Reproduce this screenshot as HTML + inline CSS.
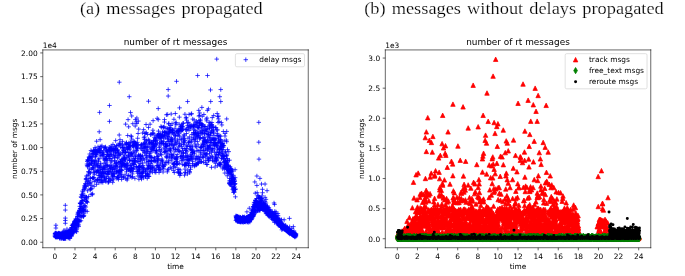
<!DOCTYPE html>
<html><head><meta charset="utf-8"><title>figure</title>
<style>html,body{margin:0;padding:0;background:#fff;}body{width:685px;height:276px;overflow:hidden;}svg{display:block}</style>
</head><body>
<svg width="685" height="276" viewBox="0 0 685 276">
<rect width="685" height="276" fill="#fff"/>
<g font-family="'Liberation Serif', serif" font-size="17" fill="#000" stroke="#fff" stroke-width="0.2" word-spacing="1.4">
<text x="79.9" y="13.6" textLength="182.8" lengthAdjust="spacingAndGlyphs">(a) messages propagated</text>
<text x="364.2" y="13.6" textLength="299.6" lengthAdjust="spacingAndGlyphs">(b) messages without delays propagated</text>
</g>
<svg x="0" y="19.1" width="342.5" height="256.9" viewBox="0 0 460.8 345.6"><defs><style type="text/css">*{stroke-linejoin: round; stroke-linecap: butt}</style></defs><g id="figure_1"><g id="patch_1"><path d="M 0 345.6  L 460.8 345.6  L 460.8 0  L 0 0  z " style="fill: #ffffff" /></g><g id="axes_1"><g id="patch_2"><path d="M 57.6 307.584  L 414.72 307.584  L 414.72 41.472  L 57.6 41.472  z " style="fill: #ffffff" /></g><g id="matplotlib.axis_1"><g id="xtick_1"><g id="line2d_1"><g><path d="M73.8 307.6v3.5" style="stroke: #000000; stroke-width: 0.8" /></g></g><g id="text_1"><text style="font-size: 10px; font-family: 'DejaVu Sans', sans-serif; text-anchor: middle" x="73.832727" y="322.182437" transform="rotate(-0 73.832727 322.182437)">0</text></g></g><g id="xtick_2"><g id="line2d_2"><g><path d="M100.9 307.6v3.5" style="stroke: #000000; stroke-width: 0.8" /></g></g><g id="text_2"><text style="font-size: 10px; font-family: 'DejaVu Sans', sans-serif; text-anchor: middle" x="100.887273" y="322.182437" transform="rotate(-0 100.887273 322.182437)">2</text></g></g><g id="xtick_3"><g id="line2d_3"><g><path d="M127.9 307.6v3.5" style="stroke: #000000; stroke-width: 0.8" /></g></g><g id="text_3"><text style="font-size: 10px; font-family: 'DejaVu Sans', sans-serif; text-anchor: middle" x="127.941818" y="322.182437" transform="rotate(-0 127.941818 322.182437)">4</text></g></g><g id="xtick_4"><g id="line2d_4"><g><path d="M155 307.6v3.5" style="stroke: #000000; stroke-width: 0.8" /></g></g><g id="text_4"><text style="font-size: 10px; font-family: 'DejaVu Sans', sans-serif; text-anchor: middle" x="154.996364" y="322.182437" transform="rotate(-0 154.996364 322.182437)">6</text></g></g><g id="xtick_5"><g id="line2d_5"><g><path d="M182.1 307.6v3.5" style="stroke: #000000; stroke-width: 0.8" /></g></g><g id="text_5"><text style="font-size: 10px; font-family: 'DejaVu Sans', sans-serif; text-anchor: middle" x="182.050909" y="322.182437" transform="rotate(-0 182.050909 322.182437)">8</text></g></g><g id="xtick_6"><g id="line2d_6"><g><path d="M209.1 307.6v3.5" style="stroke: #000000; stroke-width: 0.8" /></g></g><g id="text_6"><text style="font-size: 10px; font-family: 'DejaVu Sans', sans-serif; text-anchor: middle" x="209.105455" y="322.182437" transform="rotate(-0 209.105455 322.182437)">10</text></g></g><g id="xtick_7"><g id="line2d_7"><g><path d="M236.2 307.6v3.5" style="stroke: #000000; stroke-width: 0.8" /></g></g><g id="text_7"><text style="font-size: 10px; font-family: 'DejaVu Sans', sans-serif; text-anchor: middle" x="236.16" y="322.182437" transform="rotate(-0 236.16 322.182437)">12</text></g></g><g id="xtick_8"><g id="line2d_8"><g><path d="M263.2 307.6v3.5" style="stroke: #000000; stroke-width: 0.8" /></g></g><g id="text_8"><text style="font-size: 10px; font-family: 'DejaVu Sans', sans-serif; text-anchor: middle" x="263.214545" y="322.182437" transform="rotate(-0 263.214545 322.182437)">14</text></g></g><g id="xtick_9"><g id="line2d_9"><g><path d="M290.3 307.6v3.5" style="stroke: #000000; stroke-width: 0.8" /></g></g><g id="text_9"><text style="font-size: 10px; font-family: 'DejaVu Sans', sans-serif; text-anchor: middle" x="290.269091" y="322.182437" transform="rotate(-0 290.269091 322.182437)">16</text></g></g><g id="xtick_10"><g id="line2d_10"><g><path d="M317.3 307.6v3.5" style="stroke: #000000; stroke-width: 0.8" /></g></g><g id="text_10"><text style="font-size: 10px; font-family: 'DejaVu Sans', sans-serif; text-anchor: middle" x="317.323636" y="322.182437" transform="rotate(-0 317.323636 322.182437)">18</text></g></g><g id="xtick_11"><g id="line2d_11"><g><path d="M344.4 307.6v3.5" style="stroke: #000000; stroke-width: 0.8" /></g></g><g id="text_11"><text style="font-size: 10px; font-family: 'DejaVu Sans', sans-serif; text-anchor: middle" x="344.378182" y="322.182437" transform="rotate(-0 344.378182 322.182437)">20</text></g></g><g id="xtick_12"><g id="line2d_12"><g><path d="M371.4 307.6v3.5" style="stroke: #000000; stroke-width: 0.8" /></g></g><g id="text_12"><text style="font-size: 10px; font-family: 'DejaVu Sans', sans-serif; text-anchor: middle" x="371.432727" y="322.182437" transform="rotate(-0 371.432727 322.182437)">22</text></g></g><g id="xtick_13"><g id="line2d_13"><g><path d="M398.5 307.6v3.5" style="stroke: #000000; stroke-width: 0.8" /></g></g><g id="text_13"><text style="font-size: 10px; font-family: 'DejaVu Sans', sans-serif; text-anchor: middle" x="398.487273" y="322.182437" transform="rotate(-0 398.487273 322.182437)">24</text></g></g><g id="text_14"><text style="font-size: 10px; font-family: 'DejaVu Sans', sans-serif; text-anchor: middle" x="236.16" y="335.860562" transform="rotate(-0 236.16 335.860562)">time</text></g></g><g id="matplotlib.axis_2"><g id="ytick_1"><g id="line2d_14"><g><path d="M57.6 300.2h-3.5" style="stroke: #000000; stroke-width: 0.8" /></g></g><g id="text_15"><text style="font-size: 10px; font-family: 'DejaVu Sans', sans-serif; text-anchor: end" x="50.6" y="303.998292" transform="rotate(-0 50.6 303.998292)">0.00</text></g></g><g id="ytick_2"><g id="line2d_15"><g><path d="M57.6 268.4h-3.5" style="stroke: #000000; stroke-width: 0.8" /></g></g><g id="text_16"><text style="font-size: 10px; font-family: 'DejaVu Sans', sans-serif; text-anchor: end" x="50.6" y="272.166713" transform="rotate(-0 50.6 272.166713)">0.25</text></g></g><g id="ytick_3"><g id="line2d_16"><g><path d="M57.6 236.5h-3.5" style="stroke: #000000; stroke-width: 0.8" /></g></g><g id="text_17"><text style="font-size: 10px; font-family: 'DejaVu Sans', sans-serif; text-anchor: end" x="50.6" y="240.335135" transform="rotate(-0 50.6 240.335135)">0.50</text></g></g><g id="ytick_4"><g id="line2d_17"><g><path d="M57.6 204.7h-3.5" style="stroke: #000000; stroke-width: 0.8" /></g></g><g id="text_18"><text style="font-size: 10px; font-family: 'DejaVu Sans', sans-serif; text-anchor: end" x="50.6" y="208.503556" transform="rotate(-0 50.6 208.503556)">0.75</text></g></g><g id="ytick_5"><g id="line2d_18"><g><path d="M57.6 172.9h-3.5" style="stroke: #000000; stroke-width: 0.8" /></g></g><g id="text_19"><text style="font-size: 10px; font-family: 'DejaVu Sans', sans-serif; text-anchor: end" x="50.6" y="176.671977" transform="rotate(-0 50.6 176.671977)">1.00</text></g></g><g id="ytick_6"><g id="line2d_19"><g><path d="M57.6 141h-3.5" style="stroke: #000000; stroke-width: 0.8" /></g></g><g id="text_20"><text style="font-size: 10px; font-family: 'DejaVu Sans', sans-serif; text-anchor: end" x="50.6" y="144.840398" transform="rotate(-0 50.6 144.840398)">1.25</text></g></g><g id="ytick_7"><g id="line2d_20"><g><path d="M57.6 109.2h-3.5" style="stroke: #000000; stroke-width: 0.8" /></g></g><g id="text_21"><text style="font-size: 10px; font-family: 'DejaVu Sans', sans-serif; text-anchor: end" x="50.6" y="113.008819" transform="rotate(-0 50.6 113.008819)">1.50</text></g></g><g id="ytick_8"><g id="line2d_21"><g><path d="M57.6 77.4h-3.5" style="stroke: #000000; stroke-width: 0.8" /></g></g><g id="text_22"><text style="font-size: 10px; font-family: 'DejaVu Sans', sans-serif; text-anchor: end" x="50.6" y="81.17724" transform="rotate(-0 50.6 81.17724)">1.75</text></g></g><g id="ytick_9"><g id="line2d_22"><g><path d="M57.6 45.5h-3.5" style="stroke: #000000; stroke-width: 0.8" /></g></g><g id="text_23"><text style="font-size: 10px; font-family: 'DejaVu Sans', sans-serif; text-anchor: end" x="50.6" y="49.345661" transform="rotate(-0 50.6 49.345661)">2.00</text></g></g><g id="text_24"><text style="font-size: 10px; font-family: 'DejaVu Sans', sans-serif; text-anchor: middle" x="22.254688" y="174.528" transform="rotate(-90 22.254688 174.528)">number of msgs</text></g><g id="text_25"><text style="font-size: 10px; font-family: 'DejaVu Sans', sans-serif; text-anchor: start" x="57.6" y="38.472" transform="rotate(-0 57.6 38.472)">1e4</text></g></g><g id="line2d_23"><g clip-path="url(#p02d3b5d28d)"><path d="M70.8 291.8h6m-3 3v-6M71 288.8h6m-3 3v-6M71.1 289.3h6m-3 3v-6M71.2 292.1h6m-3 3v-6M71.3 287.9h6m-3 3v-6M71.5 288.5h6m-3 3v-6M71.6 293.2h6m-3 3v-6M71.7 288.8h6m-3 3v-6M71.8 293.1h6m-3 3v-6M72 292.8h6m-3 3v-6M72.1 288h6m-3 3v-6M72.2 290.7h6m-3 3v-6M72.3 291h6m-3 3v-6M72.5 290.5h6m-3 3v-6M72.6 290.4h6m-3 3v-6M72.7 288.8h6m-3 3v-6M72.8 290.9h6m-3 3v-6M73 292.4h6m-3 3v-6M73.1 288.2h6m-3 3v-6M73.2 292h6m-3 3v-6M73.3 293.3h6m-3 3v-6M73.5 293.3h6m-3 3v-6M73.6 292.3h6m-3 3v-6M73.7 290.1h6m-3 3v-6M73.8 292.4h6m-3 3v-6M74 290.9h6m-3 3v-6M74.1 291.6h6m-3 3v-6M74.2 289.2h6m-3 3v-6M74.3 292.3h6m-3 3v-6M74.5 289.7h6m-3 3v-6M74.6 289.8h6m-3 3v-6M74.7 289.3h6m-3 3v-6M74.8 293.4h6m-3 3v-6M75 292.1h6m-3 3v-6M75.1 288.9h6m-3 3v-6M75.2 290h6m-3 3v-6M75.3 288.2h6m-3 3v-6M75.5 288.4h6m-3 3v-6M75.6 289.1h6m-3 3v-6M75.7 292.9h6m-3 3v-6M75.8 290.2h6m-3 3v-6M76 289.8h6m-3 3v-6M76.1 287.8h6m-3 3v-6M76.2 292.8h6m-3 3v-6M76.3 289h6m-3 3v-6M76.5 289h6m-3 3v-6M76.6 289.6h6m-3 3v-6M76.7 291.5h6m-3 3v-6M76.8 288.8h6m-3 3v-6M77 294.9h6m-3 3v-6M77.1 293.6h6m-3 3v-6M77.2 289.3h6m-3 3v-6M77.3 288.2h6m-3 3v-6M77.5 289.1h6m-3 3v-6M77.6 289.5h6m-3 3v-6M77.7 292.1h6m-3 3v-6M77.8 291.5h6m-3 3v-6M78 292h6m-3 3v-6M78.1 293.4h6m-3 3v-6M78.2 291.3h6m-3 3v-6M78.3 289.1h6m-3 3v-6M78.5 292.9h6m-3 3v-6M78.6 290.2h6m-3 3v-6M78.7 294.9h6m-3 3v-6M78.8 290.1h6m-3 3v-6M79 288.8h6m-3 3v-6M79.1 290.6h6m-3 3v-6M79.2 289.1h6m-3 3v-6M79.3 290.8h6m-3 3v-6M79.5 288.4h6m-3 3v-6M79.6 295.2h6m-3 3v-6M79.7 293.8h6m-3 3v-6M79.9 289h6m-3 3v-6M80 292.4h6m-3 3v-6M80.1 291.9h6m-3 3v-6M80.2 289.9h6m-3 3v-6M80.4 289.3h6m-3 3v-6M80.5 291.5h6m-3 3v-6M80.6 294.6h6m-3 3v-6M80.7 289.6h6m-3 3v-6M80.9 288.8h6m-3 3v-6M81 291.6h6m-3 3v-6M81.1 287.8h6m-3 3v-6M81.2 292.6h6m-3 3v-6M81.4 294.6h6m-3 3v-6M81.5 289.4h6m-3 3v-6M81.6 293.7h6m-3 3v-6M81.7 289.3h6m-3 3v-6M81.9 291.3h6m-3 3v-6M82 292.8h6m-3 3v-6M82.1 288.9h6m-3 3v-6M82.2 295.4h6m-3 3v-6M82.4 294.5h6m-3 3v-6M82.5 294.6h6m-3 3v-6M82.6 291.5h6m-3 3v-6M82.7 295.2h6m-3 3v-6M82.9 289.8h6m-3 3v-6M83 285.8h6m-3 3v-6M83.1 284.1h6m-3 3v-6M83.2 290.4h6m-3 3v-6M83.4 287.6h6m-3 3v-6M83.5 294.9h6m-3 3v-6M83.6 293.3h6m-3 3v-6M83.7 295.1h6m-3 3v-6M83.9 291.7h6m-3 3v-6M84 290h6m-3 3v-6M84.1 292.8h6m-3 3v-6M84.2 295.1h6m-3 3v-6M84.4 289.4h6m-3 3v-6M84.5 289.8h6m-3 3v-6M84.6 290.7h6m-3 3v-6M84.7 287.9h6m-3 3v-6M84.9 293.1h6m-3 3v-6M85 294.9h6m-3 3v-6M85.1 286.5h6m-3 3v-6M85.2 292.3h6m-3 3v-6M85.4 292.1h6m-3 3v-6M85.5 295.3h6m-3 3v-6M85.6 290.9h6m-3 3v-6M85.7 292.6h6m-3 3v-6M85.9 287.8h6m-3 3v-6M86 286.7h6m-3 3v-6M86.1 287.1h6m-3 3v-6M86.2 287.4h6m-3 3v-6M86.4 289.7h6m-3 3v-6M86.5 290.7h6m-3 3v-6M86.6 289h6m-3 3v-6M86.7 291.1h6m-3 3v-6M86.9 287.4h6m-3 3v-6M87 290.8h6m-3 3v-6M87.1 282.5h6m-3 3v-6M87.2 286.6h6m-3 3v-6M87.4 291h6m-3 3v-6M87.5 288.5h6m-3 3v-6M87.6 289.9h6m-3 3v-6M87.7 289.9h6m-3 3v-6M87.9 286.6h6m-3 3v-6M88 286.9h6m-3 3v-6M88.1 290.1h6m-3 3v-6M88.2 291h6m-3 3v-6M88.4 292.3h6m-3 3v-6M88.5 292.9h6m-3 3v-6M88.6 288.7h6m-3 3v-6M88.7 294.6h6m-3 3v-6M88.9 289.7h6m-3 3v-6M89 286.3h6m-3 3v-6M89.1 288.7h6m-3 3v-6M89.2 286.9h6m-3 3v-6M89.4 293.7h6m-3 3v-6M89.5 292.4h6m-3 3v-6M89.6 286h6m-3 3v-6M89.7 291.2h6m-3 3v-6M89.9 284.8h6m-3 3v-6M90 285.3h6m-3 3v-6M90.1 288.7h6m-3 3v-6M90.2 292.7h6m-3 3v-6M90.4 288h6m-3 3v-6M90.5 284.8h6m-3 3v-6M90.6 290.5h6m-3 3v-6M90.7 289.8h6m-3 3v-6M90.9 294.8h6m-3 3v-6M91 295.1h6m-3 3v-6M91.1 289.3h6m-3 3v-6M91.2 288.9h6m-3 3v-6M91.4 289.7h6m-3 3v-6M91.5 291.2h6m-3 3v-6M91.6 290.7h6m-3 3v-6M91.7 289.9h6m-3 3v-6M91.9 283.2h6m-3 3v-6M92 289h6m-3 3v-6M92.1 289h6m-3 3v-6M92.3 285.2h6m-3 3v-6M92.4 290.7h6m-3 3v-6M92.5 289.6h6m-3 3v-6M92.6 285.6h6m-3 3v-6M92.8 288.6h6m-3 3v-6M92.9 282.2h6m-3 3v-6M93 288.3h6m-3 3v-6M93.1 291.5h6m-3 3v-6M93.3 280.5h6m-3 3v-6M93.4 280.9h6m-3 3v-6M93.5 291.8h6m-3 3v-6M93.6 290.3h6m-3 3v-6M93.8 280.3h6m-3 3v-6M93.9 277.7h6m-3 3v-6M94 287.6h6m-3 3v-6M94.1 284.4h6m-3 3v-6M94.3 286.7h6m-3 3v-6M94.4 284.4h6m-3 3v-6M94.5 289.1h6m-3 3v-6M94.6 288h6m-3 3v-6M94.8 280.8h6m-3 3v-6M94.9 276.9h6m-3 3v-6M95 275.8h6m-3 3v-6M95.1 277.6h6m-3 3v-6M95.3 285.3h6m-3 3v-6M95.4 286.9h6m-3 3v-6M95.5 276.8h6m-3 3v-6M95.6 286.8h6m-3 3v-6M95.8 278h6m-3 3v-6M95.9 285.7h6m-3 3v-6M96 276.8h6m-3 3v-6M96.1 283.7h6m-3 3v-6M96.3 277.4h6m-3 3v-6M96.4 276h6m-3 3v-6M96.5 286.2h6m-3 3v-6M96.6 275.9h6m-3 3v-6M96.8 274.3h6m-3 3v-6M96.9 274.7h6m-3 3v-6M97 280.3h6m-3 3v-6M97.1 272.5h6m-3 3v-6M97.3 280.2h6m-3 3v-6M97.4 273.2h6m-3 3v-6M97.5 271.9h6m-3 3v-6M97.6 277.9h6m-3 3v-6M97.8 271.9h6m-3 3v-6M97.9 282h6m-3 3v-6M98 278.4h6m-3 3v-6M98.1 275.4h6m-3 3v-6M98.3 283.2h6m-3 3v-6M98.4 274.6h6m-3 3v-6M98.5 270.9h6m-3 3v-6M98.6 273.4h6m-3 3v-6M98.8 269h6m-3 3v-6M98.9 285.3h6m-3 3v-6M99 281.4h6m-3 3v-6M99.1 271.4h6m-3 3v-6M99.3 269h6m-3 3v-6M99.4 280h6m-3 3v-6M99.5 285.1h6m-3 3v-6M99.6 271.3h6m-3 3v-6M99.8 274.3h6m-3 3v-6M99.9 272h6m-3 3v-6M100 274.9h6m-3 3v-6M100.1 286.1h6m-3 3v-6M100.3 282.7h6m-3 3v-6M100.4 270.4h6m-3 3v-6M100.5 269.5h6m-3 3v-6M100.6 275.6h6m-3 3v-6M100.8 278.5h6m-3 3v-6M100.9 271.5h6m-3 3v-6M101 275.6h6m-3 3v-6M101.1 270.9h6m-3 3v-6M101.3 265.6h6m-3 3v-6M101.4 265.1h6m-3 3v-6M101.5 262.5h6m-3 3v-6M101.6 271.1h6m-3 3v-6M101.8 265.8h6m-3 3v-6M101.9 259.8h6m-3 3v-6M102 262.1h6m-3 3v-6M102.1 271.9h6m-3 3v-6M102.3 277.6h6m-3 3v-6M102.4 269.8h6m-3 3v-6M102.5 276.2h6m-3 3v-6M102.6 260.9h6m-3 3v-6M102.8 270.7h6m-3 3v-6M102.9 279.1h6m-3 3v-6M103 271.9h6m-3 3v-6M103.1 264.1h6m-3 3v-6M103.3 260.5h6m-3 3v-6M103.4 272.3h6m-3 3v-6M103.5 258.6h6m-3 3v-6M103.6 259.6h6m-3 3v-6M103.8 262h6m-3 3v-6M103.9 257.4h6m-3 3v-6M104 257h6m-3 3v-6M104.1 270.7h6m-3 3v-6M104.3 251.9h6m-3 3v-6M104.4 271.9h6m-3 3v-6M104.5 265h6m-3 3v-6M104.7 247.5h6m-3 3v-6M104.8 254.8h6m-3 3v-6M104.9 248.2h6m-3 3v-6M105 248h6m-3 3v-6M105.2 257.8h6m-3 3v-6M105.3 254.7h6m-3 3v-6M105.4 255.3h6m-3 3v-6M105.5 264.9h6m-3 3v-6M105.7 254.6h6m-3 3v-6M105.8 247.8h6m-3 3v-6M105.9 271.3h6m-3 3v-6M106 239.1h6m-3 3v-6M106.2 252h6m-3 3v-6M106.3 266.4h6m-3 3v-6M106.4 239.9h6m-3 3v-6M106.5 248h6m-3 3v-6M106.7 259.3h6m-3 3v-6M106.8 246.3h6m-3 3v-6M106.9 235.9h6m-3 3v-6M107 264.5h6m-3 3v-6M107.2 244h6m-3 3v-6M107.3 253.8h6m-3 3v-6M107.4 237.9h6m-3 3v-6M107.5 259.8h6m-3 3v-6M107.7 244.2h6m-3 3v-6M107.8 257.7h6m-3 3v-6M107.9 255.3h6m-3 3v-6M108 231.3h6m-3 3v-6M108.2 237.1h6m-3 3v-6M108.3 244.3h6m-3 3v-6M108.4 235h6m-3 3v-6M108.5 232.5h6m-3 3v-6M108.7 264.9h6m-3 3v-6M108.8 248.6h6m-3 3v-6M108.9 252.6h6m-3 3v-6M109 265.6h6m-3 3v-6M109.2 256.6h6m-3 3v-6M109.3 256.2h6m-3 3v-6M109.4 265.5h6m-3 3v-6M109.5 258h6m-3 3v-6M109.7 229.2h6m-3 3v-6M109.8 239.6h6m-3 3v-6M109.9 261.9h6m-3 3v-6M110 264.3h6m-3 3v-6M110.2 258.3h6m-3 3v-6M110.3 255.5h6m-3 3v-6M110.4 242.9h6m-3 3v-6M110.5 228.4h6m-3 3v-6M110.7 224.4h6m-3 3v-6M110.8 226.1h6m-3 3v-6M110.9 251.4h6m-3 3v-6M111 226.4h6m-3 3v-6M111.2 228.4h6m-3 3v-6M111.3 237.6h6m-3 3v-6M111.4 224.1h6m-3 3v-6M111.5 251h6m-3 3v-6M111.7 240.1h6m-3 3v-6M111.8 221.5h6m-3 3v-6M111.9 221.9h6m-3 3v-6M112 225h6m-3 3v-6M112.2 225.2h6m-3 3v-6M112.3 258.1h6m-3 3v-6M112.4 245.1h6m-3 3v-6M112.5 252.8h6m-3 3v-6M112.7 216h6m-3 3v-6M112.8 214.3h6m-3 3v-6M112.9 215.1h6m-3 3v-6M113 241.3h6m-3 3v-6M113.2 211.1h6m-3 3v-6M113.3 239.9h6m-3 3v-6M113.4 239.4h6m-3 3v-6M113.5 243.2h6m-3 3v-6M113.7 245.7h6m-3 3v-6M113.8 245.6h6m-3 3v-6M113.9 218.8h6m-3 3v-6M114 195h6m-3 3v-6M114.2 197h6m-3 3v-6M114.3 258.7h6m-3 3v-6M114.4 191.5h6m-3 3v-6M114.5 221.8h6m-3 3v-6M114.7 246.4h6m-3 3v-6M114.8 198.5h6m-3 3v-6M114.9 230.9h6m-3 3v-6M115 189.2h6m-3 3v-6M115.2 219h6m-3 3v-6M115.3 210.5h6m-3 3v-6M115.4 189.9h6m-3 3v-6M115.5 190h6m-3 3v-6M115.7 190.5h6m-3 3v-6M115.8 223.6h6m-3 3v-6M115.9 196.7h6m-3 3v-6M116 205.1h6m-3 3v-6M116.2 217h6m-3 3v-6M116.3 238.7h6m-3 3v-6M116.4 208.6h6m-3 3v-6M116.5 206.1h6m-3 3v-6M116.7 196.1h6m-3 3v-6M116.8 185.9h6m-3 3v-6M116.9 185.4h6m-3 3v-6M117.1 187h6m-3 3v-6M117.2 201.5h6m-3 3v-6M117.3 194.8h6m-3 3v-6M117.4 195.2h6m-3 3v-6M117.6 220.6h6m-3 3v-6M117.7 181.5h6m-3 3v-6M117.8 206h6m-3 3v-6M117.9 186.9h6m-3 3v-6M118.1 214.1h6m-3 3v-6M118.2 195.3h6m-3 3v-6M118.3 229.4h6m-3 3v-6M118.4 221.7h6m-3 3v-6M118.6 214.1h6m-3 3v-6M118.7 207.3h6m-3 3v-6M118.8 228.9h6m-3 3v-6M118.9 184.6h6m-3 3v-6M119.1 227.7h6m-3 3v-6M119.2 186.8h6m-3 3v-6M119.3 219.5h6m-3 3v-6M119.4 176.8h6m-3 3v-6M119.6 191.1h6m-3 3v-6M119.7 235.6h6m-3 3v-6M119.8 202.3h6m-3 3v-6M119.9 194.7h6m-3 3v-6M120.1 184.9h6m-3 3v-6M120.2 190.3h6m-3 3v-6M120.3 194.1h6m-3 3v-6M120.4 228.3h6m-3 3v-6M120.6 224.1h6m-3 3v-6M120.7 192.5h6m-3 3v-6M120.8 178h6m-3 3v-6M120.9 189.5h6m-3 3v-6M121.1 236.2h6m-3 3v-6M121.2 214h6m-3 3v-6M121.3 199.9h6m-3 3v-6M121.4 180.8h6m-3 3v-6M121.6 235h6m-3 3v-6M121.7 185.7h6m-3 3v-6M121.8 200.6h6m-3 3v-6M121.9 213.6h6m-3 3v-6M122.1 213.6h6m-3 3v-6M122.2 191.3h6m-3 3v-6M122.3 181.4h6m-3 3v-6M122.4 196.9h6m-3 3v-6M122.6 181.5h6m-3 3v-6M122.7 206.2h6m-3 3v-6M122.8 176.4h6m-3 3v-6M122.9 213.8h6m-3 3v-6M123.1 199.2h6m-3 3v-6M123.2 201.9h6m-3 3v-6M123.3 213.3h6m-3 3v-6M123.4 178.3h6m-3 3v-6M123.6 225h6m-3 3v-6M123.7 177.4h6m-3 3v-6M123.8 176.9h6m-3 3v-6M123.9 218.4h6m-3 3v-6M124.1 192h6m-3 3v-6M124.2 193.8h6m-3 3v-6M124.3 205.7h6m-3 3v-6M124.4 208.8h6m-3 3v-6M124.6 195.8h6m-3 3v-6M124.7 178.9h6m-3 3v-6M124.8 190.1h6m-3 3v-6M124.9 172.8h6m-3 3v-6M125.1 182.3h6m-3 3v-6M125.2 178.3h6m-3 3v-6M125.3 185.5h6m-3 3v-6M125.4 175.6h6m-3 3v-6M125.6 179.3h6m-3 3v-6M125.7 184.5h6m-3 3v-6M125.8 190.8h6m-3 3v-6M125.9 198.6h6m-3 3v-6M126.1 217.4h6m-3 3v-6M126.2 204.6h6m-3 3v-6M126.3 182.6h6m-3 3v-6M126.4 178.9h6m-3 3v-6M126.6 177h6m-3 3v-6M126.7 182.5h6m-3 3v-6M126.8 205.7h6m-3 3v-6M126.9 222.2h6m-3 3v-6M127.1 193.7h6m-3 3v-6M127.2 179.9h6m-3 3v-6M127.3 177.5h6m-3 3v-6M127.4 177.3h6m-3 3v-6M127.6 205h6m-3 3v-6M127.7 215.8h6m-3 3v-6M127.8 195h6m-3 3v-6M127.9 196.8h6m-3 3v-6M128.1 179.2h6m-3 3v-6M128.2 204h6m-3 3v-6M128.3 216h6m-3 3v-6M128.4 216.8h6m-3 3v-6M128.6 204.2h6m-3 3v-6M128.7 178.9h6m-3 3v-6M128.8 197.1h6m-3 3v-6M128.9 171.9h6m-3 3v-6M129.1 198.8h6m-3 3v-6M129.2 206h6m-3 3v-6M129.3 210.3h6m-3 3v-6M129.5 189.3h6m-3 3v-6M129.6 191.3h6m-3 3v-6M129.7 176.5h6m-3 3v-6M129.8 203.4h6m-3 3v-6M130 215.5h6m-3 3v-6M130.1 220.1h6m-3 3v-6M130.2 179h6m-3 3v-6M130.3 187.4h6m-3 3v-6M130.5 175.4h6m-3 3v-6M130.6 173.8h6m-3 3v-6M130.7 179.1h6m-3 3v-6M130.8 206.9h6m-3 3v-6M131 199h6m-3 3v-6M131.1 210.8h6m-3 3v-6M131.2 174.7h6m-3 3v-6M131.3 199.5h6m-3 3v-6M131.5 213.3h6m-3 3v-6M131.6 215.9h6m-3 3v-6M131.7 179.5h6m-3 3v-6M131.8 171.7h6m-3 3v-6M132 210h6m-3 3v-6M132.1 196.3h6m-3 3v-6M132.2 202.6h6m-3 3v-6M132.3 206.8h6m-3 3v-6M132.5 194h6m-3 3v-6M132.6 177.5h6m-3 3v-6M132.7 183.1h6m-3 3v-6M132.8 184.1h6m-3 3v-6M133 219.5h6m-3 3v-6M133.1 171.8h6m-3 3v-6M133.2 176.7h6m-3 3v-6M133.3 217.6h6m-3 3v-6M133.5 212.6h6m-3 3v-6M133.6 207.7h6m-3 3v-6M133.7 211.5h6m-3 3v-6M133.8 211.1h6m-3 3v-6M134 217.9h6m-3 3v-6M134.1 198.9h6m-3 3v-6M134.2 170.5h6m-3 3v-6M134.3 201.8h6m-3 3v-6M134.5 205.9h6m-3 3v-6M134.6 210.1h6m-3 3v-6M134.7 202.2h6m-3 3v-6M134.8 183.4h6m-3 3v-6M135 180.8h6m-3 3v-6M135.1 205.3h6m-3 3v-6M135.2 179.6h6m-3 3v-6M135.3 219.7h6m-3 3v-6M135.5 217.5h6m-3 3v-6M135.6 207.2h6m-3 3v-6M135.7 212.3h6m-3 3v-6M135.8 208.1h6m-3 3v-6M136 182.3h6m-3 3v-6M136.1 187.9h6m-3 3v-6M136.2 182.1h6m-3 3v-6M136.3 198.6h6m-3 3v-6M136.5 177.6h6m-3 3v-6M136.6 201.5h6m-3 3v-6M136.7 173.1h6m-3 3v-6M136.8 207.8h6m-3 3v-6M137 194h6m-3 3v-6M137.1 201.4h6m-3 3v-6M137.2 206.1h6m-3 3v-6M137.3 212.8h6m-3 3v-6M137.5 199.4h6m-3 3v-6M137.6 213.7h6m-3 3v-6M137.7 189.5h6m-3 3v-6M137.8 215.8h6m-3 3v-6M138 173.4h6m-3 3v-6M138.1 185.7h6m-3 3v-6M138.2 172.4h6m-3 3v-6M138.3 200h6m-3 3v-6M138.5 189.4h6m-3 3v-6M138.6 208h6m-3 3v-6M138.7 217.5h6m-3 3v-6M138.8 187.7h6m-3 3v-6M139 172h6m-3 3v-6M139.1 205.5h6m-3 3v-6M139.2 218.3h6m-3 3v-6M139.3 196.4h6m-3 3v-6M139.5 193.3h6m-3 3v-6M139.6 188h6m-3 3v-6M139.7 174.7h6m-3 3v-6M139.8 214.4h6m-3 3v-6M140 176.3h6m-3 3v-6M140.1 196.8h6m-3 3v-6M140.2 188.2h6m-3 3v-6M140.3 184.9h6m-3 3v-6M140.5 190.1h6m-3 3v-6M140.6 211.9h6m-3 3v-6M140.7 202.5h6m-3 3v-6M140.8 177h6m-3 3v-6M141 207.5h6m-3 3v-6M141.1 178h6m-3 3v-6M141.2 179.9h6m-3 3v-6M141.3 182.1h6m-3 3v-6M141.5 189.6h6m-3 3v-6M141.6 198h6m-3 3v-6M141.7 205h6m-3 3v-6M141.9 196.4h6m-3 3v-6M142 178.8h6m-3 3v-6M142.1 208.5h6m-3 3v-6M142.2 183.1h6m-3 3v-6M142.4 209h6m-3 3v-6M142.5 184.2h6m-3 3v-6M142.6 220.1h6m-3 3v-6M142.7 184.5h6m-3 3v-6M142.9 214.7h6m-3 3v-6M143 218.8h6m-3 3v-6M143.1 204.8h6m-3 3v-6M143.2 207.1h6m-3 3v-6M143.4 176h6m-3 3v-6M143.5 218.2h6m-3 3v-6M143.6 175h6m-3 3v-6M143.7 198.2h6m-3 3v-6M143.9 172.4h6m-3 3v-6M144 205.8h6m-3 3v-6M144.1 181.5h6m-3 3v-6M144.2 201.1h6m-3 3v-6M144.4 176.6h6m-3 3v-6M144.5 187.9h6m-3 3v-6M144.6 184.5h6m-3 3v-6M144.7 213.8h6m-3 3v-6M144.9 216.3h6m-3 3v-6M145 174.8h6m-3 3v-6M145.1 187.6h6m-3 3v-6M145.2 197h6m-3 3v-6M145.4 204.6h6m-3 3v-6M145.5 173.5h6m-3 3v-6M145.6 182h6m-3 3v-6M145.7 201.1h6m-3 3v-6M145.9 178.2h6m-3 3v-6M146 192.2h6m-3 3v-6M146.1 217.2h6m-3 3v-6M146.2 176.4h6m-3 3v-6M146.4 199.7h6m-3 3v-6M146.5 173.5h6m-3 3v-6M146.6 170.7h6m-3 3v-6M146.7 174h6m-3 3v-6M146.9 190.5h6m-3 3v-6M147 182.5h6m-3 3v-6M147.1 208.3h6m-3 3v-6M147.2 176.3h6m-3 3v-6M147.4 199h6m-3 3v-6M147.5 196.3h6m-3 3v-6M147.6 205.6h6m-3 3v-6M147.7 175.9h6m-3 3v-6M147.9 215.2h6m-3 3v-6M148 187.3h6m-3 3v-6M148.1 208.6h6m-3 3v-6M148.2 212.1h6m-3 3v-6M148.4 202.3h6m-3 3v-6M148.5 210.5h6m-3 3v-6M148.6 219.6h6m-3 3v-6M148.7 202.8h6m-3 3v-6M148.9 175.1h6m-3 3v-6M149 168.6h6m-3 3v-6M149.1 174.5h6m-3 3v-6M149.2 183.3h6m-3 3v-6M149.4 174.8h6m-3 3v-6M149.5 211.5h6m-3 3v-6M149.6 216.2h6m-3 3v-6M149.7 179.9h6m-3 3v-6M149.9 176h6m-3 3v-6M150 198.7h6m-3 3v-6M150.1 208.6h6m-3 3v-6M150.2 207.4h6m-3 3v-6M150.4 176.1h6m-3 3v-6M150.5 199.4h6m-3 3v-6M150.6 207.4h6m-3 3v-6M150.7 202.6h6m-3 3v-6M150.9 191.9h6m-3 3v-6M151 171.3h6m-3 3v-6M151.1 185h6m-3 3v-6M151.2 211.7h6m-3 3v-6M151.4 190.1h6m-3 3v-6M151.5 186.2h6m-3 3v-6M151.6 176.4h6m-3 3v-6M151.7 176.5h6m-3 3v-6M151.9 194.7h6m-3 3v-6M152 183.3h6m-3 3v-6M152.1 175.4h6m-3 3v-6M152.2 201h6m-3 3v-6M152.4 178.9h6m-3 3v-6M152.5 174.2h6m-3 3v-6M152.6 163.5h6m-3 3v-6M152.7 174.6h6m-3 3v-6M152.9 173.6h6m-3 3v-6M153 181.3h6m-3 3v-6M153.1 197.1h6m-3 3v-6M153.2 194.4h6m-3 3v-6M153.4 198.4h6m-3 3v-6M153.5 204.5h6m-3 3v-6M153.6 192.8h6m-3 3v-6M153.7 170.4h6m-3 3v-6M153.9 205.4h6m-3 3v-6M154 206h6m-3 3v-6M154.1 196.4h6m-3 3v-6M154.3 214.5h6m-3 3v-6M154.4 179.7h6m-3 3v-6M154.5 177h6m-3 3v-6M154.6 170.2h6m-3 3v-6M154.8 212.5h6m-3 3v-6M154.9 198.8h6m-3 3v-6M155 212.8h6m-3 3v-6M155.1 176.1h6m-3 3v-6M155.3 204.7h6m-3 3v-6M155.4 187.1h6m-3 3v-6M155.5 185.7h6m-3 3v-6M155.6 176.2h6m-3 3v-6M155.8 192.5h6m-3 3v-6M155.9 205h6m-3 3v-6M156 180.1h6m-3 3v-6M156.1 212.8h6m-3 3v-6M156.3 208.3h6m-3 3v-6M156.4 215.5h6m-3 3v-6M156.5 178.5h6m-3 3v-6M156.6 169.5h6m-3 3v-6M156.8 183.5h6m-3 3v-6M156.9 204.2h6m-3 3v-6M157 212.9h6m-3 3v-6M157.1 193.4h6m-3 3v-6M157.3 210h6m-3 3v-6M157.4 155.9h6m-3 3v-6M157.5 182.4h6m-3 3v-6M157.6 166.9h6m-3 3v-6M157.8 169.1h6m-3 3v-6M157.9 200h6m-3 3v-6M158 205.3h6m-3 3v-6M158.1 204.7h6m-3 3v-6M158.3 195.2h6m-3 3v-6M158.4 162.2h6m-3 3v-6M158.5 203.4h6m-3 3v-6M158.6 181h6m-3 3v-6M158.8 205.8h6m-3 3v-6M158.9 191.9h6m-3 3v-6M159 191.5h6m-3 3v-6M159.1 192h6m-3 3v-6M159.3 172.2h6m-3 3v-6M159.4 167.6h6m-3 3v-6M159.5 182.3h6m-3 3v-6M159.6 198.6h6m-3 3v-6M159.8 209.6h6m-3 3v-6M159.9 202.9h6m-3 3v-6M160 208.4h6m-3 3v-6M160.1 189.2h6m-3 3v-6M160.3 197.8h6m-3 3v-6M160.4 202.5h6m-3 3v-6M160.5 194.7h6m-3 3v-6M160.6 215.6h6m-3 3v-6M160.8 197.3h6m-3 3v-6M160.9 189.5h6m-3 3v-6M161 211.7h6m-3 3v-6M161.1 203.7h6m-3 3v-6M161.3 173.2h6m-3 3v-6M161.4 168.5h6m-3 3v-6M161.5 193.1h6m-3 3v-6M161.6 195.4h6m-3 3v-6M161.8 178.9h6m-3 3v-6M161.9 164.5h6m-3 3v-6M162 172.7h6m-3 3v-6M162.1 190.2h6m-3 3v-6M162.3 194.5h6m-3 3v-6M162.4 187.5h6m-3 3v-6M162.5 197.4h6m-3 3v-6M162.6 170.4h6m-3 3v-6M162.8 179.7h6m-3 3v-6M162.9 195.7h6m-3 3v-6M163 213.2h6m-3 3v-6M163.1 176.1h6m-3 3v-6M163.3 185.6h6m-3 3v-6M163.4 194.4h6m-3 3v-6M163.5 177h6m-3 3v-6M163.6 176.8h6m-3 3v-6M163.8 212.3h6m-3 3v-6M163.9 173.1h6m-3 3v-6M164 191.8h6m-3 3v-6M164.1 187.9h6m-3 3v-6M164.3 188.7h6m-3 3v-6M164.4 186.5h6m-3 3v-6M164.5 196.1h6m-3 3v-6M164.6 195.8h6m-3 3v-6M164.8 183.2h6m-3 3v-6M164.9 200h6m-3 3v-6M165 179.6h6m-3 3v-6M165.1 174.5h6m-3 3v-6M165.3 209.5h6m-3 3v-6M165.4 196.6h6m-3 3v-6M165.5 188.1h6m-3 3v-6M165.6 197.4h6m-3 3v-6M165.8 189.7h6m-3 3v-6M165.9 179.4h6m-3 3v-6M166 141.3h6m-3 3v-6M166.1 179h6m-3 3v-6M166.3 178.6h6m-3 3v-6M166.4 214.9h6m-3 3v-6M166.5 168.7h6m-3 3v-6M166.7 167.5h6m-3 3v-6M166.8 166.6h6m-3 3v-6M166.9 194.5h6m-3 3v-6M167 198.1h6m-3 3v-6M167.2 205.4h6m-3 3v-6M167.3 166.3h6m-3 3v-6M167.4 185.7h6m-3 3v-6M167.5 172.6h6m-3 3v-6M167.7 202.6h6m-3 3v-6M167.8 201.5h6m-3 3v-6M167.9 197.3h6m-3 3v-6M168 216.4h6m-3 3v-6M168.2 168.8h6m-3 3v-6M168.3 174.4h6m-3 3v-6M168.4 175.4h6m-3 3v-6M168.5 214.2h6m-3 3v-6M168.7 193.7h6m-3 3v-6M168.8 156.6h6m-3 3v-6M168.9 200.2h6m-3 3v-6M169 196.2h6m-3 3v-6M169.2 186.7h6m-3 3v-6M169.3 135.2h6m-3 3v-6M169.4 210.2h6m-3 3v-6M169.5 179.5h6m-3 3v-6M169.7 183.2h6m-3 3v-6M169.8 171.7h6m-3 3v-6M169.9 202.8h6m-3 3v-6M170 172.4h6m-3 3v-6M170.2 183h6m-3 3v-6M170.3 169.3h6m-3 3v-6M170.4 210.4h6m-3 3v-6M170.5 166.5h6m-3 3v-6M170.7 175.1h6m-3 3v-6M170.8 185.1h6m-3 3v-6M170.9 167.9h6m-3 3v-6M171 172.2h6m-3 3v-6M171.2 201h6m-3 3v-6M171.3 190h6m-3 3v-6M171.4 190.1h6m-3 3v-6M171.5 171.4h6m-3 3v-6M171.7 189.5h6m-3 3v-6M171.8 203.9h6m-3 3v-6M171.9 202.3h6m-3 3v-6M172 179.1h6m-3 3v-6M172.2 174.7h6m-3 3v-6M172.3 170.4h6m-3 3v-6M172.4 196.6h6m-3 3v-6M172.5 203.9h6m-3 3v-6M172.7 165.6h6m-3 3v-6M172.8 211.7h6m-3 3v-6M172.9 204.3h6m-3 3v-6M173 197h6m-3 3v-6M173.2 181.7h6m-3 3v-6M173.3 157.1h6m-3 3v-6M173.4 184.5h6m-3 3v-6M173.5 200.6h6m-3 3v-6M173.7 180.9h6m-3 3v-6M173.8 158.2h6m-3 3v-6M173.9 181.4h6m-3 3v-6M174 199.3h6m-3 3v-6M174.2 161.4h6m-3 3v-6M174.3 201h6m-3 3v-6M174.4 204.3h6m-3 3v-6M174.5 213.2h6m-3 3v-6M174.7 166.4h6m-3 3v-6M174.8 192h6m-3 3v-6M174.9 190.1h6m-3 3v-6M175 208.3h6m-3 3v-6M175.2 170.4h6m-3 3v-6M175.3 183.1h6m-3 3v-6M175.4 212h6m-3 3v-6M175.5 170h6m-3 3v-6M175.7 202h6m-3 3v-6M175.8 205.3h6m-3 3v-6M175.9 179.9h6m-3 3v-6M176 194.3h6m-3 3v-6M176.2 165h6m-3 3v-6M176.3 201.3h6m-3 3v-6M176.4 195.7h6m-3 3v-6M176.5 187.7h6m-3 3v-6M176.7 169.8h6m-3 3v-6M176.8 172.1h6m-3 3v-6M176.9 177.4h6m-3 3v-6M177 194.6h6m-3 3v-6M177.2 200.1h6m-3 3v-6M177.3 169.6h6m-3 3v-6M177.4 195.6h6m-3 3v-6M177.5 165h6m-3 3v-6M177.7 165.1h6m-3 3v-6M177.8 168.8h6m-3 3v-6M177.9 191.6h6m-3 3v-6M178 190.1h6m-3 3v-6M178.2 190.5h6m-3 3v-6M178.3 189.8h6m-3 3v-6M178.4 180h6m-3 3v-6M178.5 214.3h6m-3 3v-6M178.7 184.9h6m-3 3v-6M178.8 167.2h6m-3 3v-6M178.9 143.9h6m-3 3v-6M179.1 171.6h6m-3 3v-6M179.2 135.2h6m-3 3v-6M179.3 186.8h6m-3 3v-6M179.4 166.3h6m-3 3v-6M179.6 193h6m-3 3v-6M179.7 167.7h6m-3 3v-6M179.8 183.1h6m-3 3v-6M179.9 169.3h6m-3 3v-6M180.1 198.2h6m-3 3v-6M180.2 177.5h6m-3 3v-6M180.3 138.3h6m-3 3v-6M180.4 169h6m-3 3v-6M180.6 169.7h6m-3 3v-6M180.7 198.7h6m-3 3v-6M180.8 175h6m-3 3v-6M180.9 168.2h6m-3 3v-6M181.1 140.5h6m-3 3v-6M181.2 176.9h6m-3 3v-6M181.3 205h6m-3 3v-6M181.4 172.3h6m-3 3v-6M181.6 202.8h6m-3 3v-6M181.7 172.3h6m-3 3v-6M181.8 165.8h6m-3 3v-6M181.9 174.2h6m-3 3v-6M182.1 187.7h6m-3 3v-6M182.2 160.3h6m-3 3v-6M182.3 207.2h6m-3 3v-6M182.4 191.4h6m-3 3v-6M182.6 204.9h6m-3 3v-6M182.7 211.2h6m-3 3v-6M182.8 153.9h6m-3 3v-6M182.9 199.9h6m-3 3v-6M183.1 169.3h6m-3 3v-6M183.2 198.3h6m-3 3v-6M183.3 182.6h6m-3 3v-6M183.4 184.9h6m-3 3v-6M183.6 148h6m-3 3v-6M183.7 191.5h6m-3 3v-6M183.8 205.4h6m-3 3v-6M183.9 215.5h6m-3 3v-6M184.1 203h6m-3 3v-6M184.2 199.9h6m-3 3v-6M184.3 183.6h6m-3 3v-6M184.4 198.9h6m-3 3v-6M184.6 203.2h6m-3 3v-6M184.7 198.2h6m-3 3v-6M184.8 199.1h6m-3 3v-6M184.9 201.5h6m-3 3v-6M185.1 208h6m-3 3v-6M185.2 209.9h6m-3 3v-6M185.3 184.8h6m-3 3v-6M185.4 194.4h6m-3 3v-6M185.6 197.7h6m-3 3v-6M185.7 188.2h6m-3 3v-6M185.8 189.6h6m-3 3v-6M185.9 184h6m-3 3v-6M186.1 184.6h6m-3 3v-6M186.2 212.1h6m-3 3v-6M186.3 182.9h6m-3 3v-6M186.4 184.9h6m-3 3v-6M186.6 169.9h6m-3 3v-6M186.7 173.4h6m-3 3v-6M186.8 207.5h6m-3 3v-6M186.9 174.4h6m-3 3v-6M187.1 169h6m-3 3v-6M187.2 213.1h6m-3 3v-6M187.3 168.6h6m-3 3v-6M187.4 215.2h6m-3 3v-6M187.6 186.9h6m-3 3v-6M187.7 211.9h6m-3 3v-6M187.8 189.7h6m-3 3v-6M187.9 198.8h6m-3 3v-6M188.1 207.5h6m-3 3v-6M188.2 206h6m-3 3v-6M188.3 202h6m-3 3v-6M188.4 206.2h6m-3 3v-6M188.6 193.5h6m-3 3v-6M188.7 210.8h6m-3 3v-6M188.8 183.8h6m-3 3v-6M188.9 153.2h6m-3 3v-6M189.1 172.2h6m-3 3v-6M189.2 199.5h6m-3 3v-6M189.3 176.5h6m-3 3v-6M189.4 196.9h6m-3 3v-6M189.6 207.1h6m-3 3v-6M189.7 177.1h6m-3 3v-6M189.8 168h6m-3 3v-6M189.9 187.3h6m-3 3v-6M190.1 204.9h6m-3 3v-6M190.2 148.7h6m-3 3v-6M190.3 213.7h6m-3 3v-6M190.4 201.5h6m-3 3v-6M190.6 200.6h6m-3 3v-6M190.7 159.6h6m-3 3v-6M190.8 171.8h6m-3 3v-6M190.9 167.3h6m-3 3v-6M191.1 179.1h6m-3 3v-6M191.2 189.5h6m-3 3v-6M191.3 173.9h6m-3 3v-6M191.5 158.5h6m-3 3v-6M191.6 161.9h6m-3 3v-6M191.7 169.1h6m-3 3v-6M191.8 166.2h6m-3 3v-6M192 180.3h6m-3 3v-6M192.1 153.9h6m-3 3v-6M192.2 153.3h6m-3 3v-6M192.3 172.8h6m-3 3v-6M192.5 204h6m-3 3v-6M192.6 171.6h6m-3 3v-6M192.7 210.7h6m-3 3v-6M192.8 205.4h6m-3 3v-6M193 210.9h6m-3 3v-6M193.1 211.7h6m-3 3v-6M193.2 163.9h6m-3 3v-6M193.3 184h6m-3 3v-6M193.5 167.9h6m-3 3v-6M193.6 178.5h6m-3 3v-6M193.7 202.2h6m-3 3v-6M193.8 193.4h6m-3 3v-6M194 182.9h6m-3 3v-6M194.1 163.9h6m-3 3v-6M194.2 152.9h6m-3 3v-6M194.3 188.2h6m-3 3v-6M194.5 207.9h6m-3 3v-6M194.6 175.2h6m-3 3v-6M194.7 172.5h6m-3 3v-6M194.8 186.1h6m-3 3v-6M195 177.1h6m-3 3v-6M195.1 214.2h6m-3 3v-6M195.2 208.1h6m-3 3v-6M195.3 155h6m-3 3v-6M195.5 209h6m-3 3v-6M195.6 171.3h6m-3 3v-6M195.7 178.7h6m-3 3v-6M195.8 201.6h6m-3 3v-6M196 197.3h6m-3 3v-6M196.1 200.6h6m-3 3v-6M196.2 191.6h6m-3 3v-6M196.3 210.9h6m-3 3v-6M196.5 161.9h6m-3 3v-6M196.6 200.6h6m-3 3v-6M196.7 196.5h6m-3 3v-6M196.8 145.8h6m-3 3v-6M197 191.6h6m-3 3v-6M197.1 168.1h6m-3 3v-6M197.2 211.7h6m-3 3v-6M197.3 198.7h6m-3 3v-6M197.5 211.5h6m-3 3v-6M197.6 163.1h6m-3 3v-6M197.7 180.9h6m-3 3v-6M197.8 197.6h6m-3 3v-6M198 184.6h6m-3 3v-6M198.1 166.6h6m-3 3v-6M198.2 183.7h6m-3 3v-6M198.3 190.3h6m-3 3v-6M198.5 165.3h6m-3 3v-6M198.6 205.1h6m-3 3v-6M198.7 172.4h6m-3 3v-6M198.8 206.8h6m-3 3v-6M199 166.6h6m-3 3v-6M199.1 178.1h6m-3 3v-6M199.2 197.2h6m-3 3v-6M199.3 200.9h6m-3 3v-6M199.5 185.1h6m-3 3v-6M199.6 155.5h6m-3 3v-6M199.7 203.1h6m-3 3v-6M199.8 190.5h6m-3 3v-6M200 173.8h6m-3 3v-6M200.1 180h6m-3 3v-6M200.2 194.4h6m-3 3v-6M200.3 200.4h6m-3 3v-6M200.5 154.8h6m-3 3v-6M200.6 168h6m-3 3v-6M200.7 186.3h6m-3 3v-6M200.8 165.9h6m-3 3v-6M201 175.6h6m-3 3v-6M201.1 191.8h6m-3 3v-6M201.2 190.7h6m-3 3v-6M201.3 165.8h6m-3 3v-6M201.5 186.1h6m-3 3v-6M201.6 199.7h6m-3 3v-6M201.7 202.1h6m-3 3v-6M201.8 173.4h6m-3 3v-6M202 170.5h6m-3 3v-6M202.1 205.9h6m-3 3v-6M202.2 166.8h6m-3 3v-6M202.3 154.1h6m-3 3v-6M202.5 175.3h6m-3 3v-6M202.6 197.9h6m-3 3v-6M202.7 149.5h6m-3 3v-6M202.8 199.3h6m-3 3v-6M203 153.3h6m-3 3v-6M203.1 176.8h6m-3 3v-6M203.2 168.8h6m-3 3v-6M203.3 171.6h6m-3 3v-6M203.5 163.1h6m-3 3v-6M203.6 167.3h6m-3 3v-6M203.7 190.3h6m-3 3v-6M203.9 171.2h6m-3 3v-6M204 173.7h6m-3 3v-6M204.1 163.8h6m-3 3v-6M204.2 154.6h6m-3 3v-6M204.4 186.5h6m-3 3v-6M204.5 172h6m-3 3v-6M204.6 170.7h6m-3 3v-6M204.7 159h6m-3 3v-6M204.9 172.4h6m-3 3v-6M205 187.1h6m-3 3v-6M205.1 191.1h6m-3 3v-6M205.2 203.7h6m-3 3v-6M205.4 201.2h6m-3 3v-6M205.5 205.8h6m-3 3v-6M205.6 163.2h6m-3 3v-6M205.7 190.4h6m-3 3v-6M205.9 164.4h6m-3 3v-6M206 160.3h6m-3 3v-6M206.1 167.7h6m-3 3v-6M206.2 164.2h6m-3 3v-6M206.4 162.5h6m-3 3v-6M206.5 177.3h6m-3 3v-6M206.6 191h6m-3 3v-6M206.7 206.2h6m-3 3v-6M206.9 202.6h6m-3 3v-6M207 179.1h6m-3 3v-6M207.1 168.5h6m-3 3v-6M207.2 159.6h6m-3 3v-6M207.4 169.6h6m-3 3v-6M207.5 177.2h6m-3 3v-6M207.6 177.1h6m-3 3v-6M207.7 176.4h6m-3 3v-6M207.9 196.8h6m-3 3v-6M208 181h6m-3 3v-6M208.1 185.3h6m-3 3v-6M208.2 162.9h6m-3 3v-6M208.4 156.4h6m-3 3v-6M208.5 133.5h6m-3 3v-6M208.6 166.4h6m-3 3v-6M208.7 156h6m-3 3v-6M208.9 191.1h6m-3 3v-6M209 184.8h6m-3 3v-6M209.1 189.8h6m-3 3v-6M209.2 197h6m-3 3v-6M209.4 197.8h6m-3 3v-6M209.5 193.3h6m-3 3v-6M209.6 189h6m-3 3v-6M209.7 157.6h6m-3 3v-6M209.9 187.5h6m-3 3v-6M210 199.3h6m-3 3v-6M210.1 202.1h6m-3 3v-6M210.2 150.7h6m-3 3v-6M210.4 155.4h6m-3 3v-6M210.5 199.4h6m-3 3v-6M210.6 157.5h6m-3 3v-6M210.7 183.1h6m-3 3v-6M210.9 159.9h6m-3 3v-6M211 206.3h6m-3 3v-6M211.1 172.8h6m-3 3v-6M211.2 154h6m-3 3v-6M211.4 197.5h6m-3 3v-6M211.5 166.9h6m-3 3v-6M211.6 201.5h6m-3 3v-6M211.7 156.4h6m-3 3v-6M211.9 175.5h6m-3 3v-6M212 171h6m-3 3v-6M212.1 159.3h6m-3 3v-6M212.2 159.1h6m-3 3v-6M212.4 204.1h6m-3 3v-6M212.5 178.4h6m-3 3v-6M212.6 160.2h6m-3 3v-6M212.7 202.4h6m-3 3v-6M212.9 181.7h6m-3 3v-6M213 157.8h6m-3 3v-6M213.1 154.5h6m-3 3v-6M213.2 195h6m-3 3v-6M213.4 167.8h6m-3 3v-6M213.5 159.3h6m-3 3v-6M213.6 144.4h6m-3 3v-6M213.7 190h6m-3 3v-6M213.9 165h6m-3 3v-6M214 157.1h6m-3 3v-6M214.1 176.2h6m-3 3v-6M214.2 163.7h6m-3 3v-6M214.4 182.6h6m-3 3v-6M214.5 157h6m-3 3v-6M214.6 157.9h6m-3 3v-6M214.7 167.5h6m-3 3v-6M214.9 165.7h6m-3 3v-6M215 157.7h6m-3 3v-6M215.1 188.4h6m-3 3v-6M215.2 190.3h6m-3 3v-6M215.4 200.2h6m-3 3v-6M215.5 191.7h6m-3 3v-6M215.6 151.9h6m-3 3v-6M215.7 193.6h6m-3 3v-6M215.9 196.7h6m-3 3v-6M216 155.4h6m-3 3v-6M216.1 157h6m-3 3v-6M216.3 145.3h6m-3 3v-6M216.4 205.7h6m-3 3v-6M216.5 167.8h6m-3 3v-6M216.6 158.1h6m-3 3v-6M216.8 198.2h6m-3 3v-6M216.9 167.4h6m-3 3v-6M217 145.5h6m-3 3v-6M217.1 198.6h6m-3 3v-6M217.3 161h6m-3 3v-6M217.4 201.5h6m-3 3v-6M217.5 164.9h6m-3 3v-6M217.6 173.3h6m-3 3v-6M217.8 151.6h6m-3 3v-6M217.9 145h6m-3 3v-6M218 179.5h6m-3 3v-6M218.1 196.2h6m-3 3v-6M218.3 138.5h6m-3 3v-6M218.4 152.7h6m-3 3v-6M218.5 156.1h6m-3 3v-6M218.6 156.7h6m-3 3v-6M218.8 178.4h6m-3 3v-6M218.9 174.6h6m-3 3v-6M219 152h6m-3 3v-6M219.1 152.6h6m-3 3v-6M219.3 196.2h6m-3 3v-6M219.4 178.1h6m-3 3v-6M219.5 170.6h6m-3 3v-6M219.6 168.8h6m-3 3v-6M219.8 167.9h6m-3 3v-6M219.9 192.9h6m-3 3v-6M220 159.6h6m-3 3v-6M220.1 170.9h6m-3 3v-6M220.3 146.6h6m-3 3v-6M220.4 153.8h6m-3 3v-6M220.5 177.5h6m-3 3v-6M220.6 185.1h6m-3 3v-6M220.8 167.7h6m-3 3v-6M220.9 128.7h6m-3 3v-6M221 171.3h6m-3 3v-6M221.1 170.7h6m-3 3v-6M221.3 186.4h6m-3 3v-6M221.4 151.4h6m-3 3v-6M221.5 192.5h6m-3 3v-6M221.6 182.8h6m-3 3v-6M221.8 155.5h6m-3 3v-6M221.9 185.5h6m-3 3v-6M222 176.4h6m-3 3v-6M222.1 205.5h6m-3 3v-6M222.3 202.9h6m-3 3v-6M222.4 160.3h6m-3 3v-6M222.5 170.1h6m-3 3v-6M222.6 147.2h6m-3 3v-6M222.8 158h6m-3 3v-6M222.9 180.4h6m-3 3v-6M223 164.6h6m-3 3v-6M223.1 153.9h6m-3 3v-6M223.3 164.2h6m-3 3v-6M223.4 154.6h6m-3 3v-6M223.5 161.4h6m-3 3v-6M223.6 190.9h6m-3 3v-6M223.8 201.9h6m-3 3v-6M223.9 141.1h6m-3 3v-6M224 193.4h6m-3 3v-6M224.1 140.3h6m-3 3v-6M224.3 152.4h6m-3 3v-6M224.4 174.4h6m-3 3v-6M224.5 157.4h6m-3 3v-6M224.6 148.1h6m-3 3v-6M224.8 152h6m-3 3v-6M224.9 169.8h6m-3 3v-6M225 184.4h6m-3 3v-6M225.1 168.1h6m-3 3v-6M225.3 145.8h6m-3 3v-6M225.4 149.6h6m-3 3v-6M225.5 148.7h6m-3 3v-6M225.6 187h6m-3 3v-6M225.8 175.8h6m-3 3v-6M225.9 151h6m-3 3v-6M226 176.5h6m-3 3v-6M226.1 199.4h6m-3 3v-6M226.3 177.7h6m-3 3v-6M226.4 174.3h6m-3 3v-6M226.5 161.9h6m-3 3v-6M226.6 147.6h6m-3 3v-6M226.8 143.1h6m-3 3v-6M226.9 164.5h6m-3 3v-6M227 152.4h6m-3 3v-6M227.1 181.8h6m-3 3v-6M227.3 167.9h6m-3 3v-6M227.4 163h6m-3 3v-6M227.5 189.9h6m-3 3v-6M227.6 159.5h6m-3 3v-6M227.8 185.7h6m-3 3v-6M227.9 162.8h6m-3 3v-6M228 182.5h6m-3 3v-6M228.1 201.3h6m-3 3v-6M228.3 168.8h6m-3 3v-6M228.4 152.2h6m-3 3v-6M228.5 140.7h6m-3 3v-6M228.7 149.7h6m-3 3v-6M228.8 148.9h6m-3 3v-6M228.9 164.9h6m-3 3v-6M229 161.9h6m-3 3v-6M229.2 149h6m-3 3v-6M229.3 183.9h6m-3 3v-6M229.4 186.5h6m-3 3v-6M229.5 152.8h6m-3 3v-6M229.7 193.8h6m-3 3v-6M229.8 170.4h6m-3 3v-6M229.9 150.2h6m-3 3v-6M230 154.6h6m-3 3v-6M230.2 172.4h6m-3 3v-6M230.3 182.6h6m-3 3v-6M230.4 174.3h6m-3 3v-6M230.5 195h6m-3 3v-6M230.7 203.9h6m-3 3v-6M230.8 196h6m-3 3v-6M230.9 198.5h6m-3 3v-6M231 134.8h6m-3 3v-6M231.2 195.1h6m-3 3v-6M231.3 154.3h6m-3 3v-6M231.4 169.6h6m-3 3v-6M231.5 206.4h6m-3 3v-6M231.7 160.8h6m-3 3v-6M231.8 194h6m-3 3v-6M231.9 194.3h6m-3 3v-6M232 187.3h6m-3 3v-6M232.2 178.6h6m-3 3v-6M232.3 152.3h6m-3 3v-6M232.4 166.7h6m-3 3v-6M232.5 146.9h6m-3 3v-6M232.7 199.7h6m-3 3v-6M232.8 157h6m-3 3v-6M232.9 157.2h6m-3 3v-6M233 139.5h6m-3 3v-6M233.2 175.3h6m-3 3v-6M233.3 163.9h6m-3 3v-6M233.4 187.4h6m-3 3v-6M233.5 142.3h6m-3 3v-6M233.7 188.8h6m-3 3v-6M233.8 166.6h6m-3 3v-6M233.9 175.7h6m-3 3v-6M234 168.6h6m-3 3v-6M234.2 191.8h6m-3 3v-6M234.3 139.4h6m-3 3v-6M234.4 185h6m-3 3v-6M234.5 191.4h6m-3 3v-6M234.7 151.3h6m-3 3v-6M234.8 195.5h6m-3 3v-6M234.9 186.3h6m-3 3v-6M235 195.6h6m-3 3v-6M235.2 151.5h6m-3 3v-6M235.3 194.9h6m-3 3v-6M235.4 156.1h6m-3 3v-6M235.5 182.3h6m-3 3v-6M235.7 193.5h6m-3 3v-6M235.8 188.1h6m-3 3v-6M235.9 162.5h6m-3 3v-6M236 175.1h6m-3 3v-6M236.2 149.4h6m-3 3v-6M236.3 202.1h6m-3 3v-6M236.4 205.4h6m-3 3v-6M236.5 165.3h6m-3 3v-6M236.7 150h6m-3 3v-6M236.8 152.9h6m-3 3v-6M236.9 156.1h6m-3 3v-6M237 206.9h6m-3 3v-6M237.2 149.6h6m-3 3v-6M237.3 171.8h6m-3 3v-6M237.4 206.4h6m-3 3v-6M237.5 177.8h6m-3 3v-6M237.7 202.2h6m-3 3v-6M237.8 153.6h6m-3 3v-6M237.9 177.1h6m-3 3v-6M238 141.4h6m-3 3v-6M238.2 149.4h6m-3 3v-6M238.3 194.1h6m-3 3v-6M238.4 167.5h6m-3 3v-6M238.5 149.4h6m-3 3v-6M238.7 157.5h6m-3 3v-6M238.8 170.3h6m-3 3v-6M238.9 210.4h6m-3 3v-6M239 178.3h6m-3 3v-6M239.2 161.4h6m-3 3v-6M239.3 207.1h6m-3 3v-6M239.4 203h6m-3 3v-6M239.5 208.3h6m-3 3v-6M239.7 184.9h6m-3 3v-6M239.8 147.1h6m-3 3v-6M239.9 145.4h6m-3 3v-6M240 207.4h6m-3 3v-6M240.2 144.9h6m-3 3v-6M240.3 149.6h6m-3 3v-6M240.4 185.5h6m-3 3v-6M240.5 151.1h6m-3 3v-6M240.7 144.2h6m-3 3v-6M240.8 168.3h6m-3 3v-6M240.9 190.5h6m-3 3v-6M241.1 171.1h6m-3 3v-6M241.2 162.4h6m-3 3v-6M241.3 147.8h6m-3 3v-6M241.4 180.1h6m-3 3v-6M241.6 142.4h6m-3 3v-6M241.7 149.7h6m-3 3v-6M241.8 183.5h6m-3 3v-6M241.9 187.3h6m-3 3v-6M242.1 144.3h6m-3 3v-6M242.2 144.3h6m-3 3v-6M242.3 195.4h6m-3 3v-6M242.4 149h6m-3 3v-6M242.6 176.5h6m-3 3v-6M242.7 145.2h6m-3 3v-6M242.8 174h6m-3 3v-6M242.9 189.5h6m-3 3v-6M243.1 184.4h6m-3 3v-6M243.2 140.1h6m-3 3v-6M243.3 158.8h6m-3 3v-6M243.4 147.9h6m-3 3v-6M243.6 185.7h6m-3 3v-6M243.7 140h6m-3 3v-6M243.8 180.5h6m-3 3v-6M243.9 179.7h6m-3 3v-6M244.1 168.9h6m-3 3v-6M244.2 165.8h6m-3 3v-6M244.3 160.7h6m-3 3v-6M244.4 155.6h6m-3 3v-6M244.6 189.4h6m-3 3v-6M244.7 164.5h6m-3 3v-6M244.8 162.4h6m-3 3v-6M244.9 166.7h6m-3 3v-6M245.1 196.8h6m-3 3v-6M245.2 195.9h6m-3 3v-6M245.3 210h6m-3 3v-6M245.4 157.1h6m-3 3v-6M245.6 174h6m-3 3v-6M245.7 163.4h6m-3 3v-6M245.8 128h6m-3 3v-6M245.9 201.8h6m-3 3v-6M246.1 206.6h6m-3 3v-6M246.2 186h6m-3 3v-6M246.3 196.2h6m-3 3v-6M246.4 206h6m-3 3v-6M246.6 176h6m-3 3v-6M246.7 194.9h6m-3 3v-6M246.8 148.8h6m-3 3v-6M246.9 180.4h6m-3 3v-6M247.1 193.1h6m-3 3v-6M247.2 132.9h6m-3 3v-6M247.3 184.2h6m-3 3v-6M247.4 197.2h6m-3 3v-6M247.6 176.8h6m-3 3v-6M247.7 132.7h6m-3 3v-6M247.8 147.9h6m-3 3v-6M247.9 153.9h6m-3 3v-6M248.1 174h6m-3 3v-6M248.2 169.8h6m-3 3v-6M248.3 194.6h6m-3 3v-6M248.4 185.5h6m-3 3v-6M248.6 178.5h6m-3 3v-6M248.7 188.8h6m-3 3v-6M248.8 148.7h6m-3 3v-6M248.9 139.6h6m-3 3v-6M249.1 171.3h6m-3 3v-6M249.2 183.9h6m-3 3v-6M249.3 208.3h6m-3 3v-6M249.4 143.2h6m-3 3v-6M249.6 203.3h6m-3 3v-6M249.7 188.5h6m-3 3v-6M249.8 190.2h6m-3 3v-6M249.9 160.3h6m-3 3v-6M250.1 193.6h6m-3 3v-6M250.2 145.5h6m-3 3v-6M250.3 138.9h6m-3 3v-6M250.4 197h6m-3 3v-6M250.6 166.3h6m-3 3v-6M250.7 189.2h6m-3 3v-6M250.8 196.9h6m-3 3v-6M250.9 166.3h6m-3 3v-6M251.1 184.7h6m-3 3v-6M251.2 145.3h6m-3 3v-6M251.3 149.7h6m-3 3v-6M251.4 128.2h6m-3 3v-6M251.6 194.5h6m-3 3v-6M251.7 190.3h6m-3 3v-6M251.8 164.4h6m-3 3v-6M251.9 171.3h6m-3 3v-6M252.1 205h6m-3 3v-6M252.2 158.6h6m-3 3v-6M252.3 206.7h6m-3 3v-6M252.4 141.3h6m-3 3v-6M252.6 187.2h6m-3 3v-6M252.7 188.7h6m-3 3v-6M252.8 175h6m-3 3v-6M252.9 144.1h6m-3 3v-6M253.1 144.9h6m-3 3v-6M253.2 184.2h6m-3 3v-6M253.3 202.1h6m-3 3v-6M253.5 199h6m-3 3v-6M253.6 170.8h6m-3 3v-6M253.7 175.2h6m-3 3v-6M253.8 147.6h6m-3 3v-6M254 181.7h6m-3 3v-6M254.1 164.2h6m-3 3v-6M254.2 127.8h6m-3 3v-6M254.3 165.7h6m-3 3v-6M254.5 184.8h6m-3 3v-6M254.6 143.6h6m-3 3v-6M254.7 187.4h6m-3 3v-6M254.8 127.2h6m-3 3v-6M255 176.9h6m-3 3v-6M255.1 155.2h6m-3 3v-6M255.2 161.5h6m-3 3v-6M255.3 175.8h6m-3 3v-6M255.5 188.2h6m-3 3v-6M255.6 170.8h6m-3 3v-6M255.7 173.4h6m-3 3v-6M255.8 180.1h6m-3 3v-6M256 179.5h6m-3 3v-6M256.1 194.5h6m-3 3v-6M256.2 179.4h6m-3 3v-6M256.3 191.3h6m-3 3v-6M256.5 197h6m-3 3v-6M256.6 144.3h6m-3 3v-6M256.7 186.5h6m-3 3v-6M256.8 183h6m-3 3v-6M257 177.8h6m-3 3v-6M257.1 143.6h6m-3 3v-6M257.2 159h6m-3 3v-6M257.3 152.7h6m-3 3v-6M257.5 143.5h6m-3 3v-6M257.6 145.5h6m-3 3v-6M257.7 153.1h6m-3 3v-6M257.8 144.6h6m-3 3v-6M258 161.8h6m-3 3v-6M258.1 135.7h6m-3 3v-6M258.2 148.9h6m-3 3v-6M258.3 141.5h6m-3 3v-6M258.5 155.8h6m-3 3v-6M258.6 178.5h6m-3 3v-6M258.7 180.5h6m-3 3v-6M258.8 197.8h6m-3 3v-6M259 154.5h6m-3 3v-6M259.1 164.1h6m-3 3v-6M259.2 196.6h6m-3 3v-6M259.3 168h6m-3 3v-6M259.5 149.7h6m-3 3v-6M259.6 195.1h6m-3 3v-6M259.7 139.6h6m-3 3v-6M259.8 161.5h6m-3 3v-6M260 153.4h6m-3 3v-6M260.1 171h6m-3 3v-6M260.2 189.1h6m-3 3v-6M260.3 160.3h6m-3 3v-6M260.5 152.5h6m-3 3v-6M260.6 187.5h6m-3 3v-6M260.7 154.6h6m-3 3v-6M260.8 142.5h6m-3 3v-6M261 196.4h6m-3 3v-6M261.1 184.7h6m-3 3v-6M261.2 142.2h6m-3 3v-6M261.3 137.5h6m-3 3v-6M261.5 157.6h6m-3 3v-6M261.6 172h6m-3 3v-6M261.7 195h6m-3 3v-6M261.8 195.5h6m-3 3v-6M262 176.6h6m-3 3v-6M262.1 187.8h6m-3 3v-6M262.2 156.9h6m-3 3v-6M262.3 151.8h6m-3 3v-6M262.5 145.5h6m-3 3v-6M262.6 164.8h6m-3 3v-6M262.7 158.5h6m-3 3v-6M262.8 139.1h6m-3 3v-6M263 193.4h6m-3 3v-6M263.1 145.5h6m-3 3v-6M263.2 154.1h6m-3 3v-6M263.3 185.4h6m-3 3v-6M263.5 194.3h6m-3 3v-6M263.6 177.4h6m-3 3v-6M263.7 169.1h6m-3 3v-6M263.8 192.6h6m-3 3v-6M264 154.4h6m-3 3v-6M264.1 156.1h6m-3 3v-6M264.2 145.3h6m-3 3v-6M264.3 146.6h6m-3 3v-6M264.5 130.4h6m-3 3v-6M264.6 157.1h6m-3 3v-6M264.7 185.7h6m-3 3v-6M264.8 136.7h6m-3 3v-6M265 140.4h6m-3 3v-6M265.1 188.1h6m-3 3v-6M265.2 189h6m-3 3v-6M265.3 143.4h6m-3 3v-6M265.5 129.6h6m-3 3v-6M265.6 139h6m-3 3v-6M265.7 161.2h6m-3 3v-6M265.9 159.4h6m-3 3v-6M266 150.6h6m-3 3v-6M266.1 176.6h6m-3 3v-6M266.2 141h6m-3 3v-6M266.4 135.7h6m-3 3v-6M266.5 192h6m-3 3v-6M266.6 160.1h6m-3 3v-6M266.7 136h6m-3 3v-6M266.9 172.7h6m-3 3v-6M267 181.5h6m-3 3v-6M267.1 152.2h6m-3 3v-6M267.2 185.5h6m-3 3v-6M267.4 179.1h6m-3 3v-6M267.5 172.8h6m-3 3v-6M267.6 153.6h6m-3 3v-6M267.7 191.8h6m-3 3v-6M267.9 172.4h6m-3 3v-6M268 192h6m-3 3v-6M268.1 171.5h6m-3 3v-6M268.2 142.4h6m-3 3v-6M268.4 143h6m-3 3v-6M268.5 145.6h6m-3 3v-6M268.6 140.4h6m-3 3v-6M268.7 147.7h6m-3 3v-6M268.9 154.5h6m-3 3v-6M269 142.1h6m-3 3v-6M269.1 130.7h6m-3 3v-6M269.2 150.4h6m-3 3v-6M269.4 142.3h6m-3 3v-6M269.5 185.7h6m-3 3v-6M269.6 166.9h6m-3 3v-6M269.7 152.4h6m-3 3v-6M269.9 168.6h6m-3 3v-6M270 176.4h6m-3 3v-6M270.1 160.3h6m-3 3v-6M270.2 159.7h6m-3 3v-6M270.4 168.3h6m-3 3v-6M270.5 182.5h6m-3 3v-6M270.6 192.6h6m-3 3v-6M270.7 186.3h6m-3 3v-6M270.9 176.8h6m-3 3v-6M271 149.3h6m-3 3v-6M271.1 170.9h6m-3 3v-6M271.2 163.3h6m-3 3v-6M271.4 169.2h6m-3 3v-6M271.5 165.3h6m-3 3v-6M271.6 171.6h6m-3 3v-6M271.7 164.5h6m-3 3v-6M271.9 144.5h6m-3 3v-6M272 153.8h6m-3 3v-6M272.1 180.3h6m-3 3v-6M272.2 164.3h6m-3 3v-6M272.4 159h6m-3 3v-6M272.5 154.4h6m-3 3v-6M272.6 144.7h6m-3 3v-6M272.7 163.8h6m-3 3v-6M272.9 149.9h6m-3 3v-6M273 144.5h6m-3 3v-6M273.1 184.7h6m-3 3v-6M273.2 193.3h6m-3 3v-6M273.4 181.2h6m-3 3v-6M273.5 175h6m-3 3v-6M273.6 162.2h6m-3 3v-6M273.7 166h6m-3 3v-6M273.9 190h6m-3 3v-6M274 151.6h6m-3 3v-6M274.1 148.8h6m-3 3v-6M274.2 182.9h6m-3 3v-6M274.4 166.5h6m-3 3v-6M274.5 134.5h6m-3 3v-6M274.6 165.5h6m-3 3v-6M274.7 181.4h6m-3 3v-6M274.9 165.1h6m-3 3v-6M275 148.7h6m-3 3v-6M275.1 195.6h6m-3 3v-6M275.2 136.9h6m-3 3v-6M275.4 181.4h6m-3 3v-6M275.5 154.1h6m-3 3v-6M275.6 174.4h6m-3 3v-6M275.7 195.6h6m-3 3v-6M275.9 176.9h6m-3 3v-6M276 170.1h6m-3 3v-6M276.1 146.9h6m-3 3v-6M276.2 163h6m-3 3v-6M276.4 171.9h6m-3 3v-6M276.5 186.8h6m-3 3v-6M276.6 157.6h6m-3 3v-6M276.7 174.9h6m-3 3v-6M276.9 155.3h6m-3 3v-6M277 165.2h6m-3 3v-6M277.1 151.5h6m-3 3v-6M277.2 187.1h6m-3 3v-6M277.4 190.9h6m-3 3v-6M277.5 155.3h6m-3 3v-6M277.6 189.4h6m-3 3v-6M277.7 173.4h6m-3 3v-6M277.9 172.6h6m-3 3v-6M278 190.2h6m-3 3v-6M278.1 161.4h6m-3 3v-6M278.3 143.9h6m-3 3v-6M278.4 142.5h6m-3 3v-6M278.5 171.2h6m-3 3v-6M278.6 139h6m-3 3v-6M278.8 159.3h6m-3 3v-6M278.9 146.8h6m-3 3v-6M279 181.2h6m-3 3v-6M279.1 146.6h6m-3 3v-6M279.3 177.8h6m-3 3v-6M279.4 187.4h6m-3 3v-6M279.5 170.3h6m-3 3v-6M279.6 169.7h6m-3 3v-6M279.8 165.8h6m-3 3v-6M279.9 139.9h6m-3 3v-6M280 156.6h6m-3 3v-6M280.1 185.9h6m-3 3v-6M280.3 154.3h6m-3 3v-6M280.4 163.3h6m-3 3v-6M280.5 143.8h6m-3 3v-6M280.6 152.8h6m-3 3v-6M280.8 166h6m-3 3v-6M280.9 174.4h6m-3 3v-6M281 152.3h6m-3 3v-6M281.1 175h6m-3 3v-6M281.3 142.7h6m-3 3v-6M281.4 166h6m-3 3v-6M281.5 199.4h6m-3 3v-6M281.6 149.4h6m-3 3v-6M281.8 179.2h6m-3 3v-6M281.9 184.4h6m-3 3v-6M282 141.8h6m-3 3v-6M282.1 139.2h6m-3 3v-6M282.3 160.3h6m-3 3v-6M282.4 161.6h6m-3 3v-6M282.5 145.6h6m-3 3v-6M282.6 132.5h6m-3 3v-6M282.8 176.3h6m-3 3v-6M282.9 189.6h6m-3 3v-6M283 185.5h6m-3 3v-6M283.1 174.1h6m-3 3v-6M283.3 150.5h6m-3 3v-6M283.4 144.1h6m-3 3v-6M283.5 161.9h6m-3 3v-6M283.6 190.6h6m-3 3v-6M283.8 169.6h6m-3 3v-6M283.9 149h6m-3 3v-6M284 145.7h6m-3 3v-6M284.1 153.3h6m-3 3v-6M284.3 161.2h6m-3 3v-6M284.4 151.9h6m-3 3v-6M284.5 129.6h6m-3 3v-6M284.6 166h6m-3 3v-6M284.8 167.8h6m-3 3v-6M284.9 162.8h6m-3 3v-6M285 156.4h6m-3 3v-6M285.1 174.5h6m-3 3v-6M285.3 169h6m-3 3v-6M285.4 191.4h6m-3 3v-6M285.5 178.6h6m-3 3v-6M285.6 170.1h6m-3 3v-6M285.8 167.8h6m-3 3v-6M285.9 166.8h6m-3 3v-6M286 161.4h6m-3 3v-6M286.1 161.8h6m-3 3v-6M286.3 199h6m-3 3v-6M286.4 163.2h6m-3 3v-6M286.5 166.1h6m-3 3v-6M286.6 186.8h6m-3 3v-6M286.8 185.5h6m-3 3v-6M286.9 146.1h6m-3 3v-6M287 187.8h6m-3 3v-6M287.1 193.9h6m-3 3v-6M287.3 160.5h6m-3 3v-6M287.4 181.9h6m-3 3v-6M287.5 169.2h6m-3 3v-6M287.6 146.1h6m-3 3v-6M287.8 167.7h6m-3 3v-6M287.9 170.6h6m-3 3v-6M288 183h6m-3 3v-6M288.1 187.7h6m-3 3v-6M288.3 190.2h6m-3 3v-6M288.4 149.1h6m-3 3v-6M288.5 189.1h6m-3 3v-6M288.6 190.9h6m-3 3v-6M288.8 179.4h6m-3 3v-6M288.9 169.9h6m-3 3v-6M289 170.9h6m-3 3v-6M289.1 156.4h6m-3 3v-6M289.3 153.7h6m-3 3v-6M289.4 175.9h6m-3 3v-6M289.5 197.2h6m-3 3v-6M289.6 131.1h6m-3 3v-6M289.8 149.1h6m-3 3v-6M289.9 173h6m-3 3v-6M290 186.2h6m-3 3v-6M290.1 166.4h6m-3 3v-6M290.3 156.5h6m-3 3v-6M290.4 139.1h6m-3 3v-6M290.5 166.2h6m-3 3v-6M290.7 134.2h6m-3 3v-6M290.8 182.4h6m-3 3v-6M290.9 165.4h6m-3 3v-6M291 160.1h6m-3 3v-6M291.2 182.2h6m-3 3v-6M291.3 130.5h6m-3 3v-6M291.4 158.1h6m-3 3v-6M291.5 162.5h6m-3 3v-6M291.7 179.7h6m-3 3v-6M291.8 179.2h6m-3 3v-6M291.9 194.9h6m-3 3v-6M292 175.5h6m-3 3v-6M292.2 194.8h6m-3 3v-6M292.3 178.7h6m-3 3v-6M292.4 165.9h6m-3 3v-6M292.5 195.2h6m-3 3v-6M292.7 157.2h6m-3 3v-6M292.8 173.9h6m-3 3v-6M292.9 175.4h6m-3 3v-6M293 173.9h6m-3 3v-6M293.2 195.5h6m-3 3v-6M293.3 193.2h6m-3 3v-6M293.4 197.6h6m-3 3v-6M293.5 162.2h6m-3 3v-6M293.7 165.3h6m-3 3v-6M293.8 171.1h6m-3 3v-6M293.9 157.5h6m-3 3v-6M294 162.4h6m-3 3v-6M294.2 195h6m-3 3v-6M294.3 170.4h6m-3 3v-6M294.4 163.9h6m-3 3v-6M294.5 183.9h6m-3 3v-6M294.7 139.2h6m-3 3v-6M294.8 180.4h6m-3 3v-6M294.9 173.3h6m-3 3v-6M295 171.3h6m-3 3v-6M295.2 187.3h6m-3 3v-6M295.3 175.4h6m-3 3v-6M295.4 187.9h6m-3 3v-6M295.5 142.4h6m-3 3v-6M295.7 167.3h6m-3 3v-6M295.8 168.6h6m-3 3v-6M295.9 168.5h6m-3 3v-6M296 177.3h6m-3 3v-6M296.2 183.7h6m-3 3v-6M296.3 180.8h6m-3 3v-6M296.4 184h6m-3 3v-6M296.5 170.1h6m-3 3v-6M296.7 201.4h6m-3 3v-6M296.8 175.4h6m-3 3v-6M296.9 167.4h6m-3 3v-6M297 169.9h6m-3 3v-6M297.2 171h6m-3 3v-6M297.3 172.5h6m-3 3v-6M297.4 199.3h6m-3 3v-6M297.5 151.2h6m-3 3v-6M297.7 185h6m-3 3v-6M297.8 184h6m-3 3v-6M297.9 187.7h6m-3 3v-6M298 184.5h6m-3 3v-6M298.2 170h6m-3 3v-6M298.3 192.2h6m-3 3v-6M298.4 188.6h6m-3 3v-6M298.5 163.9h6m-3 3v-6M298.7 198.7h6m-3 3v-6M298.8 193h6m-3 3v-6M298.9 191.9h6m-3 3v-6M299 184.2h6m-3 3v-6M299.2 196.8h6m-3 3v-6M299.3 201.6h6m-3 3v-6M299.4 196h6m-3 3v-6M299.5 207.1h6m-3 3v-6M299.7 157.3h6m-3 3v-6M299.8 153.8h6m-3 3v-6M299.9 179.2h6m-3 3v-6M300 200.1h6m-3 3v-6M300.2 190.4h6m-3 3v-6M300.3 191.7h6m-3 3v-6M300.4 191.9h6m-3 3v-6M300.5 178.4h6m-3 3v-6M300.7 199.9h6m-3 3v-6M300.8 198.6h6m-3 3v-6M300.9 194.7h6m-3 3v-6M301 194.8h6m-3 3v-6M301.2 192.7h6m-3 3v-6M301.3 187.6h6m-3 3v-6M301.4 162.7h6m-3 3v-6M301.5 183.8h6m-3 3v-6M301.7 183.9h6m-3 3v-6M301.8 196.9h6m-3 3v-6M301.9 194.6h6m-3 3v-6M302 201.9h6m-3 3v-6M302.2 195.1h6m-3 3v-6M302.3 198.6h6m-3 3v-6M302.4 182.6h6m-3 3v-6M302.5 193h6m-3 3v-6M302.7 196.1h6m-3 3v-6M302.8 210.8h6m-3 3v-6M302.9 187.9h6m-3 3v-6M303.1 175.6h6m-3 3v-6M303.2 191.1h6m-3 3v-6M303.3 197.9h6m-3 3v-6M303.4 201.6h6m-3 3v-6M303.6 205.7h6m-3 3v-6M303.7 190.3h6m-3 3v-6M303.8 204h6m-3 3v-6M303.9 201.8h6m-3 3v-6M304.1 208h6m-3 3v-6M304.2 197.6h6m-3 3v-6M304.3 203.3h6m-3 3v-6M304.4 203.8h6m-3 3v-6M304.6 198.4h6m-3 3v-6M304.7 197.2h6m-3 3v-6M304.8 178.3h6m-3 3v-6M304.9 202.6h6m-3 3v-6M305.1 206.2h6m-3 3v-6M305.2 205.2h6m-3 3v-6M305.3 204.6h6m-3 3v-6M305.4 220.5h6m-3 3v-6M305.6 221.2h6m-3 3v-6M305.7 214.4h6m-3 3v-6M305.8 189.8h6m-3 3v-6M305.9 219.2h6m-3 3v-6M306.1 217.1h6m-3 3v-6M306.2 200.5h6m-3 3v-6M306.3 222h6m-3 3v-6M306.4 208h6m-3 3v-6M306.6 198.6h6m-3 3v-6M306.7 205.5h6m-3 3v-6M306.8 223h6m-3 3v-6M306.9 202.1h6m-3 3v-6M307.1 201.7h6m-3 3v-6M307.2 205.1h6m-3 3v-6M307.3 203.2h6m-3 3v-6M307.4 219.6h6m-3 3v-6M307.6 221.3h6m-3 3v-6M307.7 222.3h6m-3 3v-6M307.8 211.1h6m-3 3v-6M307.9 209.2h6m-3 3v-6M308.1 217.6h6m-3 3v-6M308.2 215.7h6m-3 3v-6M308.3 201.5h6m-3 3v-6M308.4 203.4h6m-3 3v-6M308.6 219.1h6m-3 3v-6M308.7 224.7h6m-3 3v-6M308.8 205.8h6m-3 3v-6M308.9 208.7h6m-3 3v-6M309.1 214.8h6m-3 3v-6M309.2 214.4h6m-3 3v-6M309.3 205.2h6m-3 3v-6M309.4 212.8h6m-3 3v-6M309.6 203.1h6m-3 3v-6M309.7 219.5h6m-3 3v-6M309.8 211.3h6m-3 3v-6M309.9 217.2h6m-3 3v-6M310.1 213.8h6m-3 3v-6M310.2 229.1h6m-3 3v-6M310.3 225.5h6m-3 3v-6M310.4 218.9h6m-3 3v-6M310.6 228.5h6m-3 3v-6M310.7 213.9h6m-3 3v-6M310.8 210.1h6m-3 3v-6M310.9 220h6m-3 3v-6M311.1 215.9h6m-3 3v-6M311.2 233.3h6m-3 3v-6M311.3 227.6h6m-3 3v-6M311.4 230.8h6m-3 3v-6M311.6 223.1h6m-3 3v-6M311.7 214.6h6m-3 3v-6M311.8 231.6h6m-3 3v-6M311.9 226.9h6m-3 3v-6M312.1 218.4h6m-3 3v-6M312.2 218.4h6m-3 3v-6M312.3 216.2h6m-3 3v-6M312.4 232.8h6m-3 3v-6M312.6 225.7h6m-3 3v-6M312.7 222.2h6m-3 3v-6M312.8 229.4h6m-3 3v-6M312.9 217.7h6m-3 3v-6M313.1 221.4h6m-3 3v-6M313.2 221.5h6m-3 3v-6M313.3 202.6h6m-3 3v-6M313.4 213.3h6m-3 3v-6M313.6 229.4h6m-3 3v-6M313.7 239.1h6m-3 3v-6M313.8 228.5h6m-3 3v-6M314.3 264.8h6m-3 3v-6M314.4 271h6m-3 3v-6M314.6 266.1h6m-3 3v-6M314.7 267.3h6m-3 3v-6M314.8 269.1h6m-3 3v-6M314.9 267.7h6m-3 3v-6M315.1 266.7h6m-3 3v-6M315.2 266.6h6m-3 3v-6M315.3 265.2h6m-3 3v-6M315.5 269.3h6m-3 3v-6M315.6 265h6m-3 3v-6M315.7 266.9h6m-3 3v-6M315.8 270.5h6m-3 3v-6M316 267h6m-3 3v-6M316.1 271.3h6m-3 3v-6M316.2 271.3h6m-3 3v-6M316.3 272.5h6m-3 3v-6M316.5 269h6m-3 3v-6M316.6 265.4h6m-3 3v-6M316.7 267.8h6m-3 3v-6M316.8 265.7h6m-3 3v-6M317 267.6h6m-3 3v-6M317.1 267.7h6m-3 3v-6M317.2 272.3h6m-3 3v-6M317.3 270.7h6m-3 3v-6M317.5 268.2h6m-3 3v-6M317.6 272.2h6m-3 3v-6M317.7 266.8h6m-3 3v-6M317.8 266.3h6m-3 3v-6M318 268.8h6m-3 3v-6M318.1 270.1h6m-3 3v-6M318.2 268.9h6m-3 3v-6M318.3 272.5h6m-3 3v-6M318.5 270.9h6m-3 3v-6M318.6 266.2h6m-3 3v-6M318.7 266.4h6m-3 3v-6M318.8 268.8h6m-3 3v-6M319 268.8h6m-3 3v-6M319.1 272.5h6m-3 3v-6M319.2 270.9h6m-3 3v-6M319.3 270.2h6m-3 3v-6M319.5 272.1h6m-3 3v-6M319.6 267.6h6m-3 3v-6M319.7 268.3h6m-3 3v-6M319.8 269.7h6m-3 3v-6M320 273h6m-3 3v-6M320.1 268.2h6m-3 3v-6M320.2 266.8h6m-3 3v-6M320.3 271.4h6m-3 3v-6M320.5 266.5h6m-3 3v-6M320.6 267.5h6m-3 3v-6M320.7 272.5h6m-3 3v-6M320.8 272.4h6m-3 3v-6M321 273.1h6m-3 3v-6M321.1 268.2h6m-3 3v-6M321.2 270.6h6m-3 3v-6M321.3 271h6m-3 3v-6M321.5 272.9h6m-3 3v-6M321.6 268.5h6m-3 3v-6M321.7 270.5h6m-3 3v-6M321.8 268.1h6m-3 3v-6M322 269.8h6m-3 3v-6M322.1 270.7h6m-3 3v-6M322.2 269h6m-3 3v-6M322.3 267.6h6m-3 3v-6M322.5 268.4h6m-3 3v-6M322.6 271.7h6m-3 3v-6M322.7 271.7h6m-3 3v-6M322.8 267.9h6m-3 3v-6M323 272.4h6m-3 3v-6M323.1 267h6m-3 3v-6M323.2 272.2h6m-3 3v-6M323.3 269.5h6m-3 3v-6M323.5 266.6h6m-3 3v-6M323.6 266h6m-3 3v-6M323.7 272.2h6m-3 3v-6M323.8 272.4h6m-3 3v-6M324 270.6h6m-3 3v-6M324.1 273.7h6m-3 3v-6M324.2 271.5h6m-3 3v-6M324.3 268.2h6m-3 3v-6M324.5 266.6h6m-3 3v-6M324.6 268.4h6m-3 3v-6M324.7 270.2h6m-3 3v-6M324.8 268.8h6m-3 3v-6M325 267.2h6m-3 3v-6M325.1 272h6m-3 3v-6M325.2 269.7h6m-3 3v-6M325.3 268.3h6m-3 3v-6M325.5 266.9h6m-3 3v-6M325.6 272.5h6m-3 3v-6M325.7 269.4h6m-3 3v-6M325.8 272.7h6m-3 3v-6M326 272.1h6m-3 3v-6M326.1 266.1h6m-3 3v-6M326.2 270.3h6m-3 3v-6M326.3 269.9h6m-3 3v-6M326.5 270.3h6m-3 3v-6M326.6 272.7h6m-3 3v-6M326.7 272.9h6m-3 3v-6M326.8 267.7h6m-3 3v-6M327 271.3h6m-3 3v-6M327.1 269.7h6m-3 3v-6M327.2 270.8h6m-3 3v-6M327.3 271.8h6m-3 3v-6M327.5 268.6h6m-3 3v-6M327.6 269.4h6m-3 3v-6M327.7 267.6h6m-3 3v-6M327.9 268.3h6m-3 3v-6M328 271h6m-3 3v-6M328.1 269.2h6m-3 3v-6M328.2 273h6m-3 3v-6M328.4 269.8h6m-3 3v-6M328.5 271.3h6m-3 3v-6M328.6 266.7h6m-3 3v-6M328.7 267h6m-3 3v-6M328.9 269.5h6m-3 3v-6M329 267.5h6m-3 3v-6M329.1 271.1h6m-3 3v-6M329.2 259.3h6m-3 3v-6M329.4 270.7h6m-3 3v-6M329.5 271.3h6m-3 3v-6M329.6 266.2h6m-3 3v-6M329.7 267h6m-3 3v-6M329.9 268h6m-3 3v-6M330 272.8h6m-3 3v-6M330.1 268.8h6m-3 3v-6M330.2 268h6m-3 3v-6M330.4 272.2h6m-3 3v-6M330.5 265.8h6m-3 3v-6M330.6 266.4h6m-3 3v-6M330.7 267.5h6m-3 3v-6M330.9 273.6h6m-3 3v-6M331 267.5h6m-3 3v-6M331.1 267.2h6m-3 3v-6M331.2 267.3h6m-3 3v-6M331.4 265.6h6m-3 3v-6M331.5 269.6h6m-3 3v-6M331.6 271.3h6m-3 3v-6M331.7 269.2h6m-3 3v-6M331.9 268.5h6m-3 3v-6M332 272.4h6m-3 3v-6M332.1 268.1h6m-3 3v-6M332.2 266.9h6m-3 3v-6M332.4 254.5h6m-3 3v-6M332.5 268.7h6m-3 3v-6M332.6 265.2h6m-3 3v-6M332.7 267.6h6m-3 3v-6M332.9 264.9h6m-3 3v-6M333 268.7h6m-3 3v-6M333.1 271.8h6m-3 3v-6M333.2 273h6m-3 3v-6M333.4 269.9h6m-3 3v-6M333.5 264h6m-3 3v-6M333.6 269.4h6m-3 3v-6M333.7 265.6h6m-3 3v-6M333.9 263.2h6m-3 3v-6M334 263.6h6m-3 3v-6M334.1 264.2h6m-3 3v-6M334.2 263h6m-3 3v-6M334.4 269.8h6m-3 3v-6M334.5 269.9h6m-3 3v-6M334.6 268.5h6m-3 3v-6M334.7 265.7h6m-3 3v-6M334.9 268h6m-3 3v-6M335 267.7h6m-3 3v-6M335.1 269.8h6m-3 3v-6M335.2 266.8h6m-3 3v-6M335.4 269.3h6m-3 3v-6M335.5 259.9h6m-3 3v-6M335.6 260.5h6m-3 3v-6M335.7 263.9h6m-3 3v-6M335.9 260.7h6m-3 3v-6M336 257.9h6m-3 3v-6M336.1 261.8h6m-3 3v-6M336.2 265.4h6m-3 3v-6M336.4 256.6h6m-3 3v-6M336.5 264.1h6m-3 3v-6M336.6 265.1h6m-3 3v-6M336.7 267.5h6m-3 3v-6M336.9 255.7h6m-3 3v-6M337 265.5h6m-3 3v-6M337.1 262h6m-3 3v-6M337.2 258.2h6m-3 3v-6M337.4 252.5h6m-3 3v-6M337.5 259.1h6m-3 3v-6M337.6 252.5h6m-3 3v-6M337.7 252.6h6m-3 3v-6M337.9 265.4h6m-3 3v-6M338 259.9h6m-3 3v-6M338.1 263.3h6m-3 3v-6M338.2 262.6h6m-3 3v-6M338.4 264.4h6m-3 3v-6M338.5 256h6m-3 3v-6M338.6 249.1h6m-3 3v-6M338.7 256.5h6m-3 3v-6M338.9 246.6h6m-3 3v-6M339 259.1h6m-3 3v-6M339.1 262.3h6m-3 3v-6M339.2 257h6m-3 3v-6M339.4 250.3h6m-3 3v-6M339.5 254.1h6m-3 3v-6M339.6 251.7h6m-3 3v-6M339.7 252.7h6m-3 3v-6M339.9 250.3h6m-3 3v-6M340 252.2h6m-3 3v-6M340.1 248.6h6m-3 3v-6M340.3 257.5h6m-3 3v-6M340.4 244.4h6m-3 3v-6M340.5 246.9h6m-3 3v-6M340.6 243.7h6m-3 3v-6M340.8 260.4h6m-3 3v-6M340.9 257.3h6m-3 3v-6M341 246.3h6m-3 3v-6M341.1 243.7h6m-3 3v-6M341.3 249.3h6m-3 3v-6M341.4 248.8h6m-3 3v-6M341.5 245.8h6m-3 3v-6M341.6 253.9h6m-3 3v-6M341.8 259h6m-3 3v-6M341.9 247h6m-3 3v-6M342 249.3h6m-3 3v-6M342.1 241.4h6m-3 3v-6M342.3 247.1h6m-3 3v-6M342.4 245.5h6m-3 3v-6M342.5 244.8h6m-3 3v-6M342.6 250.5h6m-3 3v-6M342.8 246.6h6m-3 3v-6M342.9 253.1h6m-3 3v-6M343 233.5h6m-3 3v-6M343.1 256.8h6m-3 3v-6M343.3 253.4h6m-3 3v-6M343.4 257.1h6m-3 3v-6M343.5 247.3h6m-3 3v-6M343.6 257.6h6m-3 3v-6M343.8 250.7h6m-3 3v-6M343.9 255.1h6m-3 3v-6M344 238h6m-3 3v-6M344.1 250.2h6m-3 3v-6M344.3 237.5h6m-3 3v-6M344.4 247.9h6m-3 3v-6M344.5 257.4h6m-3 3v-6M344.6 250.2h6m-3 3v-6M344.8 253.7h6m-3 3v-6M344.9 247.8h6m-3 3v-6M345 251h6m-3 3v-6M345.1 240.8h6m-3 3v-6M345.3 241.3h6m-3 3v-6M345.4 245.8h6m-3 3v-6M345.5 253.5h6m-3 3v-6M345.6 251.1h6m-3 3v-6M345.8 257.3h6m-3 3v-6M345.9 256.7h6m-3 3v-6M346 239.7h6m-3 3v-6M346.1 246.7h6m-3 3v-6M346.3 239.4h6m-3 3v-6M346.4 251.7h6m-3 3v-6M346.5 256.9h6m-3 3v-6M346.6 255.5h6m-3 3v-6M346.8 257.1h6m-3 3v-6M346.9 245.6h6m-3 3v-6M347 255h6m-3 3v-6M347.1 246.9h6m-3 3v-6M347.3 249h6m-3 3v-6M347.4 245h6m-3 3v-6M347.5 254.7h6m-3 3v-6M347.6 240.9h6m-3 3v-6M347.8 252h6m-3 3v-6M347.9 243.8h6m-3 3v-6M348 254.4h6m-3 3v-6M348.1 255.2h6m-3 3v-6M348.3 241.9h6m-3 3v-6M348.4 241h6m-3 3v-6M348.5 245.7h6m-3 3v-6M348.6 248.6h6m-3 3v-6M348.8 247.8h6m-3 3v-6M348.9 254.6h6m-3 3v-6M349 248.2h6m-3 3v-6M349.1 241.7h6m-3 3v-6M349.3 241.9h6m-3 3v-6M349.4 252h6m-3 3v-6M349.5 237.8h6m-3 3v-6M349.6 253.8h6m-3 3v-6M349.8 254h6m-3 3v-6M349.9 248.9h6m-3 3v-6M350 254.7h6m-3 3v-6M350.1 229h6m-3 3v-6M350.3 256.5h6m-3 3v-6M350.4 250.5h6m-3 3v-6M350.5 255.2h6m-3 3v-6M350.6 244h6m-3 3v-6M350.8 253.1h6m-3 3v-6M350.9 254.9h6m-3 3v-6M351 247.7h6m-3 3v-6M351.1 249.8h6m-3 3v-6M351.3 248.4h6m-3 3v-6M351.4 249h6m-3 3v-6M351.5 249.7h6m-3 3v-6M351.6 251h6m-3 3v-6M351.8 256.8h6m-3 3v-6M351.9 255.3h6m-3 3v-6M352 248h6m-3 3v-6M352.1 254.1h6m-3 3v-6M352.3 253.3h6m-3 3v-6M352.4 250.5h6m-3 3v-6M352.5 248.4h6m-3 3v-6M352.7 249.8h6m-3 3v-6M352.8 254.6h6m-3 3v-6M352.9 253.8h6m-3 3v-6M353 254.2h6m-3 3v-6M353.2 252.7h6m-3 3v-6M353.3 249h6m-3 3v-6M353.4 252h6m-3 3v-6M353.5 255.7h6m-3 3v-6M353.7 245.2h6m-3 3v-6M353.8 257.8h6m-3 3v-6M353.9 255.5h6m-3 3v-6M354 259.2h6m-3 3v-6M354.2 254.5h6m-3 3v-6M354.3 258.4h6m-3 3v-6M354.4 250.3h6m-3 3v-6M354.5 253.1h6m-3 3v-6M354.7 252.8h6m-3 3v-6M354.8 247.4h6m-3 3v-6M354.9 261.8h6m-3 3v-6M355 257.6h6m-3 3v-6M355.2 260.8h6m-3 3v-6M355.3 256.8h6m-3 3v-6M355.4 253.7h6m-3 3v-6M355.5 258.1h6m-3 3v-6M355.7 260.6h6m-3 3v-6M355.8 253h6m-3 3v-6M355.9 255.9h6m-3 3v-6M356 259.2h6m-3 3v-6M356.2 255.2h6m-3 3v-6M356.3 257.7h6m-3 3v-6M356.4 261h6m-3 3v-6M356.5 254.1h6m-3 3v-6M356.7 257.7h6m-3 3v-6M356.8 251.3h6m-3 3v-6M356.9 252.5h6m-3 3v-6M357 261.7h6m-3 3v-6M357.2 253.6h6m-3 3v-6M357.3 254.3h6m-3 3v-6M357.4 263.6h6m-3 3v-6M357.5 258.2h6m-3 3v-6M357.7 256.9h6m-3 3v-6M357.8 256.1h6m-3 3v-6M357.9 256.3h6m-3 3v-6M358 256.6h6m-3 3v-6M358.2 262.3h6m-3 3v-6M358.3 264.4h6m-3 3v-6M358.4 257.2h6m-3 3v-6M358.5 264h6m-3 3v-6M358.7 262.7h6m-3 3v-6M358.8 253.9h6m-3 3v-6M358.9 261.2h6m-3 3v-6M359 265.9h6m-3 3v-6M359.2 261.6h6m-3 3v-6M359.3 259.1h6m-3 3v-6M359.4 258.8h6m-3 3v-6M359.5 260.5h6m-3 3v-6M359.7 264.9h6m-3 3v-6M359.8 262h6m-3 3v-6M359.9 259.4h6m-3 3v-6M360 258h6m-3 3v-6M360.2 256.1h6m-3 3v-6M360.3 263.3h6m-3 3v-6M360.4 263h6m-3 3v-6M360.5 264h6m-3 3v-6M360.7 264.8h6m-3 3v-6M360.8 259.3h6m-3 3v-6M360.9 258.9h6m-3 3v-6M361 262.4h6m-3 3v-6M361.2 262h6m-3 3v-6M361.3 265h6m-3 3v-6M361.4 260.8h6m-3 3v-6M361.5 259.8h6m-3 3v-6M361.7 262.7h6m-3 3v-6M361.8 261.4h6m-3 3v-6M361.9 260.9h6m-3 3v-6M362 262.1h6m-3 3v-6M362.2 266.7h6m-3 3v-6M362.3 261.3h6m-3 3v-6M362.4 260.8h6m-3 3v-6M362.5 268.7h6m-3 3v-6M362.7 262.7h6m-3 3v-6M362.8 260.5h6m-3 3v-6M362.9 266.1h6m-3 3v-6M363 264h6m-3 3v-6M363.2 265.6h6m-3 3v-6M363.3 258.8h6m-3 3v-6M363.4 264h6m-3 3v-6M363.5 262.6h6m-3 3v-6M363.7 260.8h6m-3 3v-6M363.8 269.5h6m-3 3v-6M363.9 262.8h6m-3 3v-6M364 264h6m-3 3v-6M364.2 269.3h6m-3 3v-6M364.3 261.2h6m-3 3v-6M364.4 268.2h6m-3 3v-6M364.5 266.1h6m-3 3v-6M364.7 265.1h6m-3 3v-6M364.8 263.8h6m-3 3v-6M364.9 263.9h6m-3 3v-6M365.1 264.9h6m-3 3v-6M365.2 268.1h6m-3 3v-6M365.3 268h6m-3 3v-6M365.4 269.8h6m-3 3v-6M365.6 264.2h6m-3 3v-6M365.7 267h6m-3 3v-6M365.8 269.8h6m-3 3v-6M365.9 263.9h6m-3 3v-6M366.1 266.3h6m-3 3v-6M366.2 265.6h6m-3 3v-6M366.3 273.6h6m-3 3v-6M366.4 269.5h6m-3 3v-6M366.6 261.1h6m-3 3v-6M366.7 258.7h6m-3 3v-6M366.8 263.1h6m-3 3v-6M366.9 268.6h6m-3 3v-6M367.1 269.6h6m-3 3v-6M367.2 264.3h6m-3 3v-6M367.3 264.1h6m-3 3v-6M367.4 270.3h6m-3 3v-6M367.6 266.4h6m-3 3v-6M367.7 269.5h6m-3 3v-6M367.8 261.5h6m-3 3v-6M367.9 270.6h6m-3 3v-6M368.1 271h6m-3 3v-6M368.2 271.6h6m-3 3v-6M368.3 273.1h6m-3 3v-6M368.4 259.5h6m-3 3v-6M368.6 267.2h6m-3 3v-6M368.7 272.4h6m-3 3v-6M368.8 266.2h6m-3 3v-6M368.9 271.1h6m-3 3v-6M369.1 269.2h6m-3 3v-6M369.2 269.2h6m-3 3v-6M369.3 266h6m-3 3v-6M369.4 266.7h6m-3 3v-6M369.6 271.1h6m-3 3v-6M369.7 268.8h6m-3 3v-6M369.8 271.5h6m-3 3v-6M369.9 268.5h6m-3 3v-6M370.1 267.7h6m-3 3v-6M370.2 275.4h6m-3 3v-6M370.3 273.6h6m-3 3v-6M370.4 273.9h6m-3 3v-6M370.6 268.3h6m-3 3v-6M370.7 273h6m-3 3v-6M370.8 271.1h6m-3 3v-6M370.9 261.6h6m-3 3v-6M371.1 264.2h6m-3 3v-6M371.2 277.1h6m-3 3v-6M371.3 275h6m-3 3v-6M371.4 276.2h6m-3 3v-6M371.6 270.9h6m-3 3v-6M371.7 275.3h6m-3 3v-6M371.8 273.8h6m-3 3v-6M371.9 271.9h6m-3 3v-6M372.1 275.1h6m-3 3v-6M372.2 274.7h6m-3 3v-6M372.3 271.8h6m-3 3v-6M372.4 278h6m-3 3v-6M372.6 275h6m-3 3v-6M372.7 276.7h6m-3 3v-6M372.8 277.1h6m-3 3v-6M372.9 274.2h6m-3 3v-6M373.1 271.5h6m-3 3v-6M373.2 270.2h6m-3 3v-6M373.3 268.6h6m-3 3v-6M373.4 276.4h6m-3 3v-6M373.6 271.4h6m-3 3v-6M373.7 271.8h6m-3 3v-6M373.8 272.4h6m-3 3v-6M373.9 273.2h6m-3 3v-6M374.1 277.2h6m-3 3v-6M374.2 273.4h6m-3 3v-6M374.3 278.6h6m-3 3v-6M374.4 276.3h6m-3 3v-6M374.6 279.2h6m-3 3v-6M374.7 277.1h6m-3 3v-6M374.8 276.8h6m-3 3v-6M374.9 277.2h6m-3 3v-6M375.1 278.5h6m-3 3v-6M375.2 279.3h6m-3 3v-6M375.3 280.2h6m-3 3v-6M375.4 275.1h6m-3 3v-6M375.6 278h6m-3 3v-6M375.7 278.8h6m-3 3v-6M375.8 269.9h6m-3 3v-6M375.9 280.1h6m-3 3v-6M376.1 278.5h6m-3 3v-6M376.2 283.5h6m-3 3v-6M376.3 280.5h6m-3 3v-6M376.4 275.2h6m-3 3v-6M376.6 274.3h6m-3 3v-6M376.7 276.4h6m-3 3v-6M376.8 281.9h6m-3 3v-6M376.9 281.3h6m-3 3v-6M377.1 280.8h6m-3 3v-6M377.2 278.5h6m-3 3v-6M377.3 280.6h6m-3 3v-6M377.5 281.6h6m-3 3v-6M377.6 277.7h6m-3 3v-6M377.7 279.3h6m-3 3v-6M377.8 276.4h6m-3 3v-6M378 282.6h6m-3 3v-6M378.1 280.1h6m-3 3v-6M378.2 279.2h6m-3 3v-6M378.3 278.8h6m-3 3v-6M378.5 278.1h6m-3 3v-6M378.6 280.2h6m-3 3v-6M378.7 279.2h6m-3 3v-6M378.8 281.4h6m-3 3v-6M379 279.9h6m-3 3v-6M379.1 279.3h6m-3 3v-6M379.2 277.8h6m-3 3v-6M379.3 279.9h6m-3 3v-6M379.5 281.2h6m-3 3v-6M379.6 280h6m-3 3v-6M379.7 279.7h6m-3 3v-6M379.8 282.9h6m-3 3v-6M380 281.6h6m-3 3v-6M380.1 282.8h6m-3 3v-6M380.2 279.1h6m-3 3v-6M380.3 280.4h6m-3 3v-6M380.5 282.6h6m-3 3v-6M380.6 281.1h6m-3 3v-6M380.7 280.1h6m-3 3v-6M380.8 279h6m-3 3v-6M381 281.5h6m-3 3v-6M381.1 280h6m-3 3v-6M381.2 281.4h6m-3 3v-6M381.3 277.3h6m-3 3v-6M381.5 282.7h6m-3 3v-6M381.6 279.4h6m-3 3v-6M381.7 284.3h6m-3 3v-6M381.8 283.6h6m-3 3v-6M382 283.7h6m-3 3v-6M382.1 279.6h6m-3 3v-6M382.2 283.1h6m-3 3v-6M382.3 284.8h6m-3 3v-6M382.5 282.9h6m-3 3v-6M382.6 283.4h6m-3 3v-6M382.7 282.3h6m-3 3v-6M382.8 282.8h6m-3 3v-6M383 281.3h6m-3 3v-6M383.1 282.5h6m-3 3v-6M383.2 284.6h6m-3 3v-6M383.3 285.2h6m-3 3v-6M383.5 284.5h6m-3 3v-6M383.6 280.6h6m-3 3v-6M383.7 281.2h6m-3 3v-6M383.8 280.2h6m-3 3v-6M384 284.7h6m-3 3v-6M384.1 284.2h6m-3 3v-6M384.2 286h6m-3 3v-6M384.3 285.7h6m-3 3v-6M384.5 282.3h6m-3 3v-6M384.6 286.1h6m-3 3v-6M384.7 282.3h6m-3 3v-6M384.8 282h6m-3 3v-6M385 282.7h6m-3 3v-6M385.1 286.5h6m-3 3v-6M385.2 287.7h6m-3 3v-6M385.3 282.8h6m-3 3v-6M385.5 284.9h6m-3 3v-6M385.6 284h6m-3 3v-6M385.7 284.6h6m-3 3v-6M385.8 283.5h6m-3 3v-6M386 285.1h6m-3 3v-6M386.1 286.9h6m-3 3v-6M386.2 283.7h6m-3 3v-6M386.3 287.1h6m-3 3v-6M386.5 284.3h6m-3 3v-6M386.6 284.9h6m-3 3v-6M386.7 279.5h6m-3 3v-6M386.8 289.1h6m-3 3v-6M387 287.9h6m-3 3v-6M387.1 287.6h6m-3 3v-6M387.2 285.8h6m-3 3v-6M387.3 288.1h6m-3 3v-6M387.5 285.8h6m-3 3v-6M387.6 284.9h6m-3 3v-6M387.7 286.8h6m-3 3v-6M387.8 286.4h6m-3 3v-6M388 287.4h6m-3 3v-6M388.1 285.8h6m-3 3v-6M388.2 285.5h6m-3 3v-6M388.3 284.8h6m-3 3v-6M388.5 286.9h6m-3 3v-6M388.6 288.2h6m-3 3v-6M388.7 285.8h6m-3 3v-6M388.8 285.2h6m-3 3v-6M389 287.5h6m-3 3v-6M389.1 285.4h6m-3 3v-6M389.2 288.6h6m-3 3v-6M389.3 285.3h6m-3 3v-6M389.5 286.7h6m-3 3v-6M389.6 286.4h6m-3 3v-6M389.7 281.5h6m-3 3v-6M389.9 290.2h6m-3 3v-6M390 290.2h6m-3 3v-6M390.1 289h6m-3 3v-6M390.2 286.7h6m-3 3v-6M390.4 287h6m-3 3v-6M390.5 289.9h6m-3 3v-6M390.6 290.5h6m-3 3v-6M390.7 290.2h6m-3 3v-6M390.9 289.8h6m-3 3v-6M391 290.6h6m-3 3v-6M391.1 287.1h6m-3 3v-6M391.2 289.7h6m-3 3v-6M391.4 287.9h6m-3 3v-6M391.5 288.9h6m-3 3v-6M391.6 287.3h6m-3 3v-6M391.7 287h6m-3 3v-6M391.9 291.6h6m-3 3v-6M392 288h6m-3 3v-6M392.1 287.6h6m-3 3v-6M392.2 289.2h6m-3 3v-6M392.4 291.6h6m-3 3v-6M392.5 284.9h6m-3 3v-6M392.6 291.4h6m-3 3v-6M392.7 289.4h6m-3 3v-6M392.9 288.5h6m-3 3v-6M393 291.8h6m-3 3v-6M393.1 290.7h6m-3 3v-6M393.2 291.9h6m-3 3v-6M393.4 293.1h6m-3 3v-6M393.5 288.2h6m-3 3v-6M393.6 291.2h6m-3 3v-6M393.7 289.3h6m-3 3v-6M393.9 288.2h6m-3 3v-6M394 289.3h6m-3 3v-6M394.1 290.2h6m-3 3v-6M394.2 290.8h6m-3 3v-6M394.4 288.7h6m-3 3v-6M394.5 290.1h6m-3 3v-6M394.6 290.8h6m-3 3v-6M394.7 289.6h6m-3 3v-6M394.9 293h6m-3 3v-6M395 291.5h6m-3 3v-6M395.1 290.4h6m-3 3v-6M395.2 291.7h6m-3 3v-6M395.4 289.1h6m-3 3v-6M157.5 84.9h6m-3 3v-6M170.9 104.4h6m-3 3v-6M196.8 110.5h6m-3 3v-6M223.3 94.8h6m-3 3v-6M223.3 103.5h6m-3 3v-6M234.5 83.7h6m-3 3v-6M288.6 53.8h6m-3 3v-6M262.9 75.9h6m-3 3v-6M276.2 75.9h6m-3 3v-6M280.2 95.3h6m-3 3v-6M294 94.8h6m-3 3v-6M292.7 104.4h6m-3 3v-6M249.4 110.9h6m-3 3v-6M280.5 110.9h6m-3 3v-6M294 110.9h6m-3 3v-6M131 125.5h6m-3 3v-6M144.3 116.2h6m-3 3v-6M144.3 137.6h6m-3 3v-6M130.5 151.6h6m-3 3v-6M127 164.3h6m-3 3v-6M131.7 162.2h6m-3 3v-6M209.9 120.4h6m-3 3v-6M172.6 125.6h6m-3 3v-6M174.2 130.3h6m-3 3v-6M181.1 133.1h6m-3 3v-6M183.1 137.2h6m-3 3v-6M175.7 140.7h6m-3 3v-6M170.1 144.9h6m-3 3v-6M193.5 141.8h6m-3 3v-6M198.9 141.4h6m-3 3v-6M203 136.6h6m-3 3v-6M209.9 135.2h6m-3 3v-6M214.1 145.6h6m-3 3v-6M218.3 135.2h6m-3 3v-6M345.2 138.9h6m-3 3v-6M345.2 165.6h6m-3 3v-6M302 134.3h6m-3 3v-6M302 151.1h6m-3 3v-6M302 164.9h6m-3 3v-6M289.2 127h6m-3 3v-6M238.6 119.4h6m-3 3v-6M268.6 118.8h6m-3 3v-6M277.4 120.8h6m-3 3v-6M276 122.8h6m-3 3v-6M264.4 122.8h6m-3 3v-6M265.8 126.3h6m-3 3v-6M271.3 128.3h6m-3 3v-6M232.9 127h6m-3 3v-6M227.3 127.7h6m-3 3v-6M222.6 128.3h6m-3 3v-6M238.3 131.9h6m-3 3v-6M248 135.9h6m-3 3v-6M256.3 134.5h6m-3 3v-6M275.5 133.1h6m-3 3v-6M291.9 137.9h6m-3 3v-6M84.9 250.5h6m-3 3v-6M84.9 256.9h6m-3 3v-6M84.9 267.7h6m-3 3v-6M84.9 270.9h6m-3 3v-6M84.9 274.7h6m-3 3v-6M72.2 277.3h6m-3 3v-6M72.2 281.1h6m-3 3v-6M345.4 188.4h6m-3 3v-6M342.6 211.1h6m-3 3v-6M346.7 214.3h6m-3 3v-6M339.8 219.1h6m-3 3v-6M342.6 223.8h6m-3 3v-6M348.8 221.9h6m-3 3v-6M353.6 221.9h6m-3 3v-6M356.3 230.8h6m-3 3v-6M340.4 234.2h6m-3 3v-6M350.2 233.6h6m-3 3v-6M353.6 239.8h6m-3 3v-6M354.9 242.5h6m-3 3v-6M365.7 247.4h6m-3 3v-6M366.4 249.3h6m-3 3v-6M379.3 270h6m-3 3v-6M386.4 268.1h6m-3 3v-6M391.7 279.2h6m-3 3v-6" style="fill: #0000ff; stroke: #0000ff" /></g></g><g id="patch_3"><path d="M 57.6 307.584  L 57.6 41.472  " style="fill: none; stroke: #000000; stroke-width: 0.8; stroke-linejoin: miter; stroke-linecap: square" /></g><g id="patch_4"><path d="M 414.72 307.584  L 414.72 41.472  " style="fill: none; stroke: #000000; stroke-width: 0.8; stroke-linejoin: miter; stroke-linecap: square" /></g><g id="patch_5"><path d="M 57.6 307.584  L 414.72 307.584  " style="fill: none; stroke: #000000; stroke-width: 0.8; stroke-linejoin: miter; stroke-linecap: square" /></g><g id="patch_6"><path d="M 57.6 41.472  L 414.72 41.472  " style="fill: none; stroke: #000000; stroke-width: 0.8; stroke-linejoin: miter; stroke-linecap: square" /></g><g id="text_26"><text style="font-size: 12px; font-family: 'DejaVu Sans', sans-serif; text-anchor: middle" x="236.16" y="35.472" transform="rotate(-0 236.16 35.472)">number of rt messages</text></g><g id="legend_1"><g id="patch_7"><path d="M 318.7075 64.150125  L 407.72 64.150125  Q 409.72 64.150125 409.72 62.150125  L 409.72 48.472  Q 409.72 46.472 407.72 46.472  L 318.7075 46.472  Q 316.7075 46.472 316.7075 48.472  L 316.7075 62.150125  Q 316.7075 64.150125 318.7075 64.150125  z " style="fill: #ffffff; opacity: 0.8; stroke: #cccccc; stroke-linejoin: miter" /></g><g id="line2d_24"><g><path d="M327.7 54.6h6m-3 3v-6" style="fill: #0000ff; stroke: #0000ff" /></g></g><g id="text_27"><text style="font-size: 10px; font-family: 'DejaVu Sans', sans-serif; text-anchor: start" x="348.7075" y="58.070438" transform="rotate(-0 348.7075 58.070438)">delay msgs</text></g></g></g></g><defs><clipPath id="p02d3b5d28d"><rect x="57.6" y="41.472" width="357.12" height="266.112" /></clipPath></defs></svg>
<svg x="342.5" y="19.1" width="342.5" height="256.9" viewBox="0 0 460.8 345.6"><defs><style type="text/css">*{stroke-linejoin: round; stroke-linecap: butt}</style></defs><g id="figure_1"><g id="patch_1"><path d="M 0 345.6  L 460.8 345.6  L 460.8 0  L 0 0  z " style="fill: #ffffff" /></g><g id="axes_1"><g id="patch_2"><path d="M 57.6 307.584  L 414.72 307.584  L 414.72 41.472  L 57.6 41.472  z " style="fill: #ffffff" /></g><g id="matplotlib.axis_1"><g id="xtick_1"><g id="line2d_1"><g><path d="M73.8 307.6v3.5" style="stroke: #000000; stroke-width: 0.8" /></g></g><g id="text_1"><text style="font-size: 10px; font-family: 'DejaVu Sans', sans-serif; text-anchor: middle" x="73.832727" y="322.182437" transform="rotate(-0 73.832727 322.182437)">0</text></g></g><g id="xtick_2"><g id="line2d_2"><g><path d="M100.9 307.6v3.5" style="stroke: #000000; stroke-width: 0.8" /></g></g><g id="text_2"><text style="font-size: 10px; font-family: 'DejaVu Sans', sans-serif; text-anchor: middle" x="100.887273" y="322.182437" transform="rotate(-0 100.887273 322.182437)">2</text></g></g><g id="xtick_3"><g id="line2d_3"><g><path d="M127.9 307.6v3.5" style="stroke: #000000; stroke-width: 0.8" /></g></g><g id="text_3"><text style="font-size: 10px; font-family: 'DejaVu Sans', sans-serif; text-anchor: middle" x="127.941818" y="322.182437" transform="rotate(-0 127.941818 322.182437)">4</text></g></g><g id="xtick_4"><g id="line2d_4"><g><path d="M155 307.6v3.5" style="stroke: #000000; stroke-width: 0.8" /></g></g><g id="text_4"><text style="font-size: 10px; font-family: 'DejaVu Sans', sans-serif; text-anchor: middle" x="154.996364" y="322.182437" transform="rotate(-0 154.996364 322.182437)">6</text></g></g><g id="xtick_5"><g id="line2d_5"><g><path d="M182.1 307.6v3.5" style="stroke: #000000; stroke-width: 0.8" /></g></g><g id="text_5"><text style="font-size: 10px; font-family: 'DejaVu Sans', sans-serif; text-anchor: middle" x="182.050909" y="322.182437" transform="rotate(-0 182.050909 322.182437)">8</text></g></g><g id="xtick_6"><g id="line2d_6"><g><path d="M209.1 307.6v3.5" style="stroke: #000000; stroke-width: 0.8" /></g></g><g id="text_6"><text style="font-size: 10px; font-family: 'DejaVu Sans', sans-serif; text-anchor: middle" x="209.105455" y="322.182437" transform="rotate(-0 209.105455 322.182437)">10</text></g></g><g id="xtick_7"><g id="line2d_7"><g><path d="M236.2 307.6v3.5" style="stroke: #000000; stroke-width: 0.8" /></g></g><g id="text_7"><text style="font-size: 10px; font-family: 'DejaVu Sans', sans-serif; text-anchor: middle" x="236.16" y="322.182437" transform="rotate(-0 236.16 322.182437)">12</text></g></g><g id="xtick_8"><g id="line2d_8"><g><path d="M263.2 307.6v3.5" style="stroke: #000000; stroke-width: 0.8" /></g></g><g id="text_8"><text style="font-size: 10px; font-family: 'DejaVu Sans', sans-serif; text-anchor: middle" x="263.214545" y="322.182437" transform="rotate(-0 263.214545 322.182437)">14</text></g></g><g id="xtick_9"><g id="line2d_9"><g><path d="M290.3 307.6v3.5" style="stroke: #000000; stroke-width: 0.8" /></g></g><g id="text_9"><text style="font-size: 10px; font-family: 'DejaVu Sans', sans-serif; text-anchor: middle" x="290.269091" y="322.182437" transform="rotate(-0 290.269091 322.182437)">16</text></g></g><g id="xtick_10"><g id="line2d_10"><g><path d="M317.3 307.6v3.5" style="stroke: #000000; stroke-width: 0.8" /></g></g><g id="text_10"><text style="font-size: 10px; font-family: 'DejaVu Sans', sans-serif; text-anchor: middle" x="317.323636" y="322.182437" transform="rotate(-0 317.323636 322.182437)">18</text></g></g><g id="xtick_11"><g id="line2d_11"><g><path d="M344.4 307.6v3.5" style="stroke: #000000; stroke-width: 0.8" /></g></g><g id="text_11"><text style="font-size: 10px; font-family: 'DejaVu Sans', sans-serif; text-anchor: middle" x="344.378182" y="322.182437" transform="rotate(-0 344.378182 322.182437)">20</text></g></g><g id="xtick_12"><g id="line2d_12"><g><path d="M371.4 307.6v3.5" style="stroke: #000000; stroke-width: 0.8" /></g></g><g id="text_12"><text style="font-size: 10px; font-family: 'DejaVu Sans', sans-serif; text-anchor: middle" x="371.432727" y="322.182437" transform="rotate(-0 371.432727 322.182437)">22</text></g></g><g id="xtick_13"><g id="line2d_13"><g><path d="M398.5 307.6v3.5" style="stroke: #000000; stroke-width: 0.8" /></g></g><g id="text_13"><text style="font-size: 10px; font-family: 'DejaVu Sans', sans-serif; text-anchor: middle" x="398.487273" y="322.182437" transform="rotate(-0 398.487273 322.182437)">24</text></g></g><g id="text_14"><text style="font-size: 10px; font-family: 'DejaVu Sans', sans-serif; text-anchor: middle" x="236.16" y="335.860562" transform="rotate(-0 236.16 335.860562)">time</text></g></g><g id="matplotlib.axis_2"><g id="ytick_1"><g id="line2d_14"><g><path d="M57.6 295.5h-3.5" style="stroke: #000000; stroke-width: 0.8" /></g></g><g id="text_15"><text style="font-size: 10px; font-family: 'DejaVu Sans', sans-serif; text-anchor: end" x="50.6" y="299.309319" transform="rotate(-0 50.6 299.309319)">0.0</text></g></g><g id="ytick_2"><g id="line2d_15"><g><path d="M57.6 255h-3.5" style="stroke: #000000; stroke-width: 0.8" /></g></g><g id="text_16"><text style="font-size: 10px; font-family: 'DejaVu Sans', sans-serif; text-anchor: end" x="50.6" y="258.792875" transform="rotate(-0 50.6 258.792875)">0.5</text></g></g><g id="ytick_3"><g id="line2d_16"><g><path d="M57.6 214.5h-3.5" style="stroke: #000000; stroke-width: 0.8" /></g></g><g id="text_17"><text style="font-size: 10px; font-family: 'DejaVu Sans', sans-serif; text-anchor: end" x="50.6" y="218.276432" transform="rotate(-0 50.6 218.276432)">1.0</text></g></g><g id="ytick_4"><g id="line2d_17"><g><path d="M57.6 174h-3.5" style="stroke: #000000; stroke-width: 0.8" /></g></g><g id="text_18"><text style="font-size: 10px; font-family: 'DejaVu Sans', sans-serif; text-anchor: end" x="50.6" y="177.759989" transform="rotate(-0 50.6 177.759989)">1.5</text></g></g><g id="ytick_5"><g id="line2d_18"><g><path d="M57.6 133.4h-3.5" style="stroke: #000000; stroke-width: 0.8" /></g></g><g id="text_19"><text style="font-size: 10px; font-family: 'DejaVu Sans', sans-serif; text-anchor: end" x="50.6" y="137.243545" transform="rotate(-0 50.6 137.243545)">2.0</text></g></g><g id="ytick_6"><g id="line2d_19"><g><path d="M57.6 92.9h-3.5" style="stroke: #000000; stroke-width: 0.8" /></g></g><g id="text_20"><text style="font-size: 10px; font-family: 'DejaVu Sans', sans-serif; text-anchor: end" x="50.6" y="96.727102" transform="rotate(-0 50.6 96.727102)">2.5</text></g></g><g id="ytick_7"><g id="line2d_20"><g><path d="M57.6 52.4h-3.5" style="stroke: #000000; stroke-width: 0.8" /></g></g><g id="text_21"><text style="font-size: 10px; font-family: 'DejaVu Sans', sans-serif; text-anchor: end" x="50.6" y="56.210658" transform="rotate(-0 50.6 56.210658)">3.0</text></g></g><g id="text_22"><text style="font-size: 10px; font-family: 'DejaVu Sans', sans-serif; text-anchor: middle" x="28.617188" y="174.528" transform="rotate(-90 28.617188 174.528)">number of msgs</text></g><g id="text_23"><text style="font-size: 10px; font-family: 'DejaVu Sans', sans-serif; text-anchor: start" x="57.6" y="38.472" transform="rotate(-0 57.6 38.472)">1e3</text></g></g><g id="line2d_21"><g clip-path="url(#p02d3b5d28dr)"><path d="M74.5 286.5l-3 6h6zM74.7 291.2l-3 6h6zM74.8 285.8l-3 6h6zM74.9 287.8l-3 6h6zM75.1 289.6l-3 6h6zM75.2 288.2l-3 6h6zM75.4 284.5l-3 6h6zM75.5 288.1l-3 6h6zM75.6 290.5l-3 6h6zM75.8 289.3l-3 6h6zM75.9 286.3l-3 6h6zM76.1 291l-3 6h6zM76.2 290.3l-3 6h6zM76.3 286.1l-3 6h6zM76.5 290.5l-3 6h6zM76.6 286.9l-3 6h6zM76.8 292l-3 6h6zM76.9 288.3l-3 6h6zM77 290.2l-3 6h6zM77.2 292.3l-3 6h6zM77.3 288.2l-3 6h6zM77.5 284.7l-3 6h6zM77.6 289.8l-3 6h6zM77.8 288.9l-3 6h6zM77.9 287.3l-3 6h6zM78 292.1l-3 6h6zM78.2 288.3l-3 6h6zM78.3 291.2l-3 6h6zM78.5 291.2l-3 6h6zM78.6 287.1l-3 6h6zM78.7 285.1l-3 6h6zM78.9 290.7l-3 6h6zM79 283.7l-3 6h6zM79.2 290.1l-3 6h6zM79.3 291.6l-3 6h6zM79.4 284.1l-3 6h6zM79.6 289.8l-3 6h6zM79.7 285.5l-3 6h6zM79.9 286.3l-3 6h6zM80 289.9l-3 6h6zM80.1 289l-3 6h6zM80.3 282l-3 6h6zM80.4 288l-3 6h6zM80.6 282.8l-3 6h6zM80.7 289.4l-3 6h6zM80.8 282.8l-3 6h6zM81 289.8l-3 6h6zM81.1 287.6l-3 6h6zM81.3 286.1l-3 6h6zM81.4 288.1l-3 6h6zM81.6 284.5l-3 6h6zM81.7 288.2l-3 6h6zM81.8 292.3l-3 6h6zM82 290.4l-3 6h6zM82.1 290.8l-3 6h6zM82.3 287.6l-3 6h6zM82.4 281.4l-3 6h6zM82.5 287l-3 6h6zM82.7 282.1l-3 6h6zM82.8 281l-3 6h6zM83 281.4l-3 6h6zM83.1 280.5l-3 6h6zM83.2 283.7l-3 6h6zM83.4 288.6l-3 6h6zM83.5 288.3l-3 6h6zM83.7 278.4l-3 6h6zM83.8 290.2l-3 6h6zM84 280.3l-3 6h6zM84.1 290.6l-3 6h6zM84.2 284.7l-3 6h6zM84.4 291.2l-3 6h6zM84.5 289l-3 6h6zM84.7 287.6l-3 6h6zM84.8 289.3l-3 6h6zM84.9 287.7l-3 6h6zM85.1 283.6l-3 6h6zM85.2 291.5l-3 6h6zM85.4 289.9l-3 6h6zM85.5 285.5l-3 6h6zM85.6 287.3l-3 6h6zM85.8 286.9l-3 6h6zM85.9 285.9l-3 6h6zM86.1 281.5l-3 6h6zM86.2 281.1l-3 6h6zM86.3 280.1l-3 6h6zM86.5 284.3l-3 6h6zM86.6 292.3l-3 6h6zM86.8 268.9l-3 6h6zM86.9 285l-3 6h6zM87 292.4l-3 6h6zM87.2 290.7l-3 6h6zM87.3 284.2l-3 6h6zM87.5 291.9l-3 6h6zM87.6 286.6l-3 6h6zM87.8 291.3l-3 6h6zM87.9 286.7l-3 6h6zM88 285.2l-3 6h6zM88.2 274.1l-3 6h6zM88.3 290.1l-3 6h6zM88.5 279.5l-3 6h6zM88.6 290.6l-3 6h6zM88.7 283.6l-3 6h6zM88.9 291l-3 6h6zM89 282.1l-3 6h6zM89.2 276.9l-3 6h6zM89.3 286.5l-3 6h6zM89.4 276.4l-3 6h6zM89.6 281.1l-3 6h6zM89.7 273.8l-3 6h6zM89.9 274.7l-3 6h6zM90 263.9l-3 6h6zM90.2 279.4l-3 6h6zM90.3 286.4l-3 6h6zM90.4 278.7l-3 6h6zM90.6 281.4l-3 6h6zM90.7 276.2l-3 6h6zM90.9 284.4l-3 6h6zM91 276l-3 6h6zM91.1 279.2l-3 6h6zM91.3 276.8l-3 6h6zM91.4 281.3l-3 6h6zM91.6 288.3l-3 6h6zM91.7 287.1l-3 6h6zM91.8 276.3l-3 6h6zM92 278.5l-3 6h6zM92.1 280.7l-3 6h6zM92.3 290.2l-3 6h6zM92.4 284.3l-3 6h6zM92.5 290.2l-3 6h6zM92.7 275.4l-3 6h6zM92.8 282l-3 6h6zM93 292.2l-3 6h6zM93.1 287.9l-3 6h6zM93.2 271.2l-3 6h6zM93.4 273.6l-3 6h6zM93.5 271.7l-3 6h6zM93.7 290.4l-3 6h6zM93.8 290l-3 6h6zM94 250.8l-3 6h6zM94.1 268.6l-3 6h6zM94.2 276.2l-3 6h6zM94.4 292.5l-3 6h6zM94.5 284.8l-3 6h6zM94.7 278.2l-3 6h6zM94.8 278.7l-3 6h6zM94.9 265.6l-3 6h6zM95.1 266.1l-3 6h6zM95.2 271.1l-3 6h6zM95.4 276.3l-3 6h6zM95.5 288.1l-3 6h6zM95.6 271.1l-3 6h6zM95.8 269.8l-3 6h6zM95.9 275.3l-3 6h6zM96.1 274.3l-3 6h6zM96.2 292.1l-3 6h6zM96.3 276.8l-3 6h6zM96.5 292.3l-3 6h6zM96.6 265.2l-3 6h6zM96.8 286.5l-3 6h6zM96.9 281.4l-3 6h6zM97.1 290.5l-3 6h6zM97.2 273.7l-3 6h6zM97.3 269.5l-3 6h6zM97.5 284.4l-3 6h6zM97.6 281.5l-3 6h6zM97.8 289l-3 6h6zM97.9 280.3l-3 6h6zM98 276.3l-3 6h6zM98.2 283.9l-3 6h6zM98.3 255.8l-3 6h6zM98.5 285.9l-3 6h6zM98.6 291l-3 6h6zM98.7 270.1l-3 6h6zM98.9 261.4l-3 6h6zM99 276.4l-3 6h6zM99.2 265.3l-3 6h6zM99.3 281.3l-3 6h6zM99.5 261.9l-3 6h6zM99.6 278l-3 6h6zM99.7 262.2l-3 6h6zM99.9 286.6l-3 6h6zM100 256l-3 6h6zM100.2 287.8l-3 6h6zM100.3 239.9l-3 6h6zM100.4 281.8l-3 6h6zM100.6 284.9l-3 6h6zM100.7 257.1l-3 6h6zM100.9 249.8l-3 6h6zM101 253l-3 6h6zM101.1 252.4l-3 6h6zM101.3 275.1l-3 6h6zM101.4 285.6l-3 6h6zM101.6 272l-3 6h6zM101.7 274.7l-3 6h6zM101.8 253.9l-3 6h6zM102 269.7l-3 6h6zM102.1 289.6l-3 6h6zM102.3 256.8l-3 6h6zM102.4 286.3l-3 6h6zM102.5 265.4l-3 6h6zM102.7 291.9l-3 6h6zM102.8 287l-3 6h6zM103 291.4l-3 6h6zM103.1 289.5l-3 6h6zM103.3 281.5l-3 6h6zM103.4 276.2l-3 6h6zM103.5 254.8l-3 6h6zM103.7 254.4l-3 6h6zM103.8 284.1l-3 6h6zM104 270.6l-3 6h6zM104.1 273.6l-3 6h6zM104.2 273.1l-3 6h6zM104.4 261.9l-3 6h6zM104.5 250.7l-3 6h6zM104.7 276.1l-3 6h6zM104.8 278.9l-3 6h6zM104.9 263.1l-3 6h6zM105.1 254.4l-3 6h6zM105.2 283.8l-3 6h6zM105.4 274.2l-3 6h6zM105.5 252.8l-3 6h6zM105.7 266.7l-3 6h6zM105.8 275.2l-3 6h6zM105.9 285.6l-3 6h6zM106.1 251.9l-3 6h6zM106.2 268.7l-3 6h6zM106.4 231.2l-3 6h6zM106.5 232.9l-3 6h6zM106.6 267.9l-3 6h6zM106.8 291.3l-3 6h6zM106.9 254.7l-3 6h6zM107.1 280.4l-3 6h6zM107.2 282.6l-3 6h6zM107.3 261.1l-3 6h6zM107.5 255.9l-3 6h6zM107.6 286.8l-3 6h6zM107.8 268.9l-3 6h6zM107.9 273.3l-3 6h6zM108 286.2l-3 6h6zM108.2 288.4l-3 6h6zM108.3 264.5l-3 6h6zM108.5 291.5l-3 6h6zM108.6 259l-3 6h6zM108.8 285.9l-3 6h6zM108.9 285.3l-3 6h6zM109 265.8l-3 6h6zM109.2 255.3l-3 6h6zM109.3 251.9l-3 6h6zM109.5 271.8l-3 6h6zM109.6 273.5l-3 6h6zM109.7 273l-3 6h6zM109.9 272.2l-3 6h6zM110 269.9l-3 6h6zM110.2 248.7l-3 6h6zM110.3 252.6l-3 6h6zM110.4 264.9l-3 6h6zM110.6 255.1l-3 6h6zM110.7 266.7l-3 6h6zM110.9 275.3l-3 6h6zM111 237.9l-3 6h6zM111.1 286.9l-3 6h6zM111.3 267.3l-3 6h6zM111.4 241.4l-3 6h6zM111.6 284.6l-3 6h6zM111.7 285.7l-3 6h6zM111.8 243.2l-3 6h6zM112 265.1l-3 6h6zM112.1 258.9l-3 6h6zM112.3 284.4l-3 6h6zM112.4 249.9l-3 6h6zM112.6 289.7l-3 6h6zM112.7 259.8l-3 6h6zM112.8 265l-3 6h6zM113 289.1l-3 6h6zM113.1 270.7l-3 6h6zM113.3 283.6l-3 6h6zM113.4 292.3l-3 6h6zM113.5 263l-3 6h6zM113.7 270.2l-3 6h6zM113.8 291.8l-3 6h6zM114 263l-3 6h6zM114.1 275.3l-3 6h6zM114.2 278.6l-3 6h6zM114.4 267.8l-3 6h6zM114.5 270.3l-3 6h6zM114.7 263.8l-3 6h6zM114.8 231.4l-3 6h6zM115 267.6l-3 6h6zM115.1 263.5l-3 6h6zM115.2 271.1l-3 6h6zM115.4 276l-3 6h6zM115.5 288.7l-3 6h6zM115.7 254.9l-3 6h6zM115.8 271.6l-3 6h6zM115.9 253.5l-3 6h6zM116.1 254.6l-3 6h6zM116.2 241.5l-3 6h6zM116.4 275l-3 6h6zM116.5 290.5l-3 6h6zM116.6 260.6l-3 6h6zM116.8 255.6l-3 6h6zM116.9 255.2l-3 6h6zM117.1 288.9l-3 6h6zM117.2 283l-3 6h6zM117.3 283.5l-3 6h6zM117.5 265.5l-3 6h6zM117.6 291.8l-3 6h6zM117.8 231.8l-3 6h6zM117.9 279.3l-3 6h6zM118 261.8l-3 6h6zM118.2 263.2l-3 6h6zM118.3 282.2l-3 6h6zM118.5 289.6l-3 6h6zM118.6 254.8l-3 6h6zM118.8 264.4l-3 6h6zM118.9 260.8l-3 6h6zM119 261.5l-3 6h6zM119.2 289.9l-3 6h6zM119.3 291.7l-3 6h6zM119.5 252.9l-3 6h6zM119.6 285.5l-3 6h6zM119.7 284.1l-3 6h6zM119.9 254.1l-3 6h6zM120 260.6l-3 6h6zM120.2 288.6l-3 6h6zM120.3 285.1l-3 6h6zM120.4 268.7l-3 6h6zM120.6 285.4l-3 6h6zM120.7 271.6l-3 6h6zM120.9 257.8l-3 6h6zM121 290.2l-3 6h6zM121.2 266.6l-3 6h6zM121.3 262.7l-3 6h6zM121.4 258.4l-3 6h6zM121.6 273.7l-3 6h6zM121.7 267.9l-3 6h6zM121.9 253.1l-3 6h6zM122 284l-3 6h6zM122.1 277l-3 6h6zM122.3 255.7l-3 6h6zM122.4 276.7l-3 6h6zM122.6 281.8l-3 6h6zM122.7 286.5l-3 6h6zM122.8 253.1l-3 6h6zM123 257.4l-3 6h6zM123.1 279.3l-3 6h6zM123.3 288.7l-3 6h6zM123.4 292.5l-3 6h6zM123.5 253.3l-3 6h6zM123.7 274.3l-3 6h6zM123.8 246.9l-3 6h6zM124 266.5l-3 6h6zM124.1 269.3l-3 6h6zM124.2 270.6l-3 6h6zM124.4 285.9l-3 6h6zM124.5 285.6l-3 6h6zM124.7 253.5l-3 6h6zM124.8 273.6l-3 6h6zM125 269.8l-3 6h6zM125.1 253l-3 6h6zM125.2 259.4l-3 6h6zM125.4 277.4l-3 6h6zM125.5 292.5l-3 6h6zM125.7 263.7l-3 6h6zM125.8 253.4l-3 6h6zM125.9 289.3l-3 6h6zM126.1 257.2l-3 6h6zM126.2 254.5l-3 6h6zM126.4 261.9l-3 6h6zM126.5 256.8l-3 6h6zM126.6 259.9l-3 6h6zM126.8 279.6l-3 6h6zM126.9 288.2l-3 6h6zM127.1 277.4l-3 6h6zM127.2 253.7l-3 6h6zM127.3 280.1l-3 6h6zM127.5 253.5l-3 6h6zM127.6 273.4l-3 6h6zM127.8 272.7l-3 6h6zM127.9 252.1l-3 6h6zM128.1 281.3l-3 6h6zM128.2 257.4l-3 6h6zM128.3 246.3l-3 6h6zM128.5 266.5l-3 6h6zM128.6 256.5l-3 6h6zM128.8 268.1l-3 6h6zM128.9 276.5l-3 6h6zM129 254.9l-3 6h6zM129.2 272.8l-3 6h6zM129.3 269.3l-3 6h6zM129.5 283.6l-3 6h6zM129.6 261.3l-3 6h6zM129.7 270.1l-3 6h6zM129.9 284l-3 6h6zM130 291.5l-3 6h6zM130.2 233.5l-3 6h6zM130.3 287.5l-3 6h6zM130.4 254.1l-3 6h6zM130.6 270l-3 6h6zM130.7 254.1l-3 6h6zM130.9 235l-3 6h6zM131 223.6l-3 6h6zM131.2 272l-3 6h6zM131.3 276.1l-3 6h6zM131.4 254.5l-3 6h6zM131.6 277.5l-3 6h6zM131.7 254.1l-3 6h6zM131.9 273.3l-3 6h6zM132 262.9l-3 6h6zM132.1 252.5l-3 6h6zM132.3 270l-3 6h6zM132.4 290.7l-3 6h6zM132.6 288.2l-3 6h6zM132.7 275l-3 6h6zM132.8 272.9l-3 6h6zM133 255.8l-3 6h6zM133.1 271l-3 6h6zM133.3 249.3l-3 6h6zM133.4 274.6l-3 6h6zM133.6 285.6l-3 6h6zM133.7 265l-3 6h6zM133.8 245.8l-3 6h6zM134 284.1l-3 6h6zM134.1 263l-3 6h6zM134.3 267.5l-3 6h6zM134.4 260.1l-3 6h6zM134.5 291.6l-3 6h6zM134.7 277.8l-3 6h6zM134.8 275.6l-3 6h6zM135 258.1l-3 6h6zM135.1 284.7l-3 6h6zM135.2 272.4l-3 6h6zM135.4 271.9l-3 6h6zM135.5 267.5l-3 6h6zM135.7 253.8l-3 6h6zM135.8 287.9l-3 6h6zM135.9 291.1l-3 6h6zM136.1 254.8l-3 6h6zM136.2 276.3l-3 6h6zM136.4 264.6l-3 6h6zM136.5 252.4l-3 6h6zM136.7 265.9l-3 6h6zM136.8 277.2l-3 6h6zM136.9 290l-3 6h6zM137.1 256.5l-3 6h6zM137.2 266.7l-3 6h6zM137.4 270.7l-3 6h6zM137.5 255.9l-3 6h6zM137.6 240l-3 6h6zM137.8 270.8l-3 6h6zM137.9 290.1l-3 6h6zM138.1 268.2l-3 6h6zM138.2 270.3l-3 6h6zM138.3 259l-3 6h6zM138.5 246.7l-3 6h6zM138.6 266l-3 6h6zM138.8 291.5l-3 6h6zM138.9 283.2l-3 6h6zM139 264l-3 6h6zM139.2 283.9l-3 6h6zM139.3 268l-3 6h6zM139.5 273.9l-3 6h6zM139.6 254.7l-3 6h6zM139.8 257.1l-3 6h6zM139.9 249.7l-3 6h6zM140 238.3l-3 6h6zM140.2 270.9l-3 6h6zM140.3 282.7l-3 6h6zM140.5 255.8l-3 6h6zM140.6 252.5l-3 6h6zM140.7 255.4l-3 6h6zM140.9 252.8l-3 6h6zM141 280.3l-3 6h6zM141.2 261.8l-3 6h6zM141.3 274l-3 6h6zM141.4 283l-3 6h6zM141.6 252.9l-3 6h6zM141.7 275.9l-3 6h6zM141.9 286.1l-3 6h6zM142 287.6l-3 6h6zM142.1 253.1l-3 6h6zM142.3 256.2l-3 6h6zM142.4 285.6l-3 6h6zM142.6 284.9l-3 6h6zM142.7 280.8l-3 6h6zM142.8 288.7l-3 6h6zM143 286.9l-3 6h6zM143.1 288.5l-3 6h6zM143.3 257l-3 6h6zM143.4 253.3l-3 6h6zM143.6 261l-3 6h6zM143.7 251l-3 6h6zM143.8 290.4l-3 6h6zM144 269.2l-3 6h6zM144.1 277.5l-3 6h6zM144.3 253.9l-3 6h6zM144.4 282.9l-3 6h6zM144.5 270.4l-3 6h6zM144.7 252.9l-3 6h6zM144.8 270.7l-3 6h6zM145 274.9l-3 6h6zM145.1 266.7l-3 6h6zM145.2 281.9l-3 6h6zM145.4 290.5l-3 6h6zM145.5 281l-3 6h6zM145.7 274.3l-3 6h6zM145.8 273.9l-3 6h6zM145.9 274.1l-3 6h6zM146.1 271.1l-3 6h6zM146.2 266.1l-3 6h6zM146.4 252.9l-3 6h6zM146.5 260.8l-3 6h6zM146.7 281.7l-3 6h6zM146.8 288.3l-3 6h6zM146.9 286.9l-3 6h6zM147.1 274.3l-3 6h6zM147.2 275.2l-3 6h6zM147.4 288l-3 6h6zM147.5 260.3l-3 6h6zM147.6 252.2l-3 6h6zM147.8 274.2l-3 6h6zM147.9 247.9l-3 6h6zM148.1 263.5l-3 6h6zM148.2 263.8l-3 6h6zM148.3 291.3l-3 6h6zM148.5 253.6l-3 6h6zM148.6 290.5l-3 6h6zM148.8 237.3l-3 6h6zM148.9 256.4l-3 6h6zM149.1 272.6l-3 6h6zM149.2 264.5l-3 6h6zM149.3 266l-3 6h6zM149.5 237.5l-3 6h6zM149.6 252.8l-3 6h6zM149.8 240.2l-3 6h6zM149.9 279.7l-3 6h6zM150 243.6l-3 6h6zM150.2 289.7l-3 6h6zM150.3 278l-3 6h6zM150.5 284.8l-3 6h6zM150.6 272.3l-3 6h6zM150.7 260.7l-3 6h6zM150.9 262.3l-3 6h6zM151 253.7l-3 6h6zM151.2 255.1l-3 6h6zM151.3 270.3l-3 6h6zM151.4 257.7l-3 6h6zM151.6 277l-3 6h6zM151.7 266.9l-3 6h6zM151.9 278.3l-3 6h6zM152 254.3l-3 6h6zM152.2 274.9l-3 6h6zM152.3 279.2l-3 6h6zM152.4 273.4l-3 6h6zM152.6 273.2l-3 6h6zM152.7 278.4l-3 6h6zM152.9 269.4l-3 6h6zM153 269.6l-3 6h6zM153.1 263.2l-3 6h6zM153.3 265.4l-3 6h6zM153.4 279.8l-3 6h6zM153.6 280.6l-3 6h6zM153.7 275.1l-3 6h6zM153.8 286.8l-3 6h6zM154 255.2l-3 6h6zM154.1 266.2l-3 6h6zM154.3 290l-3 6h6zM154.4 284.6l-3 6h6zM154.5 243.8l-3 6h6zM154.7 283.1l-3 6h6zM154.8 270.6l-3 6h6zM155 261.9l-3 6h6zM155.1 243.6l-3 6h6zM155.2 278.2l-3 6h6zM155.4 271l-3 6h6zM155.5 278.2l-3 6h6zM155.7 255.5l-3 6h6zM155.8 258.9l-3 6h6zM156 282.1l-3 6h6zM156.1 272.6l-3 6h6zM156.2 268.7l-3 6h6zM156.4 268.8l-3 6h6zM156.5 253.2l-3 6h6zM156.7 264.9l-3 6h6zM156.8 254.2l-3 6h6zM156.9 273.6l-3 6h6zM157.1 288.8l-3 6h6zM157.2 274.8l-3 6h6zM157.4 284l-3 6h6zM157.5 291.6l-3 6h6zM157.6 265l-3 6h6zM157.8 279.1l-3 6h6zM157.9 258.2l-3 6h6zM158.1 280.3l-3 6h6zM158.2 290.1l-3 6h6zM158.3 292.4l-3 6h6zM158.5 258.8l-3 6h6zM158.6 272.2l-3 6h6zM158.8 252.9l-3 6h6zM158.9 260.3l-3 6h6zM159.1 257.8l-3 6h6zM159.2 270.1l-3 6h6zM159.3 286.3l-3 6h6zM159.5 229.9l-3 6h6zM159.6 287.3l-3 6h6zM159.8 282l-3 6h6zM159.9 238.4l-3 6h6zM160 231.4l-3 6h6zM160.2 284.9l-3 6h6zM160.3 257.2l-3 6h6zM160.5 285.5l-3 6h6zM160.6 281.2l-3 6h6zM160.7 271.6l-3 6h6zM160.9 284.8l-3 6h6zM161 282.2l-3 6h6zM161.2 283.9l-3 6h6zM161.3 281.4l-3 6h6zM161.4 276.9l-3 6h6zM161.6 285.3l-3 6h6zM161.7 262.4l-3 6h6zM161.9 274l-3 6h6zM162 270.5l-3 6h6zM162.2 275l-3 6h6zM162.3 264.8l-3 6h6zM162.4 258.2l-3 6h6zM162.6 255.3l-3 6h6zM162.7 276.8l-3 6h6zM162.9 252.8l-3 6h6zM163 290.5l-3 6h6zM163.1 262.2l-3 6h6zM163.3 256.8l-3 6h6zM163.4 276.9l-3 6h6zM163.6 273.9l-3 6h6zM163.7 255.9l-3 6h6zM163.8 252.4l-3 6h6zM164 265.6l-3 6h6zM164.1 283.5l-3 6h6zM164.3 275.2l-3 6h6zM164.4 286.1l-3 6h6zM164.6 277.8l-3 6h6zM164.7 223.6l-3 6h6zM164.8 280.5l-3 6h6zM165 271l-3 6h6zM165.1 279.3l-3 6h6zM165.3 256.8l-3 6h6zM165.4 240.2l-3 6h6zM165.5 268.5l-3 6h6zM165.7 253.5l-3 6h6zM165.8 281.4l-3 6h6zM166 280.1l-3 6h6zM166.1 286.6l-3 6h6zM166.2 243.2l-3 6h6zM166.4 257.3l-3 6h6zM166.5 282.3l-3 6h6zM166.7 272.4l-3 6h6zM166.8 281.5l-3 6h6zM166.9 274l-3 6h6zM167.1 275.2l-3 6h6zM167.2 257.1l-3 6h6zM167.4 261.9l-3 6h6zM167.5 286.5l-3 6h6zM167.7 284.5l-3 6h6zM167.8 264.8l-3 6h6zM167.9 257.1l-3 6h6zM168.1 276.6l-3 6h6zM168.2 255.1l-3 6h6zM168.4 256.5l-3 6h6zM168.5 281.4l-3 6h6zM168.6 286.4l-3 6h6zM168.8 260.9l-3 6h6zM168.9 256.3l-3 6h6zM169.1 260l-3 6h6zM169.2 284.4l-3 6h6zM169.3 263.4l-3 6h6zM169.5 260.8l-3 6h6zM169.6 290.1l-3 6h6zM169.8 253l-3 6h6zM169.9 273.8l-3 6h6zM170 286.5l-3 6h6zM170.2 254.2l-3 6h6zM170.3 259l-3 6h6zM170.5 283.7l-3 6h6zM170.6 283.1l-3 6h6zM170.8 272.9l-3 6h6zM170.9 237.1l-3 6h6zM171 288.8l-3 6h6zM171.2 253.8l-3 6h6zM171.3 265.3l-3 6h6zM171.5 271.7l-3 6h6zM171.6 245.1l-3 6h6zM171.7 262.1l-3 6h6zM171.9 264.2l-3 6h6zM172 277.8l-3 6h6zM172.2 256l-3 6h6zM172.3 277.3l-3 6h6zM172.4 259.4l-3 6h6zM172.6 252.6l-3 6h6zM172.7 260.3l-3 6h6zM172.9 276.4l-3 6h6zM173 260.2l-3 6h6zM173.1 278.5l-3 6h6zM173.3 267l-3 6h6zM173.4 241.2l-3 6h6zM173.6 263.4l-3 6h6zM173.7 279.6l-3 6h6zM173.8 285.6l-3 6h6zM174 248.7l-3 6h6zM174.1 264.8l-3 6h6zM174.3 256.6l-3 6h6zM174.4 278.5l-3 6h6zM174.6 249.9l-3 6h6zM174.7 288l-3 6h6zM174.8 276.1l-3 6h6zM175 267.9l-3 6h6zM175.1 263l-3 6h6zM175.3 241.6l-3 6h6zM175.4 254.3l-3 6h6zM175.5 255.7l-3 6h6zM175.7 284.5l-3 6h6zM175.8 260.4l-3 6h6zM176 279.9l-3 6h6zM176.1 266.1l-3 6h6zM176.2 289.3l-3 6h6zM176.4 278.5l-3 6h6zM176.5 256.1l-3 6h6zM176.7 278l-3 6h6zM176.8 285.4l-3 6h6zM176.9 269.2l-3 6h6zM177.1 271.9l-3 6h6zM177.2 273l-3 6h6zM177.4 287.6l-3 6h6zM177.5 276.3l-3 6h6zM177.7 271.5l-3 6h6zM177.8 281.4l-3 6h6zM177.9 268.9l-3 6h6zM178.1 266.5l-3 6h6zM178.2 262.5l-3 6h6zM178.4 255l-3 6h6zM178.5 261.2l-3 6h6zM178.6 282.2l-3 6h6zM178.8 278.2l-3 6h6zM178.9 265.8l-3 6h6zM179.1 273.6l-3 6h6zM179.2 264.5l-3 6h6zM179.3 257.5l-3 6h6zM179.5 257.3l-3 6h6zM179.6 245.7l-3 6h6zM179.8 260.5l-3 6h6zM179.9 285.6l-3 6h6zM180.1 262.4l-3 6h6zM180.2 262.7l-3 6h6zM180.3 268.6l-3 6h6zM180.5 275.5l-3 6h6zM180.6 255.4l-3 6h6zM180.8 262.1l-3 6h6zM180.9 292.1l-3 6h6zM181 277.5l-3 6h6zM181.2 292.2l-3 6h6zM181.3 289.5l-3 6h6zM181.5 266.1l-3 6h6zM181.6 286.2l-3 6h6zM181.7 273.2l-3 6h6zM181.9 280.7l-3 6h6zM182 235.8l-3 6h6zM182.2 262l-3 6h6zM182.3 285l-3 6h6zM182.4 265.1l-3 6h6zM182.6 289.8l-3 6h6zM182.7 278.9l-3 6h6zM182.9 265.7l-3 6h6zM183 262.9l-3 6h6zM183.2 265.6l-3 6h6zM183.3 236.9l-3 6h6zM183.4 254.9l-3 6h6zM183.6 272.6l-3 6h6zM183.7 284.5l-3 6h6zM183.9 258.8l-3 6h6zM184 264.3l-3 6h6zM184.1 275.8l-3 6h6zM184.3 230.3l-3 6h6zM184.4 281.7l-3 6h6zM184.6 271.6l-3 6h6zM184.7 265.1l-3 6h6zM184.8 268.3l-3 6h6zM185 253.1l-3 6h6zM185.1 266.6l-3 6h6zM185.3 262.8l-3 6h6zM185.4 268.9l-3 6h6zM185.5 241.1l-3 6h6zM185.7 279.9l-3 6h6zM185.8 284.7l-3 6h6zM186 282l-3 6h6zM186.1 247.6l-3 6h6zM186.2 276.2l-3 6h6zM186.4 283.2l-3 6h6zM186.5 283.9l-3 6h6zM186.7 284.9l-3 6h6zM186.8 261.3l-3 6h6zM187 291.9l-3 6h6zM187.1 289.9l-3 6h6zM187.2 284.7l-3 6h6zM187.4 256.8l-3 6h6zM187.5 291.6l-3 6h6zM187.7 255.7l-3 6h6zM187.8 286.1l-3 6h6zM187.9 257.7l-3 6h6zM188.1 242.1l-3 6h6zM188.2 262.6l-3 6h6zM188.4 266.3l-3 6h6zM188.5 280.3l-3 6h6zM188.6 291.1l-3 6h6zM188.8 255.9l-3 6h6zM188.9 255l-3 6h6zM189.1 275.7l-3 6h6zM189.2 283.9l-3 6h6zM189.3 256.6l-3 6h6zM189.5 268.2l-3 6h6zM189.6 269.7l-3 6h6zM189.8 252.9l-3 6h6zM189.9 242.8l-3 6h6zM190.1 277.7l-3 6h6zM190.2 284.6l-3 6h6zM190.3 272l-3 6h6zM190.5 278.9l-3 6h6zM190.6 259.3l-3 6h6zM190.8 279.1l-3 6h6zM190.9 259.9l-3 6h6zM191 259.5l-3 6h6zM191.2 281.6l-3 6h6zM191.3 277.5l-3 6h6zM191.5 280.8l-3 6h6zM191.6 291.9l-3 6h6zM191.7 268.8l-3 6h6zM191.9 291.6l-3 6h6zM192 280.8l-3 6h6zM192.2 254.8l-3 6h6zM192.3 255.5l-3 6h6zM192.4 268.4l-3 6h6zM192.6 265.9l-3 6h6zM192.7 273.8l-3 6h6zM192.9 254.9l-3 6h6zM193 274.5l-3 6h6zM193.2 282.2l-3 6h6zM193.3 268.3l-3 6h6zM193.4 286.5l-3 6h6zM193.6 274.8l-3 6h6zM193.7 282.4l-3 6h6zM193.9 278.2l-3 6h6zM194 248.9l-3 6h6zM194.1 253.8l-3 6h6zM194.3 277.6l-3 6h6zM194.4 259.5l-3 6h6zM194.6 263.4l-3 6h6zM194.7 259.5l-3 6h6zM194.8 250.9l-3 6h6zM195 253.4l-3 6h6zM195.1 276.8l-3 6h6zM195.3 268.6l-3 6h6zM195.4 283.3l-3 6h6zM195.6 283.8l-3 6h6zM195.7 274.9l-3 6h6zM195.8 279.3l-3 6h6zM196 256l-3 6h6zM196.1 250.7l-3 6h6zM196.3 276l-3 6h6zM196.4 262.2l-3 6h6zM196.5 251.6l-3 6h6zM196.7 253.6l-3 6h6zM196.8 265l-3 6h6zM197 260.9l-3 6h6zM197.1 263.9l-3 6h6zM197.2 269l-3 6h6zM197.4 263.2l-3 6h6zM197.5 290.3l-3 6h6zM197.7 255.5l-3 6h6zM197.8 289.2l-3 6h6zM197.9 269.3l-3 6h6zM198.1 281.4l-3 6h6zM198.2 255.9l-3 6h6zM198.4 275.2l-3 6h6zM198.5 278.6l-3 6h6zM198.7 288.4l-3 6h6zM198.8 273l-3 6h6zM198.9 255.8l-3 6h6zM199.1 263.1l-3 6h6zM199.2 259.6l-3 6h6zM199.4 277.5l-3 6h6zM199.5 291.4l-3 6h6zM199.6 284.4l-3 6h6zM199.8 252.9l-3 6h6zM199.9 285.7l-3 6h6zM200.1 265.4l-3 6h6zM200.2 270.1l-3 6h6zM200.3 266.1l-3 6h6zM200.5 282.9l-3 6h6zM200.6 265.1l-3 6h6zM200.8 269.9l-3 6h6zM200.9 273.8l-3 6h6zM201 264.3l-3 6h6zM201.2 267.4l-3 6h6zM201.3 281.9l-3 6h6zM201.5 274.7l-3 6h6zM201.6 258.8l-3 6h6zM201.8 288.6l-3 6h6zM201.9 283.9l-3 6h6zM202 281.2l-3 6h6zM202.2 283.3l-3 6h6zM202.3 280.2l-3 6h6zM202.5 277.5l-3 6h6zM202.6 274l-3 6h6zM202.7 267.8l-3 6h6zM202.9 258.4l-3 6h6zM203 289.4l-3 6h6zM203.2 248.5l-3 6h6zM203.3 284.1l-3 6h6zM203.4 278.7l-3 6h6zM203.6 266.7l-3 6h6zM203.7 224.8l-3 6h6zM203.9 280.3l-3 6h6zM204 261.6l-3 6h6zM204.1 262.9l-3 6h6zM204.3 281.6l-3 6h6zM204.4 285.3l-3 6h6zM204.6 228.3l-3 6h6zM204.7 268.4l-3 6h6zM204.8 289.6l-3 6h6zM205 283.3l-3 6h6zM205.1 262.2l-3 6h6zM205.3 276l-3 6h6zM205.4 266.2l-3 6h6zM205.6 271.5l-3 6h6zM205.7 287.3l-3 6h6zM205.8 279.5l-3 6h6zM206 273.7l-3 6h6zM206.1 273.8l-3 6h6zM206.3 270.8l-3 6h6zM206.4 263.3l-3 6h6zM206.5 274.6l-3 6h6zM206.7 273.2l-3 6h6zM206.8 268.4l-3 6h6zM207 268l-3 6h6zM207.1 284.3l-3 6h6zM207.2 288.5l-3 6h6zM207.4 260.1l-3 6h6zM207.5 289.2l-3 6h6zM207.7 270.8l-3 6h6zM207.8 281.9l-3 6h6zM207.9 255l-3 6h6zM208.1 263.6l-3 6h6zM208.2 278.7l-3 6h6zM208.4 285.1l-3 6h6zM208.5 284.5l-3 6h6zM208.7 261.7l-3 6h6zM208.8 274l-3 6h6zM208.9 282.3l-3 6h6zM209.1 252.5l-3 6h6zM209.2 268.6l-3 6h6zM209.4 239.8l-3 6h6zM209.5 223.6l-3 6h6zM209.6 272.7l-3 6h6zM209.8 277.9l-3 6h6zM209.9 258l-3 6h6zM210.1 283.6l-3 6h6zM210.2 289.8l-3 6h6zM210.3 284.3l-3 6h6zM210.5 257l-3 6h6zM210.6 290.5l-3 6h6zM210.8 223.6l-3 6h6zM210.9 255.9l-3 6h6zM211.1 284.5l-3 6h6zM211.2 260.6l-3 6h6zM211.3 259.6l-3 6h6zM211.5 266.1l-3 6h6zM211.6 251.5l-3 6h6zM211.8 288.5l-3 6h6zM211.9 265.3l-3 6h6zM212 264.8l-3 6h6zM212.2 291.4l-3 6h6zM212.3 263l-3 6h6zM212.5 279l-3 6h6zM212.6 240.8l-3 6h6zM212.7 252.2l-3 6h6zM212.9 284.5l-3 6h6zM213 253.8l-3 6h6zM213.2 281.6l-3 6h6zM213.3 232.4l-3 6h6zM213.4 287.3l-3 6h6zM213.6 252.7l-3 6h6zM213.7 263l-3 6h6zM213.9 258.8l-3 6h6zM214 262.4l-3 6h6zM214.2 253.3l-3 6h6zM214.3 260l-3 6h6zM214.4 259.7l-3 6h6zM214.6 256.9l-3 6h6zM214.7 250.1l-3 6h6zM214.9 277l-3 6h6zM215 258.8l-3 6h6zM215.1 290.9l-3 6h6zM215.3 290.6l-3 6h6zM215.4 261.4l-3 6h6zM215.6 264.5l-3 6h6zM215.7 255.7l-3 6h6zM215.8 242.5l-3 6h6zM216 263.9l-3 6h6zM216.1 267.6l-3 6h6zM216.3 287l-3 6h6zM216.4 253.5l-3 6h6zM216.5 255.1l-3 6h6zM216.7 258.8l-3 6h6zM216.8 258.4l-3 6h6zM217 270.3l-3 6h6zM217.1 290.9l-3 6h6zM217.2 291.1l-3 6h6zM217.4 272.6l-3 6h6zM217.5 265l-3 6h6zM217.7 272.8l-3 6h6zM217.8 262.8l-3 6h6zM218 270l-3 6h6zM218.1 271.7l-3 6h6zM218.2 287.9l-3 6h6zM218.4 251.1l-3 6h6zM218.5 238.9l-3 6h6zM218.7 277.1l-3 6h6zM218.8 279.7l-3 6h6zM218.9 258.1l-3 6h6zM219.1 262.7l-3 6h6zM219.2 291l-3 6h6zM219.4 254.6l-3 6h6zM219.5 245l-3 6h6zM219.6 283.6l-3 6h6zM219.8 271.9l-3 6h6zM219.9 271.4l-3 6h6zM220.1 259.9l-3 6h6zM220.2 280.4l-3 6h6zM220.3 266.6l-3 6h6zM220.5 255.7l-3 6h6zM220.6 260.9l-3 6h6zM220.8 266.2l-3 6h6zM220.9 251.4l-3 6h6zM221.1 287.1l-3 6h6zM221.2 234.6l-3 6h6zM221.3 254.1l-3 6h6zM221.5 276.2l-3 6h6zM221.6 276.4l-3 6h6zM221.8 259.1l-3 6h6zM221.9 265.3l-3 6h6zM222 272.1l-3 6h6zM222.2 264l-3 6h6zM222.3 264.3l-3 6h6zM222.5 238.4l-3 6h6zM222.6 286.4l-3 6h6zM222.7 256.7l-3 6h6zM222.9 239.7l-3 6h6zM223 244.8l-3 6h6zM223.2 291.4l-3 6h6zM223.3 261.6l-3 6h6zM223.4 283.3l-3 6h6zM223.6 263.9l-3 6h6zM223.7 275.3l-3 6h6zM223.9 240.6l-3 6h6zM224 286.7l-3 6h6zM224.2 270l-3 6h6zM224.3 253.9l-3 6h6zM224.4 270.6l-3 6h6zM224.6 289.4l-3 6h6zM224.7 267.3l-3 6h6zM224.9 267.4l-3 6h6zM225 256l-3 6h6zM225.1 276.8l-3 6h6zM225.3 265.2l-3 6h6zM225.4 223.6l-3 6h6zM225.6 267.3l-3 6h6zM225.7 248.7l-3 6h6zM225.8 284.9l-3 6h6zM226 269.5l-3 6h6zM226.1 261l-3 6h6zM226.3 271.7l-3 6h6zM226.4 259.6l-3 6h6zM226.6 271.3l-3 6h6zM226.7 281l-3 6h6zM226.8 283.3l-3 6h6zM227 262l-3 6h6zM227.1 254.2l-3 6h6zM227.3 261.2l-3 6h6zM227.4 256.1l-3 6h6zM227.5 259l-3 6h6zM227.7 284.3l-3 6h6zM227.8 292.3l-3 6h6zM228 287.7l-3 6h6zM228.1 274l-3 6h6zM228.2 263.7l-3 6h6zM228.4 254.9l-3 6h6zM228.5 276.4l-3 6h6zM228.7 275.8l-3 6h6zM228.8 284.3l-3 6h6zM228.9 238.3l-3 6h6zM229.1 274.1l-3 6h6zM229.2 284.9l-3 6h6zM229.4 273.3l-3 6h6zM229.5 260.5l-3 6h6zM229.7 263.9l-3 6h6zM229.8 258.6l-3 6h6zM229.9 259.9l-3 6h6zM230.1 260.5l-3 6h6zM230.2 283.7l-3 6h6zM230.4 277.4l-3 6h6zM230.5 275.3l-3 6h6zM230.6 271.7l-3 6h6zM230.8 249.2l-3 6h6zM230.9 256l-3 6h6zM231.1 278.3l-3 6h6zM231.2 282.6l-3 6h6zM231.3 279.4l-3 6h6zM231.5 255.2l-3 6h6zM231.6 278.1l-3 6h6zM231.8 271l-3 6h6zM231.9 288.7l-3 6h6zM232 245.4l-3 6h6zM232.2 254.2l-3 6h6zM232.3 265.7l-3 6h6zM232.5 265.4l-3 6h6zM232.6 282.9l-3 6h6zM232.8 271.5l-3 6h6zM232.9 256.1l-3 6h6zM233 261.8l-3 6h6zM233.2 228.5l-3 6h6zM233.3 265.8l-3 6h6zM233.5 274.6l-3 6h6zM233.6 285.1l-3 6h6zM233.7 255.3l-3 6h6zM233.9 269.3l-3 6h6zM234 257.6l-3 6h6zM234.2 253.7l-3 6h6zM234.3 282.8l-3 6h6zM234.4 279.7l-3 6h6zM234.6 259.8l-3 6h6zM234.7 283.1l-3 6h6zM234.9 264.9l-3 6h6zM235 266.3l-3 6h6zM235.1 260.3l-3 6h6zM235.3 265.3l-3 6h6zM235.4 236.8l-3 6h6zM235.6 268.1l-3 6h6zM235.7 263.6l-3 6h6zM235.8 258.7l-3 6h6zM236 263.9l-3 6h6zM236.1 268.9l-3 6h6zM236.3 268.1l-3 6h6zM236.4 256l-3 6h6zM236.6 269.7l-3 6h6zM236.7 282.4l-3 6h6zM236.8 252.9l-3 6h6zM237 223.6l-3 6h6zM237.1 269.7l-3 6h6zM237.3 247.3l-3 6h6zM237.4 223.6l-3 6h6zM237.5 254.4l-3 6h6zM237.7 263.9l-3 6h6zM237.8 262.2l-3 6h6zM238 261.1l-3 6h6zM238.1 268.6l-3 6h6zM238.2 261.5l-3 6h6zM238.4 288.6l-3 6h6zM238.5 254.7l-3 6h6zM238.7 285.5l-3 6h6zM238.8 285.6l-3 6h6zM238.9 284.1l-3 6h6zM239.1 268.7l-3 6h6zM239.2 272.8l-3 6h6zM239.4 259.9l-3 6h6zM239.5 291.7l-3 6h6zM239.7 288.4l-3 6h6zM239.8 266.7l-3 6h6zM239.9 267.3l-3 6h6zM240.1 264.9l-3 6h6zM240.2 279.4l-3 6h6zM240.4 261.6l-3 6h6zM240.5 267.9l-3 6h6zM240.6 281.5l-3 6h6zM240.8 258.2l-3 6h6zM240.9 258.7l-3 6h6zM241.1 275.4l-3 6h6zM241.2 262.4l-3 6h6zM241.3 288.3l-3 6h6zM241.5 268.6l-3 6h6zM241.6 267l-3 6h6zM241.8 290.2l-3 6h6zM241.9 259.2l-3 6h6zM242.1 257.3l-3 6h6zM242.2 273.4l-3 6h6zM242.3 291.9l-3 6h6zM242.5 289.2l-3 6h6zM242.6 288.6l-3 6h6zM242.8 266.7l-3 6h6zM242.9 278.8l-3 6h6zM243 266.3l-3 6h6zM243.2 265.2l-3 6h6zM243.3 267.8l-3 6h6zM243.5 288.1l-3 6h6zM243.6 267l-3 6h6zM243.7 270l-3 6h6zM243.9 273.5l-3 6h6zM244 269.1l-3 6h6zM244.2 289.6l-3 6h6zM244.3 256.9l-3 6h6zM244.4 271.1l-3 6h6zM244.6 254l-3 6h6zM244.7 289.9l-3 6h6zM244.9 274.8l-3 6h6zM245 247.8l-3 6h6zM245.2 268.5l-3 6h6zM245.3 272.6l-3 6h6zM245.4 274.5l-3 6h6zM245.6 266.7l-3 6h6zM245.7 258.6l-3 6h6zM245.9 228.9l-3 6h6zM246 270.5l-3 6h6zM246.1 273.4l-3 6h6zM246.3 278.4l-3 6h6zM246.4 289l-3 6h6zM246.6 255.8l-3 6h6zM246.7 255.4l-3 6h6zM246.8 287l-3 6h6zM247 267.7l-3 6h6zM247.1 263.7l-3 6h6zM247.3 256l-3 6h6zM247.4 281.3l-3 6h6zM247.5 264.5l-3 6h6zM247.7 253.7l-3 6h6zM247.8 269.1l-3 6h6zM248 265.5l-3 6h6zM248.1 266.2l-3 6h6zM248.2 286.5l-3 6h6zM248.4 275.6l-3 6h6zM248.5 255.2l-3 6h6zM248.7 289.8l-3 6h6zM248.8 273l-3 6h6zM249 251.2l-3 6h6zM249.1 281.2l-3 6h6zM249.2 237.8l-3 6h6zM249.4 276.3l-3 6h6zM249.5 275.7l-3 6h6zM249.7 283.3l-3 6h6zM249.8 267.3l-3 6h6zM249.9 282.9l-3 6h6zM250.1 248.8l-3 6h6zM250.2 254.9l-3 6h6zM250.4 249.5l-3 6h6zM250.5 290.3l-3 6h6zM250.6 289.6l-3 6h6zM250.8 259.1l-3 6h6zM250.9 285.6l-3 6h6zM251.1 258.7l-3 6h6zM251.2 254.6l-3 6h6zM251.3 288.7l-3 6h6zM251.5 261.4l-3 6h6zM251.6 262.2l-3 6h6zM251.8 227.1l-3 6h6zM251.9 246.6l-3 6h6zM252.1 228.8l-3 6h6zM252.2 272.3l-3 6h6zM252.3 255.6l-3 6h6zM252.5 251.6l-3 6h6zM252.6 273.8l-3 6h6zM252.8 255.1l-3 6h6zM252.9 263.7l-3 6h6zM253 272.3l-3 6h6zM253.2 278.3l-3 6h6zM253.3 255.1l-3 6h6zM253.5 280.1l-3 6h6zM253.6 284.6l-3 6h6zM253.7 252.4l-3 6h6zM253.9 267.6l-3 6h6zM254 253.1l-3 6h6zM254.2 272l-3 6h6zM254.3 288.1l-3 6h6zM254.4 291.1l-3 6h6zM254.6 276.1l-3 6h6zM254.7 280.1l-3 6h6zM254.9 258.3l-3 6h6zM255 256.1l-3 6h6zM255.2 274.4l-3 6h6zM255.3 256.5l-3 6h6zM255.4 258.4l-3 6h6zM255.6 274.6l-3 6h6zM255.7 259.7l-3 6h6zM255.9 265.2l-3 6h6zM256 257.7l-3 6h6zM256.1 250.2l-3 6h6zM256.3 288.9l-3 6h6zM256.4 223.6l-3 6h6zM256.6 282.7l-3 6h6zM256.7 291.2l-3 6h6zM256.8 266.7l-3 6h6zM257 255l-3 6h6zM257.1 271.6l-3 6h6zM257.3 260.3l-3 6h6zM257.4 275.9l-3 6h6zM257.6 256.3l-3 6h6zM257.7 265.7l-3 6h6zM257.8 281.3l-3 6h6zM258 284.6l-3 6h6zM258.1 263.2l-3 6h6zM258.3 277.6l-3 6h6zM258.4 275.5l-3 6h6zM258.5 246.6l-3 6h6zM258.7 261.2l-3 6h6zM258.8 267.4l-3 6h6zM259 270.4l-3 6h6zM259.1 259.2l-3 6h6zM259.2 254.6l-3 6h6zM259.4 257.7l-3 6h6zM259.5 257.6l-3 6h6zM259.7 273.7l-3 6h6zM259.8 276.4l-3 6h6zM259.9 279.9l-3 6h6zM260.1 269.6l-3 6h6zM260.2 275.6l-3 6h6zM260.4 277l-3 6h6zM260.5 280.6l-3 6h6zM260.6 270.5l-3 6h6zM260.8 282l-3 6h6zM260.9 270.5l-3 6h6zM261.1 254.4l-3 6h6zM261.2 273.1l-3 6h6zM261.4 289.1l-3 6h6zM261.5 253.7l-3 6h6zM261.6 275.2l-3 6h6zM261.8 280.5l-3 6h6zM261.9 277l-3 6h6zM262.1 265.8l-3 6h6zM262.2 272.7l-3 6h6zM262.3 280.9l-3 6h6zM262.5 261.3l-3 6h6zM262.6 278.7l-3 6h6zM262.8 251.3l-3 6h6zM262.9 284l-3 6h6zM263 257.7l-3 6h6zM263.2 275.9l-3 6h6zM263.3 292.3l-3 6h6zM263.5 272.5l-3 6h6zM263.6 255l-3 6h6zM263.8 251.9l-3 6h6zM263.9 268.8l-3 6h6zM264 285.5l-3 6h6zM264.2 273l-3 6h6zM264.3 272l-3 6h6zM264.5 271.2l-3 6h6zM264.6 254.1l-3 6h6zM264.7 263.7l-3 6h6zM264.9 263.8l-3 6h6zM265 290.8l-3 6h6zM265.2 253.7l-3 6h6zM265.3 290.5l-3 6h6zM265.4 260.3l-3 6h6zM265.6 270.4l-3 6h6zM265.7 270.5l-3 6h6zM265.9 286.5l-3 6h6zM266 289.7l-3 6h6zM266.1 280.4l-3 6h6zM266.3 292.2l-3 6h6zM266.4 276.3l-3 6h6zM266.6 252.9l-3 6h6zM266.7 262.2l-3 6h6zM266.9 260.3l-3 6h6zM267 226.5l-3 6h6zM267.1 262.7l-3 6h6zM267.3 267l-3 6h6zM267.4 280.9l-3 6h6zM267.6 265l-3 6h6zM267.7 280.5l-3 6h6zM267.8 275.4l-3 6h6zM268 264.2l-3 6h6zM268.1 292.1l-3 6h6zM268.3 264.2l-3 6h6zM268.4 272.9l-3 6h6zM268.5 277.6l-3 6h6zM268.7 265.1l-3 6h6zM268.8 284.5l-3 6h6zM269 284.4l-3 6h6zM269.1 280.2l-3 6h6zM269.2 278.3l-3 6h6zM269.4 285.1l-3 6h6zM269.5 257.1l-3 6h6zM269.7 229.4l-3 6h6zM269.8 263.2l-3 6h6zM269.9 264.6l-3 6h6zM270.1 276.9l-3 6h6zM270.2 253l-3 6h6zM270.4 254.9l-3 6h6zM270.5 259.6l-3 6h6zM270.7 284.4l-3 6h6zM270.8 257.9l-3 6h6zM270.9 239.4l-3 6h6zM271.1 255.2l-3 6h6zM271.2 291.7l-3 6h6zM271.4 286.9l-3 6h6zM271.5 271l-3 6h6zM271.6 284.5l-3 6h6zM271.8 286.9l-3 6h6zM271.9 260.7l-3 6h6zM272.1 263.2l-3 6h6zM272.2 291.3l-3 6h6zM272.3 266.8l-3 6h6zM272.5 253.1l-3 6h6zM272.6 291.5l-3 6h6zM272.8 279.8l-3 6h6zM272.9 275l-3 6h6zM273.1 277.1l-3 6h6zM273.2 271l-3 6h6zM273.3 283.5l-3 6h6zM273.5 270.9l-3 6h6zM273.6 272.5l-3 6h6zM273.8 278.4l-3 6h6zM273.9 277.7l-3 6h6zM274 291.7l-3 6h6zM274.2 289.6l-3 6h6zM274.3 280.8l-3 6h6zM274.5 244.6l-3 6h6zM274.6 287.1l-3 6h6zM274.7 282.1l-3 6h6zM274.9 264.6l-3 6h6zM275 284.6l-3 6h6zM275.2 274.4l-3 6h6zM275.3 292.4l-3 6h6zM275.4 268.1l-3 6h6zM275.6 273.4l-3 6h6zM275.7 283.1l-3 6h6zM275.9 277.2l-3 6h6zM276 290.7l-3 6h6zM276.1 256.5l-3 6h6zM276.3 290.6l-3 6h6zM276.4 270.9l-3 6h6zM276.6 275.6l-3 6h6zM276.7 289.2l-3 6h6zM276.9 258.6l-3 6h6zM277 275.5l-3 6h6zM277.1 275.8l-3 6h6zM277.3 281.8l-3 6h6zM277.4 284.9l-3 6h6zM277.6 266.9l-3 6h6zM277.7 279.4l-3 6h6zM277.8 281.8l-3 6h6zM278 289.6l-3 6h6zM278.1 268.1l-3 6h6zM278.3 290.4l-3 6h6zM278.4 254.6l-3 6h6zM278.5 270l-3 6h6zM278.7 286.8l-3 6h6zM278.8 286.3l-3 6h6zM279 240.2l-3 6h6zM279.1 260.7l-3 6h6zM279.2 254.8l-3 6h6zM279.4 279.5l-3 6h6zM279.5 277.7l-3 6h6zM279.7 242.3l-3 6h6zM279.8 279.2l-3 6h6zM280 254.3l-3 6h6zM280.1 281.8l-3 6h6zM280.2 251.2l-3 6h6zM280.4 286.7l-3 6h6zM280.5 223.6l-3 6h6zM280.7 253.5l-3 6h6zM280.8 285.1l-3 6h6zM280.9 256.4l-3 6h6zM281.1 272.4l-3 6h6zM281.2 259.6l-3 6h6zM281.4 254.4l-3 6h6zM281.5 280.3l-3 6h6zM281.6 283.3l-3 6h6zM281.8 263.3l-3 6h6zM281.9 256.1l-3 6h6zM282.1 262.3l-3 6h6zM282.2 254.1l-3 6h6zM282.4 270.9l-3 6h6zM282.5 259.5l-3 6h6zM282.6 238.4l-3 6h6zM282.8 268.2l-3 6h6zM282.9 274l-3 6h6zM283.1 260.5l-3 6h6zM283.2 276.6l-3 6h6zM283.3 262.6l-3 6h6zM283.5 257.9l-3 6h6zM283.6 268.3l-3 6h6zM283.8 262l-3 6h6zM283.9 285.3l-3 6h6zM284 256.3l-3 6h6zM284.2 253l-3 6h6zM284.3 223.6l-3 6h6zM284.5 274.3l-3 6h6zM284.6 262.3l-3 6h6zM284.7 288l-3 6h6zM284.9 289.2l-3 6h6zM285 253.3l-3 6h6zM285.2 255.4l-3 6h6zM285.3 249.4l-3 6h6zM285.4 283.8l-3 6h6zM285.6 263.2l-3 6h6zM285.7 261.8l-3 6h6zM285.9 289.8l-3 6h6zM286 270.6l-3 6h6zM286.2 268.5l-3 6h6zM286.3 252l-3 6h6zM286.4 266.7l-3 6h6zM286.6 255.2l-3 6h6zM286.7 284.2l-3 6h6zM286.9 266.4l-3 6h6zM287 286.5l-3 6h6zM287.1 277.8l-3 6h6zM287.3 259.5l-3 6h6zM287.4 284.1l-3 6h6zM287.6 272.2l-3 6h6zM287.7 286.4l-3 6h6zM287.8 285.2l-3 6h6zM288 278.6l-3 6h6zM288.1 277.8l-3 6h6zM288.3 257.6l-3 6h6zM288.4 238.9l-3 6h6zM288.6 254.7l-3 6h6zM288.7 258.1l-3 6h6zM288.8 261.4l-3 6h6zM289 280.8l-3 6h6zM289.1 287.2l-3 6h6zM289.3 285.4l-3 6h6zM289.4 288.1l-3 6h6zM289.5 254.7l-3 6h6zM289.7 253.7l-3 6h6zM289.8 278.7l-3 6h6zM290 256.6l-3 6h6zM290.1 260.8l-3 6h6zM290.2 257.6l-3 6h6zM290.4 282.2l-3 6h6zM290.5 260.1l-3 6h6zM290.7 279.6l-3 6h6zM290.8 291.6l-3 6h6zM290.9 262.3l-3 6h6zM291.1 276.3l-3 6h6zM291.2 285.3l-3 6h6zM291.4 260.9l-3 6h6zM291.5 291.9l-3 6h6zM291.6 273.7l-3 6h6zM291.8 285.5l-3 6h6zM291.9 259.3l-3 6h6zM292.1 256.5l-3 6h6zM292.2 264.8l-3 6h6zM292.4 272.4l-3 6h6zM292.5 280.5l-3 6h6zM292.6 278.8l-3 6h6zM292.8 278.9l-3 6h6zM292.9 261.4l-3 6h6zM293.1 280.6l-3 6h6zM293.2 281.7l-3 6h6zM293.3 258.1l-3 6h6zM293.5 265l-3 6h6zM293.6 256.3l-3 6h6zM293.8 287.5l-3 6h6zM293.9 273.5l-3 6h6zM294 273.3l-3 6h6zM294.2 287.4l-3 6h6zM294.3 291.8l-3 6h6zM294.5 275.9l-3 6h6zM294.6 289.6l-3 6h6zM294.8 257.2l-3 6h6zM294.9 291.6l-3 6h6zM295 267l-3 6h6zM295.2 259.3l-3 6h6zM295.3 256.1l-3 6h6zM295.5 276.7l-3 6h6zM295.6 269.8l-3 6h6zM295.7 290.4l-3 6h6zM295.9 276.2l-3 6h6zM296 261.4l-3 6h6zM296.2 260.9l-3 6h6zM296.3 291.3l-3 6h6zM296.4 281.2l-3 6h6zM296.6 268l-3 6h6zM296.7 234.9l-3 6h6zM296.9 257.6l-3 6h6zM297 289.1l-3 6h6zM297.1 280.2l-3 6h6zM297.3 259.8l-3 6h6zM297.4 290.5l-3 6h6zM297.6 254.4l-3 6h6zM297.7 258.1l-3 6h6zM297.9 259.3l-3 6h6zM298 262.6l-3 6h6zM298.1 270.8l-3 6h6zM298.3 261.7l-3 6h6zM298.4 290l-3 6h6zM298.6 251.4l-3 6h6zM298.7 252.7l-3 6h6zM298.8 270l-3 6h6zM299 288.7l-3 6h6zM299.1 263.8l-3 6h6zM299.3 275.8l-3 6h6zM299.4 283.5l-3 6h6zM299.5 268.7l-3 6h6zM299.7 261.9l-3 6h6zM299.8 290.3l-3 6h6zM300 262.4l-3 6h6zM300.1 288.1l-3 6h6zM300.2 263.6l-3 6h6zM300.4 254.7l-3 6h6zM300.5 288.7l-3 6h6zM300.7 282.2l-3 6h6zM300.8 264.6l-3 6h6zM300.9 244l-3 6h6zM301.1 287.4l-3 6h6zM301.2 261.8l-3 6h6zM301.4 261.7l-3 6h6zM301.5 276.7l-3 6h6zM301.7 280.7l-3 6h6zM301.8 257.1l-3 6h6zM301.9 276.6l-3 6h6zM302.1 286.9l-3 6h6zM302.2 277.6l-3 6h6zM302.4 250.6l-3 6h6zM302.5 267.2l-3 6h6zM302.6 288l-3 6h6zM302.8 258.7l-3 6h6zM302.9 275.2l-3 6h6zM303.1 257.6l-3 6h6zM303.2 280.4l-3 6h6zM303.3 264l-3 6h6zM303.5 269.8l-3 6h6zM303.6 257.1l-3 6h6zM303.8 257.7l-3 6h6zM303.9 273.8l-3 6h6zM304.1 254.4l-3 6h6zM304.2 259.2l-3 6h6zM304.3 273l-3 6h6zM304.5 259.7l-3 6h6zM304.6 267.3l-3 6h6zM304.8 276.7l-3 6h6zM304.9 263l-3 6h6zM305 285.4l-3 6h6zM305.2 257.7l-3 6h6zM305.3 272.5l-3 6h6zM305.5 287.6l-3 6h6zM305.6 259.6l-3 6h6zM305.7 280.9l-3 6h6zM305.9 260.6l-3 6h6zM306 262.1l-3 6h6zM306.2 256l-3 6h6zM306.3 264.9l-3 6h6zM306.4 271.6l-3 6h6zM306.6 263.4l-3 6h6zM306.7 259.1l-3 6h6zM306.9 253l-3 6h6zM307 288.6l-3 6h6zM307.1 288.3l-3 6h6zM307.3 286.3l-3 6h6zM307.4 270.5l-3 6h6zM307.6 263.5l-3 6h6zM307.7 283.7l-3 6h6zM307.9 271l-3 6h6zM308 263.4l-3 6h6zM308.1 284.1l-3 6h6zM308.3 272.7l-3 6h6zM308.4 263.2l-3 6h6zM308.6 270.2l-3 6h6zM308.7 272.1l-3 6h6zM308.8 291.2l-3 6h6zM309 273.1l-3 6h6zM309.1 265.3l-3 6h6zM309.3 278.1l-3 6h6zM309.4 284.6l-3 6h6zM309.5 277.8l-3 6h6zM309.7 259.5l-3 6h6zM309.8 267.8l-3 6h6zM310 273l-3 6h6zM310.1 273.8l-3 6h6zM310.2 252.6l-3 6h6zM310.4 261.9l-3 6h6zM310.5 284.9l-3 6h6zM310.7 277.9l-3 6h6zM310.8 289.5l-3 6h6zM311 247.1l-3 6h6zM311.1 288.8l-3 6h6zM311.2 275.7l-3 6h6zM311.4 269.3l-3 6h6zM311.5 280.7l-3 6h6zM311.7 288.1l-3 6h6zM311.8 291l-3 6h6zM311.9 284.7l-3 6h6zM312.1 277.1l-3 6h6zM312.2 273.6l-3 6h6zM312.4 271.3l-3 6h6zM312.5 274.3l-3 6h6zM312.6 268.4l-3 6h6zM312.8 271.5l-3 6h6zM312.9 274.2l-3 6h6zM313.1 277.3l-3 6h6zM313.2 283l-3 6h6zM313.4 250.4l-3 6h6zM313.5 264.1l-3 6h6zM313.6 282.4l-3 6h6zM313.8 257.4l-3 6h6zM313.9 287.7l-3 6h6zM314.1 291.9l-3 6h6zM314.2 261.8l-3 6h6zM314.3 277.5l-3 6h6zM314.5 268.4l-3 6h6zM314.6 292l-3 6h6zM314.8 290.7l-3 6h6zM314.9 287.5l-3 6h6zM315 272.3l-3 6h6zM315.2 266.3l-3 6h6zM315.3 291.4l-3 6h6zM315.5 280.3l-3 6h6zM315.6 261.5l-3 6h6zM315.7 266.9l-3 6h6zM315.9 277.9l-3 6h6zM316 277.7l-3 6h6zM316.2 269.9l-3 6h6zM316.3 265.4l-3 6h6zM316.4 291.3l-3 6h6zM316.6 265.8l-3 6h6zM316.7 283.5l-3 6h6zM316.9 287.1l-3 6h6zM317 261.3l-3 6h6zM317.2 279l-3 6h6zM317.3 277.5l-3 6h6zM317.4 275.1l-3 6h6zM317.6 281.7l-3 6h6zM317.7 289.1l-3 6h6zM317.9 283.5l-3 6h6zM244.1 241.2l-3 6h6zM193.9 205.3l-3 6h6zM274.8 215l-3 6h6zM162.2 225.5l-3 6h6zM272.9 232.8l-3 6h6zM310.7 260.3l-3 6h6zM165.2 226.9l-3 6h6zM112.6 227.3l-3 6h6zM142.5 241.7l-3 6h6zM256.9 189l-3 6h6zM232.8 180.3l-3 6h6zM207.7 190.9l-3 6h6zM162.7 208l-3 6h6zM233.3 238.5l-3 6h6zM122.8 242.6l-3 6h6zM123.8 208.1l-3 6h6zM204 199l-3 6h6zM150.2 243.2l-3 6h6zM188.9 181.2l-3 6h6zM184.5 237.6l-3 6h6zM273 217.1l-3 6h6zM107.8 243.4l-3 6h6zM189.7 239l-3 6h6zM104.5 232.4l-3 6h6zM180.7 192.6l-3 6h6zM134.4 218.1l-3 6h6zM214.7 182.3l-3 6h6zM112.9 230.2l-3 6h6zM202.1 210.6l-3 6h6zM101.8 204.1l-3 6h6zM229.8 197.5l-3 6h6zM272.1 224.6l-3 6h6zM183.9 218.6l-3 6h6zM239.3 186.9l-3 6h6zM150.4 230.5l-3 6h6zM212.2 208.5l-3 6h6zM285.1 241.6l-3 6h6zM148.5 207.6l-3 6h6zM275 216.9l-3 6h6zM198.2 226.7l-3 6h6zM232.7 243.8l-3 6h6zM248.2 223.4l-3 6h6zM206.3 225.4l-3 6h6zM130.8 226.7l-3 6h6zM140.8 243.1l-3 6h6zM170.6 243.4l-3 6h6zM263.5 207.6l-3 6h6zM95.5 216.4l-3 6h6zM163.6 219.3l-3 6h6zM205.4 204.9l-3 6h6zM203.7 230.1l-3 6h6zM287.4 229.3l-3 6h6zM146.6 188.2l-3 6h6zM287 243.8l-3 6h6zM134.9 220.3l-3 6h6zM202.2 182.4l-3 6h6zM200.2 233.7l-3 6h6zM136.1 236.6l-3 6h6zM239.2 182.1l-3 6h6zM216.4 192.8l-3 6h6zM124.2 206.9l-3 6h6zM269.5 231.4l-3 6h6zM96.2 237.6l-3 6h6zM154 236.6l-3 6h6zM281.5 220l-3 6h6zM125.2 201l-3 6h6zM279.5 207.8l-3 6h6zM239.7 182.8l-3 6h6zM169.1 220.1l-3 6h6zM234.7 202.3l-3 6h6zM177.8 231.8l-3 6h6zM197.3 236.9l-3 6h6zM201.4 184.8l-3 6h6zM212.6 181.4l-3 6h6zM258 212.9l-3 6h6zM162.8 240.6l-3 6h6zM200.7 194.3l-3 6h6zM197.5 193.2l-3 6h6zM301.5 253.4l-3 6h6zM263.2 237l-3 6h6zM176.4 216.5l-3 6h6zM188.9 241.2l-3 6h6zM156.8 243.7l-3 6h6zM296.3 238.1l-3 6h6zM148.2 191.8l-3 6h6zM250.9 195.8l-3 6h6zM178.1 218.6l-3 6h6zM261.9 236.8l-3 6h6zM293.4 230.6l-3 6h6zM158.4 186.8l-3 6h6zM133 232.8l-3 6h6zM262 231l-3 6h6zM270.7 244.2l-3 6h6zM260.2 242.8l-3 6h6zM111.6 211.4l-3 6h6zM188.3 202.7l-3 6h6zM165.7 188.2l-3 6h6zM287.8 248.6l-3 6h6zM112.6 235.6l-3 6h6zM245.4 209.5l-3 6h6zM184.2 242.6l-3 6h6zM220.4 204.2l-3 6h6zM118 209.4l-3 6h6zM290.7 230.1l-3 6h6zM202.8 192l-3 6h6zM183.5 212.9l-3 6h6zM109.1 233.1l-3 6h6zM245 187l-3 6h6zM254.3 226.6l-3 6h6zM188.3 184.9l-3 6h6zM178.7 229.2l-3 6h6zM135.6 237.6l-3 6h6zM253 222.6l-3 6h6zM244.1 240.8l-3 6h6zM123.9 238.1l-3 6h6zM129.4 183.7l-3 6h6zM235.8 218.4l-3 6h6zM221.6 213l-3 6h6zM151 241.6l-3 6h6zM280 240.1l-3 6h6zM246.4 221.6l-3 6h6zM188.2 241.8l-3 6h6zM133 227.3l-3 6h6zM266.2 185l-3 6h6zM201.4 218.2l-3 6h6zM266.9 221.5l-3 6h6zM278.2 219.2l-3 6h6zM157.2 237l-3 6h6zM110.7 239.1l-3 6h6zM262.6 214.1l-3 6h6zM199.3 210.3l-3 6h6zM280.9 235.7l-3 6h6zM130.7 211.6l-3 6h6zM141 196.3l-3 6h6zM159.2 241.4l-3 6h6zM99 206.3l-3 6h6zM243.4 223.3l-3 6h6zM116.2 233.7l-3 6h6zM149.2 228.1l-3 6h6zM283.3 246.5l-3 6h6zM174.1 238.3l-3 6h6zM139.1 180.1l-3 6h6zM119.4 204.2l-3 6h6zM250.4 185.2l-3 6h6zM144.6 218.9l-3 6h6zM228.8 212.9l-3 6h6zM211 231.4l-3 6h6zM130 202.9l-3 6h6zM262.5 234.9l-3 6h6zM219.7 225.5l-3 6h6zM222.9 217.6l-3 6h6zM295.5 242l-3 6h6zM242.2 190l-3 6h6zM137.1 213.3l-3 6h6zM182.6 223.5l-3 6h6zM269.1 230.5l-3 6h6zM172.7 224.3l-3 6h6zM163.4 229.6l-3 6h6zM265 235.9l-3 6h6zM104.2 236.8l-3 6h6zM219.8 207.8l-3 6h6zM274.4 203.1l-3 6h6zM251 236.6l-3 6h6zM131.6 180.3l-3 6h6zM267.2 192.4l-3 6h6zM353.2 266.4l-3 6h6zM348.4 267.3l-3 6h6zM350.3 272.2l-3 6h6zM356.8 271.1l-3 6h6zM358.8 284.9l-3 6h6zM345.9 279.7l-3 6h6zM351.5 273l-3 6h6zM354.5 279.2l-3 6h6zM352.6 273.8l-3 6h6zM348 284.4l-3 6h6zM346.4 267.5l-3 6h6zM353 285.4l-3 6h6zM354.7 268.7l-3 6h6zM350.4 267.8l-3 6h6zM345.3 286.7l-3 6h6zM345.5 279.1l-3 6h6zM342.8 276.4l-3 6h6zM345.8 282.2l-3 6h6zM353.9 278.1l-3 6h6zM347 272.7l-3 6h6zM344.3 271.6l-3 6h6zM355 286l-3 6h6zM344.2 272.4l-3 6h6zM357.8 281l-3 6h6zM348.4 270.8l-3 6h6zM347.7 274.9l-3 6h6zM350.4 274.3l-3 6h6zM346.3 282.4l-3 6h6zM344.8 281.2l-3 6h6zM354.6 274.2l-3 6h6zM352.4 281.9l-3 6h6zM350 276.5l-3 6h6zM345.9 269.3l-3 6h6zM356.4 279.2l-3 6h6zM347 266.5l-3 6h6zM353.7 275.7l-3 6h6zM349.6 270.8l-3 6h6zM352.5 273.4l-3 6h6zM345.6 266.4l-3 6h6zM347.2 268.3l-3 6h6zM343.1 275.7l-3 6h6zM345.1 271.1l-3 6h6zM345.9 273.5l-3 6h6zM354.9 278.4l-3 6h6zM344.8 284.2l-3 6h6zM398 292.2l-3 6h6zM398.1 291.5l-3 6h6zM398.3 291.4l-3 6h6zM399.2 290.2l-3 6h6zM399 290.7l-3 6h6zM397.4 292.3l-3 6h6zM397 291.6l-3 6h6zM397.9 290.1l-3 6h6zM206.1 51l-3 6h6zM202.6 73.7l-3 6h6zM175.8 85.9l-3 6h6zM194.4 96.4l-3 6h6zM242.9 84.3l-3 6h6zM259.2 89.9l-3 6h6zM263.2 99.7l-3 6h6zM249.7 106.1l-3 6h6zM148.6 111.4l-3 6h6zM162.2 115l-3 6h6zM236.2 110.2l-3 6h6zM114.7 129.6l-3 6h6zM134.8 126.4l-3 6h6zM189.2 126.4l-3 6h6zM196 134.5l-3 6h6zM204 136.1l-3 6h6zM209.1 137.7l-3 6h6zM207.6 141.4l-3 6h6zM216.3 146.2l-3 6h6zM169.1 143.4l-3 6h6zM182.5 141.8l-3 6h6zM112.8 148.7l-3 6h6zM142 148.7l-3 6h6zM121.6 154.8l-3 6h6zM111.4 156.4l-3 6h6zM116.8 160l-3 6h6zM119.6 162.9l-3 6h6zM192.5 153.1l-3 6h6zM205.2 150.7l-3 6h6zM191.9 160l-3 6h6zM193.8 163.7l-3 6h6zM220.3 160.8l-3 6h6zM230.1 159.6l-3 6h6zM134 164.5l-3 6h6zM138.6 167.3l-3 6h6zM135.9 170.2l-3 6h6zM155.3 167.7l-3 6h6zM208.3 168.1l-3 6h6zM221.7 163.7l-3 6h6zM112.8 175l-3 6h6zM120.8 175.8l-3 6h6zM138.1 177.4l-3 6h6zM223 174.2l-3 6h6zM219 176.6l-3 6h6zM189.8 177.4l-3 6h6zM256.7 112.2l-3 6h6zM274 113l-3 6h6zM260.4 121l-3 6h6zM253.3 134.3l-3 6h6zM261.9 134.3l-3 6h6zM245.4 147.6l-3 6h6zM252 152.1l-3 6h6zM257.9 161.2l-3 6h6zM270 162.9l-3 6h6zM251.2 168.1l-3 6h6zM272.7 169.3l-3 6h6zM244.8 175.8l-3 6h6zM264.7 176.6l-3 6h6zM276.7 175.8l-3 6h6zM348.4 200.9l-3 6h6zM344 208.7l-3 6h6zM357.2 237.1l-3 6h6zM349.8 244.7l-3 6h6zM344.1 249.1l-3 6h6zM349.8 245.5l-3 6h6zM349.8 252l-3 6h6zM351.1 253.8l-3 6h6z" style="fill: #ff0000; stroke: #ff0000; stroke-linejoin: miter" /></g></g><g id="line2d_22"><g clip-path="url(#p02d3b5d28dr)"><path d="M73.8 298.4l2.5-4.2-2.5-4.2-2.5 4.2zM73.9 299.8l2.5-4.2-2.5-4.2-2.5 4.2zM74.1 296.4l2.5-4.2-2.5-4.2-2.5 4.2zM74.2 298.4l2.5-4.2-2.5-4.2-2.5 4.2zM74.3 297.4l2.5-4.2-2.5-4.2-2.5 4.2zM74.4 299.1l2.5-4.2-2.5-4.2-2.5 4.2zM74.5 299.6l2.5-4.2-2.5-4.2-2.5 4.2zM74.6 299l2.5-4.2-2.5-4.2-2.5 4.2zM74.7 298.1l2.5-4.2-2.5-4.2-2.5 4.2zM74.8 296.8l2.5-4.2-2.5-4.2-2.5 4.2zM75 297.6l2.5-4.2-2.5-4.2-2.5 4.2zM75.1 298.4l2.5-4.2-2.5-4.2-2.5 4.2zM75.2 297.3l2.5-4.2-2.5-4.2-2.5 4.2zM75.3 298.1l2.5-4.2-2.5-4.2-2.5 4.2zM75.4 299l2.5-4.2-2.5-4.2-2.5 4.2zM75.5 298.5l2.5-4.2-2.5-4.2-2.5 4.2zM75.6 299.7l2.5-4.2-2.5-4.2-2.5 4.2zM75.7 297.7l2.5-4.2-2.5-4.2-2.5 4.2zM75.9 299.7l2.5-4.2-2.5-4.2-2.5 4.2zM76 299.1l2.5-4.2-2.5-4.2-2.5 4.2zM76.1 298.8l2.5-4.2-2.5-4.2-2.5 4.2zM76.2 298.4l2.5-4.2-2.5-4.2-2.5 4.2zM76.3 298.3l2.5-4.2-2.5-4.2-2.5 4.2zM76.4 299.1l2.5-4.2-2.5-4.2-2.5 4.2zM76.5 296.4l2.5-4.2-2.5-4.2-2.5 4.2zM76.7 298.9l2.5-4.2-2.5-4.2-2.5 4.2zM76.8 298.7l2.5-4.2-2.5-4.2-2.5 4.2zM76.9 299.1l2.5-4.2-2.5-4.2-2.5 4.2zM77 298.5l2.5-4.2-2.5-4.2-2.5 4.2zM77.1 296.6l2.5-4.2-2.5-4.2-2.5 4.2zM77.2 298.9l2.5-4.2-2.5-4.2-2.5 4.2zM77.3 298.9l2.5-4.2-2.5-4.2-2.5 4.2zM77.4 299.4l2.5-4.2-2.5-4.2-2.5 4.2zM77.6 296.7l2.5-4.2-2.5-4.2-2.5 4.2zM77.7 298.7l2.5-4.2-2.5-4.2-2.5 4.2zM77.8 299.4l2.5-4.2-2.5-4.2-2.5 4.2zM77.9 299.9l2.5-4.2-2.5-4.2-2.5 4.2zM78 297.1l2.5-4.2-2.5-4.2-2.5 4.2zM78.1 298.3l2.5-4.2-2.5-4.2-2.5 4.2zM78.2 299.1l2.5-4.2-2.5-4.2-2.5 4.2zM78.3 299.7l2.5-4.2-2.5-4.2-2.5 4.2zM78.5 298.7l2.5-4.2-2.5-4.2-2.5 4.2zM78.6 298.3l2.5-4.2-2.5-4.2-2.5 4.2zM78.7 298.4l2.5-4.2-2.5-4.2-2.5 4.2zM78.8 299.7l2.5-4.2-2.5-4.2-2.5 4.2zM78.9 299.5l2.5-4.2-2.5-4.2-2.5 4.2zM79 299.5l2.5-4.2-2.5-4.2-2.5 4.2zM79.1 298.3l2.5-4.2-2.5-4.2-2.5 4.2zM79.2 298l2.5-4.2-2.5-4.2-2.5 4.2zM79.4 296.7l2.5-4.2-2.5-4.2-2.5 4.2zM79.5 298.8l2.5-4.2-2.5-4.2-2.5 4.2zM79.6 297.6l2.5-4.2-2.5-4.2-2.5 4.2zM79.7 296.4l2.5-4.2-2.5-4.2-2.5 4.2zM79.8 299l2.5-4.2-2.5-4.2-2.5 4.2zM79.9 299.8l2.5-4.2-2.5-4.2-2.5 4.2zM80 298.6l2.5-4.2-2.5-4.2-2.5 4.2zM80.1 299.4l2.5-4.2-2.5-4.2-2.5 4.2zM80.3 296.5l2.5-4.2-2.5-4.2-2.5 4.2zM80.4 299.2l2.5-4.2-2.5-4.2-2.5 4.2zM80.5 297.6l2.5-4.2-2.5-4.2-2.5 4.2zM80.6 299.4l2.5-4.2-2.5-4.2-2.5 4.2zM80.7 298.5l2.5-4.2-2.5-4.2-2.5 4.2zM80.8 298.7l2.5-4.2-2.5-4.2-2.5 4.2zM80.9 299.6l2.5-4.2-2.5-4.2-2.5 4.2zM81 297.5l2.5-4.2-2.5-4.2-2.5 4.2zM81.2 298.8l2.5-4.2-2.5-4.2-2.5 4.2zM81.3 298.2l2.5-4.2-2.5-4.2-2.5 4.2zM81.4 299.2l2.5-4.2-2.5-4.2-2.5 4.2zM81.5 299.8l2.5-4.2-2.5-4.2-2.5 4.2zM81.6 298.6l2.5-4.2-2.5-4.2-2.5 4.2zM81.7 299l2.5-4.2-2.5-4.2-2.5 4.2zM81.8 297l2.5-4.2-2.5-4.2-2.5 4.2zM81.9 299.1l2.5-4.2-2.5-4.2-2.5 4.2zM82.1 298.4l2.5-4.2-2.5-4.2-2.5 4.2zM82.2 299.8l2.5-4.2-2.5-4.2-2.5 4.2zM82.3 299.3l2.5-4.2-2.5-4.2-2.5 4.2zM82.4 297.7l2.5-4.2-2.5-4.2-2.5 4.2zM82.5 298.9l2.5-4.2-2.5-4.2-2.5 4.2zM82.6 299.7l2.5-4.2-2.5-4.2-2.5 4.2zM82.7 298.9l2.5-4.2-2.5-4.2-2.5 4.2zM82.9 297.5l2.5-4.2-2.5-4.2-2.5 4.2zM83 299.1l2.5-4.2-2.5-4.2-2.5 4.2zM83.1 299l2.5-4.2-2.5-4.2-2.5 4.2zM83.2 299.7l2.5-4.2-2.5-4.2-2.5 4.2zM83.3 296.8l2.5-4.2-2.5-4.2-2.5 4.2zM83.4 299.7l2.5-4.2-2.5-4.2-2.5 4.2zM83.5 298l2.5-4.2-2.5-4.2-2.5 4.2zM83.6 298.4l2.5-4.2-2.5-4.2-2.5 4.2zM83.8 299.6l2.5-4.2-2.5-4.2-2.5 4.2zM83.9 297.6l2.5-4.2-2.5-4.2-2.5 4.2zM84 298.3l2.5-4.2-2.5-4.2-2.5 4.2zM84.1 298.9l2.5-4.2-2.5-4.2-2.5 4.2zM84.2 299l2.5-4.2-2.5-4.2-2.5 4.2zM84.3 297.7l2.5-4.2-2.5-4.2-2.5 4.2zM84.4 298.3l2.5-4.2-2.5-4.2-2.5 4.2zM84.5 299.5l2.5-4.2-2.5-4.2-2.5 4.2zM84.7 297.9l2.5-4.2-2.5-4.2-2.5 4.2zM84.8 299.4l2.5-4.2-2.5-4.2-2.5 4.2zM84.9 299.7l2.5-4.2-2.5-4.2-2.5 4.2zM85 299.1l2.5-4.2-2.5-4.2-2.5 4.2zM85.1 297.6l2.5-4.2-2.5-4.2-2.5 4.2zM85.2 297.4l2.5-4.2-2.5-4.2-2.5 4.2zM85.3 297.3l2.5-4.2-2.5-4.2-2.5 4.2zM85.4 297.6l2.5-4.2-2.5-4.2-2.5 4.2zM85.6 299.3l2.5-4.2-2.5-4.2-2.5 4.2zM85.7 299.7l2.5-4.2-2.5-4.2-2.5 4.2zM85.8 298.4l2.5-4.2-2.5-4.2-2.5 4.2zM85.9 298.6l2.5-4.2-2.5-4.2-2.5 4.2zM86 299.3l2.5-4.2-2.5-4.2-2.5 4.2zM86.1 299.2l2.5-4.2-2.5-4.2-2.5 4.2zM86.2 296.7l2.5-4.2-2.5-4.2-2.5 4.2zM86.3 298.7l2.5-4.2-2.5-4.2-2.5 4.2zM86.5 299.1l2.5-4.2-2.5-4.2-2.5 4.2zM86.6 298.7l2.5-4.2-2.5-4.2-2.5 4.2zM86.7 297.6l2.5-4.2-2.5-4.2-2.5 4.2zM86.8 299.4l2.5-4.2-2.5-4.2-2.5 4.2zM86.9 299.2l2.5-4.2-2.5-4.2-2.5 4.2zM87 299.8l2.5-4.2-2.5-4.2-2.5 4.2zM87.1 299.1l2.5-4.2-2.5-4.2-2.5 4.2zM87.2 298.5l2.5-4.2-2.5-4.2-2.5 4.2zM87.4 298.9l2.5-4.2-2.5-4.2-2.5 4.2zM87.5 297.2l2.5-4.2-2.5-4.2-2.5 4.2zM87.6 299.5l2.5-4.2-2.5-4.2-2.5 4.2zM87.7 297.2l2.5-4.2-2.5-4.2-2.5 4.2zM87.8 298l2.5-4.2-2.5-4.2-2.5 4.2zM87.9 299.8l2.5-4.2-2.5-4.2-2.5 4.2zM88 297.2l2.5-4.2-2.5-4.2-2.5 4.2zM88.1 299.1l2.5-4.2-2.5-4.2-2.5 4.2zM88.3 296.9l2.5-4.2-2.5-4.2-2.5 4.2zM88.4 299.9l2.5-4.2-2.5-4.2-2.5 4.2zM88.5 299.8l2.5-4.2-2.5-4.2-2.5 4.2zM88.6 299.5l2.5-4.2-2.5-4.2-2.5 4.2zM88.7 299.1l2.5-4.2-2.5-4.2-2.5 4.2zM88.8 298.9l2.5-4.2-2.5-4.2-2.5 4.2zM88.9 298.2l2.5-4.2-2.5-4.2-2.5 4.2zM89.1 299.3l2.5-4.2-2.5-4.2-2.5 4.2zM89.2 296.8l2.5-4.2-2.5-4.2-2.5 4.2zM89.3 298l2.5-4.2-2.5-4.2-2.5 4.2zM89.4 296.4l2.5-4.2-2.5-4.2-2.5 4.2zM89.5 299.3l2.5-4.2-2.5-4.2-2.5 4.2zM89.6 299l2.5-4.2-2.5-4.2-2.5 4.2zM89.7 299l2.5-4.2-2.5-4.2-2.5 4.2zM89.8 298.6l2.5-4.2-2.5-4.2-2.5 4.2zM90 299.7l2.5-4.2-2.5-4.2-2.5 4.2zM90.1 299.3l2.5-4.2-2.5-4.2-2.5 4.2zM90.2 299.8l2.5-4.2-2.5-4.2-2.5 4.2zM90.3 298.8l2.5-4.2-2.5-4.2-2.5 4.2zM90.4 299.7l2.5-4.2-2.5-4.2-2.5 4.2zM90.5 297.4l2.5-4.2-2.5-4.2-2.5 4.2zM90.6 298.4l2.5-4.2-2.5-4.2-2.5 4.2zM90.7 299.1l2.5-4.2-2.5-4.2-2.5 4.2zM90.9 299.6l2.5-4.2-2.5-4.2-2.5 4.2zM91 296.9l2.5-4.2-2.5-4.2-2.5 4.2zM91.1 299l2.5-4.2-2.5-4.2-2.5 4.2zM91.2 299.8l2.5-4.2-2.5-4.2-2.5 4.2zM91.3 298.8l2.5-4.2-2.5-4.2-2.5 4.2zM91.4 297.7l2.5-4.2-2.5-4.2-2.5 4.2zM91.5 298.1l2.5-4.2-2.5-4.2-2.5 4.2zM91.6 296.9l2.5-4.2-2.5-4.2-2.5 4.2zM91.8 298l2.5-4.2-2.5-4.2-2.5 4.2zM91.9 299l2.5-4.2-2.5-4.2-2.5 4.2zM92 298.9l2.5-4.2-2.5-4.2-2.5 4.2zM92.1 299.9l2.5-4.2-2.5-4.2-2.5 4.2zM92.2 299.2l2.5-4.2-2.5-4.2-2.5 4.2zM92.3 299.6l2.5-4.2-2.5-4.2-2.5 4.2zM92.4 297.6l2.5-4.2-2.5-4.2-2.5 4.2zM92.5 299.5l2.5-4.2-2.5-4.2-2.5 4.2zM92.7 297.9l2.5-4.2-2.5-4.2-2.5 4.2zM92.8 298.9l2.5-4.2-2.5-4.2-2.5 4.2zM92.9 297.7l2.5-4.2-2.5-4.2-2.5 4.2zM93 299.1l2.5-4.2-2.5-4.2-2.5 4.2zM93.1 298.4l2.5-4.2-2.5-4.2-2.5 4.2zM93.2 297.6l2.5-4.2-2.5-4.2-2.5 4.2zM93.3 299.3l2.5-4.2-2.5-4.2-2.5 4.2zM93.4 298.2l2.5-4.2-2.5-4.2-2.5 4.2zM93.6 299.3l2.5-4.2-2.5-4.2-2.5 4.2zM93.7 299.1l2.5-4.2-2.5-4.2-2.5 4.2zM93.8 299.9l2.5-4.2-2.5-4.2-2.5 4.2zM93.9 297.5l2.5-4.2-2.5-4.2-2.5 4.2zM94 299.2l2.5-4.2-2.5-4.2-2.5 4.2zM94.1 299.5l2.5-4.2-2.5-4.2-2.5 4.2zM94.2 299.4l2.5-4.2-2.5-4.2-2.5 4.2zM94.3 297.5l2.5-4.2-2.5-4.2-2.5 4.2zM94.5 299.4l2.5-4.2-2.5-4.2-2.5 4.2zM94.6 299l2.5-4.2-2.5-4.2-2.5 4.2zM94.7 299.5l2.5-4.2-2.5-4.2-2.5 4.2zM94.8 297.3l2.5-4.2-2.5-4.2-2.5 4.2zM94.9 298.8l2.5-4.2-2.5-4.2-2.5 4.2zM95 299.9l2.5-4.2-2.5-4.2-2.5 4.2zM95.1 298.8l2.5-4.2-2.5-4.2-2.5 4.2zM95.3 297.8l2.5-4.2-2.5-4.2-2.5 4.2zM95.4 299.3l2.5-4.2-2.5-4.2-2.5 4.2zM95.5 298.7l2.5-4.2-2.5-4.2-2.5 4.2zM95.6 299.4l2.5-4.2-2.5-4.2-2.5 4.2zM95.7 299.9l2.5-4.2-2.5-4.2-2.5 4.2zM95.8 299.4l2.5-4.2-2.5-4.2-2.5 4.2zM95.9 297.7l2.5-4.2-2.5-4.2-2.5 4.2zM96 297.7l2.5-4.2-2.5-4.2-2.5 4.2zM96.2 298.6l2.5-4.2-2.5-4.2-2.5 4.2zM96.3 298.5l2.5-4.2-2.5-4.2-2.5 4.2zM96.4 296.4l2.5-4.2-2.5-4.2-2.5 4.2zM96.5 297l2.5-4.2-2.5-4.2-2.5 4.2zM96.6 299.8l2.5-4.2-2.5-4.2-2.5 4.2zM96.7 299.6l2.5-4.2-2.5-4.2-2.5 4.2zM96.8 299.3l2.5-4.2-2.5-4.2-2.5 4.2zM96.9 299.4l2.5-4.2-2.5-4.2-2.5 4.2zM97.1 299.2l2.5-4.2-2.5-4.2-2.5 4.2zM97.2 298.8l2.5-4.2-2.5-4.2-2.5 4.2zM97.3 298.3l2.5-4.2-2.5-4.2-2.5 4.2zM97.4 299.6l2.5-4.2-2.5-4.2-2.5 4.2zM97.5 298.1l2.5-4.2-2.5-4.2-2.5 4.2zM97.6 298.6l2.5-4.2-2.5-4.2-2.5 4.2zM97.7 299.8l2.5-4.2-2.5-4.2-2.5 4.2zM97.8 298.8l2.5-4.2-2.5-4.2-2.5 4.2zM98 298l2.5-4.2-2.5-4.2-2.5 4.2zM98.1 298l2.5-4.2-2.5-4.2-2.5 4.2zM98.2 297.9l2.5-4.2-2.5-4.2-2.5 4.2zM98.3 298.9l2.5-4.2-2.5-4.2-2.5 4.2zM98.4 297.8l2.5-4.2-2.5-4.2-2.5 4.2zM98.5 299.5l2.5-4.2-2.5-4.2-2.5 4.2zM98.6 298.5l2.5-4.2-2.5-4.2-2.5 4.2zM98.7 299.1l2.5-4.2-2.5-4.2-2.5 4.2zM98.9 299.8l2.5-4.2-2.5-4.2-2.5 4.2zM99 297.9l2.5-4.2-2.5-4.2-2.5 4.2zM99.1 298.1l2.5-4.2-2.5-4.2-2.5 4.2zM99.2 298.8l2.5-4.2-2.5-4.2-2.5 4.2zM99.3 298.1l2.5-4.2-2.5-4.2-2.5 4.2zM99.4 299.1l2.5-4.2-2.5-4.2-2.5 4.2zM99.5 299.2l2.5-4.2-2.5-4.2-2.5 4.2zM99.6 296.5l2.5-4.2-2.5-4.2-2.5 4.2zM99.8 298.7l2.5-4.2-2.5-4.2-2.5 4.2zM99.9 298.8l2.5-4.2-2.5-4.2-2.5 4.2zM100 299.2l2.5-4.2-2.5-4.2-2.5 4.2zM100.1 299.6l2.5-4.2-2.5-4.2-2.5 4.2zM100.2 297.8l2.5-4.2-2.5-4.2-2.5 4.2zM100.3 299.7l2.5-4.2-2.5-4.2-2.5 4.2zM100.4 299.8l2.5-4.2-2.5-4.2-2.5 4.2zM100.5 299.1l2.5-4.2-2.5-4.2-2.5 4.2zM100.7 299.5l2.5-4.2-2.5-4.2-2.5 4.2zM100.8 299.4l2.5-4.2-2.5-4.2-2.5 4.2zM100.9 299.8l2.5-4.2-2.5-4.2-2.5 4.2zM101 297.9l2.5-4.2-2.5-4.2-2.5 4.2zM101.1 298.9l2.5-4.2-2.5-4.2-2.5 4.2zM101.2 299.8l2.5-4.2-2.5-4.2-2.5 4.2zM101.3 299.4l2.5-4.2-2.5-4.2-2.5 4.2zM101.5 299.6l2.5-4.2-2.5-4.2-2.5 4.2zM101.6 297.4l2.5-4.2-2.5-4.2-2.5 4.2zM101.7 298.8l2.5-4.2-2.5-4.2-2.5 4.2zM101.8 297.4l2.5-4.2-2.5-4.2-2.5 4.2zM101.9 299.3l2.5-4.2-2.5-4.2-2.5 4.2zM102 298.9l2.5-4.2-2.5-4.2-2.5 4.2zM102.1 298.8l2.5-4.2-2.5-4.2-2.5 4.2zM102.2 299.7l2.5-4.2-2.5-4.2-2.5 4.2zM102.4 299.2l2.5-4.2-2.5-4.2-2.5 4.2zM102.5 298.6l2.5-4.2-2.5-4.2-2.5 4.2zM102.6 298.7l2.5-4.2-2.5-4.2-2.5 4.2zM102.7 299.1l2.5-4.2-2.5-4.2-2.5 4.2zM102.8 299.9l2.5-4.2-2.5-4.2-2.5 4.2zM102.9 299.5l2.5-4.2-2.5-4.2-2.5 4.2zM103 299.7l2.5-4.2-2.5-4.2-2.5 4.2zM103.1 299.5l2.5-4.2-2.5-4.2-2.5 4.2zM103.3 297.4l2.5-4.2-2.5-4.2-2.5 4.2zM103.4 297.6l2.5-4.2-2.5-4.2-2.5 4.2zM103.5 299.7l2.5-4.2-2.5-4.2-2.5 4.2zM103.6 299.8l2.5-4.2-2.5-4.2-2.5 4.2zM103.7 297.7l2.5-4.2-2.5-4.2-2.5 4.2zM103.8 297.8l2.5-4.2-2.5-4.2-2.5 4.2zM103.9 299.7l2.5-4.2-2.5-4.2-2.5 4.2zM104 297.4l2.5-4.2-2.5-4.2-2.5 4.2zM104.2 298.1l2.5-4.2-2.5-4.2-2.5 4.2zM104.3 298.9l2.5-4.2-2.5-4.2-2.5 4.2zM104.4 297.5l2.5-4.2-2.5-4.2-2.5 4.2zM104.5 299l2.5-4.2-2.5-4.2-2.5 4.2zM104.6 299.3l2.5-4.2-2.5-4.2-2.5 4.2zM104.7 299.3l2.5-4.2-2.5-4.2-2.5 4.2zM104.8 299.5l2.5-4.2-2.5-4.2-2.5 4.2zM104.9 299.5l2.5-4.2-2.5-4.2-2.5 4.2zM105.1 297l2.5-4.2-2.5-4.2-2.5 4.2zM105.2 299.5l2.5-4.2-2.5-4.2-2.5 4.2zM105.3 299.4l2.5-4.2-2.5-4.2-2.5 4.2zM105.4 299.2l2.5-4.2-2.5-4.2-2.5 4.2zM105.5 298.1l2.5-4.2-2.5-4.2-2.5 4.2zM105.6 299.6l2.5-4.2-2.5-4.2-2.5 4.2zM105.7 297.6l2.5-4.2-2.5-4.2-2.5 4.2zM105.8 299.2l2.5-4.2-2.5-4.2-2.5 4.2zM106 297.7l2.5-4.2-2.5-4.2-2.5 4.2zM106.1 298.3l2.5-4.2-2.5-4.2-2.5 4.2zM106.2 296.4l2.5-4.2-2.5-4.2-2.5 4.2zM106.3 299.5l2.5-4.2-2.5-4.2-2.5 4.2zM106.4 298.3l2.5-4.2-2.5-4.2-2.5 4.2zM106.5 299.4l2.5-4.2-2.5-4.2-2.5 4.2zM106.6 299.8l2.5-4.2-2.5-4.2-2.5 4.2zM106.7 298.6l2.5-4.2-2.5-4.2-2.5 4.2zM106.9 298.9l2.5-4.2-2.5-4.2-2.5 4.2zM107 299.1l2.5-4.2-2.5-4.2-2.5 4.2zM107.1 298.9l2.5-4.2-2.5-4.2-2.5 4.2zM107.2 299l2.5-4.2-2.5-4.2-2.5 4.2zM107.3 298.3l2.5-4.2-2.5-4.2-2.5 4.2zM107.4 298.7l2.5-4.2-2.5-4.2-2.5 4.2zM107.5 296.7l2.5-4.2-2.5-4.2-2.5 4.2zM107.7 297.5l2.5-4.2-2.5-4.2-2.5 4.2zM107.8 299.2l2.5-4.2-2.5-4.2-2.5 4.2zM107.9 297.7l2.5-4.2-2.5-4.2-2.5 4.2zM108 299.7l2.5-4.2-2.5-4.2-2.5 4.2zM108.1 297.5l2.5-4.2-2.5-4.2-2.5 4.2zM108.2 299.6l2.5-4.2-2.5-4.2-2.5 4.2zM108.3 297.4l2.5-4.2-2.5-4.2-2.5 4.2zM108.4 299.3l2.5-4.2-2.5-4.2-2.5 4.2zM108.6 296.4l2.5-4.2-2.5-4.2-2.5 4.2zM108.7 299l2.5-4.2-2.5-4.2-2.5 4.2zM108.8 299.9l2.5-4.2-2.5-4.2-2.5 4.2zM108.9 299.5l2.5-4.2-2.5-4.2-2.5 4.2zM109 297.5l2.5-4.2-2.5-4.2-2.5 4.2zM109.1 297.5l2.5-4.2-2.5-4.2-2.5 4.2zM109.2 299.8l2.5-4.2-2.5-4.2-2.5 4.2zM109.3 297.4l2.5-4.2-2.5-4.2-2.5 4.2zM109.5 299.9l2.5-4.2-2.5-4.2-2.5 4.2zM109.6 297.8l2.5-4.2-2.5-4.2-2.5 4.2zM109.7 299l2.5-4.2-2.5-4.2-2.5 4.2zM109.8 299.8l2.5-4.2-2.5-4.2-2.5 4.2zM109.9 298.2l2.5-4.2-2.5-4.2-2.5 4.2zM110 297.7l2.5-4.2-2.5-4.2-2.5 4.2zM110.1 297.5l2.5-4.2-2.5-4.2-2.5 4.2zM110.2 299.9l2.5-4.2-2.5-4.2-2.5 4.2zM110.4 299.1l2.5-4.2-2.5-4.2-2.5 4.2zM110.5 297.8l2.5-4.2-2.5-4.2-2.5 4.2zM110.6 299.4l2.5-4.2-2.5-4.2-2.5 4.2zM110.7 299.7l2.5-4.2-2.5-4.2-2.5 4.2zM110.8 299.7l2.5-4.2-2.5-4.2-2.5 4.2zM110.9 299.3l2.5-4.2-2.5-4.2-2.5 4.2zM111 298.9l2.5-4.2-2.5-4.2-2.5 4.2zM111.1 296.6l2.5-4.2-2.5-4.2-2.5 4.2zM111.3 298.6l2.5-4.2-2.5-4.2-2.5 4.2zM111.4 296.8l2.5-4.2-2.5-4.2-2.5 4.2zM111.5 297.7l2.5-4.2-2.5-4.2-2.5 4.2zM111.6 298.2l2.5-4.2-2.5-4.2-2.5 4.2zM111.7 296.6l2.5-4.2-2.5-4.2-2.5 4.2zM111.8 299.9l2.5-4.2-2.5-4.2-2.5 4.2zM111.9 299l2.5-4.2-2.5-4.2-2.5 4.2zM112 299.3l2.5-4.2-2.5-4.2-2.5 4.2zM112.2 298.2l2.5-4.2-2.5-4.2-2.5 4.2zM112.3 299.2l2.5-4.2-2.5-4.2-2.5 4.2zM112.4 299.5l2.5-4.2-2.5-4.2-2.5 4.2zM112.5 297.3l2.5-4.2-2.5-4.2-2.5 4.2zM112.6 299.7l2.5-4.2-2.5-4.2-2.5 4.2zM112.7 299.8l2.5-4.2-2.5-4.2-2.5 4.2zM112.8 296.9l2.5-4.2-2.5-4.2-2.5 4.2zM112.9 299.2l2.5-4.2-2.5-4.2-2.5 4.2zM113.1 298.4l2.5-4.2-2.5-4.2-2.5 4.2zM113.2 299.3l2.5-4.2-2.5-4.2-2.5 4.2zM113.3 299.7l2.5-4.2-2.5-4.2-2.5 4.2zM113.4 299l2.5-4.2-2.5-4.2-2.5 4.2zM113.5 297.8l2.5-4.2-2.5-4.2-2.5 4.2zM113.6 297.5l2.5-4.2-2.5-4.2-2.5 4.2zM113.7 297.2l2.5-4.2-2.5-4.2-2.5 4.2zM113.9 299.6l2.5-4.2-2.5-4.2-2.5 4.2zM114 298.8l2.5-4.2-2.5-4.2-2.5 4.2zM114.1 299.6l2.5-4.2-2.5-4.2-2.5 4.2zM114.2 299.2l2.5-4.2-2.5-4.2-2.5 4.2zM114.3 299l2.5-4.2-2.5-4.2-2.5 4.2zM114.4 299.3l2.5-4.2-2.5-4.2-2.5 4.2zM114.5 298.8l2.5-4.2-2.5-4.2-2.5 4.2zM114.6 299l2.5-4.2-2.5-4.2-2.5 4.2zM114.8 299.5l2.5-4.2-2.5-4.2-2.5 4.2zM114.9 298.9l2.5-4.2-2.5-4.2-2.5 4.2zM115 299.6l2.5-4.2-2.5-4.2-2.5 4.2zM115.1 298.2l2.5-4.2-2.5-4.2-2.5 4.2zM115.2 297.2l2.5-4.2-2.5-4.2-2.5 4.2zM115.3 298.8l2.5-4.2-2.5-4.2-2.5 4.2zM115.4 298.7l2.5-4.2-2.5-4.2-2.5 4.2zM115.5 298.6l2.5-4.2-2.5-4.2-2.5 4.2zM115.7 298.8l2.5-4.2-2.5-4.2-2.5 4.2zM115.8 299.5l2.5-4.2-2.5-4.2-2.5 4.2zM115.9 298.3l2.5-4.2-2.5-4.2-2.5 4.2zM116 299.1l2.5-4.2-2.5-4.2-2.5 4.2zM116.1 298.9l2.5-4.2-2.5-4.2-2.5 4.2zM116.2 299.2l2.5-4.2-2.5-4.2-2.5 4.2zM116.3 297.8l2.5-4.2-2.5-4.2-2.5 4.2zM116.4 298.1l2.5-4.2-2.5-4.2-2.5 4.2zM116.6 298.2l2.5-4.2-2.5-4.2-2.5 4.2zM116.7 299.7l2.5-4.2-2.5-4.2-2.5 4.2zM116.8 298l2.5-4.2-2.5-4.2-2.5 4.2zM116.9 299.1l2.5-4.2-2.5-4.2-2.5 4.2zM117 298.3l2.5-4.2-2.5-4.2-2.5 4.2zM117.1 299.8l2.5-4.2-2.5-4.2-2.5 4.2zM117.2 299.1l2.5-4.2-2.5-4.2-2.5 4.2zM117.3 299.6l2.5-4.2-2.5-4.2-2.5 4.2zM117.5 298.8l2.5-4.2-2.5-4.2-2.5 4.2zM117.6 297.1l2.5-4.2-2.5-4.2-2.5 4.2zM117.7 299.2l2.5-4.2-2.5-4.2-2.5 4.2zM117.8 299.2l2.5-4.2-2.5-4.2-2.5 4.2zM117.9 298.2l2.5-4.2-2.5-4.2-2.5 4.2zM118 298l2.5-4.2-2.5-4.2-2.5 4.2zM118.1 298.9l2.5-4.2-2.5-4.2-2.5 4.2zM118.2 299.8l2.5-4.2-2.5-4.2-2.5 4.2zM118.4 299.1l2.5-4.2-2.5-4.2-2.5 4.2zM118.5 299.4l2.5-4.2-2.5-4.2-2.5 4.2zM118.6 297.8l2.5-4.2-2.5-4.2-2.5 4.2zM118.7 298.6l2.5-4.2-2.5-4.2-2.5 4.2zM118.8 298.6l2.5-4.2-2.5-4.2-2.5 4.2zM118.9 298.3l2.5-4.2-2.5-4.2-2.5 4.2zM119 299.8l2.5-4.2-2.5-4.2-2.5 4.2zM119.1 299.8l2.5-4.2-2.5-4.2-2.5 4.2zM119.3 298l2.5-4.2-2.5-4.2-2.5 4.2zM119.4 298.5l2.5-4.2-2.5-4.2-2.5 4.2zM119.5 299.7l2.5-4.2-2.5-4.2-2.5 4.2zM119.6 299.6l2.5-4.2-2.5-4.2-2.5 4.2zM119.7 299.4l2.5-4.2-2.5-4.2-2.5 4.2zM119.8 297.6l2.5-4.2-2.5-4.2-2.5 4.2zM119.9 297.9l2.5-4.2-2.5-4.2-2.5 4.2zM120.1 299.4l2.5-4.2-2.5-4.2-2.5 4.2zM120.2 299.1l2.5-4.2-2.5-4.2-2.5 4.2zM120.3 299.1l2.5-4.2-2.5-4.2-2.5 4.2zM120.4 298.6l2.5-4.2-2.5-4.2-2.5 4.2zM120.5 296.9l2.5-4.2-2.5-4.2-2.5 4.2zM120.6 299.2l2.5-4.2-2.5-4.2-2.5 4.2zM120.7 299.7l2.5-4.2-2.5-4.2-2.5 4.2zM120.8 298.9l2.5-4.2-2.5-4.2-2.5 4.2zM121 298.4l2.5-4.2-2.5-4.2-2.5 4.2zM121.1 299.3l2.5-4.2-2.5-4.2-2.5 4.2zM121.2 298.8l2.5-4.2-2.5-4.2-2.5 4.2zM121.3 297.4l2.5-4.2-2.5-4.2-2.5 4.2zM121.4 298l2.5-4.2-2.5-4.2-2.5 4.2zM121.5 296.6l2.5-4.2-2.5-4.2-2.5 4.2zM121.6 298.3l2.5-4.2-2.5-4.2-2.5 4.2zM121.7 299.3l2.5-4.2-2.5-4.2-2.5 4.2zM121.9 299.5l2.5-4.2-2.5-4.2-2.5 4.2zM122 299.6l2.5-4.2-2.5-4.2-2.5 4.2zM122.1 299.7l2.5-4.2-2.5-4.2-2.5 4.2zM122.2 299.4l2.5-4.2-2.5-4.2-2.5 4.2zM122.3 298.8l2.5-4.2-2.5-4.2-2.5 4.2zM122.4 299.7l2.5-4.2-2.5-4.2-2.5 4.2zM122.5 298.8l2.5-4.2-2.5-4.2-2.5 4.2zM122.6 299.4l2.5-4.2-2.5-4.2-2.5 4.2zM122.8 297.6l2.5-4.2-2.5-4.2-2.5 4.2zM122.9 298l2.5-4.2-2.5-4.2-2.5 4.2zM123 299.3l2.5-4.2-2.5-4.2-2.5 4.2zM123.1 299.5l2.5-4.2-2.5-4.2-2.5 4.2zM123.2 299.3l2.5-4.2-2.5-4.2-2.5 4.2zM123.3 298.5l2.5-4.2-2.5-4.2-2.5 4.2zM123.4 299.4l2.5-4.2-2.5-4.2-2.5 4.2zM123.5 298l2.5-4.2-2.5-4.2-2.5 4.2zM123.7 299.7l2.5-4.2-2.5-4.2-2.5 4.2zM123.8 299.2l2.5-4.2-2.5-4.2-2.5 4.2zM123.9 298.6l2.5-4.2-2.5-4.2-2.5 4.2zM124 297.8l2.5-4.2-2.5-4.2-2.5 4.2zM124.1 297.5l2.5-4.2-2.5-4.2-2.5 4.2zM124.2 299.7l2.5-4.2-2.5-4.2-2.5 4.2zM124.3 297.9l2.5-4.2-2.5-4.2-2.5 4.2zM124.4 299.8l2.5-4.2-2.5-4.2-2.5 4.2zM124.6 297.6l2.5-4.2-2.5-4.2-2.5 4.2zM124.7 299.8l2.5-4.2-2.5-4.2-2.5 4.2zM124.8 296.5l2.5-4.2-2.5-4.2-2.5 4.2zM124.9 298.2l2.5-4.2-2.5-4.2-2.5 4.2zM125 298.8l2.5-4.2-2.5-4.2-2.5 4.2zM125.1 299.1l2.5-4.2-2.5-4.2-2.5 4.2zM125.2 299.5l2.5-4.2-2.5-4.2-2.5 4.2zM125.3 298l2.5-4.2-2.5-4.2-2.5 4.2zM125.5 299.6l2.5-4.2-2.5-4.2-2.5 4.2zM125.6 296.4l2.5-4.2-2.5-4.2-2.5 4.2zM125.7 299.2l2.5-4.2-2.5-4.2-2.5 4.2zM125.8 299.7l2.5-4.2-2.5-4.2-2.5 4.2zM125.9 298.8l2.5-4.2-2.5-4.2-2.5 4.2zM126 298.8l2.5-4.2-2.5-4.2-2.5 4.2zM126.1 298.6l2.5-4.2-2.5-4.2-2.5 4.2zM126.3 296.9l2.5-4.2-2.5-4.2-2.5 4.2zM126.4 299.1l2.5-4.2-2.5-4.2-2.5 4.2zM126.5 298.8l2.5-4.2-2.5-4.2-2.5 4.2zM126.6 298.4l2.5-4.2-2.5-4.2-2.5 4.2zM126.7 299.6l2.5-4.2-2.5-4.2-2.5 4.2zM126.8 297.6l2.5-4.2-2.5-4.2-2.5 4.2zM126.9 299.6l2.5-4.2-2.5-4.2-2.5 4.2zM127 297.5l2.5-4.2-2.5-4.2-2.5 4.2zM127.2 299.4l2.5-4.2-2.5-4.2-2.5 4.2zM127.3 298.8l2.5-4.2-2.5-4.2-2.5 4.2zM127.4 297.7l2.5-4.2-2.5-4.2-2.5 4.2zM127.5 299.1l2.5-4.2-2.5-4.2-2.5 4.2zM127.6 296.5l2.5-4.2-2.5-4.2-2.5 4.2zM127.7 298.2l2.5-4.2-2.5-4.2-2.5 4.2zM127.8 299.2l2.5-4.2-2.5-4.2-2.5 4.2zM127.9 298l2.5-4.2-2.5-4.2-2.5 4.2zM128.1 297.1l2.5-4.2-2.5-4.2-2.5 4.2zM128.2 299.7l2.5-4.2-2.5-4.2-2.5 4.2zM128.3 299.3l2.5-4.2-2.5-4.2-2.5 4.2zM128.4 299.7l2.5-4.2-2.5-4.2-2.5 4.2zM128.5 298.5l2.5-4.2-2.5-4.2-2.5 4.2zM128.6 298.9l2.5-4.2-2.5-4.2-2.5 4.2zM128.7 299l2.5-4.2-2.5-4.2-2.5 4.2zM128.8 298l2.5-4.2-2.5-4.2-2.5 4.2zM129 299.4l2.5-4.2-2.5-4.2-2.5 4.2zM129.1 299.4l2.5-4.2-2.5-4.2-2.5 4.2zM129.2 299.7l2.5-4.2-2.5-4.2-2.5 4.2zM129.3 299.1l2.5-4.2-2.5-4.2-2.5 4.2zM129.4 299.3l2.5-4.2-2.5-4.2-2.5 4.2zM129.5 299.2l2.5-4.2-2.5-4.2-2.5 4.2zM129.6 298.9l2.5-4.2-2.5-4.2-2.5 4.2zM129.7 297.7l2.5-4.2-2.5-4.2-2.5 4.2zM129.9 298.5l2.5-4.2-2.5-4.2-2.5 4.2zM130 298.8l2.5-4.2-2.5-4.2-2.5 4.2zM130.1 296.7l2.5-4.2-2.5-4.2-2.5 4.2zM130.2 297.4l2.5-4.2-2.5-4.2-2.5 4.2zM130.3 297.2l2.5-4.2-2.5-4.2-2.5 4.2zM130.4 298.1l2.5-4.2-2.5-4.2-2.5 4.2zM130.5 297.6l2.5-4.2-2.5-4.2-2.5 4.2zM130.6 298.9l2.5-4.2-2.5-4.2-2.5 4.2zM130.8 299.8l2.5-4.2-2.5-4.2-2.5 4.2zM130.9 298.4l2.5-4.2-2.5-4.2-2.5 4.2zM131 298.5l2.5-4.2-2.5-4.2-2.5 4.2zM131.1 297.5l2.5-4.2-2.5-4.2-2.5 4.2zM131.2 297.4l2.5-4.2-2.5-4.2-2.5 4.2zM131.3 298.3l2.5-4.2-2.5-4.2-2.5 4.2zM131.4 298.4l2.5-4.2-2.5-4.2-2.5 4.2zM131.5 299.4l2.5-4.2-2.5-4.2-2.5 4.2zM131.7 297.4l2.5-4.2-2.5-4.2-2.5 4.2zM131.8 298.6l2.5-4.2-2.5-4.2-2.5 4.2zM131.9 299.6l2.5-4.2-2.5-4.2-2.5 4.2zM132 298.6l2.5-4.2-2.5-4.2-2.5 4.2zM132.1 299l2.5-4.2-2.5-4.2-2.5 4.2zM132.2 298.4l2.5-4.2-2.5-4.2-2.5 4.2zM132.3 297.6l2.5-4.2-2.5-4.2-2.5 4.2zM132.5 298.3l2.5-4.2-2.5-4.2-2.5 4.2zM132.6 299.2l2.5-4.2-2.5-4.2-2.5 4.2zM132.7 299.1l2.5-4.2-2.5-4.2-2.5 4.2zM132.8 298.3l2.5-4.2-2.5-4.2-2.5 4.2zM132.9 298.5l2.5-4.2-2.5-4.2-2.5 4.2zM133 299.6l2.5-4.2-2.5-4.2-2.5 4.2zM133.1 299.7l2.5-4.2-2.5-4.2-2.5 4.2zM133.2 297.4l2.5-4.2-2.5-4.2-2.5 4.2zM133.4 299.6l2.5-4.2-2.5-4.2-2.5 4.2zM133.5 298.5l2.5-4.2-2.5-4.2-2.5 4.2zM133.6 299.2l2.5-4.2-2.5-4.2-2.5 4.2zM133.7 297.9l2.5-4.2-2.5-4.2-2.5 4.2zM133.8 299.7l2.5-4.2-2.5-4.2-2.5 4.2zM133.9 297.5l2.5-4.2-2.5-4.2-2.5 4.2zM134 297.6l2.5-4.2-2.5-4.2-2.5 4.2zM134.1 299.2l2.5-4.2-2.5-4.2-2.5 4.2zM134.3 299l2.5-4.2-2.5-4.2-2.5 4.2zM134.4 297.6l2.5-4.2-2.5-4.2-2.5 4.2zM134.5 299.5l2.5-4.2-2.5-4.2-2.5 4.2zM134.6 297.4l2.5-4.2-2.5-4.2-2.5 4.2zM134.7 299.4l2.5-4.2-2.5-4.2-2.5 4.2zM134.8 297l2.5-4.2-2.5-4.2-2.5 4.2zM134.9 299.7l2.5-4.2-2.5-4.2-2.5 4.2zM135 299.4l2.5-4.2-2.5-4.2-2.5 4.2zM135.2 299.2l2.5-4.2-2.5-4.2-2.5 4.2zM135.3 298.6l2.5-4.2-2.5-4.2-2.5 4.2zM135.4 298l2.5-4.2-2.5-4.2-2.5 4.2zM135.5 298.3l2.5-4.2-2.5-4.2-2.5 4.2zM135.6 297.6l2.5-4.2-2.5-4.2-2.5 4.2zM135.7 299.6l2.5-4.2-2.5-4.2-2.5 4.2zM135.8 299.8l2.5-4.2-2.5-4.2-2.5 4.2zM135.9 298.1l2.5-4.2-2.5-4.2-2.5 4.2zM136.1 299.7l2.5-4.2-2.5-4.2-2.5 4.2zM136.2 299.1l2.5-4.2-2.5-4.2-2.5 4.2zM136.3 299.3l2.5-4.2-2.5-4.2-2.5 4.2zM136.4 299.2l2.5-4.2-2.5-4.2-2.5 4.2zM136.5 299.2l2.5-4.2-2.5-4.2-2.5 4.2zM136.6 297.5l2.5-4.2-2.5-4.2-2.5 4.2zM136.7 297.7l2.5-4.2-2.5-4.2-2.5 4.2zM136.8 297.8l2.5-4.2-2.5-4.2-2.5 4.2zM137 298.8l2.5-4.2-2.5-4.2-2.5 4.2zM137.1 298.9l2.5-4.2-2.5-4.2-2.5 4.2zM137.2 299.1l2.5-4.2-2.5-4.2-2.5 4.2zM137.3 298.8l2.5-4.2-2.5-4.2-2.5 4.2zM137.4 298.5l2.5-4.2-2.5-4.2-2.5 4.2zM137.5 298.8l2.5-4.2-2.5-4.2-2.5 4.2zM137.6 299.4l2.5-4.2-2.5-4.2-2.5 4.2zM137.7 296.7l2.5-4.2-2.5-4.2-2.5 4.2zM137.9 298.8l2.5-4.2-2.5-4.2-2.5 4.2zM138 297.7l2.5-4.2-2.5-4.2-2.5 4.2zM138.1 298l2.5-4.2-2.5-4.2-2.5 4.2zM138.2 299.1l2.5-4.2-2.5-4.2-2.5 4.2zM138.3 297.5l2.5-4.2-2.5-4.2-2.5 4.2zM138.4 298.9l2.5-4.2-2.5-4.2-2.5 4.2zM138.5 298.6l2.5-4.2-2.5-4.2-2.5 4.2zM138.7 299.3l2.5-4.2-2.5-4.2-2.5 4.2zM138.8 298.6l2.5-4.2-2.5-4.2-2.5 4.2zM138.9 297.8l2.5-4.2-2.5-4.2-2.5 4.2zM139 299.8l2.5-4.2-2.5-4.2-2.5 4.2zM139.1 299l2.5-4.2-2.5-4.2-2.5 4.2zM139.2 299.5l2.5-4.2-2.5-4.2-2.5 4.2zM139.3 297.4l2.5-4.2-2.5-4.2-2.5 4.2zM139.4 299l2.5-4.2-2.5-4.2-2.5 4.2zM139.6 298.4l2.5-4.2-2.5-4.2-2.5 4.2zM139.7 299.1l2.5-4.2-2.5-4.2-2.5 4.2zM139.8 299.6l2.5-4.2-2.5-4.2-2.5 4.2zM139.9 299.2l2.5-4.2-2.5-4.2-2.5 4.2zM140 298.1l2.5-4.2-2.5-4.2-2.5 4.2zM140.1 299.6l2.5-4.2-2.5-4.2-2.5 4.2zM140.2 299l2.5-4.2-2.5-4.2-2.5 4.2zM140.3 299.1l2.5-4.2-2.5-4.2-2.5 4.2zM140.5 298.4l2.5-4.2-2.5-4.2-2.5 4.2zM140.6 297.9l2.5-4.2-2.5-4.2-2.5 4.2zM140.7 298.7l2.5-4.2-2.5-4.2-2.5 4.2zM140.8 296.7l2.5-4.2-2.5-4.2-2.5 4.2zM140.9 299.2l2.5-4.2-2.5-4.2-2.5 4.2zM141 297.6l2.5-4.2-2.5-4.2-2.5 4.2zM141.1 298.6l2.5-4.2-2.5-4.2-2.5 4.2zM141.2 298.2l2.5-4.2-2.5-4.2-2.5 4.2zM141.4 298.7l2.5-4.2-2.5-4.2-2.5 4.2zM141.5 296.8l2.5-4.2-2.5-4.2-2.5 4.2zM141.6 297.6l2.5-4.2-2.5-4.2-2.5 4.2zM141.7 298.8l2.5-4.2-2.5-4.2-2.5 4.2zM141.8 299.7l2.5-4.2-2.5-4.2-2.5 4.2zM141.9 298.8l2.5-4.2-2.5-4.2-2.5 4.2zM142 299.2l2.5-4.2-2.5-4.2-2.5 4.2zM142.1 297.3l2.5-4.2-2.5-4.2-2.5 4.2zM142.3 298.3l2.5-4.2-2.5-4.2-2.5 4.2zM142.4 299.3l2.5-4.2-2.5-4.2-2.5 4.2zM142.5 297.6l2.5-4.2-2.5-4.2-2.5 4.2zM142.6 299.3l2.5-4.2-2.5-4.2-2.5 4.2zM142.7 298.1l2.5-4.2-2.5-4.2-2.5 4.2zM142.8 299l2.5-4.2-2.5-4.2-2.5 4.2zM142.9 299.7l2.5-4.2-2.5-4.2-2.5 4.2zM143 297.1l2.5-4.2-2.5-4.2-2.5 4.2zM143.2 298.7l2.5-4.2-2.5-4.2-2.5 4.2zM143.3 297.8l2.5-4.2-2.5-4.2-2.5 4.2zM143.4 299l2.5-4.2-2.5-4.2-2.5 4.2zM143.5 296.7l2.5-4.2-2.5-4.2-2.5 4.2zM143.6 297.4l2.5-4.2-2.5-4.2-2.5 4.2zM143.7 299.1l2.5-4.2-2.5-4.2-2.5 4.2zM143.8 299.4l2.5-4.2-2.5-4.2-2.5 4.2zM143.9 298.3l2.5-4.2-2.5-4.2-2.5 4.2zM144.1 297.7l2.5-4.2-2.5-4.2-2.5 4.2zM144.2 299.9l2.5-4.2-2.5-4.2-2.5 4.2zM144.3 299.8l2.5-4.2-2.5-4.2-2.5 4.2zM144.4 298l2.5-4.2-2.5-4.2-2.5 4.2zM144.5 299.2l2.5-4.2-2.5-4.2-2.5 4.2zM144.6 299.7l2.5-4.2-2.5-4.2-2.5 4.2zM144.7 298l2.5-4.2-2.5-4.2-2.5 4.2zM144.9 298.9l2.5-4.2-2.5-4.2-2.5 4.2zM145 299.6l2.5-4.2-2.5-4.2-2.5 4.2zM145.1 299.3l2.5-4.2-2.5-4.2-2.5 4.2zM145.2 299.4l2.5-4.2-2.5-4.2-2.5 4.2zM145.3 298l2.5-4.2-2.5-4.2-2.5 4.2zM145.4 299.2l2.5-4.2-2.5-4.2-2.5 4.2zM145.5 297.5l2.5-4.2-2.5-4.2-2.5 4.2zM145.6 296.6l2.5-4.2-2.5-4.2-2.5 4.2zM145.8 297.4l2.5-4.2-2.5-4.2-2.5 4.2zM145.9 298.8l2.5-4.2-2.5-4.2-2.5 4.2zM146 299.9l2.5-4.2-2.5-4.2-2.5 4.2zM146.1 297.9l2.5-4.2-2.5-4.2-2.5 4.2zM146.2 299l2.5-4.2-2.5-4.2-2.5 4.2zM146.3 299.7l2.5-4.2-2.5-4.2-2.5 4.2zM146.4 299.8l2.5-4.2-2.5-4.2-2.5 4.2zM146.5 299.6l2.5-4.2-2.5-4.2-2.5 4.2zM146.7 298.1l2.5-4.2-2.5-4.2-2.5 4.2zM146.8 296.6l2.5-4.2-2.5-4.2-2.5 4.2zM146.9 298.1l2.5-4.2-2.5-4.2-2.5 4.2zM147 299.7l2.5-4.2-2.5-4.2-2.5 4.2zM147.1 299l2.5-4.2-2.5-4.2-2.5 4.2zM147.2 297.6l2.5-4.2-2.5-4.2-2.5 4.2zM147.3 298.1l2.5-4.2-2.5-4.2-2.5 4.2zM147.4 298.7l2.5-4.2-2.5-4.2-2.5 4.2zM147.6 298.9l2.5-4.2-2.5-4.2-2.5 4.2zM147.7 296.5l2.5-4.2-2.5-4.2-2.5 4.2zM147.8 298.9l2.5-4.2-2.5-4.2-2.5 4.2zM147.9 299.5l2.5-4.2-2.5-4.2-2.5 4.2zM148 299.1l2.5-4.2-2.5-4.2-2.5 4.2zM148.1 299.9l2.5-4.2-2.5-4.2-2.5 4.2zM148.2 297.5l2.5-4.2-2.5-4.2-2.5 4.2zM148.3 299.4l2.5-4.2-2.5-4.2-2.5 4.2zM148.5 299.2l2.5-4.2-2.5-4.2-2.5 4.2zM148.6 299.6l2.5-4.2-2.5-4.2-2.5 4.2zM148.7 298.8l2.5-4.2-2.5-4.2-2.5 4.2zM148.8 298.8l2.5-4.2-2.5-4.2-2.5 4.2zM148.9 299.6l2.5-4.2-2.5-4.2-2.5 4.2zM149 299l2.5-4.2-2.5-4.2-2.5 4.2zM149.1 299.7l2.5-4.2-2.5-4.2-2.5 4.2zM149.2 299.4l2.5-4.2-2.5-4.2-2.5 4.2zM149.4 297.3l2.5-4.2-2.5-4.2-2.5 4.2zM149.5 299.3l2.5-4.2-2.5-4.2-2.5 4.2zM149.6 298.4l2.5-4.2-2.5-4.2-2.5 4.2zM149.7 299.1l2.5-4.2-2.5-4.2-2.5 4.2zM149.8 297.8l2.5-4.2-2.5-4.2-2.5 4.2zM149.9 299l2.5-4.2-2.5-4.2-2.5 4.2zM150 297.3l2.5-4.2-2.5-4.2-2.5 4.2zM150.1 297.8l2.5-4.2-2.5-4.2-2.5 4.2zM150.3 298.8l2.5-4.2-2.5-4.2-2.5 4.2zM150.4 298.3l2.5-4.2-2.5-4.2-2.5 4.2zM150.5 297.9l2.5-4.2-2.5-4.2-2.5 4.2zM150.6 299.7l2.5-4.2-2.5-4.2-2.5 4.2zM150.7 297.2l2.5-4.2-2.5-4.2-2.5 4.2zM150.8 296.5l2.5-4.2-2.5-4.2-2.5 4.2zM150.9 297.5l2.5-4.2-2.5-4.2-2.5 4.2zM151.1 297.1l2.5-4.2-2.5-4.2-2.5 4.2zM151.2 299.7l2.5-4.2-2.5-4.2-2.5 4.2zM151.3 297.6l2.5-4.2-2.5-4.2-2.5 4.2zM151.4 297.4l2.5-4.2-2.5-4.2-2.5 4.2zM151.5 299.4l2.5-4.2-2.5-4.2-2.5 4.2zM151.6 298l2.5-4.2-2.5-4.2-2.5 4.2zM151.7 299.9l2.5-4.2-2.5-4.2-2.5 4.2zM151.8 298.2l2.5-4.2-2.5-4.2-2.5 4.2zM152 299.7l2.5-4.2-2.5-4.2-2.5 4.2zM152.1 298l2.5-4.2-2.5-4.2-2.5 4.2zM152.2 298.2l2.5-4.2-2.5-4.2-2.5 4.2zM152.3 298.8l2.5-4.2-2.5-4.2-2.5 4.2zM152.4 299.2l2.5-4.2-2.5-4.2-2.5 4.2zM152.5 298.5l2.5-4.2-2.5-4.2-2.5 4.2zM152.6 299.6l2.5-4.2-2.5-4.2-2.5 4.2zM152.7 299.8l2.5-4.2-2.5-4.2-2.5 4.2zM152.9 297.4l2.5-4.2-2.5-4.2-2.5 4.2zM153 298.8l2.5-4.2-2.5-4.2-2.5 4.2zM153.1 299.3l2.5-4.2-2.5-4.2-2.5 4.2zM153.2 297.6l2.5-4.2-2.5-4.2-2.5 4.2zM153.3 297.1l2.5-4.2-2.5-4.2-2.5 4.2zM153.4 297.7l2.5-4.2-2.5-4.2-2.5 4.2zM153.5 299.4l2.5-4.2-2.5-4.2-2.5 4.2zM153.6 298.6l2.5-4.2-2.5-4.2-2.5 4.2zM153.8 298.8l2.5-4.2-2.5-4.2-2.5 4.2zM153.9 297.8l2.5-4.2-2.5-4.2-2.5 4.2zM154 298.7l2.5-4.2-2.5-4.2-2.5 4.2zM154.1 298.3l2.5-4.2-2.5-4.2-2.5 4.2zM154.2 299.9l2.5-4.2-2.5-4.2-2.5 4.2zM154.3 299.7l2.5-4.2-2.5-4.2-2.5 4.2zM154.4 299.6l2.5-4.2-2.5-4.2-2.5 4.2zM154.5 297.9l2.5-4.2-2.5-4.2-2.5 4.2zM154.7 298.3l2.5-4.2-2.5-4.2-2.5 4.2zM154.8 299.5l2.5-4.2-2.5-4.2-2.5 4.2zM154.9 298.3l2.5-4.2-2.5-4.2-2.5 4.2zM155 299.7l2.5-4.2-2.5-4.2-2.5 4.2zM155.1 299l2.5-4.2-2.5-4.2-2.5 4.2zM155.2 299.6l2.5-4.2-2.5-4.2-2.5 4.2zM155.3 298.5l2.5-4.2-2.5-4.2-2.5 4.2zM155.4 299l2.5-4.2-2.5-4.2-2.5 4.2zM155.6 296.5l2.5-4.2-2.5-4.2-2.5 4.2zM155.7 298.9l2.5-4.2-2.5-4.2-2.5 4.2zM155.8 297.9l2.5-4.2-2.5-4.2-2.5 4.2zM155.9 298.2l2.5-4.2-2.5-4.2-2.5 4.2zM156 299.9l2.5-4.2-2.5-4.2-2.5 4.2zM156.1 299l2.5-4.2-2.5-4.2-2.5 4.2zM156.2 299l2.5-4.2-2.5-4.2-2.5 4.2zM156.3 298.9l2.5-4.2-2.5-4.2-2.5 4.2zM156.5 296.6l2.5-4.2-2.5-4.2-2.5 4.2zM156.6 299.9l2.5-4.2-2.5-4.2-2.5 4.2zM156.7 299.2l2.5-4.2-2.5-4.2-2.5 4.2zM156.8 298.9l2.5-4.2-2.5-4.2-2.5 4.2zM156.9 299.7l2.5-4.2-2.5-4.2-2.5 4.2zM157 299.1l2.5-4.2-2.5-4.2-2.5 4.2zM157.1 298.9l2.5-4.2-2.5-4.2-2.5 4.2zM157.3 299l2.5-4.2-2.5-4.2-2.5 4.2zM157.4 297.4l2.5-4.2-2.5-4.2-2.5 4.2zM157.5 298.9l2.5-4.2-2.5-4.2-2.5 4.2zM157.6 299.5l2.5-4.2-2.5-4.2-2.5 4.2zM157.7 299.1l2.5-4.2-2.5-4.2-2.5 4.2zM157.8 296.5l2.5-4.2-2.5-4.2-2.5 4.2zM157.9 297.9l2.5-4.2-2.5-4.2-2.5 4.2zM158 298.4l2.5-4.2-2.5-4.2-2.5 4.2zM158.2 299.6l2.5-4.2-2.5-4.2-2.5 4.2zM158.3 299.3l2.5-4.2-2.5-4.2-2.5 4.2zM158.4 298l2.5-4.2-2.5-4.2-2.5 4.2zM158.5 299.2l2.5-4.2-2.5-4.2-2.5 4.2zM158.6 298.9l2.5-4.2-2.5-4.2-2.5 4.2zM158.7 298.5l2.5-4.2-2.5-4.2-2.5 4.2zM158.8 299.3l2.5-4.2-2.5-4.2-2.5 4.2zM158.9 299.1l2.5-4.2-2.5-4.2-2.5 4.2zM159.1 297.7l2.5-4.2-2.5-4.2-2.5 4.2zM159.2 299.1l2.5-4.2-2.5-4.2-2.5 4.2zM159.3 299.6l2.5-4.2-2.5-4.2-2.5 4.2zM159.4 299.9l2.5-4.2-2.5-4.2-2.5 4.2zM159.5 297.6l2.5-4.2-2.5-4.2-2.5 4.2zM159.6 299.5l2.5-4.2-2.5-4.2-2.5 4.2zM159.7 299l2.5-4.2-2.5-4.2-2.5 4.2zM159.8 298.1l2.5-4.2-2.5-4.2-2.5 4.2zM160 297.6l2.5-4.2-2.5-4.2-2.5 4.2zM160.1 297l2.5-4.2-2.5-4.2-2.5 4.2zM160.2 296.6l2.5-4.2-2.5-4.2-2.5 4.2zM160.3 299.5l2.5-4.2-2.5-4.2-2.5 4.2zM160.4 298.9l2.5-4.2-2.5-4.2-2.5 4.2zM160.5 299.4l2.5-4.2-2.5-4.2-2.5 4.2zM160.6 298.9l2.5-4.2-2.5-4.2-2.5 4.2zM160.7 299.9l2.5-4.2-2.5-4.2-2.5 4.2zM160.9 299.4l2.5-4.2-2.5-4.2-2.5 4.2zM161 298.2l2.5-4.2-2.5-4.2-2.5 4.2zM161.1 298.9l2.5-4.2-2.5-4.2-2.5 4.2zM161.2 299.6l2.5-4.2-2.5-4.2-2.5 4.2zM161.3 296.6l2.5-4.2-2.5-4.2-2.5 4.2zM161.4 299.1l2.5-4.2-2.5-4.2-2.5 4.2zM161.5 299.3l2.5-4.2-2.5-4.2-2.5 4.2zM161.6 297.4l2.5-4.2-2.5-4.2-2.5 4.2zM161.8 299.3l2.5-4.2-2.5-4.2-2.5 4.2zM161.9 297.5l2.5-4.2-2.5-4.2-2.5 4.2zM162 297.8l2.5-4.2-2.5-4.2-2.5 4.2zM162.1 299.7l2.5-4.2-2.5-4.2-2.5 4.2zM162.2 299.7l2.5-4.2-2.5-4.2-2.5 4.2zM162.3 298.8l2.5-4.2-2.5-4.2-2.5 4.2zM162.4 298.5l2.5-4.2-2.5-4.2-2.5 4.2zM162.5 298l2.5-4.2-2.5-4.2-2.5 4.2zM162.7 298l2.5-4.2-2.5-4.2-2.5 4.2zM162.8 296.6l2.5-4.2-2.5-4.2-2.5 4.2zM162.9 297.6l2.5-4.2-2.5-4.2-2.5 4.2zM163 297.6l2.5-4.2-2.5-4.2-2.5 4.2zM163.1 299.5l2.5-4.2-2.5-4.2-2.5 4.2zM163.2 298.5l2.5-4.2-2.5-4.2-2.5 4.2zM163.3 297.9l2.5-4.2-2.5-4.2-2.5 4.2zM163.5 298.9l2.5-4.2-2.5-4.2-2.5 4.2zM163.6 297.7l2.5-4.2-2.5-4.2-2.5 4.2zM163.7 298.5l2.5-4.2-2.5-4.2-2.5 4.2zM163.8 296.9l2.5-4.2-2.5-4.2-2.5 4.2zM163.9 299.7l2.5-4.2-2.5-4.2-2.5 4.2zM164 298.9l2.5-4.2-2.5-4.2-2.5 4.2zM164.1 298.3l2.5-4.2-2.5-4.2-2.5 4.2zM164.2 299.9l2.5-4.2-2.5-4.2-2.5 4.2zM164.4 299.2l2.5-4.2-2.5-4.2-2.5 4.2zM164.5 298.9l2.5-4.2-2.5-4.2-2.5 4.2zM164.6 297.7l2.5-4.2-2.5-4.2-2.5 4.2zM164.7 296.7l2.5-4.2-2.5-4.2-2.5 4.2zM164.8 299.4l2.5-4.2-2.5-4.2-2.5 4.2zM164.9 299.1l2.5-4.2-2.5-4.2-2.5 4.2zM165 299l2.5-4.2-2.5-4.2-2.5 4.2zM165.1 298.5l2.5-4.2-2.5-4.2-2.5 4.2zM165.3 297.7l2.5-4.2-2.5-4.2-2.5 4.2zM165.4 297.5l2.5-4.2-2.5-4.2-2.5 4.2zM165.5 299.3l2.5-4.2-2.5-4.2-2.5 4.2zM165.6 299.2l2.5-4.2-2.5-4.2-2.5 4.2zM165.7 299.2l2.5-4.2-2.5-4.2-2.5 4.2zM165.8 299l2.5-4.2-2.5-4.2-2.5 4.2zM165.9 299.6l2.5-4.2-2.5-4.2-2.5 4.2zM166 299l2.5-4.2-2.5-4.2-2.5 4.2zM166.2 296.9l2.5-4.2-2.5-4.2-2.5 4.2zM166.3 299.7l2.5-4.2-2.5-4.2-2.5 4.2zM166.4 297.6l2.5-4.2-2.5-4.2-2.5 4.2zM166.5 298.2l2.5-4.2-2.5-4.2-2.5 4.2zM166.6 299.3l2.5-4.2-2.5-4.2-2.5 4.2zM166.7 299.3l2.5-4.2-2.5-4.2-2.5 4.2zM166.8 297.3l2.5-4.2-2.5-4.2-2.5 4.2zM166.9 297.3l2.5-4.2-2.5-4.2-2.5 4.2zM167.1 299.6l2.5-4.2-2.5-4.2-2.5 4.2zM167.2 299.1l2.5-4.2-2.5-4.2-2.5 4.2zM167.3 297.6l2.5-4.2-2.5-4.2-2.5 4.2zM167.4 298.3l2.5-4.2-2.5-4.2-2.5 4.2zM167.5 299.5l2.5-4.2-2.5-4.2-2.5 4.2zM167.6 298.3l2.5-4.2-2.5-4.2-2.5 4.2zM167.7 298.7l2.5-4.2-2.5-4.2-2.5 4.2zM167.8 298.4l2.5-4.2-2.5-4.2-2.5 4.2zM168 296.8l2.5-4.2-2.5-4.2-2.5 4.2zM168.1 299l2.5-4.2-2.5-4.2-2.5 4.2zM168.2 299l2.5-4.2-2.5-4.2-2.5 4.2zM168.3 299.6l2.5-4.2-2.5-4.2-2.5 4.2zM168.4 299.6l2.5-4.2-2.5-4.2-2.5 4.2zM168.5 299.5l2.5-4.2-2.5-4.2-2.5 4.2zM168.6 298l2.5-4.2-2.5-4.2-2.5 4.2zM168.7 299.1l2.5-4.2-2.5-4.2-2.5 4.2zM168.9 299.6l2.5-4.2-2.5-4.2-2.5 4.2zM169 298.7l2.5-4.2-2.5-4.2-2.5 4.2zM169.1 297.3l2.5-4.2-2.5-4.2-2.5 4.2zM169.2 299.2l2.5-4.2-2.5-4.2-2.5 4.2zM169.3 299l2.5-4.2-2.5-4.2-2.5 4.2zM169.4 299l2.5-4.2-2.5-4.2-2.5 4.2zM169.5 298.4l2.5-4.2-2.5-4.2-2.5 4.2zM169.7 298.9l2.5-4.2-2.5-4.2-2.5 4.2zM169.8 298.4l2.5-4.2-2.5-4.2-2.5 4.2zM169.9 299.7l2.5-4.2-2.5-4.2-2.5 4.2zM170 299.7l2.5-4.2-2.5-4.2-2.5 4.2zM170.1 299.6l2.5-4.2-2.5-4.2-2.5 4.2zM170.2 299.8l2.5-4.2-2.5-4.2-2.5 4.2zM170.3 298.4l2.5-4.2-2.5-4.2-2.5 4.2zM170.4 298.9l2.5-4.2-2.5-4.2-2.5 4.2zM170.6 298.5l2.5-4.2-2.5-4.2-2.5 4.2zM170.7 299.5l2.5-4.2-2.5-4.2-2.5 4.2zM170.8 299.9l2.5-4.2-2.5-4.2-2.5 4.2zM170.9 299l2.5-4.2-2.5-4.2-2.5 4.2zM171 299.5l2.5-4.2-2.5-4.2-2.5 4.2zM171.1 298.7l2.5-4.2-2.5-4.2-2.5 4.2zM171.2 298.9l2.5-4.2-2.5-4.2-2.5 4.2zM171.3 297.4l2.5-4.2-2.5-4.2-2.5 4.2zM171.5 299.2l2.5-4.2-2.5-4.2-2.5 4.2zM171.6 297.4l2.5-4.2-2.5-4.2-2.5 4.2zM171.7 299.6l2.5-4.2-2.5-4.2-2.5 4.2zM171.8 298.5l2.5-4.2-2.5-4.2-2.5 4.2zM171.9 297.8l2.5-4.2-2.5-4.2-2.5 4.2zM172 298.7l2.5-4.2-2.5-4.2-2.5 4.2zM172.1 299.2l2.5-4.2-2.5-4.2-2.5 4.2zM172.2 297.1l2.5-4.2-2.5-4.2-2.5 4.2zM172.4 298.5l2.5-4.2-2.5-4.2-2.5 4.2zM172.5 299.9l2.5-4.2-2.5-4.2-2.5 4.2zM172.6 298.8l2.5-4.2-2.5-4.2-2.5 4.2zM172.7 299.6l2.5-4.2-2.5-4.2-2.5 4.2zM172.8 297.7l2.5-4.2-2.5-4.2-2.5 4.2zM172.9 299.6l2.5-4.2-2.5-4.2-2.5 4.2zM173 298.7l2.5-4.2-2.5-4.2-2.5 4.2zM173.1 298.6l2.5-4.2-2.5-4.2-2.5 4.2zM173.3 298.8l2.5-4.2-2.5-4.2-2.5 4.2zM173.4 299.3l2.5-4.2-2.5-4.2-2.5 4.2zM173.5 299.2l2.5-4.2-2.5-4.2-2.5 4.2zM173.6 297.3l2.5-4.2-2.5-4.2-2.5 4.2zM173.7 299.5l2.5-4.2-2.5-4.2-2.5 4.2zM173.8 299.6l2.5-4.2-2.5-4.2-2.5 4.2zM173.9 298.6l2.5-4.2-2.5-4.2-2.5 4.2zM174 299.8l2.5-4.2-2.5-4.2-2.5 4.2zM174.2 296.7l2.5-4.2-2.5-4.2-2.5 4.2zM174.3 299.9l2.5-4.2-2.5-4.2-2.5 4.2zM174.4 296.7l2.5-4.2-2.5-4.2-2.5 4.2zM174.5 298.1l2.5-4.2-2.5-4.2-2.5 4.2zM174.6 297.6l2.5-4.2-2.5-4.2-2.5 4.2zM174.7 299.2l2.5-4.2-2.5-4.2-2.5 4.2zM174.8 297.4l2.5-4.2-2.5-4.2-2.5 4.2zM174.9 297.2l2.5-4.2-2.5-4.2-2.5 4.2zM175.1 298.9l2.5-4.2-2.5-4.2-2.5 4.2zM175.2 299.5l2.5-4.2-2.5-4.2-2.5 4.2zM175.3 299.2l2.5-4.2-2.5-4.2-2.5 4.2zM175.4 299.9l2.5-4.2-2.5-4.2-2.5 4.2zM175.5 297.4l2.5-4.2-2.5-4.2-2.5 4.2zM175.6 299.7l2.5-4.2-2.5-4.2-2.5 4.2zM175.7 298.8l2.5-4.2-2.5-4.2-2.5 4.2zM175.9 298.2l2.5-4.2-2.5-4.2-2.5 4.2zM176 298.6l2.5-4.2-2.5-4.2-2.5 4.2zM176.1 299.7l2.5-4.2-2.5-4.2-2.5 4.2zM176.2 298.8l2.5-4.2-2.5-4.2-2.5 4.2zM176.3 299.6l2.5-4.2-2.5-4.2-2.5 4.2zM176.4 299.1l2.5-4.2-2.5-4.2-2.5 4.2zM176.5 296.6l2.5-4.2-2.5-4.2-2.5 4.2zM176.6 298.5l2.5-4.2-2.5-4.2-2.5 4.2zM176.8 297.7l2.5-4.2-2.5-4.2-2.5 4.2zM176.9 298.1l2.5-4.2-2.5-4.2-2.5 4.2zM177 297.8l2.5-4.2-2.5-4.2-2.5 4.2zM177.1 297.8l2.5-4.2-2.5-4.2-2.5 4.2zM177.2 296.9l2.5-4.2-2.5-4.2-2.5 4.2zM177.3 299.6l2.5-4.2-2.5-4.2-2.5 4.2zM177.4 299.1l2.5-4.2-2.5-4.2-2.5 4.2zM177.5 299.9l2.5-4.2-2.5-4.2-2.5 4.2zM177.7 298.1l2.5-4.2-2.5-4.2-2.5 4.2zM177.8 298.9l2.5-4.2-2.5-4.2-2.5 4.2zM177.9 297.5l2.5-4.2-2.5-4.2-2.5 4.2zM178 297.7l2.5-4.2-2.5-4.2-2.5 4.2zM178.1 299.1l2.5-4.2-2.5-4.2-2.5 4.2zM178.2 299.4l2.5-4.2-2.5-4.2-2.5 4.2zM178.3 296.6l2.5-4.2-2.5-4.2-2.5 4.2zM178.4 296.6l2.5-4.2-2.5-4.2-2.5 4.2zM178.6 299l2.5-4.2-2.5-4.2-2.5 4.2zM178.7 299.3l2.5-4.2-2.5-4.2-2.5 4.2zM178.8 297.8l2.5-4.2-2.5-4.2-2.5 4.2zM178.9 297.3l2.5-4.2-2.5-4.2-2.5 4.2zM179 298.9l2.5-4.2-2.5-4.2-2.5 4.2zM179.1 299.7l2.5-4.2-2.5-4.2-2.5 4.2zM179.2 299l2.5-4.2-2.5-4.2-2.5 4.2zM179.3 297.9l2.5-4.2-2.5-4.2-2.5 4.2zM179.5 298.9l2.5-4.2-2.5-4.2-2.5 4.2zM179.6 298.4l2.5-4.2-2.5-4.2-2.5 4.2zM179.7 299.2l2.5-4.2-2.5-4.2-2.5 4.2zM179.8 296.6l2.5-4.2-2.5-4.2-2.5 4.2zM179.9 298.8l2.5-4.2-2.5-4.2-2.5 4.2zM180 299.8l2.5-4.2-2.5-4.2-2.5 4.2zM180.1 296.7l2.5-4.2-2.5-4.2-2.5 4.2zM180.2 299.8l2.5-4.2-2.5-4.2-2.5 4.2zM180.4 299.1l2.5-4.2-2.5-4.2-2.5 4.2zM180.5 299.9l2.5-4.2-2.5-4.2-2.5 4.2zM180.6 297.6l2.5-4.2-2.5-4.2-2.5 4.2zM180.7 297.7l2.5-4.2-2.5-4.2-2.5 4.2zM180.8 299.5l2.5-4.2-2.5-4.2-2.5 4.2zM180.9 299.8l2.5-4.2-2.5-4.2-2.5 4.2zM181 299.2l2.5-4.2-2.5-4.2-2.5 4.2zM181.1 297.7l2.5-4.2-2.5-4.2-2.5 4.2zM181.3 298.1l2.5-4.2-2.5-4.2-2.5 4.2zM181.4 299.3l2.5-4.2-2.5-4.2-2.5 4.2zM181.5 298.6l2.5-4.2-2.5-4.2-2.5 4.2zM181.6 299.7l2.5-4.2-2.5-4.2-2.5 4.2zM181.7 299.6l2.5-4.2-2.5-4.2-2.5 4.2zM181.8 297.7l2.5-4.2-2.5-4.2-2.5 4.2zM181.9 297.4l2.5-4.2-2.5-4.2-2.5 4.2zM182.1 299.2l2.5-4.2-2.5-4.2-2.5 4.2zM182.2 297.8l2.5-4.2-2.5-4.2-2.5 4.2zM182.3 299.8l2.5-4.2-2.5-4.2-2.5 4.2zM182.4 299l2.5-4.2-2.5-4.2-2.5 4.2zM182.5 297.6l2.5-4.2-2.5-4.2-2.5 4.2zM182.6 299.1l2.5-4.2-2.5-4.2-2.5 4.2zM182.7 298.5l2.5-4.2-2.5-4.2-2.5 4.2zM182.8 297.8l2.5-4.2-2.5-4.2-2.5 4.2zM183 299.7l2.5-4.2-2.5-4.2-2.5 4.2zM183.1 298.2l2.5-4.2-2.5-4.2-2.5 4.2zM183.2 298.4l2.5-4.2-2.5-4.2-2.5 4.2zM183.3 299.6l2.5-4.2-2.5-4.2-2.5 4.2zM183.4 297.4l2.5-4.2-2.5-4.2-2.5 4.2zM183.5 299l2.5-4.2-2.5-4.2-2.5 4.2zM183.6 299.9l2.5-4.2-2.5-4.2-2.5 4.2zM183.7 296.7l2.5-4.2-2.5-4.2-2.5 4.2zM183.9 298.9l2.5-4.2-2.5-4.2-2.5 4.2zM184 299.6l2.5-4.2-2.5-4.2-2.5 4.2zM184.1 299.9l2.5-4.2-2.5-4.2-2.5 4.2zM184.2 297.7l2.5-4.2-2.5-4.2-2.5 4.2zM184.3 299.2l2.5-4.2-2.5-4.2-2.5 4.2zM184.4 296.8l2.5-4.2-2.5-4.2-2.5 4.2zM184.5 298.9l2.5-4.2-2.5-4.2-2.5 4.2zM184.6 297.8l2.5-4.2-2.5-4.2-2.5 4.2zM184.8 298.5l2.5-4.2-2.5-4.2-2.5 4.2zM184.9 297.3l2.5-4.2-2.5-4.2-2.5 4.2zM185 298.8l2.5-4.2-2.5-4.2-2.5 4.2zM185.1 298.6l2.5-4.2-2.5-4.2-2.5 4.2zM185.2 297.6l2.5-4.2-2.5-4.2-2.5 4.2zM185.3 298.5l2.5-4.2-2.5-4.2-2.5 4.2zM185.4 299.4l2.5-4.2-2.5-4.2-2.5 4.2zM185.5 299.8l2.5-4.2-2.5-4.2-2.5 4.2zM185.7 296.8l2.5-4.2-2.5-4.2-2.5 4.2zM185.8 299.1l2.5-4.2-2.5-4.2-2.5 4.2zM185.9 299.2l2.5-4.2-2.5-4.2-2.5 4.2zM186 299.3l2.5-4.2-2.5-4.2-2.5 4.2zM186.1 298l2.5-4.2-2.5-4.2-2.5 4.2zM186.2 298.1l2.5-4.2-2.5-4.2-2.5 4.2zM186.3 298.2l2.5-4.2-2.5-4.2-2.5 4.2zM186.4 297.3l2.5-4.2-2.5-4.2-2.5 4.2zM186.6 299.3l2.5-4.2-2.5-4.2-2.5 4.2zM186.7 299.2l2.5-4.2-2.5-4.2-2.5 4.2zM186.8 298.2l2.5-4.2-2.5-4.2-2.5 4.2zM186.9 296.9l2.5-4.2-2.5-4.2-2.5 4.2zM187 298.7l2.5-4.2-2.5-4.2-2.5 4.2zM187.1 298.5l2.5-4.2-2.5-4.2-2.5 4.2zM187.2 299.3l2.5-4.2-2.5-4.2-2.5 4.2zM187.3 299l2.5-4.2-2.5-4.2-2.5 4.2zM187.5 299.4l2.5-4.2-2.5-4.2-2.5 4.2zM187.6 299.6l2.5-4.2-2.5-4.2-2.5 4.2zM187.7 297.3l2.5-4.2-2.5-4.2-2.5 4.2zM187.8 296.9l2.5-4.2-2.5-4.2-2.5 4.2zM187.9 299.7l2.5-4.2-2.5-4.2-2.5 4.2zM188 298.8l2.5-4.2-2.5-4.2-2.5 4.2zM188.1 298.2l2.5-4.2-2.5-4.2-2.5 4.2zM188.3 298.4l2.5-4.2-2.5-4.2-2.5 4.2zM188.4 299.5l2.5-4.2-2.5-4.2-2.5 4.2zM188.5 298.8l2.5-4.2-2.5-4.2-2.5 4.2zM188.6 299.9l2.5-4.2-2.5-4.2-2.5 4.2zM188.7 298.4l2.5-4.2-2.5-4.2-2.5 4.2zM188.8 299.9l2.5-4.2-2.5-4.2-2.5 4.2zM188.9 296.7l2.5-4.2-2.5-4.2-2.5 4.2zM189 299.8l2.5-4.2-2.5-4.2-2.5 4.2zM189.2 298.3l2.5-4.2-2.5-4.2-2.5 4.2zM189.3 299.4l2.5-4.2-2.5-4.2-2.5 4.2zM189.4 299.3l2.5-4.2-2.5-4.2-2.5 4.2zM189.5 297l2.5-4.2-2.5-4.2-2.5 4.2zM189.6 299.2l2.5-4.2-2.5-4.2-2.5 4.2zM189.7 297.5l2.5-4.2-2.5-4.2-2.5 4.2zM189.8 298.2l2.5-4.2-2.5-4.2-2.5 4.2zM189.9 299.6l2.5-4.2-2.5-4.2-2.5 4.2zM190.1 297.4l2.5-4.2-2.5-4.2-2.5 4.2zM190.2 298.9l2.5-4.2-2.5-4.2-2.5 4.2zM190.3 298.9l2.5-4.2-2.5-4.2-2.5 4.2zM190.4 299.4l2.5-4.2-2.5-4.2-2.5 4.2zM190.5 298.1l2.5-4.2-2.5-4.2-2.5 4.2zM190.6 299.5l2.5-4.2-2.5-4.2-2.5 4.2zM190.7 299.1l2.5-4.2-2.5-4.2-2.5 4.2zM190.8 299.8l2.5-4.2-2.5-4.2-2.5 4.2zM191 299.6l2.5-4.2-2.5-4.2-2.5 4.2zM191.1 299.6l2.5-4.2-2.5-4.2-2.5 4.2zM191.2 297.6l2.5-4.2-2.5-4.2-2.5 4.2zM191.3 298.4l2.5-4.2-2.5-4.2-2.5 4.2zM191.4 297.2l2.5-4.2-2.5-4.2-2.5 4.2zM191.5 299.3l2.5-4.2-2.5-4.2-2.5 4.2zM191.6 299.4l2.5-4.2-2.5-4.2-2.5 4.2zM191.7 297.5l2.5-4.2-2.5-4.2-2.5 4.2zM191.9 299.7l2.5-4.2-2.5-4.2-2.5 4.2zM192 299.7l2.5-4.2-2.5-4.2-2.5 4.2zM192.1 298.6l2.5-4.2-2.5-4.2-2.5 4.2zM192.2 299.7l2.5-4.2-2.5-4.2-2.5 4.2zM192.3 299.7l2.5-4.2-2.5-4.2-2.5 4.2zM192.4 297.4l2.5-4.2-2.5-4.2-2.5 4.2zM192.5 299.7l2.5-4.2-2.5-4.2-2.5 4.2zM192.6 296.9l2.5-4.2-2.5-4.2-2.5 4.2zM192.8 299l2.5-4.2-2.5-4.2-2.5 4.2zM192.9 298.3l2.5-4.2-2.5-4.2-2.5 4.2zM193 299.2l2.5-4.2-2.5-4.2-2.5 4.2zM193.1 299.8l2.5-4.2-2.5-4.2-2.5 4.2zM193.2 298.5l2.5-4.2-2.5-4.2-2.5 4.2zM193.3 297l2.5-4.2-2.5-4.2-2.5 4.2zM193.4 296.5l2.5-4.2-2.5-4.2-2.5 4.2zM193.5 299.4l2.5-4.2-2.5-4.2-2.5 4.2zM193.7 297.3l2.5-4.2-2.5-4.2-2.5 4.2zM193.8 299.9l2.5-4.2-2.5-4.2-2.5 4.2zM193.9 299.1l2.5-4.2-2.5-4.2-2.5 4.2zM194 297.6l2.5-4.2-2.5-4.2-2.5 4.2zM194.1 297.9l2.5-4.2-2.5-4.2-2.5 4.2zM194.2 298.9l2.5-4.2-2.5-4.2-2.5 4.2zM194.3 296.7l2.5-4.2-2.5-4.2-2.5 4.2zM194.5 297.5l2.5-4.2-2.5-4.2-2.5 4.2zM194.6 297.5l2.5-4.2-2.5-4.2-2.5 4.2zM194.7 298.9l2.5-4.2-2.5-4.2-2.5 4.2zM194.8 298.9l2.5-4.2-2.5-4.2-2.5 4.2zM194.9 298.8l2.5-4.2-2.5-4.2-2.5 4.2zM195 298.7l2.5-4.2-2.5-4.2-2.5 4.2zM195.1 298.8l2.5-4.2-2.5-4.2-2.5 4.2zM195.2 298.1l2.5-4.2-2.5-4.2-2.5 4.2zM195.4 298.8l2.5-4.2-2.5-4.2-2.5 4.2zM195.5 297.7l2.5-4.2-2.5-4.2-2.5 4.2zM195.6 299.6l2.5-4.2-2.5-4.2-2.5 4.2zM195.7 299.6l2.5-4.2-2.5-4.2-2.5 4.2zM195.8 297.7l2.5-4.2-2.5-4.2-2.5 4.2zM195.9 298.3l2.5-4.2-2.5-4.2-2.5 4.2zM196 298.5l2.5-4.2-2.5-4.2-2.5 4.2zM196.1 299.1l2.5-4.2-2.5-4.2-2.5 4.2zM196.3 298l2.5-4.2-2.5-4.2-2.5 4.2zM196.4 299.7l2.5-4.2-2.5-4.2-2.5 4.2zM196.5 297.8l2.5-4.2-2.5-4.2-2.5 4.2zM196.6 298.2l2.5-4.2-2.5-4.2-2.5 4.2zM196.7 299.6l2.5-4.2-2.5-4.2-2.5 4.2zM196.8 298.3l2.5-4.2-2.5-4.2-2.5 4.2zM196.9 299.5l2.5-4.2-2.5-4.2-2.5 4.2zM197 297.8l2.5-4.2-2.5-4.2-2.5 4.2zM197.2 299.3l2.5-4.2-2.5-4.2-2.5 4.2zM197.3 299.4l2.5-4.2-2.5-4.2-2.5 4.2zM197.4 296.6l2.5-4.2-2.5-4.2-2.5 4.2zM197.5 299.1l2.5-4.2-2.5-4.2-2.5 4.2zM197.6 298.8l2.5-4.2-2.5-4.2-2.5 4.2zM197.7 296.8l2.5-4.2-2.5-4.2-2.5 4.2zM197.8 298.9l2.5-4.2-2.5-4.2-2.5 4.2zM197.9 298l2.5-4.2-2.5-4.2-2.5 4.2zM198.1 299.2l2.5-4.2-2.5-4.2-2.5 4.2zM198.2 299.5l2.5-4.2-2.5-4.2-2.5 4.2zM198.3 299.3l2.5-4.2-2.5-4.2-2.5 4.2zM198.4 299.9l2.5-4.2-2.5-4.2-2.5 4.2zM198.5 298.3l2.5-4.2-2.5-4.2-2.5 4.2zM198.6 298.2l2.5-4.2-2.5-4.2-2.5 4.2zM198.7 299.4l2.5-4.2-2.5-4.2-2.5 4.2zM198.8 298.1l2.5-4.2-2.5-4.2-2.5 4.2zM199 299.4l2.5-4.2-2.5-4.2-2.5 4.2zM199.1 298.7l2.5-4.2-2.5-4.2-2.5 4.2zM199.2 298.8l2.5-4.2-2.5-4.2-2.5 4.2zM199.3 298.9l2.5-4.2-2.5-4.2-2.5 4.2zM199.4 297.5l2.5-4.2-2.5-4.2-2.5 4.2zM199.5 298.3l2.5-4.2-2.5-4.2-2.5 4.2zM199.6 299.3l2.5-4.2-2.5-4.2-2.5 4.2zM199.7 299.9l2.5-4.2-2.5-4.2-2.5 4.2zM199.9 298.9l2.5-4.2-2.5-4.2-2.5 4.2zM200 298.9l2.5-4.2-2.5-4.2-2.5 4.2zM200.1 298.7l2.5-4.2-2.5-4.2-2.5 4.2zM200.2 299.3l2.5-4.2-2.5-4.2-2.5 4.2zM200.3 297.8l2.5-4.2-2.5-4.2-2.5 4.2zM200.4 299.2l2.5-4.2-2.5-4.2-2.5 4.2zM200.5 297.3l2.5-4.2-2.5-4.2-2.5 4.2zM200.7 298.3l2.5-4.2-2.5-4.2-2.5 4.2zM200.8 297.5l2.5-4.2-2.5-4.2-2.5 4.2zM200.9 299.4l2.5-4.2-2.5-4.2-2.5 4.2zM201 298.4l2.5-4.2-2.5-4.2-2.5 4.2zM201.1 298.3l2.5-4.2-2.5-4.2-2.5 4.2zM201.2 299.6l2.5-4.2-2.5-4.2-2.5 4.2zM201.3 299.8l2.5-4.2-2.5-4.2-2.5 4.2zM201.4 299.6l2.5-4.2-2.5-4.2-2.5 4.2zM201.6 299.3l2.5-4.2-2.5-4.2-2.5 4.2zM201.7 298.5l2.5-4.2-2.5-4.2-2.5 4.2zM201.8 297.6l2.5-4.2-2.5-4.2-2.5 4.2zM201.9 299l2.5-4.2-2.5-4.2-2.5 4.2zM202 298.9l2.5-4.2-2.5-4.2-2.5 4.2zM202.1 297.6l2.5-4.2-2.5-4.2-2.5 4.2zM202.2 299.5l2.5-4.2-2.5-4.2-2.5 4.2zM202.3 298.2l2.5-4.2-2.5-4.2-2.5 4.2zM202.5 296.6l2.5-4.2-2.5-4.2-2.5 4.2zM202.6 297.9l2.5-4.2-2.5-4.2-2.5 4.2zM202.7 297.4l2.5-4.2-2.5-4.2-2.5 4.2zM202.8 299.1l2.5-4.2-2.5-4.2-2.5 4.2zM202.9 298.8l2.5-4.2-2.5-4.2-2.5 4.2zM203 299.8l2.5-4.2-2.5-4.2-2.5 4.2zM203.1 299l2.5-4.2-2.5-4.2-2.5 4.2zM203.2 299.9l2.5-4.2-2.5-4.2-2.5 4.2zM203.4 299.2l2.5-4.2-2.5-4.2-2.5 4.2zM203.5 299l2.5-4.2-2.5-4.2-2.5 4.2zM203.6 298.5l2.5-4.2-2.5-4.2-2.5 4.2zM203.7 299l2.5-4.2-2.5-4.2-2.5 4.2zM203.8 298.5l2.5-4.2-2.5-4.2-2.5 4.2zM203.9 299.7l2.5-4.2-2.5-4.2-2.5 4.2zM204 298.9l2.5-4.2-2.5-4.2-2.5 4.2zM204.1 298.4l2.5-4.2-2.5-4.2-2.5 4.2zM204.3 296.9l2.5-4.2-2.5-4.2-2.5 4.2zM204.4 298.8l2.5-4.2-2.5-4.2-2.5 4.2zM204.5 299l2.5-4.2-2.5-4.2-2.5 4.2zM204.6 299.3l2.5-4.2-2.5-4.2-2.5 4.2zM204.7 299.2l2.5-4.2-2.5-4.2-2.5 4.2zM204.8 299.6l2.5-4.2-2.5-4.2-2.5 4.2zM204.9 299.9l2.5-4.2-2.5-4.2-2.5 4.2zM205 298.9l2.5-4.2-2.5-4.2-2.5 4.2zM205.2 296.9l2.5-4.2-2.5-4.2-2.5 4.2zM205.3 298.9l2.5-4.2-2.5-4.2-2.5 4.2zM205.4 298l2.5-4.2-2.5-4.2-2.5 4.2zM205.5 299.6l2.5-4.2-2.5-4.2-2.5 4.2zM205.6 297.1l2.5-4.2-2.5-4.2-2.5 4.2zM205.7 299.9l2.5-4.2-2.5-4.2-2.5 4.2zM205.8 299.2l2.5-4.2-2.5-4.2-2.5 4.2zM205.9 299.6l2.5-4.2-2.5-4.2-2.5 4.2zM206.1 297.9l2.5-4.2-2.5-4.2-2.5 4.2zM206.2 299.3l2.5-4.2-2.5-4.2-2.5 4.2zM206.3 297.5l2.5-4.2-2.5-4.2-2.5 4.2zM206.4 298.5l2.5-4.2-2.5-4.2-2.5 4.2zM206.5 299.8l2.5-4.2-2.5-4.2-2.5 4.2zM206.6 297.4l2.5-4.2-2.5-4.2-2.5 4.2zM206.7 299.3l2.5-4.2-2.5-4.2-2.5 4.2zM206.9 299.3l2.5-4.2-2.5-4.2-2.5 4.2zM207 299.9l2.5-4.2-2.5-4.2-2.5 4.2zM207.1 299.5l2.5-4.2-2.5-4.2-2.5 4.2zM207.2 299.3l2.5-4.2-2.5-4.2-2.5 4.2zM207.3 298.4l2.5-4.2-2.5-4.2-2.5 4.2zM207.4 297.8l2.5-4.2-2.5-4.2-2.5 4.2zM207.5 299.5l2.5-4.2-2.5-4.2-2.5 4.2zM207.6 298.7l2.5-4.2-2.5-4.2-2.5 4.2zM207.8 298.9l2.5-4.2-2.5-4.2-2.5 4.2zM207.9 299.6l2.5-4.2-2.5-4.2-2.5 4.2zM208 299.6l2.5-4.2-2.5-4.2-2.5 4.2zM208.1 299.4l2.5-4.2-2.5-4.2-2.5 4.2zM208.2 299.2l2.5-4.2-2.5-4.2-2.5 4.2zM208.3 298.9l2.5-4.2-2.5-4.2-2.5 4.2zM208.4 298l2.5-4.2-2.5-4.2-2.5 4.2zM208.5 297.4l2.5-4.2-2.5-4.2-2.5 4.2zM208.7 299l2.5-4.2-2.5-4.2-2.5 4.2zM208.8 298.6l2.5-4.2-2.5-4.2-2.5 4.2zM208.9 298.4l2.5-4.2-2.5-4.2-2.5 4.2zM209 298.9l2.5-4.2-2.5-4.2-2.5 4.2zM209.1 299.3l2.5-4.2-2.5-4.2-2.5 4.2zM209.2 299.4l2.5-4.2-2.5-4.2-2.5 4.2zM209.3 297.4l2.5-4.2-2.5-4.2-2.5 4.2zM209.4 299.7l2.5-4.2-2.5-4.2-2.5 4.2zM209.6 298.1l2.5-4.2-2.5-4.2-2.5 4.2zM209.7 299.9l2.5-4.2-2.5-4.2-2.5 4.2zM209.8 299.4l2.5-4.2-2.5-4.2-2.5 4.2zM209.9 298.7l2.5-4.2-2.5-4.2-2.5 4.2zM210 298.8l2.5-4.2-2.5-4.2-2.5 4.2zM210.1 298l2.5-4.2-2.5-4.2-2.5 4.2zM210.2 297.4l2.5-4.2-2.5-4.2-2.5 4.2zM210.3 299.1l2.5-4.2-2.5-4.2-2.5 4.2zM210.5 297.7l2.5-4.2-2.5-4.2-2.5 4.2zM210.6 299.3l2.5-4.2-2.5-4.2-2.5 4.2zM210.7 299.4l2.5-4.2-2.5-4.2-2.5 4.2zM210.8 299.7l2.5-4.2-2.5-4.2-2.5 4.2zM210.9 299.1l2.5-4.2-2.5-4.2-2.5 4.2zM211 299l2.5-4.2-2.5-4.2-2.5 4.2zM211.1 298.3l2.5-4.2-2.5-4.2-2.5 4.2zM211.2 297.5l2.5-4.2-2.5-4.2-2.5 4.2zM211.4 299.7l2.5-4.2-2.5-4.2-2.5 4.2zM211.5 299.5l2.5-4.2-2.5-4.2-2.5 4.2zM211.6 298.9l2.5-4.2-2.5-4.2-2.5 4.2zM211.7 299.4l2.5-4.2-2.5-4.2-2.5 4.2zM211.8 299.4l2.5-4.2-2.5-4.2-2.5 4.2zM211.9 298.6l2.5-4.2-2.5-4.2-2.5 4.2zM212 298.9l2.5-4.2-2.5-4.2-2.5 4.2zM212.1 298.9l2.5-4.2-2.5-4.2-2.5 4.2zM212.3 297l2.5-4.2-2.5-4.2-2.5 4.2zM212.4 297.4l2.5-4.2-2.5-4.2-2.5 4.2zM212.5 299l2.5-4.2-2.5-4.2-2.5 4.2zM212.6 297.3l2.5-4.2-2.5-4.2-2.5 4.2zM212.7 298.1l2.5-4.2-2.5-4.2-2.5 4.2zM212.8 299.1l2.5-4.2-2.5-4.2-2.5 4.2zM212.9 299.3l2.5-4.2-2.5-4.2-2.5 4.2zM213.1 299.9l2.5-4.2-2.5-4.2-2.5 4.2zM213.2 297.9l2.5-4.2-2.5-4.2-2.5 4.2zM213.3 297.8l2.5-4.2-2.5-4.2-2.5 4.2zM213.4 299.6l2.5-4.2-2.5-4.2-2.5 4.2zM213.5 299.9l2.5-4.2-2.5-4.2-2.5 4.2zM213.6 299.7l2.5-4.2-2.5-4.2-2.5 4.2zM213.7 299.1l2.5-4.2-2.5-4.2-2.5 4.2zM213.8 299.7l2.5-4.2-2.5-4.2-2.5 4.2zM214 299.8l2.5-4.2-2.5-4.2-2.5 4.2zM214.1 298.8l2.5-4.2-2.5-4.2-2.5 4.2zM214.2 298.5l2.5-4.2-2.5-4.2-2.5 4.2zM214.3 299.2l2.5-4.2-2.5-4.2-2.5 4.2zM214.4 298.7l2.5-4.2-2.5-4.2-2.5 4.2zM214.5 297.3l2.5-4.2-2.5-4.2-2.5 4.2zM214.6 298.7l2.5-4.2-2.5-4.2-2.5 4.2zM214.7 299.4l2.5-4.2-2.5-4.2-2.5 4.2zM214.9 298.4l2.5-4.2-2.5-4.2-2.5 4.2zM215 299.5l2.5-4.2-2.5-4.2-2.5 4.2zM215.1 297.4l2.5-4.2-2.5-4.2-2.5 4.2zM215.2 299.6l2.5-4.2-2.5-4.2-2.5 4.2zM215.3 297.6l2.5-4.2-2.5-4.2-2.5 4.2zM215.4 298.6l2.5-4.2-2.5-4.2-2.5 4.2zM215.5 298.1l2.5-4.2-2.5-4.2-2.5 4.2zM215.6 297.5l2.5-4.2-2.5-4.2-2.5 4.2zM215.8 299.6l2.5-4.2-2.5-4.2-2.5 4.2zM215.9 299l2.5-4.2-2.5-4.2-2.5 4.2zM216 298.9l2.5-4.2-2.5-4.2-2.5 4.2zM216.1 299.2l2.5-4.2-2.5-4.2-2.5 4.2zM216.2 298.9l2.5-4.2-2.5-4.2-2.5 4.2zM216.3 299.6l2.5-4.2-2.5-4.2-2.5 4.2zM216.4 298.5l2.5-4.2-2.5-4.2-2.5 4.2zM216.5 298.9l2.5-4.2-2.5-4.2-2.5 4.2zM216.7 299.3l2.5-4.2-2.5-4.2-2.5 4.2zM216.8 296.7l2.5-4.2-2.5-4.2-2.5 4.2zM216.9 299.5l2.5-4.2-2.5-4.2-2.5 4.2zM217 299.5l2.5-4.2-2.5-4.2-2.5 4.2zM217.1 299.1l2.5-4.2-2.5-4.2-2.5 4.2zM217.2 299.2l2.5-4.2-2.5-4.2-2.5 4.2zM217.3 299.4l2.5-4.2-2.5-4.2-2.5 4.2zM217.4 298.1l2.5-4.2-2.5-4.2-2.5 4.2zM217.6 298.2l2.5-4.2-2.5-4.2-2.5 4.2zM217.7 299.6l2.5-4.2-2.5-4.2-2.5 4.2zM217.8 298.7l2.5-4.2-2.5-4.2-2.5 4.2zM217.9 299.5l2.5-4.2-2.5-4.2-2.5 4.2zM218 299.5l2.5-4.2-2.5-4.2-2.5 4.2zM218.1 297.8l2.5-4.2-2.5-4.2-2.5 4.2zM218.2 299.1l2.5-4.2-2.5-4.2-2.5 4.2zM218.3 299.9l2.5-4.2-2.5-4.2-2.5 4.2zM218.5 299.8l2.5-4.2-2.5-4.2-2.5 4.2zM218.6 299.4l2.5-4.2-2.5-4.2-2.5 4.2zM218.7 297.4l2.5-4.2-2.5-4.2-2.5 4.2zM218.8 297.7l2.5-4.2-2.5-4.2-2.5 4.2zM218.9 299.5l2.5-4.2-2.5-4.2-2.5 4.2zM219 297.6l2.5-4.2-2.5-4.2-2.5 4.2zM219.1 298.2l2.5-4.2-2.5-4.2-2.5 4.2zM219.3 297.8l2.5-4.2-2.5-4.2-2.5 4.2zM219.4 297.7l2.5-4.2-2.5-4.2-2.5 4.2zM219.5 296.6l2.5-4.2-2.5-4.2-2.5 4.2zM219.6 299.4l2.5-4.2-2.5-4.2-2.5 4.2zM219.7 298.2l2.5-4.2-2.5-4.2-2.5 4.2zM219.8 297.4l2.5-4.2-2.5-4.2-2.5 4.2zM219.9 297.9l2.5-4.2-2.5-4.2-2.5 4.2zM220 298.4l2.5-4.2-2.5-4.2-2.5 4.2zM220.2 299.6l2.5-4.2-2.5-4.2-2.5 4.2zM220.3 298.5l2.5-4.2-2.5-4.2-2.5 4.2zM220.4 299.7l2.5-4.2-2.5-4.2-2.5 4.2zM220.5 299.1l2.5-4.2-2.5-4.2-2.5 4.2zM220.6 297.9l2.5-4.2-2.5-4.2-2.5 4.2zM220.7 297.7l2.5-4.2-2.5-4.2-2.5 4.2zM220.8 297.4l2.5-4.2-2.5-4.2-2.5 4.2zM220.9 299.5l2.5-4.2-2.5-4.2-2.5 4.2zM221.1 297.4l2.5-4.2-2.5-4.2-2.5 4.2zM221.2 299.5l2.5-4.2-2.5-4.2-2.5 4.2zM221.3 299.8l2.5-4.2-2.5-4.2-2.5 4.2zM221.4 299.8l2.5-4.2-2.5-4.2-2.5 4.2zM221.5 297.9l2.5-4.2-2.5-4.2-2.5 4.2zM221.6 297.3l2.5-4.2-2.5-4.2-2.5 4.2zM221.7 297.6l2.5-4.2-2.5-4.2-2.5 4.2zM221.8 299.2l2.5-4.2-2.5-4.2-2.5 4.2zM222 298l2.5-4.2-2.5-4.2-2.5 4.2zM222.1 299.1l2.5-4.2-2.5-4.2-2.5 4.2zM222.2 299.4l2.5-4.2-2.5-4.2-2.5 4.2zM222.3 299.8l2.5-4.2-2.5-4.2-2.5 4.2zM222.4 299.7l2.5-4.2-2.5-4.2-2.5 4.2zM222.5 297.9l2.5-4.2-2.5-4.2-2.5 4.2zM222.6 299.9l2.5-4.2-2.5-4.2-2.5 4.2zM222.7 297.1l2.5-4.2-2.5-4.2-2.5 4.2zM222.9 299.3l2.5-4.2-2.5-4.2-2.5 4.2zM223 299.9l2.5-4.2-2.5-4.2-2.5 4.2zM223.1 299.6l2.5-4.2-2.5-4.2-2.5 4.2zM223.2 298.1l2.5-4.2-2.5-4.2-2.5 4.2zM223.3 298l2.5-4.2-2.5-4.2-2.5 4.2zM223.4 299.2l2.5-4.2-2.5-4.2-2.5 4.2zM223.5 299.3l2.5-4.2-2.5-4.2-2.5 4.2zM223.6 298l2.5-4.2-2.5-4.2-2.5 4.2zM223.8 298.6l2.5-4.2-2.5-4.2-2.5 4.2zM223.9 298.3l2.5-4.2-2.5-4.2-2.5 4.2zM224 296.4l2.5-4.2-2.5-4.2-2.5 4.2zM224.1 299.4l2.5-4.2-2.5-4.2-2.5 4.2zM224.2 298.9l2.5-4.2-2.5-4.2-2.5 4.2zM224.3 297.4l2.5-4.2-2.5-4.2-2.5 4.2zM224.4 299l2.5-4.2-2.5-4.2-2.5 4.2zM224.5 296.4l2.5-4.2-2.5-4.2-2.5 4.2zM224.7 299.8l2.5-4.2-2.5-4.2-2.5 4.2zM224.8 298.2l2.5-4.2-2.5-4.2-2.5 4.2zM224.9 299.1l2.5-4.2-2.5-4.2-2.5 4.2zM225 297.7l2.5-4.2-2.5-4.2-2.5 4.2zM225.1 298.5l2.5-4.2-2.5-4.2-2.5 4.2zM225.2 298l2.5-4.2-2.5-4.2-2.5 4.2zM225.3 298.9l2.5-4.2-2.5-4.2-2.5 4.2zM225.5 299.7l2.5-4.2-2.5-4.2-2.5 4.2zM225.6 297.7l2.5-4.2-2.5-4.2-2.5 4.2zM225.7 299.8l2.5-4.2-2.5-4.2-2.5 4.2zM225.8 298.8l2.5-4.2-2.5-4.2-2.5 4.2zM225.9 299.6l2.5-4.2-2.5-4.2-2.5 4.2zM226 298.1l2.5-4.2-2.5-4.2-2.5 4.2zM226.1 299.6l2.5-4.2-2.5-4.2-2.5 4.2zM226.2 298.2l2.5-4.2-2.5-4.2-2.5 4.2zM226.4 298.7l2.5-4.2-2.5-4.2-2.5 4.2zM226.5 299.7l2.5-4.2-2.5-4.2-2.5 4.2zM226.6 299.8l2.5-4.2-2.5-4.2-2.5 4.2zM226.7 299.8l2.5-4.2-2.5-4.2-2.5 4.2zM226.8 297.4l2.5-4.2-2.5-4.2-2.5 4.2zM226.9 297.5l2.5-4.2-2.5-4.2-2.5 4.2zM227 299.5l2.5-4.2-2.5-4.2-2.5 4.2zM227.1 299.7l2.5-4.2-2.5-4.2-2.5 4.2zM227.3 298.4l2.5-4.2-2.5-4.2-2.5 4.2zM227.4 299.1l2.5-4.2-2.5-4.2-2.5 4.2zM227.5 297.8l2.5-4.2-2.5-4.2-2.5 4.2zM227.6 298.2l2.5-4.2-2.5-4.2-2.5 4.2zM227.7 297.8l2.5-4.2-2.5-4.2-2.5 4.2zM227.8 299.6l2.5-4.2-2.5-4.2-2.5 4.2zM227.9 297.2l2.5-4.2-2.5-4.2-2.5 4.2zM228 298.1l2.5-4.2-2.5-4.2-2.5 4.2zM228.2 298.1l2.5-4.2-2.5-4.2-2.5 4.2zM228.3 299.4l2.5-4.2-2.5-4.2-2.5 4.2zM228.4 297.1l2.5-4.2-2.5-4.2-2.5 4.2zM228.5 298.4l2.5-4.2-2.5-4.2-2.5 4.2zM228.6 299.5l2.5-4.2-2.5-4.2-2.5 4.2zM228.7 297.7l2.5-4.2-2.5-4.2-2.5 4.2zM228.8 299.2l2.5-4.2-2.5-4.2-2.5 4.2zM228.9 299.4l2.5-4.2-2.5-4.2-2.5 4.2zM229.1 298.6l2.5-4.2-2.5-4.2-2.5 4.2zM229.2 298.1l2.5-4.2-2.5-4.2-2.5 4.2zM229.3 298.2l2.5-4.2-2.5-4.2-2.5 4.2zM229.4 298.8l2.5-4.2-2.5-4.2-2.5 4.2zM229.5 297.6l2.5-4.2-2.5-4.2-2.5 4.2zM229.6 299.7l2.5-4.2-2.5-4.2-2.5 4.2zM229.7 296.4l2.5-4.2-2.5-4.2-2.5 4.2zM229.8 298.1l2.5-4.2-2.5-4.2-2.5 4.2zM230 299.4l2.5-4.2-2.5-4.2-2.5 4.2zM230.1 299.1l2.5-4.2-2.5-4.2-2.5 4.2zM230.2 298.7l2.5-4.2-2.5-4.2-2.5 4.2zM230.3 299.3l2.5-4.2-2.5-4.2-2.5 4.2zM230.4 299l2.5-4.2-2.5-4.2-2.5 4.2zM230.5 299.2l2.5-4.2-2.5-4.2-2.5 4.2zM230.6 299.7l2.5-4.2-2.5-4.2-2.5 4.2zM230.7 299.3l2.5-4.2-2.5-4.2-2.5 4.2zM230.9 299.6l2.5-4.2-2.5-4.2-2.5 4.2zM231 298.9l2.5-4.2-2.5-4.2-2.5 4.2zM231.1 298.8l2.5-4.2-2.5-4.2-2.5 4.2zM231.2 298.8l2.5-4.2-2.5-4.2-2.5 4.2zM231.3 298.6l2.5-4.2-2.5-4.2-2.5 4.2zM231.4 297l2.5-4.2-2.5-4.2-2.5 4.2zM231.5 299.4l2.5-4.2-2.5-4.2-2.5 4.2zM231.7 298.4l2.5-4.2-2.5-4.2-2.5 4.2zM231.8 298.1l2.5-4.2-2.5-4.2-2.5 4.2zM231.9 299l2.5-4.2-2.5-4.2-2.5 4.2zM232 299.6l2.5-4.2-2.5-4.2-2.5 4.2zM232.1 298.8l2.5-4.2-2.5-4.2-2.5 4.2zM232.2 299.6l2.5-4.2-2.5-4.2-2.5 4.2zM232.3 299.8l2.5-4.2-2.5-4.2-2.5 4.2zM232.4 299.1l2.5-4.2-2.5-4.2-2.5 4.2zM232.6 299.3l2.5-4.2-2.5-4.2-2.5 4.2zM232.7 298.1l2.5-4.2-2.5-4.2-2.5 4.2zM232.8 299.3l2.5-4.2-2.5-4.2-2.5 4.2zM232.9 299l2.5-4.2-2.5-4.2-2.5 4.2zM233 299.8l2.5-4.2-2.5-4.2-2.5 4.2zM233.1 298.2l2.5-4.2-2.5-4.2-2.5 4.2zM233.2 298l2.5-4.2-2.5-4.2-2.5 4.2zM233.3 296.9l2.5-4.2-2.5-4.2-2.5 4.2zM233.5 299.4l2.5-4.2-2.5-4.2-2.5 4.2zM233.6 298.5l2.5-4.2-2.5-4.2-2.5 4.2zM233.7 298.2l2.5-4.2-2.5-4.2-2.5 4.2zM233.8 299l2.5-4.2-2.5-4.2-2.5 4.2zM233.9 299.9l2.5-4.2-2.5-4.2-2.5 4.2zM234 299l2.5-4.2-2.5-4.2-2.5 4.2zM234.1 299.1l2.5-4.2-2.5-4.2-2.5 4.2zM234.2 299l2.5-4.2-2.5-4.2-2.5 4.2zM234.4 298l2.5-4.2-2.5-4.2-2.5 4.2zM234.5 299.6l2.5-4.2-2.5-4.2-2.5 4.2zM234.6 299.2l2.5-4.2-2.5-4.2-2.5 4.2zM234.7 299.5l2.5-4.2-2.5-4.2-2.5 4.2zM234.8 299.3l2.5-4.2-2.5-4.2-2.5 4.2zM234.9 297.3l2.5-4.2-2.5-4.2-2.5 4.2zM235 299.1l2.5-4.2-2.5-4.2-2.5 4.2zM235.1 298l2.5-4.2-2.5-4.2-2.5 4.2zM235.3 299.2l2.5-4.2-2.5-4.2-2.5 4.2zM235.4 297.9l2.5-4.2-2.5-4.2-2.5 4.2zM235.5 297.6l2.5-4.2-2.5-4.2-2.5 4.2zM235.6 297.4l2.5-4.2-2.5-4.2-2.5 4.2zM235.7 299.8l2.5-4.2-2.5-4.2-2.5 4.2zM235.8 298.8l2.5-4.2-2.5-4.2-2.5 4.2zM235.9 299.4l2.5-4.2-2.5-4.2-2.5 4.2zM236 299.6l2.5-4.2-2.5-4.2-2.5 4.2zM236.2 298.2l2.5-4.2-2.5-4.2-2.5 4.2zM236.3 299.6l2.5-4.2-2.5-4.2-2.5 4.2zM236.4 298.3l2.5-4.2-2.5-4.2-2.5 4.2zM236.5 298.8l2.5-4.2-2.5-4.2-2.5 4.2zM236.6 299.4l2.5-4.2-2.5-4.2-2.5 4.2zM236.7 298.3l2.5-4.2-2.5-4.2-2.5 4.2zM236.8 296.6l2.5-4.2-2.5-4.2-2.5 4.2zM236.9 298.9l2.5-4.2-2.5-4.2-2.5 4.2zM237.1 297.4l2.5-4.2-2.5-4.2-2.5 4.2zM237.2 297.9l2.5-4.2-2.5-4.2-2.5 4.2zM237.3 299.5l2.5-4.2-2.5-4.2-2.5 4.2zM237.4 299.8l2.5-4.2-2.5-4.2-2.5 4.2zM237.5 296.5l2.5-4.2-2.5-4.2-2.5 4.2zM237.6 297.5l2.5-4.2-2.5-4.2-2.5 4.2zM237.7 297.6l2.5-4.2-2.5-4.2-2.5 4.2zM237.9 298.3l2.5-4.2-2.5-4.2-2.5 4.2zM238 298.8l2.5-4.2-2.5-4.2-2.5 4.2zM238.1 299.4l2.5-4.2-2.5-4.2-2.5 4.2zM238.2 297.9l2.5-4.2-2.5-4.2-2.5 4.2zM238.3 299.7l2.5-4.2-2.5-4.2-2.5 4.2zM238.4 298.8l2.5-4.2-2.5-4.2-2.5 4.2zM238.5 299.8l2.5-4.2-2.5-4.2-2.5 4.2zM238.6 299.3l2.5-4.2-2.5-4.2-2.5 4.2zM238.8 298.4l2.5-4.2-2.5-4.2-2.5 4.2zM238.9 299.1l2.5-4.2-2.5-4.2-2.5 4.2zM239 299.7l2.5-4.2-2.5-4.2-2.5 4.2zM239.1 299.7l2.5-4.2-2.5-4.2-2.5 4.2zM239.2 299.9l2.5-4.2-2.5-4.2-2.5 4.2zM239.3 299.7l2.5-4.2-2.5-4.2-2.5 4.2zM239.4 298.4l2.5-4.2-2.5-4.2-2.5 4.2zM239.5 298.6l2.5-4.2-2.5-4.2-2.5 4.2zM239.7 299.3l2.5-4.2-2.5-4.2-2.5 4.2zM239.8 297.1l2.5-4.2-2.5-4.2-2.5 4.2zM239.9 298l2.5-4.2-2.5-4.2-2.5 4.2zM240 299.8l2.5-4.2-2.5-4.2-2.5 4.2zM240.1 296.7l2.5-4.2-2.5-4.2-2.5 4.2zM240.2 299.4l2.5-4.2-2.5-4.2-2.5 4.2zM240.3 299.7l2.5-4.2-2.5-4.2-2.5 4.2zM240.4 296.8l2.5-4.2-2.5-4.2-2.5 4.2zM240.6 298.2l2.5-4.2-2.5-4.2-2.5 4.2zM240.7 299.4l2.5-4.2-2.5-4.2-2.5 4.2zM240.8 299.3l2.5-4.2-2.5-4.2-2.5 4.2zM240.9 299.9l2.5-4.2-2.5-4.2-2.5 4.2zM241 299.5l2.5-4.2-2.5-4.2-2.5 4.2zM241.1 299.6l2.5-4.2-2.5-4.2-2.5 4.2zM241.2 299.3l2.5-4.2-2.5-4.2-2.5 4.2zM241.3 297.8l2.5-4.2-2.5-4.2-2.5 4.2zM241.5 299l2.5-4.2-2.5-4.2-2.5 4.2zM241.6 299.3l2.5-4.2-2.5-4.2-2.5 4.2zM241.7 298.2l2.5-4.2-2.5-4.2-2.5 4.2zM241.8 299.8l2.5-4.2-2.5-4.2-2.5 4.2zM241.9 299.1l2.5-4.2-2.5-4.2-2.5 4.2zM242 296.9l2.5-4.2-2.5-4.2-2.5 4.2zM242.1 299.5l2.5-4.2-2.5-4.2-2.5 4.2zM242.2 299.5l2.5-4.2-2.5-4.2-2.5 4.2zM242.4 297.6l2.5-4.2-2.5-4.2-2.5 4.2zM242.5 298.5l2.5-4.2-2.5-4.2-2.5 4.2zM242.6 298.6l2.5-4.2-2.5-4.2-2.5 4.2zM242.7 297.4l2.5-4.2-2.5-4.2-2.5 4.2zM242.8 298.8l2.5-4.2-2.5-4.2-2.5 4.2zM242.9 299l2.5-4.2-2.5-4.2-2.5 4.2zM243 298.2l2.5-4.2-2.5-4.2-2.5 4.2zM243.1 298.8l2.5-4.2-2.5-4.2-2.5 4.2zM243.3 297.9l2.5-4.2-2.5-4.2-2.5 4.2zM243.4 297.7l2.5-4.2-2.5-4.2-2.5 4.2zM243.5 299.5l2.5-4.2-2.5-4.2-2.5 4.2zM243.6 298.3l2.5-4.2-2.5-4.2-2.5 4.2zM243.7 297.4l2.5-4.2-2.5-4.2-2.5 4.2zM243.8 299.9l2.5-4.2-2.5-4.2-2.5 4.2zM243.9 297l2.5-4.2-2.5-4.2-2.5 4.2zM244.1 299.7l2.5-4.2-2.5-4.2-2.5 4.2zM244.2 299.6l2.5-4.2-2.5-4.2-2.5 4.2zM244.3 299.2l2.5-4.2-2.5-4.2-2.5 4.2zM244.4 297.9l2.5-4.2-2.5-4.2-2.5 4.2zM244.5 297.3l2.5-4.2-2.5-4.2-2.5 4.2zM244.6 297.4l2.5-4.2-2.5-4.2-2.5 4.2zM244.7 297.5l2.5-4.2-2.5-4.2-2.5 4.2zM244.8 298.9l2.5-4.2-2.5-4.2-2.5 4.2zM245 297l2.5-4.2-2.5-4.2-2.5 4.2zM245.1 299.2l2.5-4.2-2.5-4.2-2.5 4.2zM245.2 298.8l2.5-4.2-2.5-4.2-2.5 4.2zM245.3 298.4l2.5-4.2-2.5-4.2-2.5 4.2zM245.4 299.3l2.5-4.2-2.5-4.2-2.5 4.2zM245.5 299.4l2.5-4.2-2.5-4.2-2.5 4.2zM245.6 297.9l2.5-4.2-2.5-4.2-2.5 4.2zM245.7 297.2l2.5-4.2-2.5-4.2-2.5 4.2zM245.9 299.7l2.5-4.2-2.5-4.2-2.5 4.2zM246 299.6l2.5-4.2-2.5-4.2-2.5 4.2zM246.1 299.6l2.5-4.2-2.5-4.2-2.5 4.2zM246.2 299.1l2.5-4.2-2.5-4.2-2.5 4.2zM246.3 299.9l2.5-4.2-2.5-4.2-2.5 4.2zM246.4 299.3l2.5-4.2-2.5-4.2-2.5 4.2zM246.5 297.9l2.5-4.2-2.5-4.2-2.5 4.2zM246.6 299.4l2.5-4.2-2.5-4.2-2.5 4.2zM246.8 299.3l2.5-4.2-2.5-4.2-2.5 4.2zM246.9 297.1l2.5-4.2-2.5-4.2-2.5 4.2zM247 299.9l2.5-4.2-2.5-4.2-2.5 4.2zM247.1 297.5l2.5-4.2-2.5-4.2-2.5 4.2zM247.2 298.7l2.5-4.2-2.5-4.2-2.5 4.2zM247.3 299.4l2.5-4.2-2.5-4.2-2.5 4.2zM247.4 298.7l2.5-4.2-2.5-4.2-2.5 4.2zM247.5 299.6l2.5-4.2-2.5-4.2-2.5 4.2zM247.7 299l2.5-4.2-2.5-4.2-2.5 4.2zM247.8 298.4l2.5-4.2-2.5-4.2-2.5 4.2zM247.9 298l2.5-4.2-2.5-4.2-2.5 4.2zM248 299.6l2.5-4.2-2.5-4.2-2.5 4.2zM248.1 299.3l2.5-4.2-2.5-4.2-2.5 4.2zM248.2 298.3l2.5-4.2-2.5-4.2-2.5 4.2zM248.3 297.4l2.5-4.2-2.5-4.2-2.5 4.2zM248.4 298.8l2.5-4.2-2.5-4.2-2.5 4.2zM248.6 298.8l2.5-4.2-2.5-4.2-2.5 4.2zM248.7 297.4l2.5-4.2-2.5-4.2-2.5 4.2zM248.8 299.3l2.5-4.2-2.5-4.2-2.5 4.2zM248.9 297.7l2.5-4.2-2.5-4.2-2.5 4.2zM249 299.5l2.5-4.2-2.5-4.2-2.5 4.2zM249.1 297.4l2.5-4.2-2.5-4.2-2.5 4.2zM249.2 298.2l2.5-4.2-2.5-4.2-2.5 4.2zM249.3 297.6l2.5-4.2-2.5-4.2-2.5 4.2zM249.5 299.2l2.5-4.2-2.5-4.2-2.5 4.2zM249.6 299.2l2.5-4.2-2.5-4.2-2.5 4.2zM249.7 298.6l2.5-4.2-2.5-4.2-2.5 4.2zM249.8 297.1l2.5-4.2-2.5-4.2-2.5 4.2zM249.9 299.8l2.5-4.2-2.5-4.2-2.5 4.2zM250 296.7l2.5-4.2-2.5-4.2-2.5 4.2zM250.1 298.7l2.5-4.2-2.5-4.2-2.5 4.2zM250.3 299l2.5-4.2-2.5-4.2-2.5 4.2zM250.4 298.7l2.5-4.2-2.5-4.2-2.5 4.2zM250.5 298.6l2.5-4.2-2.5-4.2-2.5 4.2zM250.6 299.5l2.5-4.2-2.5-4.2-2.5 4.2zM250.7 299.8l2.5-4.2-2.5-4.2-2.5 4.2zM250.8 298.5l2.5-4.2-2.5-4.2-2.5 4.2zM250.9 299.8l2.5-4.2-2.5-4.2-2.5 4.2zM251 299.6l2.5-4.2-2.5-4.2-2.5 4.2zM251.2 298.4l2.5-4.2-2.5-4.2-2.5 4.2zM251.3 297.7l2.5-4.2-2.5-4.2-2.5 4.2zM251.4 297.4l2.5-4.2-2.5-4.2-2.5 4.2zM251.5 297.7l2.5-4.2-2.5-4.2-2.5 4.2zM251.6 298.6l2.5-4.2-2.5-4.2-2.5 4.2zM251.7 299.1l2.5-4.2-2.5-4.2-2.5 4.2zM251.8 299.2l2.5-4.2-2.5-4.2-2.5 4.2zM251.9 296.4l2.5-4.2-2.5-4.2-2.5 4.2zM252.1 297.8l2.5-4.2-2.5-4.2-2.5 4.2zM252.2 299.3l2.5-4.2-2.5-4.2-2.5 4.2zM252.3 297l2.5-4.2-2.5-4.2-2.5 4.2zM252.4 299.1l2.5-4.2-2.5-4.2-2.5 4.2zM252.5 299.4l2.5-4.2-2.5-4.2-2.5 4.2zM252.6 299.9l2.5-4.2-2.5-4.2-2.5 4.2zM252.7 299.7l2.5-4.2-2.5-4.2-2.5 4.2zM252.8 298l2.5-4.2-2.5-4.2-2.5 4.2zM253 299.4l2.5-4.2-2.5-4.2-2.5 4.2zM253.1 298.9l2.5-4.2-2.5-4.2-2.5 4.2zM253.2 299.2l2.5-4.2-2.5-4.2-2.5 4.2zM253.3 299.8l2.5-4.2-2.5-4.2-2.5 4.2zM253.4 297.4l2.5-4.2-2.5-4.2-2.5 4.2zM253.5 296.7l2.5-4.2-2.5-4.2-2.5 4.2zM253.6 296.9l2.5-4.2-2.5-4.2-2.5 4.2zM253.7 298.9l2.5-4.2-2.5-4.2-2.5 4.2zM253.9 299.8l2.5-4.2-2.5-4.2-2.5 4.2zM254 299l2.5-4.2-2.5-4.2-2.5 4.2zM254.1 299.8l2.5-4.2-2.5-4.2-2.5 4.2zM254.2 298.2l2.5-4.2-2.5-4.2-2.5 4.2zM254.3 299.7l2.5-4.2-2.5-4.2-2.5 4.2zM254.4 297.4l2.5-4.2-2.5-4.2-2.5 4.2zM254.5 298.9l2.5-4.2-2.5-4.2-2.5 4.2zM254.6 298.3l2.5-4.2-2.5-4.2-2.5 4.2zM254.8 296.6l2.5-4.2-2.5-4.2-2.5 4.2zM254.9 298l2.5-4.2-2.5-4.2-2.5 4.2zM255 299.1l2.5-4.2-2.5-4.2-2.5 4.2zM255.1 297.4l2.5-4.2-2.5-4.2-2.5 4.2zM255.2 298.3l2.5-4.2-2.5-4.2-2.5 4.2zM255.3 299.2l2.5-4.2-2.5-4.2-2.5 4.2zM255.4 298.5l2.5-4.2-2.5-4.2-2.5 4.2zM255.5 299.2l2.5-4.2-2.5-4.2-2.5 4.2zM255.7 299.6l2.5-4.2-2.5-4.2-2.5 4.2zM255.8 299.3l2.5-4.2-2.5-4.2-2.5 4.2zM255.9 299.2l2.5-4.2-2.5-4.2-2.5 4.2zM256 299l2.5-4.2-2.5-4.2-2.5 4.2zM256.1 297.2l2.5-4.2-2.5-4.2-2.5 4.2zM256.2 299.1l2.5-4.2-2.5-4.2-2.5 4.2zM256.3 298.2l2.5-4.2-2.5-4.2-2.5 4.2zM256.5 299.2l2.5-4.2-2.5-4.2-2.5 4.2zM256.6 299.8l2.5-4.2-2.5-4.2-2.5 4.2zM256.7 299.9l2.5-4.2-2.5-4.2-2.5 4.2zM256.8 299.1l2.5-4.2-2.5-4.2-2.5 4.2zM256.9 299.2l2.5-4.2-2.5-4.2-2.5 4.2zM257 298.3l2.5-4.2-2.5-4.2-2.5 4.2zM257.1 298.5l2.5-4.2-2.5-4.2-2.5 4.2zM257.2 296.4l2.5-4.2-2.5-4.2-2.5 4.2zM257.4 298.6l2.5-4.2-2.5-4.2-2.5 4.2zM257.5 297.4l2.5-4.2-2.5-4.2-2.5 4.2zM257.6 299.8l2.5-4.2-2.5-4.2-2.5 4.2zM257.7 299.4l2.5-4.2-2.5-4.2-2.5 4.2zM257.8 299.6l2.5-4.2-2.5-4.2-2.5 4.2zM257.9 296.5l2.5-4.2-2.5-4.2-2.5 4.2zM258 297.8l2.5-4.2-2.5-4.2-2.5 4.2zM258.1 299l2.5-4.2-2.5-4.2-2.5 4.2zM258.3 299.2l2.5-4.2-2.5-4.2-2.5 4.2zM258.4 298l2.5-4.2-2.5-4.2-2.5 4.2zM258.5 297.5l2.5-4.2-2.5-4.2-2.5 4.2zM258.6 299.8l2.5-4.2-2.5-4.2-2.5 4.2zM258.7 299.8l2.5-4.2-2.5-4.2-2.5 4.2zM258.8 297.6l2.5-4.2-2.5-4.2-2.5 4.2zM258.9 297.8l2.5-4.2-2.5-4.2-2.5 4.2zM259 299.8l2.5-4.2-2.5-4.2-2.5 4.2zM259.2 299.3l2.5-4.2-2.5-4.2-2.5 4.2zM259.3 298.8l2.5-4.2-2.5-4.2-2.5 4.2zM259.4 299.8l2.5-4.2-2.5-4.2-2.5 4.2zM259.5 297.9l2.5-4.2-2.5-4.2-2.5 4.2zM259.6 297.4l2.5-4.2-2.5-4.2-2.5 4.2zM259.7 298l2.5-4.2-2.5-4.2-2.5 4.2zM259.8 298.6l2.5-4.2-2.5-4.2-2.5 4.2zM259.9 297.7l2.5-4.2-2.5-4.2-2.5 4.2zM260.1 299.8l2.5-4.2-2.5-4.2-2.5 4.2zM260.2 299.9l2.5-4.2-2.5-4.2-2.5 4.2zM260.3 297.4l2.5-4.2-2.5-4.2-2.5 4.2zM260.4 296.5l2.5-4.2-2.5-4.2-2.5 4.2zM260.5 299.5l2.5-4.2-2.5-4.2-2.5 4.2zM260.6 299.6l2.5-4.2-2.5-4.2-2.5 4.2zM260.7 298.6l2.5-4.2-2.5-4.2-2.5 4.2zM260.8 299l2.5-4.2-2.5-4.2-2.5 4.2zM261 298.8l2.5-4.2-2.5-4.2-2.5 4.2zM261.1 298.5l2.5-4.2-2.5-4.2-2.5 4.2zM261.2 298.7l2.5-4.2-2.5-4.2-2.5 4.2zM261.3 297.4l2.5-4.2-2.5-4.2-2.5 4.2zM261.4 298.3l2.5-4.2-2.5-4.2-2.5 4.2zM261.5 297.3l2.5-4.2-2.5-4.2-2.5 4.2zM261.6 298.8l2.5-4.2-2.5-4.2-2.5 4.2zM261.7 299.6l2.5-4.2-2.5-4.2-2.5 4.2zM261.9 297.9l2.5-4.2-2.5-4.2-2.5 4.2zM262 299.7l2.5-4.2-2.5-4.2-2.5 4.2zM262.1 298.5l2.5-4.2-2.5-4.2-2.5 4.2zM262.2 299.7l2.5-4.2-2.5-4.2-2.5 4.2zM262.3 299.2l2.5-4.2-2.5-4.2-2.5 4.2zM262.4 296.8l2.5-4.2-2.5-4.2-2.5 4.2zM262.5 296.6l2.5-4.2-2.5-4.2-2.5 4.2zM262.7 299l2.5-4.2-2.5-4.2-2.5 4.2zM262.8 298.2l2.5-4.2-2.5-4.2-2.5 4.2zM262.9 299.9l2.5-4.2-2.5-4.2-2.5 4.2zM263 297.3l2.5-4.2-2.5-4.2-2.5 4.2zM263.1 299.8l2.5-4.2-2.5-4.2-2.5 4.2zM263.2 299.5l2.5-4.2-2.5-4.2-2.5 4.2zM263.3 299.1l2.5-4.2-2.5-4.2-2.5 4.2zM263.4 296.6l2.5-4.2-2.5-4.2-2.5 4.2zM263.6 297.6l2.5-4.2-2.5-4.2-2.5 4.2zM263.7 298.4l2.5-4.2-2.5-4.2-2.5 4.2zM263.8 298.3l2.5-4.2-2.5-4.2-2.5 4.2zM263.9 299.4l2.5-4.2-2.5-4.2-2.5 4.2zM264 298.8l2.5-4.2-2.5-4.2-2.5 4.2zM264.1 298.7l2.5-4.2-2.5-4.2-2.5 4.2zM264.2 297.4l2.5-4.2-2.5-4.2-2.5 4.2zM264.3 298.8l2.5-4.2-2.5-4.2-2.5 4.2zM264.5 299.9l2.5-4.2-2.5-4.2-2.5 4.2zM264.6 299.2l2.5-4.2-2.5-4.2-2.5 4.2zM264.7 299.1l2.5-4.2-2.5-4.2-2.5 4.2zM264.8 297.6l2.5-4.2-2.5-4.2-2.5 4.2zM264.9 299.4l2.5-4.2-2.5-4.2-2.5 4.2zM265 297.8l2.5-4.2-2.5-4.2-2.5 4.2zM265.1 299.6l2.5-4.2-2.5-4.2-2.5 4.2zM265.2 297.8l2.5-4.2-2.5-4.2-2.5 4.2zM265.4 297.6l2.5-4.2-2.5-4.2-2.5 4.2zM265.5 297.4l2.5-4.2-2.5-4.2-2.5 4.2zM265.6 299.5l2.5-4.2-2.5-4.2-2.5 4.2zM265.7 299.6l2.5-4.2-2.5-4.2-2.5 4.2zM265.8 298.4l2.5-4.2-2.5-4.2-2.5 4.2zM265.9 298.8l2.5-4.2-2.5-4.2-2.5 4.2zM266 298.6l2.5-4.2-2.5-4.2-2.5 4.2zM266.1 299.6l2.5-4.2-2.5-4.2-2.5 4.2zM266.3 297.8l2.5-4.2-2.5-4.2-2.5 4.2zM266.4 297.7l2.5-4.2-2.5-4.2-2.5 4.2zM266.5 299l2.5-4.2-2.5-4.2-2.5 4.2zM266.6 297.8l2.5-4.2-2.5-4.2-2.5 4.2zM266.7 297.9l2.5-4.2-2.5-4.2-2.5 4.2zM266.8 297.6l2.5-4.2-2.5-4.2-2.5 4.2zM266.9 297.9l2.5-4.2-2.5-4.2-2.5 4.2zM267 298.4l2.5-4.2-2.5-4.2-2.5 4.2zM267.2 299.6l2.5-4.2-2.5-4.2-2.5 4.2zM267.3 297.4l2.5-4.2-2.5-4.2-2.5 4.2zM267.4 298l2.5-4.2-2.5-4.2-2.5 4.2zM267.5 297.8l2.5-4.2-2.5-4.2-2.5 4.2zM267.6 299.9l2.5-4.2-2.5-4.2-2.5 4.2zM267.7 298l2.5-4.2-2.5-4.2-2.5 4.2zM267.8 297.7l2.5-4.2-2.5-4.2-2.5 4.2zM267.9 297.4l2.5-4.2-2.5-4.2-2.5 4.2zM268.1 299.5l2.5-4.2-2.5-4.2-2.5 4.2zM268.2 296.8l2.5-4.2-2.5-4.2-2.5 4.2zM268.3 298.6l2.5-4.2-2.5-4.2-2.5 4.2zM268.4 299.1l2.5-4.2-2.5-4.2-2.5 4.2zM268.5 298.9l2.5-4.2-2.5-4.2-2.5 4.2zM268.6 298.1l2.5-4.2-2.5-4.2-2.5 4.2zM268.7 299.5l2.5-4.2-2.5-4.2-2.5 4.2zM268.9 299.8l2.5-4.2-2.5-4.2-2.5 4.2zM269 296.9l2.5-4.2-2.5-4.2-2.5 4.2zM269.1 297.3l2.5-4.2-2.5-4.2-2.5 4.2zM269.2 299.1l2.5-4.2-2.5-4.2-2.5 4.2zM269.3 299.9l2.5-4.2-2.5-4.2-2.5 4.2zM269.4 296.4l2.5-4.2-2.5-4.2-2.5 4.2zM269.5 298.6l2.5-4.2-2.5-4.2-2.5 4.2zM269.6 298.6l2.5-4.2-2.5-4.2-2.5 4.2zM269.8 299.5l2.5-4.2-2.5-4.2-2.5 4.2zM269.9 297.8l2.5-4.2-2.5-4.2-2.5 4.2zM270 299l2.5-4.2-2.5-4.2-2.5 4.2zM270.1 297l2.5-4.2-2.5-4.2-2.5 4.2zM270.2 298.2l2.5-4.2-2.5-4.2-2.5 4.2zM270.3 299.2l2.5-4.2-2.5-4.2-2.5 4.2zM270.4 299.2l2.5-4.2-2.5-4.2-2.5 4.2zM270.5 296.5l2.5-4.2-2.5-4.2-2.5 4.2zM270.7 298.9l2.5-4.2-2.5-4.2-2.5 4.2zM270.8 299.7l2.5-4.2-2.5-4.2-2.5 4.2zM270.9 297.5l2.5-4.2-2.5-4.2-2.5 4.2zM271 297.5l2.5-4.2-2.5-4.2-2.5 4.2zM271.1 298.8l2.5-4.2-2.5-4.2-2.5 4.2zM271.2 298.2l2.5-4.2-2.5-4.2-2.5 4.2zM271.3 298.9l2.5-4.2-2.5-4.2-2.5 4.2zM271.4 298.2l2.5-4.2-2.5-4.2-2.5 4.2zM271.6 297.8l2.5-4.2-2.5-4.2-2.5 4.2zM271.7 299.9l2.5-4.2-2.5-4.2-2.5 4.2zM271.8 299.4l2.5-4.2-2.5-4.2-2.5 4.2zM271.9 299.5l2.5-4.2-2.5-4.2-2.5 4.2zM272 299.7l2.5-4.2-2.5-4.2-2.5 4.2zM272.1 298.6l2.5-4.2-2.5-4.2-2.5 4.2zM272.2 298.9l2.5-4.2-2.5-4.2-2.5 4.2zM272.3 299.2l2.5-4.2-2.5-4.2-2.5 4.2zM272.5 298.9l2.5-4.2-2.5-4.2-2.5 4.2zM272.6 299.8l2.5-4.2-2.5-4.2-2.5 4.2zM272.7 299.3l2.5-4.2-2.5-4.2-2.5 4.2zM272.8 299.5l2.5-4.2-2.5-4.2-2.5 4.2zM272.9 299l2.5-4.2-2.5-4.2-2.5 4.2zM273 299.7l2.5-4.2-2.5-4.2-2.5 4.2zM273.1 298.9l2.5-4.2-2.5-4.2-2.5 4.2zM273.2 298l2.5-4.2-2.5-4.2-2.5 4.2zM273.4 297.9l2.5-4.2-2.5-4.2-2.5 4.2zM273.5 299.5l2.5-4.2-2.5-4.2-2.5 4.2zM273.6 298.5l2.5-4.2-2.5-4.2-2.5 4.2zM273.7 298.5l2.5-4.2-2.5-4.2-2.5 4.2zM273.8 299.8l2.5-4.2-2.5-4.2-2.5 4.2zM273.9 299.6l2.5-4.2-2.5-4.2-2.5 4.2zM274 299.7l2.5-4.2-2.5-4.2-2.5 4.2zM274.1 299.7l2.5-4.2-2.5-4.2-2.5 4.2zM274.3 299.5l2.5-4.2-2.5-4.2-2.5 4.2zM274.4 298.1l2.5-4.2-2.5-4.2-2.5 4.2zM274.5 299.1l2.5-4.2-2.5-4.2-2.5 4.2zM274.6 299.1l2.5-4.2-2.5-4.2-2.5 4.2zM274.7 299.6l2.5-4.2-2.5-4.2-2.5 4.2zM274.8 298.2l2.5-4.2-2.5-4.2-2.5 4.2zM274.9 299.6l2.5-4.2-2.5-4.2-2.5 4.2zM275.1 298.6l2.5-4.2-2.5-4.2-2.5 4.2zM275.2 297.9l2.5-4.2-2.5-4.2-2.5 4.2zM275.3 298.2l2.5-4.2-2.5-4.2-2.5 4.2zM275.4 299.6l2.5-4.2-2.5-4.2-2.5 4.2zM275.5 299.7l2.5-4.2-2.5-4.2-2.5 4.2zM275.6 299.8l2.5-4.2-2.5-4.2-2.5 4.2zM275.7 298l2.5-4.2-2.5-4.2-2.5 4.2zM275.8 299.9l2.5-4.2-2.5-4.2-2.5 4.2zM276 296.5l2.5-4.2-2.5-4.2-2.5 4.2zM276.1 299.2l2.5-4.2-2.5-4.2-2.5 4.2zM276.2 298.9l2.5-4.2-2.5-4.2-2.5 4.2zM276.3 299.4l2.5-4.2-2.5-4.2-2.5 4.2zM276.4 297.7l2.5-4.2-2.5-4.2-2.5 4.2zM276.5 297.5l2.5-4.2-2.5-4.2-2.5 4.2zM276.6 298.1l2.5-4.2-2.5-4.2-2.5 4.2zM276.7 297.4l2.5-4.2-2.5-4.2-2.5 4.2zM276.9 298.9l2.5-4.2-2.5-4.2-2.5 4.2zM277 298.4l2.5-4.2-2.5-4.2-2.5 4.2zM277.1 297.5l2.5-4.2-2.5-4.2-2.5 4.2zM277.2 299.8l2.5-4.2-2.5-4.2-2.5 4.2zM277.3 299.4l2.5-4.2-2.5-4.2-2.5 4.2zM277.4 296.5l2.5-4.2-2.5-4.2-2.5 4.2zM277.5 299.9l2.5-4.2-2.5-4.2-2.5 4.2zM277.6 297.8l2.5-4.2-2.5-4.2-2.5 4.2zM277.8 297.7l2.5-4.2-2.5-4.2-2.5 4.2zM277.9 298.3l2.5-4.2-2.5-4.2-2.5 4.2zM278 297.6l2.5-4.2-2.5-4.2-2.5 4.2zM278.1 297.8l2.5-4.2-2.5-4.2-2.5 4.2zM278.2 299.5l2.5-4.2-2.5-4.2-2.5 4.2zM278.3 297.8l2.5-4.2-2.5-4.2-2.5 4.2zM278.4 299.2l2.5-4.2-2.5-4.2-2.5 4.2zM278.5 298.2l2.5-4.2-2.5-4.2-2.5 4.2zM278.7 297.6l2.5-4.2-2.5-4.2-2.5 4.2zM278.8 299.4l2.5-4.2-2.5-4.2-2.5 4.2zM278.9 298l2.5-4.2-2.5-4.2-2.5 4.2zM279 298.4l2.5-4.2-2.5-4.2-2.5 4.2zM279.1 296.5l2.5-4.2-2.5-4.2-2.5 4.2zM279.2 299.1l2.5-4.2-2.5-4.2-2.5 4.2zM279.3 299.5l2.5-4.2-2.5-4.2-2.5 4.2zM279.4 299.1l2.5-4.2-2.5-4.2-2.5 4.2zM279.6 299.3l2.5-4.2-2.5-4.2-2.5 4.2zM279.7 299.3l2.5-4.2-2.5-4.2-2.5 4.2zM279.8 297.5l2.5-4.2-2.5-4.2-2.5 4.2zM279.9 297.6l2.5-4.2-2.5-4.2-2.5 4.2zM280 299.4l2.5-4.2-2.5-4.2-2.5 4.2zM280.1 299l2.5-4.2-2.5-4.2-2.5 4.2zM280.2 299l2.5-4.2-2.5-4.2-2.5 4.2zM280.3 299.9l2.5-4.2-2.5-4.2-2.5 4.2zM280.5 297.9l2.5-4.2-2.5-4.2-2.5 4.2zM280.6 299.5l2.5-4.2-2.5-4.2-2.5 4.2zM280.7 298.4l2.5-4.2-2.5-4.2-2.5 4.2zM280.8 298.5l2.5-4.2-2.5-4.2-2.5 4.2zM280.9 299.2l2.5-4.2-2.5-4.2-2.5 4.2zM281 299.7l2.5-4.2-2.5-4.2-2.5 4.2zM281.1 298.2l2.5-4.2-2.5-4.2-2.5 4.2zM281.3 297.4l2.5-4.2-2.5-4.2-2.5 4.2zM281.4 299l2.5-4.2-2.5-4.2-2.5 4.2zM281.5 297.3l2.5-4.2-2.5-4.2-2.5 4.2zM281.6 298.7l2.5-4.2-2.5-4.2-2.5 4.2zM281.7 299.1l2.5-4.2-2.5-4.2-2.5 4.2zM281.8 297l2.5-4.2-2.5-4.2-2.5 4.2zM281.9 299.8l2.5-4.2-2.5-4.2-2.5 4.2zM282 298.3l2.5-4.2-2.5-4.2-2.5 4.2zM282.2 299.4l2.5-4.2-2.5-4.2-2.5 4.2zM282.3 299.6l2.5-4.2-2.5-4.2-2.5 4.2zM282.4 297.7l2.5-4.2-2.5-4.2-2.5 4.2zM282.5 299.9l2.5-4.2-2.5-4.2-2.5 4.2zM282.6 299.1l2.5-4.2-2.5-4.2-2.5 4.2zM282.7 299.8l2.5-4.2-2.5-4.2-2.5 4.2zM282.8 299.9l2.5-4.2-2.5-4.2-2.5 4.2zM282.9 299.6l2.5-4.2-2.5-4.2-2.5 4.2zM283.1 299.6l2.5-4.2-2.5-4.2-2.5 4.2zM283.2 299l2.5-4.2-2.5-4.2-2.5 4.2zM283.3 299.2l2.5-4.2-2.5-4.2-2.5 4.2zM283.4 299.1l2.5-4.2-2.5-4.2-2.5 4.2zM283.5 298.4l2.5-4.2-2.5-4.2-2.5 4.2zM283.6 299.4l2.5-4.2-2.5-4.2-2.5 4.2zM283.7 299.3l2.5-4.2-2.5-4.2-2.5 4.2zM283.8 299.6l2.5-4.2-2.5-4.2-2.5 4.2zM284 299.8l2.5-4.2-2.5-4.2-2.5 4.2zM284.1 298.9l2.5-4.2-2.5-4.2-2.5 4.2zM284.2 299.4l2.5-4.2-2.5-4.2-2.5 4.2zM284.3 299.3l2.5-4.2-2.5-4.2-2.5 4.2zM284.4 298.9l2.5-4.2-2.5-4.2-2.5 4.2zM284.5 298.3l2.5-4.2-2.5-4.2-2.5 4.2zM284.6 299l2.5-4.2-2.5-4.2-2.5 4.2zM284.7 297.6l2.5-4.2-2.5-4.2-2.5 4.2zM284.9 297.9l2.5-4.2-2.5-4.2-2.5 4.2zM285 298.2l2.5-4.2-2.5-4.2-2.5 4.2zM285.1 297.9l2.5-4.2-2.5-4.2-2.5 4.2zM285.2 299.7l2.5-4.2-2.5-4.2-2.5 4.2zM285.3 298.3l2.5-4.2-2.5-4.2-2.5 4.2zM285.4 297.6l2.5-4.2-2.5-4.2-2.5 4.2zM285.5 299l2.5-4.2-2.5-4.2-2.5 4.2zM285.6 299.9l2.5-4.2-2.5-4.2-2.5 4.2zM285.8 297.9l2.5-4.2-2.5-4.2-2.5 4.2zM285.9 297.8l2.5-4.2-2.5-4.2-2.5 4.2zM286 298.1l2.5-4.2-2.5-4.2-2.5 4.2zM286.1 298.1l2.5-4.2-2.5-4.2-2.5 4.2zM286.2 299l2.5-4.2-2.5-4.2-2.5 4.2zM286.3 299.6l2.5-4.2-2.5-4.2-2.5 4.2zM286.4 298.7l2.5-4.2-2.5-4.2-2.5 4.2zM286.5 299.7l2.5-4.2-2.5-4.2-2.5 4.2zM286.7 298.2l2.5-4.2-2.5-4.2-2.5 4.2zM286.8 299.1l2.5-4.2-2.5-4.2-2.5 4.2zM286.9 298.8l2.5-4.2-2.5-4.2-2.5 4.2zM287 299.3l2.5-4.2-2.5-4.2-2.5 4.2zM287.1 299.7l2.5-4.2-2.5-4.2-2.5 4.2zM287.2 299.5l2.5-4.2-2.5-4.2-2.5 4.2zM287.3 299.1l2.5-4.2-2.5-4.2-2.5 4.2zM287.5 298.4l2.5-4.2-2.5-4.2-2.5 4.2zM287.6 299.3l2.5-4.2-2.5-4.2-2.5 4.2zM287.7 298.5l2.5-4.2-2.5-4.2-2.5 4.2zM287.8 297.7l2.5-4.2-2.5-4.2-2.5 4.2zM287.9 298l2.5-4.2-2.5-4.2-2.5 4.2zM288 299l2.5-4.2-2.5-4.2-2.5 4.2zM288.1 298.1l2.5-4.2-2.5-4.2-2.5 4.2zM288.2 299.6l2.5-4.2-2.5-4.2-2.5 4.2zM288.4 298.4l2.5-4.2-2.5-4.2-2.5 4.2zM288.5 298l2.5-4.2-2.5-4.2-2.5 4.2zM288.6 297.6l2.5-4.2-2.5-4.2-2.5 4.2zM288.7 299.3l2.5-4.2-2.5-4.2-2.5 4.2zM288.8 299.1l2.5-4.2-2.5-4.2-2.5 4.2zM288.9 299.3l2.5-4.2-2.5-4.2-2.5 4.2zM289 299.6l2.5-4.2-2.5-4.2-2.5 4.2zM289.1 299.6l2.5-4.2-2.5-4.2-2.5 4.2zM289.3 297.9l2.5-4.2-2.5-4.2-2.5 4.2zM289.4 298l2.5-4.2-2.5-4.2-2.5 4.2zM289.5 298.7l2.5-4.2-2.5-4.2-2.5 4.2zM289.6 298.4l2.5-4.2-2.5-4.2-2.5 4.2zM289.7 298.1l2.5-4.2-2.5-4.2-2.5 4.2zM289.8 297.4l2.5-4.2-2.5-4.2-2.5 4.2zM289.9 299.8l2.5-4.2-2.5-4.2-2.5 4.2zM290 297.6l2.5-4.2-2.5-4.2-2.5 4.2zM290.2 297.8l2.5-4.2-2.5-4.2-2.5 4.2zM290.3 298.7l2.5-4.2-2.5-4.2-2.5 4.2zM290.4 299.6l2.5-4.2-2.5-4.2-2.5 4.2zM290.5 299.1l2.5-4.2-2.5-4.2-2.5 4.2zM290.6 297.4l2.5-4.2-2.5-4.2-2.5 4.2zM290.7 297.6l2.5-4.2-2.5-4.2-2.5 4.2zM290.8 299l2.5-4.2-2.5-4.2-2.5 4.2zM290.9 299.8l2.5-4.2-2.5-4.2-2.5 4.2zM291.1 299.5l2.5-4.2-2.5-4.2-2.5 4.2zM291.2 296.8l2.5-4.2-2.5-4.2-2.5 4.2zM291.3 299.1l2.5-4.2-2.5-4.2-2.5 4.2zM291.4 299.2l2.5-4.2-2.5-4.2-2.5 4.2zM291.5 299.2l2.5-4.2-2.5-4.2-2.5 4.2zM291.6 299.7l2.5-4.2-2.5-4.2-2.5 4.2zM291.7 297.6l2.5-4.2-2.5-4.2-2.5 4.2zM291.8 297l2.5-4.2-2.5-4.2-2.5 4.2zM292 298.9l2.5-4.2-2.5-4.2-2.5 4.2zM292.1 298.3l2.5-4.2-2.5-4.2-2.5 4.2zM292.2 297.8l2.5-4.2-2.5-4.2-2.5 4.2zM292.3 299.8l2.5-4.2-2.5-4.2-2.5 4.2zM292.4 296.6l2.5-4.2-2.5-4.2-2.5 4.2zM292.5 299.5l2.5-4.2-2.5-4.2-2.5 4.2zM292.6 297.6l2.5-4.2-2.5-4.2-2.5 4.2zM292.7 299.4l2.5-4.2-2.5-4.2-2.5 4.2zM292.9 299.4l2.5-4.2-2.5-4.2-2.5 4.2zM293 299.3l2.5-4.2-2.5-4.2-2.5 4.2zM293.1 299.8l2.5-4.2-2.5-4.2-2.5 4.2zM293.2 299.3l2.5-4.2-2.5-4.2-2.5 4.2zM293.3 298.8l2.5-4.2-2.5-4.2-2.5 4.2zM293.4 299.4l2.5-4.2-2.5-4.2-2.5 4.2zM293.5 297.5l2.5-4.2-2.5-4.2-2.5 4.2zM293.7 297.3l2.5-4.2-2.5-4.2-2.5 4.2zM293.8 299.1l2.5-4.2-2.5-4.2-2.5 4.2zM293.9 299.8l2.5-4.2-2.5-4.2-2.5 4.2zM294 297.5l2.5-4.2-2.5-4.2-2.5 4.2zM294.1 299l2.5-4.2-2.5-4.2-2.5 4.2zM294.2 299.2l2.5-4.2-2.5-4.2-2.5 4.2zM294.3 297.5l2.5-4.2-2.5-4.2-2.5 4.2zM294.4 297.4l2.5-4.2-2.5-4.2-2.5 4.2zM294.6 299.5l2.5-4.2-2.5-4.2-2.5 4.2zM294.7 296.7l2.5-4.2-2.5-4.2-2.5 4.2zM294.8 299.6l2.5-4.2-2.5-4.2-2.5 4.2zM294.9 296.6l2.5-4.2-2.5-4.2-2.5 4.2zM295 299.6l2.5-4.2-2.5-4.2-2.5 4.2zM295.1 299.7l2.5-4.2-2.5-4.2-2.5 4.2zM295.2 299.5l2.5-4.2-2.5-4.2-2.5 4.2zM295.3 298.8l2.5-4.2-2.5-4.2-2.5 4.2zM295.5 299l2.5-4.2-2.5-4.2-2.5 4.2zM295.6 298.9l2.5-4.2-2.5-4.2-2.5 4.2zM295.7 298.9l2.5-4.2-2.5-4.2-2.5 4.2zM295.8 299.1l2.5-4.2-2.5-4.2-2.5 4.2zM295.9 299.1l2.5-4.2-2.5-4.2-2.5 4.2zM296 299.9l2.5-4.2-2.5-4.2-2.5 4.2zM296.1 299.2l2.5-4.2-2.5-4.2-2.5 4.2zM296.2 299l2.5-4.2-2.5-4.2-2.5 4.2zM296.4 299.8l2.5-4.2-2.5-4.2-2.5 4.2zM296.5 299.1l2.5-4.2-2.5-4.2-2.5 4.2zM296.6 296.6l2.5-4.2-2.5-4.2-2.5 4.2zM296.7 298.7l2.5-4.2-2.5-4.2-2.5 4.2zM296.8 299.9l2.5-4.2-2.5-4.2-2.5 4.2zM296.9 298.1l2.5-4.2-2.5-4.2-2.5 4.2zM297 298.6l2.5-4.2-2.5-4.2-2.5 4.2zM297.1 299.1l2.5-4.2-2.5-4.2-2.5 4.2zM297.3 298.4l2.5-4.2-2.5-4.2-2.5 4.2zM297.4 299.7l2.5-4.2-2.5-4.2-2.5 4.2zM297.5 299.9l2.5-4.2-2.5-4.2-2.5 4.2zM297.6 299.2l2.5-4.2-2.5-4.2-2.5 4.2zM297.7 298.1l2.5-4.2-2.5-4.2-2.5 4.2zM297.8 299.5l2.5-4.2-2.5-4.2-2.5 4.2zM297.9 297.9l2.5-4.2-2.5-4.2-2.5 4.2zM298 297.3l2.5-4.2-2.5-4.2-2.5 4.2zM298.2 299.3l2.5-4.2-2.5-4.2-2.5 4.2zM298.3 298l2.5-4.2-2.5-4.2-2.5 4.2zM298.4 298.3l2.5-4.2-2.5-4.2-2.5 4.2zM298.5 298.3l2.5-4.2-2.5-4.2-2.5 4.2zM298.6 299.6l2.5-4.2-2.5-4.2-2.5 4.2zM298.7 299.8l2.5-4.2-2.5-4.2-2.5 4.2zM298.8 298.8l2.5-4.2-2.5-4.2-2.5 4.2zM298.9 298.1l2.5-4.2-2.5-4.2-2.5 4.2zM299.1 297.5l2.5-4.2-2.5-4.2-2.5 4.2zM299.2 299.3l2.5-4.2-2.5-4.2-2.5 4.2zM299.3 299.6l2.5-4.2-2.5-4.2-2.5 4.2zM299.4 299.6l2.5-4.2-2.5-4.2-2.5 4.2zM299.5 299.1l2.5-4.2-2.5-4.2-2.5 4.2zM299.6 299.8l2.5-4.2-2.5-4.2-2.5 4.2zM299.7 299.1l2.5-4.2-2.5-4.2-2.5 4.2zM299.9 299.8l2.5-4.2-2.5-4.2-2.5 4.2zM300 297.8l2.5-4.2-2.5-4.2-2.5 4.2zM300.1 297.3l2.5-4.2-2.5-4.2-2.5 4.2zM300.2 299l2.5-4.2-2.5-4.2-2.5 4.2zM300.3 299.4l2.5-4.2-2.5-4.2-2.5 4.2zM300.4 298.7l2.5-4.2-2.5-4.2-2.5 4.2zM300.5 299l2.5-4.2-2.5-4.2-2.5 4.2zM300.6 296.6l2.5-4.2-2.5-4.2-2.5 4.2zM300.8 297.3l2.5-4.2-2.5-4.2-2.5 4.2zM300.9 296.9l2.5-4.2-2.5-4.2-2.5 4.2zM301 298.9l2.5-4.2-2.5-4.2-2.5 4.2zM301.1 299.1l2.5-4.2-2.5-4.2-2.5 4.2zM301.2 297.8l2.5-4.2-2.5-4.2-2.5 4.2zM301.3 298.3l2.5-4.2-2.5-4.2-2.5 4.2zM301.4 299l2.5-4.2-2.5-4.2-2.5 4.2zM301.5 298.8l2.5-4.2-2.5-4.2-2.5 4.2zM301.7 299.9l2.5-4.2-2.5-4.2-2.5 4.2zM301.8 299.1l2.5-4.2-2.5-4.2-2.5 4.2zM301.9 298.4l2.5-4.2-2.5-4.2-2.5 4.2zM302 299.1l2.5-4.2-2.5-4.2-2.5 4.2zM302.1 299l2.5-4.2-2.5-4.2-2.5 4.2zM302.2 299.4l2.5-4.2-2.5-4.2-2.5 4.2zM302.3 296.8l2.5-4.2-2.5-4.2-2.5 4.2zM302.4 299.2l2.5-4.2-2.5-4.2-2.5 4.2zM302.6 299.4l2.5-4.2-2.5-4.2-2.5 4.2zM302.7 299.1l2.5-4.2-2.5-4.2-2.5 4.2zM302.8 297.5l2.5-4.2-2.5-4.2-2.5 4.2zM302.9 297.3l2.5-4.2-2.5-4.2-2.5 4.2zM303 298l2.5-4.2-2.5-4.2-2.5 4.2zM303.1 299.7l2.5-4.2-2.5-4.2-2.5 4.2zM303.2 297.5l2.5-4.2-2.5-4.2-2.5 4.2zM303.3 298.6l2.5-4.2-2.5-4.2-2.5 4.2zM303.5 298.1l2.5-4.2-2.5-4.2-2.5 4.2zM303.6 296.6l2.5-4.2-2.5-4.2-2.5 4.2zM303.7 299.7l2.5-4.2-2.5-4.2-2.5 4.2zM303.8 299.6l2.5-4.2-2.5-4.2-2.5 4.2zM303.9 299.1l2.5-4.2-2.5-4.2-2.5 4.2zM304 299.6l2.5-4.2-2.5-4.2-2.5 4.2zM304.1 299.2l2.5-4.2-2.5-4.2-2.5 4.2zM304.2 299.6l2.5-4.2-2.5-4.2-2.5 4.2zM304.4 298.7l2.5-4.2-2.5-4.2-2.5 4.2zM304.5 299.6l2.5-4.2-2.5-4.2-2.5 4.2zM304.6 298.5l2.5-4.2-2.5-4.2-2.5 4.2zM304.7 296.5l2.5-4.2-2.5-4.2-2.5 4.2zM304.8 296.5l2.5-4.2-2.5-4.2-2.5 4.2zM304.9 297.1l2.5-4.2-2.5-4.2-2.5 4.2zM305 296.9l2.5-4.2-2.5-4.2-2.5 4.2zM305.1 298.1l2.5-4.2-2.5-4.2-2.5 4.2zM305.3 298l2.5-4.2-2.5-4.2-2.5 4.2zM305.4 298.8l2.5-4.2-2.5-4.2-2.5 4.2zM305.5 299.1l2.5-4.2-2.5-4.2-2.5 4.2zM305.6 299.6l2.5-4.2-2.5-4.2-2.5 4.2zM305.7 297.7l2.5-4.2-2.5-4.2-2.5 4.2zM305.8 298.2l2.5-4.2-2.5-4.2-2.5 4.2zM305.9 299l2.5-4.2-2.5-4.2-2.5 4.2zM306.1 299.2l2.5-4.2-2.5-4.2-2.5 4.2zM306.2 299.2l2.5-4.2-2.5-4.2-2.5 4.2zM306.3 298.4l2.5-4.2-2.5-4.2-2.5 4.2zM306.4 298.2l2.5-4.2-2.5-4.2-2.5 4.2zM306.5 298.8l2.5-4.2-2.5-4.2-2.5 4.2zM306.6 298.8l2.5-4.2-2.5-4.2-2.5 4.2zM306.7 298.2l2.5-4.2-2.5-4.2-2.5 4.2zM306.8 296.4l2.5-4.2-2.5-4.2-2.5 4.2zM307 297.7l2.5-4.2-2.5-4.2-2.5 4.2zM307.1 299.5l2.5-4.2-2.5-4.2-2.5 4.2zM307.2 297.3l2.5-4.2-2.5-4.2-2.5 4.2zM307.3 299.6l2.5-4.2-2.5-4.2-2.5 4.2zM307.4 298.7l2.5-4.2-2.5-4.2-2.5 4.2zM307.5 298l2.5-4.2-2.5-4.2-2.5 4.2zM307.6 298.6l2.5-4.2-2.5-4.2-2.5 4.2zM307.7 298.7l2.5-4.2-2.5-4.2-2.5 4.2zM307.9 299.9l2.5-4.2-2.5-4.2-2.5 4.2zM308 297.7l2.5-4.2-2.5-4.2-2.5 4.2zM308.1 298.9l2.5-4.2-2.5-4.2-2.5 4.2zM308.2 297.5l2.5-4.2-2.5-4.2-2.5 4.2zM308.3 298l2.5-4.2-2.5-4.2-2.5 4.2zM308.4 299.2l2.5-4.2-2.5-4.2-2.5 4.2zM308.5 298.9l2.5-4.2-2.5-4.2-2.5 4.2zM308.6 299.6l2.5-4.2-2.5-4.2-2.5 4.2zM308.8 299l2.5-4.2-2.5-4.2-2.5 4.2zM308.9 297.9l2.5-4.2-2.5-4.2-2.5 4.2zM309 299.1l2.5-4.2-2.5-4.2-2.5 4.2zM309.1 298.6l2.5-4.2-2.5-4.2-2.5 4.2zM309.2 298.3l2.5-4.2-2.5-4.2-2.5 4.2zM309.3 297.5l2.5-4.2-2.5-4.2-2.5 4.2zM309.4 299.4l2.5-4.2-2.5-4.2-2.5 4.2zM309.5 299.8l2.5-4.2-2.5-4.2-2.5 4.2zM309.7 297.5l2.5-4.2-2.5-4.2-2.5 4.2zM309.8 298.8l2.5-4.2-2.5-4.2-2.5 4.2zM309.9 299.6l2.5-4.2-2.5-4.2-2.5 4.2zM310 298.9l2.5-4.2-2.5-4.2-2.5 4.2zM310.1 299l2.5-4.2-2.5-4.2-2.5 4.2zM310.2 298.7l2.5-4.2-2.5-4.2-2.5 4.2zM310.3 298.8l2.5-4.2-2.5-4.2-2.5 4.2zM310.4 299l2.5-4.2-2.5-4.2-2.5 4.2zM310.6 299.8l2.5-4.2-2.5-4.2-2.5 4.2zM310.7 299.4l2.5-4.2-2.5-4.2-2.5 4.2zM310.8 299.9l2.5-4.2-2.5-4.2-2.5 4.2zM310.9 299.3l2.5-4.2-2.5-4.2-2.5 4.2zM311 299.9l2.5-4.2-2.5-4.2-2.5 4.2zM311.1 299l2.5-4.2-2.5-4.2-2.5 4.2zM311.2 299.3l2.5-4.2-2.5-4.2-2.5 4.2zM311.3 299.4l2.5-4.2-2.5-4.2-2.5 4.2zM311.5 299.8l2.5-4.2-2.5-4.2-2.5 4.2zM311.6 298l2.5-4.2-2.5-4.2-2.5 4.2zM311.7 297.7l2.5-4.2-2.5-4.2-2.5 4.2zM311.8 299.8l2.5-4.2-2.5-4.2-2.5 4.2zM311.9 298.8l2.5-4.2-2.5-4.2-2.5 4.2zM312 298.8l2.5-4.2-2.5-4.2-2.5 4.2zM312.1 298.8l2.5-4.2-2.5-4.2-2.5 4.2zM312.3 299.4l2.5-4.2-2.5-4.2-2.5 4.2zM312.4 299.6l2.5-4.2-2.5-4.2-2.5 4.2zM312.5 296.5l2.5-4.2-2.5-4.2-2.5 4.2zM312.6 298.3l2.5-4.2-2.5-4.2-2.5 4.2zM312.7 296.7l2.5-4.2-2.5-4.2-2.5 4.2zM312.8 298.7l2.5-4.2-2.5-4.2-2.5 4.2zM312.9 298.3l2.5-4.2-2.5-4.2-2.5 4.2zM313 299.2l2.5-4.2-2.5-4.2-2.5 4.2zM313.2 298.7l2.5-4.2-2.5-4.2-2.5 4.2zM313.3 299.6l2.5-4.2-2.5-4.2-2.5 4.2zM313.4 299l2.5-4.2-2.5-4.2-2.5 4.2zM313.5 299.1l2.5-4.2-2.5-4.2-2.5 4.2zM313.6 296.5l2.5-4.2-2.5-4.2-2.5 4.2zM313.7 298l2.5-4.2-2.5-4.2-2.5 4.2zM313.8 299.2l2.5-4.2-2.5-4.2-2.5 4.2zM313.9 299.5l2.5-4.2-2.5-4.2-2.5 4.2zM314.1 299.7l2.5-4.2-2.5-4.2-2.5 4.2zM314.2 299.6l2.5-4.2-2.5-4.2-2.5 4.2zM314.3 297.3l2.5-4.2-2.5-4.2-2.5 4.2zM314.4 299.7l2.5-4.2-2.5-4.2-2.5 4.2zM314.5 299.4l2.5-4.2-2.5-4.2-2.5 4.2zM314.6 298.6l2.5-4.2-2.5-4.2-2.5 4.2zM314.7 299.4l2.5-4.2-2.5-4.2-2.5 4.2zM314.8 299l2.5-4.2-2.5-4.2-2.5 4.2zM315 298.6l2.5-4.2-2.5-4.2-2.5 4.2zM315.1 296.7l2.5-4.2-2.5-4.2-2.5 4.2zM315.2 298.9l2.5-4.2-2.5-4.2-2.5 4.2zM315.3 299.4l2.5-4.2-2.5-4.2-2.5 4.2zM315.4 299.6l2.5-4.2-2.5-4.2-2.5 4.2zM315.5 297.7l2.5-4.2-2.5-4.2-2.5 4.2zM315.6 299.9l2.5-4.2-2.5-4.2-2.5 4.2zM315.7 299.3l2.5-4.2-2.5-4.2-2.5 4.2zM315.9 299.1l2.5-4.2-2.5-4.2-2.5 4.2zM316 299.3l2.5-4.2-2.5-4.2-2.5 4.2zM316.1 297.2l2.5-4.2-2.5-4.2-2.5 4.2zM316.2 299l2.5-4.2-2.5-4.2-2.5 4.2zM316.3 299l2.5-4.2-2.5-4.2-2.5 4.2zM316.4 296.9l2.5-4.2-2.5-4.2-2.5 4.2zM316.5 299.7l2.5-4.2-2.5-4.2-2.5 4.2zM316.6 299.2l2.5-4.2-2.5-4.2-2.5 4.2zM316.8 299.1l2.5-4.2-2.5-4.2-2.5 4.2zM316.9 299.8l2.5-4.2-2.5-4.2-2.5 4.2zM317 298l2.5-4.2-2.5-4.2-2.5 4.2zM317.1 299.8l2.5-4.2-2.5-4.2-2.5 4.2zM317.2 299.6l2.5-4.2-2.5-4.2-2.5 4.2zM317.3 298.8l2.5-4.2-2.5-4.2-2.5 4.2zM317.4 299l2.5-4.2-2.5-4.2-2.5 4.2zM317.5 299.3l2.5-4.2-2.5-4.2-2.5 4.2zM317.7 297.9l2.5-4.2-2.5-4.2-2.5 4.2zM317.8 298.9l2.5-4.2-2.5-4.2-2.5 4.2zM317.9 298.3l2.5-4.2-2.5-4.2-2.5 4.2zM318 298.4l2.5-4.2-2.5-4.2-2.5 4.2zM318.1 299.4l2.5-4.2-2.5-4.2-2.5 4.2zM318.2 298.7l2.5-4.2-2.5-4.2-2.5 4.2zM318.3 299.6l2.5-4.2-2.5-4.2-2.5 4.2zM318.5 299.3l2.5-4.2-2.5-4.2-2.5 4.2zM318.6 297.2l2.5-4.2-2.5-4.2-2.5 4.2zM318.7 296.5l2.5-4.2-2.5-4.2-2.5 4.2zM318.8 299.9l2.5-4.2-2.5-4.2-2.5 4.2zM318.9 299.7l2.5-4.2-2.5-4.2-2.5 4.2zM319 299.2l2.5-4.2-2.5-4.2-2.5 4.2zM319.1 299.3l2.5-4.2-2.5-4.2-2.5 4.2zM319.2 299.3l2.5-4.2-2.5-4.2-2.5 4.2zM319.4 298.3l2.5-4.2-2.5-4.2-2.5 4.2zM319.5 299.5l2.5-4.2-2.5-4.2-2.5 4.2zM319.6 299.1l2.5-4.2-2.5-4.2-2.5 4.2zM319.7 299.1l2.5-4.2-2.5-4.2-2.5 4.2zM319.8 298.5l2.5-4.2-2.5-4.2-2.5 4.2zM319.9 297.3l2.5-4.2-2.5-4.2-2.5 4.2zM320 297.8l2.5-4.2-2.5-4.2-2.5 4.2zM320.1 299.5l2.5-4.2-2.5-4.2-2.5 4.2zM320.3 298l2.5-4.2-2.5-4.2-2.5 4.2zM320.4 297.3l2.5-4.2-2.5-4.2-2.5 4.2zM320.5 299.9l2.5-4.2-2.5-4.2-2.5 4.2zM320.6 297.5l2.5-4.2-2.5-4.2-2.5 4.2zM320.7 298.8l2.5-4.2-2.5-4.2-2.5 4.2zM320.8 299.1l2.5-4.2-2.5-4.2-2.5 4.2zM320.9 298.7l2.5-4.2-2.5-4.2-2.5 4.2zM321 296.7l2.5-4.2-2.5-4.2-2.5 4.2zM321.2 299.9l2.5-4.2-2.5-4.2-2.5 4.2zM321.3 297.9l2.5-4.2-2.5-4.2-2.5 4.2zM321.4 299l2.5-4.2-2.5-4.2-2.5 4.2zM321.5 298.2l2.5-4.2-2.5-4.2-2.5 4.2zM321.6 297.5l2.5-4.2-2.5-4.2-2.5 4.2zM321.7 297.7l2.5-4.2-2.5-4.2-2.5 4.2zM321.8 299.7l2.5-4.2-2.5-4.2-2.5 4.2zM321.9 298.8l2.5-4.2-2.5-4.2-2.5 4.2zM322.1 298l2.5-4.2-2.5-4.2-2.5 4.2zM322.2 299.2l2.5-4.2-2.5-4.2-2.5 4.2zM322.3 298.4l2.5-4.2-2.5-4.2-2.5 4.2zM322.4 298.7l2.5-4.2-2.5-4.2-2.5 4.2zM322.5 297.7l2.5-4.2-2.5-4.2-2.5 4.2zM322.6 299l2.5-4.2-2.5-4.2-2.5 4.2zM322.7 298.3l2.5-4.2-2.5-4.2-2.5 4.2zM322.8 297.8l2.5-4.2-2.5-4.2-2.5 4.2zM323 299.1l2.5-4.2-2.5-4.2-2.5 4.2zM323.1 298.8l2.5-4.2-2.5-4.2-2.5 4.2zM323.2 299.7l2.5-4.2-2.5-4.2-2.5 4.2zM323.3 299.9l2.5-4.2-2.5-4.2-2.5 4.2zM323.4 299.3l2.5-4.2-2.5-4.2-2.5 4.2zM323.5 299.8l2.5-4.2-2.5-4.2-2.5 4.2zM323.6 298.1l2.5-4.2-2.5-4.2-2.5 4.2zM323.7 296.6l2.5-4.2-2.5-4.2-2.5 4.2zM323.9 299l2.5-4.2-2.5-4.2-2.5 4.2zM324 297.9l2.5-4.2-2.5-4.2-2.5 4.2zM324.1 299.1l2.5-4.2-2.5-4.2-2.5 4.2zM324.2 296.8l2.5-4.2-2.5-4.2-2.5 4.2zM324.3 299.1l2.5-4.2-2.5-4.2-2.5 4.2zM324.4 298.2l2.5-4.2-2.5-4.2-2.5 4.2zM324.5 299.5l2.5-4.2-2.5-4.2-2.5 4.2zM324.7 297.6l2.5-4.2-2.5-4.2-2.5 4.2zM324.8 299.2l2.5-4.2-2.5-4.2-2.5 4.2zM324.9 298.5l2.5-4.2-2.5-4.2-2.5 4.2zM325 299.6l2.5-4.2-2.5-4.2-2.5 4.2zM325.1 299l2.5-4.2-2.5-4.2-2.5 4.2zM325.2 299.1l2.5-4.2-2.5-4.2-2.5 4.2zM325.3 299.8l2.5-4.2-2.5-4.2-2.5 4.2zM325.4 299.1l2.5-4.2-2.5-4.2-2.5 4.2zM325.6 299.7l2.5-4.2-2.5-4.2-2.5 4.2zM325.7 298.6l2.5-4.2-2.5-4.2-2.5 4.2zM325.8 299.3l2.5-4.2-2.5-4.2-2.5 4.2zM325.9 297.4l2.5-4.2-2.5-4.2-2.5 4.2zM326 299.7l2.5-4.2-2.5-4.2-2.5 4.2zM326.1 299.1l2.5-4.2-2.5-4.2-2.5 4.2zM326.2 297.8l2.5-4.2-2.5-4.2-2.5 4.2zM326.3 299.1l2.5-4.2-2.5-4.2-2.5 4.2zM326.5 299.1l2.5-4.2-2.5-4.2-2.5 4.2zM326.6 298.3l2.5-4.2-2.5-4.2-2.5 4.2zM326.7 298.9l2.5-4.2-2.5-4.2-2.5 4.2zM326.8 298.5l2.5-4.2-2.5-4.2-2.5 4.2zM326.9 299.4l2.5-4.2-2.5-4.2-2.5 4.2zM327 297.8l2.5-4.2-2.5-4.2-2.5 4.2zM327.1 298.4l2.5-4.2-2.5-4.2-2.5 4.2zM327.2 299.2l2.5-4.2-2.5-4.2-2.5 4.2zM327.4 299.4l2.5-4.2-2.5-4.2-2.5 4.2zM327.5 299.9l2.5-4.2-2.5-4.2-2.5 4.2zM327.6 297.3l2.5-4.2-2.5-4.2-2.5 4.2zM327.7 299.5l2.5-4.2-2.5-4.2-2.5 4.2zM327.8 298.5l2.5-4.2-2.5-4.2-2.5 4.2zM327.9 299.5l2.5-4.2-2.5-4.2-2.5 4.2zM328 298.8l2.5-4.2-2.5-4.2-2.5 4.2zM328.1 298.3l2.5-4.2-2.5-4.2-2.5 4.2zM328.3 299l2.5-4.2-2.5-4.2-2.5 4.2zM328.4 298.8l2.5-4.2-2.5-4.2-2.5 4.2zM328.5 299.3l2.5-4.2-2.5-4.2-2.5 4.2zM328.6 299.7l2.5-4.2-2.5-4.2-2.5 4.2zM328.7 299.4l2.5-4.2-2.5-4.2-2.5 4.2zM328.8 298.8l2.5-4.2-2.5-4.2-2.5 4.2zM328.9 299.7l2.5-4.2-2.5-4.2-2.5 4.2zM329 298.9l2.5-4.2-2.5-4.2-2.5 4.2zM329.2 298.3l2.5-4.2-2.5-4.2-2.5 4.2zM329.3 297.9l2.5-4.2-2.5-4.2-2.5 4.2zM329.4 298l2.5-4.2-2.5-4.2-2.5 4.2zM329.5 297.6l2.5-4.2-2.5-4.2-2.5 4.2zM329.6 298.8l2.5-4.2-2.5-4.2-2.5 4.2zM329.7 298.8l2.5-4.2-2.5-4.2-2.5 4.2zM329.8 298.5l2.5-4.2-2.5-4.2-2.5 4.2zM329.9 299.5l2.5-4.2-2.5-4.2-2.5 4.2zM330.1 297.3l2.5-4.2-2.5-4.2-2.5 4.2zM330.2 299.6l2.5-4.2-2.5-4.2-2.5 4.2zM330.3 298.3l2.5-4.2-2.5-4.2-2.5 4.2zM330.4 298.6l2.5-4.2-2.5-4.2-2.5 4.2zM330.5 299.1l2.5-4.2-2.5-4.2-2.5 4.2zM330.6 298.9l2.5-4.2-2.5-4.2-2.5 4.2zM330.7 297.2l2.5-4.2-2.5-4.2-2.5 4.2zM330.9 297.4l2.5-4.2-2.5-4.2-2.5 4.2zM331 299.3l2.5-4.2-2.5-4.2-2.5 4.2zM331.1 299.7l2.5-4.2-2.5-4.2-2.5 4.2zM331.2 298.2l2.5-4.2-2.5-4.2-2.5 4.2zM331.3 299.1l2.5-4.2-2.5-4.2-2.5 4.2zM331.4 298.6l2.5-4.2-2.5-4.2-2.5 4.2zM331.5 296.5l2.5-4.2-2.5-4.2-2.5 4.2zM331.6 296.5l2.5-4.2-2.5-4.2-2.5 4.2zM331.8 299.7l2.5-4.2-2.5-4.2-2.5 4.2zM331.9 297.7l2.5-4.2-2.5-4.2-2.5 4.2zM332 297.7l2.5-4.2-2.5-4.2-2.5 4.2zM332.1 299l2.5-4.2-2.5-4.2-2.5 4.2zM332.2 298.4l2.5-4.2-2.5-4.2-2.5 4.2zM332.3 299.9l2.5-4.2-2.5-4.2-2.5 4.2zM332.4 298.1l2.5-4.2-2.5-4.2-2.5 4.2zM332.5 298.2l2.5-4.2-2.5-4.2-2.5 4.2zM332.7 299.1l2.5-4.2-2.5-4.2-2.5 4.2zM332.8 299.5l2.5-4.2-2.5-4.2-2.5 4.2zM332.9 299.2l2.5-4.2-2.5-4.2-2.5 4.2zM333 299.8l2.5-4.2-2.5-4.2-2.5 4.2zM333.1 299.3l2.5-4.2-2.5-4.2-2.5 4.2zM333.2 299l2.5-4.2-2.5-4.2-2.5 4.2zM333.3 299.7l2.5-4.2-2.5-4.2-2.5 4.2zM333.4 299.1l2.5-4.2-2.5-4.2-2.5 4.2zM333.6 299.8l2.5-4.2-2.5-4.2-2.5 4.2zM333.7 298.5l2.5-4.2-2.5-4.2-2.5 4.2zM333.8 298.9l2.5-4.2-2.5-4.2-2.5 4.2zM333.9 298.1l2.5-4.2-2.5-4.2-2.5 4.2zM334 299.6l2.5-4.2-2.5-4.2-2.5 4.2zM334.1 298.7l2.5-4.2-2.5-4.2-2.5 4.2zM334.2 298.3l2.5-4.2-2.5-4.2-2.5 4.2zM334.3 299.6l2.5-4.2-2.5-4.2-2.5 4.2zM334.5 299.3l2.5-4.2-2.5-4.2-2.5 4.2zM334.6 298.2l2.5-4.2-2.5-4.2-2.5 4.2zM334.7 298.2l2.5-4.2-2.5-4.2-2.5 4.2zM334.8 299.5l2.5-4.2-2.5-4.2-2.5 4.2zM334.9 298.9l2.5-4.2-2.5-4.2-2.5 4.2zM335 299.2l2.5-4.2-2.5-4.2-2.5 4.2zM335.1 298.9l2.5-4.2-2.5-4.2-2.5 4.2zM335.2 296.5l2.5-4.2-2.5-4.2-2.5 4.2zM335.4 298.4l2.5-4.2-2.5-4.2-2.5 4.2zM335.5 298.8l2.5-4.2-2.5-4.2-2.5 4.2zM335.6 298.9l2.5-4.2-2.5-4.2-2.5 4.2zM335.7 299l2.5-4.2-2.5-4.2-2.5 4.2zM335.8 296.9l2.5-4.2-2.5-4.2-2.5 4.2zM335.9 298.1l2.5-4.2-2.5-4.2-2.5 4.2zM336 296.4l2.5-4.2-2.5-4.2-2.5 4.2zM336.1 298.4l2.5-4.2-2.5-4.2-2.5 4.2zM336.3 298l2.5-4.2-2.5-4.2-2.5 4.2zM336.4 299.1l2.5-4.2-2.5-4.2-2.5 4.2zM336.5 298.5l2.5-4.2-2.5-4.2-2.5 4.2zM336.6 297.7l2.5-4.2-2.5-4.2-2.5 4.2zM336.7 297.5l2.5-4.2-2.5-4.2-2.5 4.2zM336.8 298.3l2.5-4.2-2.5-4.2-2.5 4.2zM336.9 297.9l2.5-4.2-2.5-4.2-2.5 4.2zM337.1 299.3l2.5-4.2-2.5-4.2-2.5 4.2zM337.2 297.7l2.5-4.2-2.5-4.2-2.5 4.2zM337.3 299.6l2.5-4.2-2.5-4.2-2.5 4.2zM337.4 297.2l2.5-4.2-2.5-4.2-2.5 4.2zM337.5 299.1l2.5-4.2-2.5-4.2-2.5 4.2zM337.6 297.4l2.5-4.2-2.5-4.2-2.5 4.2zM337.7 299.2l2.5-4.2-2.5-4.2-2.5 4.2zM337.8 299.5l2.5-4.2-2.5-4.2-2.5 4.2zM338 299.5l2.5-4.2-2.5-4.2-2.5 4.2zM338.1 299.5l2.5-4.2-2.5-4.2-2.5 4.2zM338.2 299.5l2.5-4.2-2.5-4.2-2.5 4.2zM338.3 297.9l2.5-4.2-2.5-4.2-2.5 4.2zM338.4 297.5l2.5-4.2-2.5-4.2-2.5 4.2zM338.5 297.8l2.5-4.2-2.5-4.2-2.5 4.2zM338.6 298.5l2.5-4.2-2.5-4.2-2.5 4.2zM338.7 299l2.5-4.2-2.5-4.2-2.5 4.2zM338.9 299.3l2.5-4.2-2.5-4.2-2.5 4.2zM339 299.3l2.5-4.2-2.5-4.2-2.5 4.2zM339.1 299.5l2.5-4.2-2.5-4.2-2.5 4.2zM339.2 297.6l2.5-4.2-2.5-4.2-2.5 4.2zM339.3 298.9l2.5-4.2-2.5-4.2-2.5 4.2zM339.4 298.2l2.5-4.2-2.5-4.2-2.5 4.2zM339.5 299.5l2.5-4.2-2.5-4.2-2.5 4.2zM339.6 297.9l2.5-4.2-2.5-4.2-2.5 4.2zM339.8 299.4l2.5-4.2-2.5-4.2-2.5 4.2zM339.9 297.7l2.5-4.2-2.5-4.2-2.5 4.2zM340 298.7l2.5-4.2-2.5-4.2-2.5 4.2zM340.1 299.3l2.5-4.2-2.5-4.2-2.5 4.2zM340.2 299.5l2.5-4.2-2.5-4.2-2.5 4.2zM340.3 299.1l2.5-4.2-2.5-4.2-2.5 4.2zM340.4 299.1l2.5-4.2-2.5-4.2-2.5 4.2zM340.5 299.8l2.5-4.2-2.5-4.2-2.5 4.2zM340.7 297.2l2.5-4.2-2.5-4.2-2.5 4.2zM340.8 299l2.5-4.2-2.5-4.2-2.5 4.2zM340.9 299.1l2.5-4.2-2.5-4.2-2.5 4.2zM341 299.2l2.5-4.2-2.5-4.2-2.5 4.2zM341.1 298.9l2.5-4.2-2.5-4.2-2.5 4.2zM341.2 299.4l2.5-4.2-2.5-4.2-2.5 4.2zM341.3 298.6l2.5-4.2-2.5-4.2-2.5 4.2zM341.4 299.8l2.5-4.2-2.5-4.2-2.5 4.2zM341.6 297.7l2.5-4.2-2.5-4.2-2.5 4.2zM341.7 296.7l2.5-4.2-2.5-4.2-2.5 4.2zM341.8 299.2l2.5-4.2-2.5-4.2-2.5 4.2zM341.9 299.2l2.5-4.2-2.5-4.2-2.5 4.2zM342 297.7l2.5-4.2-2.5-4.2-2.5 4.2zM342.1 298.5l2.5-4.2-2.5-4.2-2.5 4.2zM342.2 299.9l2.5-4.2-2.5-4.2-2.5 4.2zM342.3 299.1l2.5-4.2-2.5-4.2-2.5 4.2zM342.5 297.6l2.5-4.2-2.5-4.2-2.5 4.2zM342.6 299.5l2.5-4.2-2.5-4.2-2.5 4.2zM342.7 299.2l2.5-4.2-2.5-4.2-2.5 4.2zM342.8 299.2l2.5-4.2-2.5-4.2-2.5 4.2zM342.9 297.5l2.5-4.2-2.5-4.2-2.5 4.2zM343 297.5l2.5-4.2-2.5-4.2-2.5 4.2zM343.1 298.4l2.5-4.2-2.5-4.2-2.5 4.2zM343.3 299.1l2.5-4.2-2.5-4.2-2.5 4.2zM343.4 299.8l2.5-4.2-2.5-4.2-2.5 4.2zM343.5 297.6l2.5-4.2-2.5-4.2-2.5 4.2zM343.6 299.5l2.5-4.2-2.5-4.2-2.5 4.2zM343.7 299.1l2.5-4.2-2.5-4.2-2.5 4.2zM343.8 297.7l2.5-4.2-2.5-4.2-2.5 4.2zM343.9 298.9l2.5-4.2-2.5-4.2-2.5 4.2zM344 299l2.5-4.2-2.5-4.2-2.5 4.2zM344.2 296.8l2.5-4.2-2.5-4.2-2.5 4.2zM344.3 299.2l2.5-4.2-2.5-4.2-2.5 4.2zM344.4 299.2l2.5-4.2-2.5-4.2-2.5 4.2zM344.5 298.6l2.5-4.2-2.5-4.2-2.5 4.2zM344.6 298.6l2.5-4.2-2.5-4.2-2.5 4.2zM344.7 299.5l2.5-4.2-2.5-4.2-2.5 4.2zM344.8 297.8l2.5-4.2-2.5-4.2-2.5 4.2zM344.9 296.8l2.5-4.2-2.5-4.2-2.5 4.2zM345.1 299l2.5-4.2-2.5-4.2-2.5 4.2zM345.2 297.5l2.5-4.2-2.5-4.2-2.5 4.2zM345.3 297.9l2.5-4.2-2.5-4.2-2.5 4.2zM345.4 297.3l2.5-4.2-2.5-4.2-2.5 4.2zM345.5 299.5l2.5-4.2-2.5-4.2-2.5 4.2zM345.6 299.9l2.5-4.2-2.5-4.2-2.5 4.2zM345.7 298.8l2.5-4.2-2.5-4.2-2.5 4.2zM345.8 298.4l2.5-4.2-2.5-4.2-2.5 4.2zM346 299.7l2.5-4.2-2.5-4.2-2.5 4.2zM346.1 299.4l2.5-4.2-2.5-4.2-2.5 4.2zM346.2 298.6l2.5-4.2-2.5-4.2-2.5 4.2zM346.3 299.2l2.5-4.2-2.5-4.2-2.5 4.2zM346.4 297.7l2.5-4.2-2.5-4.2-2.5 4.2zM346.5 299.2l2.5-4.2-2.5-4.2-2.5 4.2zM346.6 299.9l2.5-4.2-2.5-4.2-2.5 4.2zM346.7 298.7l2.5-4.2-2.5-4.2-2.5 4.2zM346.9 299.7l2.5-4.2-2.5-4.2-2.5 4.2zM347 299.2l2.5-4.2-2.5-4.2-2.5 4.2zM347.1 299.2l2.5-4.2-2.5-4.2-2.5 4.2zM347.2 297.6l2.5-4.2-2.5-4.2-2.5 4.2zM347.3 297.6l2.5-4.2-2.5-4.2-2.5 4.2zM347.4 298.8l2.5-4.2-2.5-4.2-2.5 4.2zM347.5 299.5l2.5-4.2-2.5-4.2-2.5 4.2zM347.6 297.7l2.5-4.2-2.5-4.2-2.5 4.2zM347.8 297.7l2.5-4.2-2.5-4.2-2.5 4.2zM347.9 298.2l2.5-4.2-2.5-4.2-2.5 4.2zM348 299.7l2.5-4.2-2.5-4.2-2.5 4.2zM348.1 298.4l2.5-4.2-2.5-4.2-2.5 4.2zM348.2 298.8l2.5-4.2-2.5-4.2-2.5 4.2zM348.3 299.4l2.5-4.2-2.5-4.2-2.5 4.2zM348.4 298.8l2.5-4.2-2.5-4.2-2.5 4.2zM348.5 298l2.5-4.2-2.5-4.2-2.5 4.2zM348.7 299.3l2.5-4.2-2.5-4.2-2.5 4.2zM348.8 297.7l2.5-4.2-2.5-4.2-2.5 4.2zM348.9 299.2l2.5-4.2-2.5-4.2-2.5 4.2zM349 299.3l2.5-4.2-2.5-4.2-2.5 4.2zM349.1 299.8l2.5-4.2-2.5-4.2-2.5 4.2zM349.2 299.9l2.5-4.2-2.5-4.2-2.5 4.2zM349.3 299.7l2.5-4.2-2.5-4.2-2.5 4.2zM349.5 297.3l2.5-4.2-2.5-4.2-2.5 4.2zM349.6 297.5l2.5-4.2-2.5-4.2-2.5 4.2zM349.7 299.8l2.5-4.2-2.5-4.2-2.5 4.2zM349.8 299.3l2.5-4.2-2.5-4.2-2.5 4.2zM349.9 296.6l2.5-4.2-2.5-4.2-2.5 4.2zM350 298.5l2.5-4.2-2.5-4.2-2.5 4.2zM350.1 297.1l2.5-4.2-2.5-4.2-2.5 4.2zM350.2 297.6l2.5-4.2-2.5-4.2-2.5 4.2zM350.4 299.1l2.5-4.2-2.5-4.2-2.5 4.2zM350.5 296.7l2.5-4.2-2.5-4.2-2.5 4.2zM350.6 299.5l2.5-4.2-2.5-4.2-2.5 4.2zM350.7 299.4l2.5-4.2-2.5-4.2-2.5 4.2zM350.8 298.4l2.5-4.2-2.5-4.2-2.5 4.2zM350.9 299.6l2.5-4.2-2.5-4.2-2.5 4.2zM351 299.8l2.5-4.2-2.5-4.2-2.5 4.2zM351.1 299.2l2.5-4.2-2.5-4.2-2.5 4.2zM351.3 299.8l2.5-4.2-2.5-4.2-2.5 4.2zM351.4 298.8l2.5-4.2-2.5-4.2-2.5 4.2zM351.5 299.7l2.5-4.2-2.5-4.2-2.5 4.2zM351.6 298.9l2.5-4.2-2.5-4.2-2.5 4.2zM351.7 299.7l2.5-4.2-2.5-4.2-2.5 4.2zM351.8 298.8l2.5-4.2-2.5-4.2-2.5 4.2zM351.9 296.9l2.5-4.2-2.5-4.2-2.5 4.2zM352 296.8l2.5-4.2-2.5-4.2-2.5 4.2zM352.2 299.1l2.5-4.2-2.5-4.2-2.5 4.2zM352.3 299.8l2.5-4.2-2.5-4.2-2.5 4.2zM352.4 299.2l2.5-4.2-2.5-4.2-2.5 4.2zM352.5 299.2l2.5-4.2-2.5-4.2-2.5 4.2zM352.6 298.8l2.5-4.2-2.5-4.2-2.5 4.2zM352.7 299.7l2.5-4.2-2.5-4.2-2.5 4.2zM352.8 296.7l2.5-4.2-2.5-4.2-2.5 4.2zM352.9 297.4l2.5-4.2-2.5-4.2-2.5 4.2zM353.1 298.9l2.5-4.2-2.5-4.2-2.5 4.2zM353.2 299.2l2.5-4.2-2.5-4.2-2.5 4.2zM353.3 297.6l2.5-4.2-2.5-4.2-2.5 4.2zM353.4 299.7l2.5-4.2-2.5-4.2-2.5 4.2zM353.5 298.3l2.5-4.2-2.5-4.2-2.5 4.2zM353.6 299.2l2.5-4.2-2.5-4.2-2.5 4.2zM353.7 296.7l2.5-4.2-2.5-4.2-2.5 4.2zM353.8 298.2l2.5-4.2-2.5-4.2-2.5 4.2zM354 298.7l2.5-4.2-2.5-4.2-2.5 4.2zM354.1 298.9l2.5-4.2-2.5-4.2-2.5 4.2zM354.2 297.6l2.5-4.2-2.5-4.2-2.5 4.2zM354.3 298.8l2.5-4.2-2.5-4.2-2.5 4.2zM354.4 296.6l2.5-4.2-2.5-4.2-2.5 4.2zM354.5 299.2l2.5-4.2-2.5-4.2-2.5 4.2zM354.6 298.9l2.5-4.2-2.5-4.2-2.5 4.2zM354.7 299.7l2.5-4.2-2.5-4.2-2.5 4.2zM354.9 299.9l2.5-4.2-2.5-4.2-2.5 4.2zM355 298.9l2.5-4.2-2.5-4.2-2.5 4.2zM355.1 299.9l2.5-4.2-2.5-4.2-2.5 4.2zM355.2 298l2.5-4.2-2.5-4.2-2.5 4.2zM355.3 299.8l2.5-4.2-2.5-4.2-2.5 4.2zM355.4 298.8l2.5-4.2-2.5-4.2-2.5 4.2zM355.5 298.5l2.5-4.2-2.5-4.2-2.5 4.2zM355.7 297.7l2.5-4.2-2.5-4.2-2.5 4.2zM355.8 299.3l2.5-4.2-2.5-4.2-2.5 4.2zM355.9 297.7l2.5-4.2-2.5-4.2-2.5 4.2zM356 298.9l2.5-4.2-2.5-4.2-2.5 4.2zM356.1 297.7l2.5-4.2-2.5-4.2-2.5 4.2zM356.2 299.1l2.5-4.2-2.5-4.2-2.5 4.2zM356.3 297.8l2.5-4.2-2.5-4.2-2.5 4.2zM356.4 299.8l2.5-4.2-2.5-4.2-2.5 4.2zM356.6 298.1l2.5-4.2-2.5-4.2-2.5 4.2zM356.7 298.5l2.5-4.2-2.5-4.2-2.5 4.2zM356.8 298.9l2.5-4.2-2.5-4.2-2.5 4.2zM356.9 296.6l2.5-4.2-2.5-4.2-2.5 4.2zM357 297.4l2.5-4.2-2.5-4.2-2.5 4.2zM357.1 299.5l2.5-4.2-2.5-4.2-2.5 4.2zM357.2 298.2l2.5-4.2-2.5-4.2-2.5 4.2zM357.3 299.4l2.5-4.2-2.5-4.2-2.5 4.2zM357.5 298.3l2.5-4.2-2.5-4.2-2.5 4.2zM357.6 299.6l2.5-4.2-2.5-4.2-2.5 4.2zM357.7 297.8l2.5-4.2-2.5-4.2-2.5 4.2zM357.8 297l2.5-4.2-2.5-4.2-2.5 4.2zM357.9 299.6l2.5-4.2-2.5-4.2-2.5 4.2zM358 299l2.5-4.2-2.5-4.2-2.5 4.2zM358.1 298.2l2.5-4.2-2.5-4.2-2.5 4.2zM358.2 298.1l2.5-4.2-2.5-4.2-2.5 4.2zM358.4 296.9l2.5-4.2-2.5-4.2-2.5 4.2zM358.5 298.7l2.5-4.2-2.5-4.2-2.5 4.2zM358.6 298l2.5-4.2-2.5-4.2-2.5 4.2zM358.7 297.4l2.5-4.2-2.5-4.2-2.5 4.2zM358.8 296.7l2.5-4.2-2.5-4.2-2.5 4.2zM358.9 299.6l2.5-4.2-2.5-4.2-2.5 4.2zM359 298.1l2.5-4.2-2.5-4.2-2.5 4.2zM359.1 299.1l2.5-4.2-2.5-4.2-2.5 4.2zM359.3 299.8l2.5-4.2-2.5-4.2-2.5 4.2zM359.4 297.4l2.5-4.2-2.5-4.2-2.5 4.2zM359.5 298.1l2.5-4.2-2.5-4.2-2.5 4.2zM359.6 299.1l2.5-4.2-2.5-4.2-2.5 4.2zM359.7 298.9l2.5-4.2-2.5-4.2-2.5 4.2zM359.8 299.6l2.5-4.2-2.5-4.2-2.5 4.2zM359.9 299.5l2.5-4.2-2.5-4.2-2.5 4.2zM360 299.7l2.5-4.2-2.5-4.2-2.5 4.2zM360.2 299.1l2.5-4.2-2.5-4.2-2.5 4.2zM360.3 299.4l2.5-4.2-2.5-4.2-2.5 4.2zM360.4 298.1l2.5-4.2-2.5-4.2-2.5 4.2zM360.5 297.9l2.5-4.2-2.5-4.2-2.5 4.2zM360.6 298.1l2.5-4.2-2.5-4.2-2.5 4.2zM360.7 299l2.5-4.2-2.5-4.2-2.5 4.2zM360.8 299.5l2.5-4.2-2.5-4.2-2.5 4.2zM360.9 299.8l2.5-4.2-2.5-4.2-2.5 4.2zM361.1 298.8l2.5-4.2-2.5-4.2-2.5 4.2zM361.2 299.2l2.5-4.2-2.5-4.2-2.5 4.2zM361.3 298.4l2.5-4.2-2.5-4.2-2.5 4.2zM361.4 299l2.5-4.2-2.5-4.2-2.5 4.2zM361.5 297.4l2.5-4.2-2.5-4.2-2.5 4.2zM361.6 297.9l2.5-4.2-2.5-4.2-2.5 4.2zM361.7 297.8l2.5-4.2-2.5-4.2-2.5 4.2zM361.9 299.7l2.5-4.2-2.5-4.2-2.5 4.2zM362 298.4l2.5-4.2-2.5-4.2-2.5 4.2zM362.1 298.5l2.5-4.2-2.5-4.2-2.5 4.2zM362.2 299.5l2.5-4.2-2.5-4.2-2.5 4.2zM362.3 299.9l2.5-4.2-2.5-4.2-2.5 4.2zM362.4 299.8l2.5-4.2-2.5-4.2-2.5 4.2zM362.5 298.9l2.5-4.2-2.5-4.2-2.5 4.2zM362.6 299.2l2.5-4.2-2.5-4.2-2.5 4.2zM362.8 299.7l2.5-4.2-2.5-4.2-2.5 4.2zM362.9 296.6l2.5-4.2-2.5-4.2-2.5 4.2zM363 299l2.5-4.2-2.5-4.2-2.5 4.2zM363.1 297.9l2.5-4.2-2.5-4.2-2.5 4.2zM363.2 299.4l2.5-4.2-2.5-4.2-2.5 4.2zM363.3 299.6l2.5-4.2-2.5-4.2-2.5 4.2zM363.4 299.8l2.5-4.2-2.5-4.2-2.5 4.2zM363.5 298.9l2.5-4.2-2.5-4.2-2.5 4.2zM363.7 299.1l2.5-4.2-2.5-4.2-2.5 4.2zM363.8 299.3l2.5-4.2-2.5-4.2-2.5 4.2zM363.9 299.1l2.5-4.2-2.5-4.2-2.5 4.2zM364 297.8l2.5-4.2-2.5-4.2-2.5 4.2zM364.1 298.8l2.5-4.2-2.5-4.2-2.5 4.2zM364.2 299.8l2.5-4.2-2.5-4.2-2.5 4.2zM364.3 299.5l2.5-4.2-2.5-4.2-2.5 4.2zM364.4 297.7l2.5-4.2-2.5-4.2-2.5 4.2zM364.6 299.8l2.5-4.2-2.5-4.2-2.5 4.2zM364.7 297.9l2.5-4.2-2.5-4.2-2.5 4.2zM364.8 297.5l2.5-4.2-2.5-4.2-2.5 4.2zM364.9 298.6l2.5-4.2-2.5-4.2-2.5 4.2zM365 299.7l2.5-4.2-2.5-4.2-2.5 4.2zM365.1 298.6l2.5-4.2-2.5-4.2-2.5 4.2zM365.2 297.5l2.5-4.2-2.5-4.2-2.5 4.2zM365.3 299.6l2.5-4.2-2.5-4.2-2.5 4.2zM365.5 299.9l2.5-4.2-2.5-4.2-2.5 4.2zM365.6 299.1l2.5-4.2-2.5-4.2-2.5 4.2zM365.7 299l2.5-4.2-2.5-4.2-2.5 4.2zM365.8 299.3l2.5-4.2-2.5-4.2-2.5 4.2zM365.9 299.2l2.5-4.2-2.5-4.2-2.5 4.2zM366 299l2.5-4.2-2.5-4.2-2.5 4.2zM366.1 299.2l2.5-4.2-2.5-4.2-2.5 4.2zM366.2 299l2.5-4.2-2.5-4.2-2.5 4.2zM366.4 298.7l2.5-4.2-2.5-4.2-2.5 4.2zM366.5 297.8l2.5-4.2-2.5-4.2-2.5 4.2zM366.6 299.1l2.5-4.2-2.5-4.2-2.5 4.2zM366.7 298.5l2.5-4.2-2.5-4.2-2.5 4.2zM366.8 299.2l2.5-4.2-2.5-4.2-2.5 4.2zM366.9 298.1l2.5-4.2-2.5-4.2-2.5 4.2zM367 299.2l2.5-4.2-2.5-4.2-2.5 4.2zM367.1 298.9l2.5-4.2-2.5-4.2-2.5 4.2zM367.3 297.9l2.5-4.2-2.5-4.2-2.5 4.2zM367.4 297.7l2.5-4.2-2.5-4.2-2.5 4.2zM367.5 299.4l2.5-4.2-2.5-4.2-2.5 4.2zM367.6 298.4l2.5-4.2-2.5-4.2-2.5 4.2zM367.7 299.1l2.5-4.2-2.5-4.2-2.5 4.2zM367.8 299.6l2.5-4.2-2.5-4.2-2.5 4.2zM367.9 298.6l2.5-4.2-2.5-4.2-2.5 4.2zM368.1 297.1l2.5-4.2-2.5-4.2-2.5 4.2zM368.2 299.9l2.5-4.2-2.5-4.2-2.5 4.2zM368.3 298.4l2.5-4.2-2.5-4.2-2.5 4.2zM368.4 299l2.5-4.2-2.5-4.2-2.5 4.2zM368.5 298.5l2.5-4.2-2.5-4.2-2.5 4.2zM368.6 299.4l2.5-4.2-2.5-4.2-2.5 4.2zM368.7 298.7l2.5-4.2-2.5-4.2-2.5 4.2zM368.8 298.7l2.5-4.2-2.5-4.2-2.5 4.2zM369 299.7l2.5-4.2-2.5-4.2-2.5 4.2zM369.1 298.5l2.5-4.2-2.5-4.2-2.5 4.2zM369.2 297.7l2.5-4.2-2.5-4.2-2.5 4.2zM369.3 298.7l2.5-4.2-2.5-4.2-2.5 4.2zM369.4 298.2l2.5-4.2-2.5-4.2-2.5 4.2zM369.5 299.1l2.5-4.2-2.5-4.2-2.5 4.2zM369.6 298.5l2.5-4.2-2.5-4.2-2.5 4.2zM369.7 298.7l2.5-4.2-2.5-4.2-2.5 4.2zM369.9 299.1l2.5-4.2-2.5-4.2-2.5 4.2zM370 299.1l2.5-4.2-2.5-4.2-2.5 4.2zM370.1 298.3l2.5-4.2-2.5-4.2-2.5 4.2zM370.2 297.4l2.5-4.2-2.5-4.2-2.5 4.2zM370.3 297.9l2.5-4.2-2.5-4.2-2.5 4.2zM370.4 298.6l2.5-4.2-2.5-4.2-2.5 4.2zM370.5 299.4l2.5-4.2-2.5-4.2-2.5 4.2zM370.6 297.7l2.5-4.2-2.5-4.2-2.5 4.2zM370.8 299.8l2.5-4.2-2.5-4.2-2.5 4.2zM370.9 297.4l2.5-4.2-2.5-4.2-2.5 4.2zM371 299.9l2.5-4.2-2.5-4.2-2.5 4.2zM371.1 296.7l2.5-4.2-2.5-4.2-2.5 4.2zM371.2 297.7l2.5-4.2-2.5-4.2-2.5 4.2zM371.3 298l2.5-4.2-2.5-4.2-2.5 4.2zM371.4 297.9l2.5-4.2-2.5-4.2-2.5 4.2zM371.5 297.9l2.5-4.2-2.5-4.2-2.5 4.2zM371.7 299.4l2.5-4.2-2.5-4.2-2.5 4.2zM371.8 299.1l2.5-4.2-2.5-4.2-2.5 4.2zM371.9 299.3l2.5-4.2-2.5-4.2-2.5 4.2zM372 297.9l2.5-4.2-2.5-4.2-2.5 4.2zM372.1 299l2.5-4.2-2.5-4.2-2.5 4.2zM372.2 298.9l2.5-4.2-2.5-4.2-2.5 4.2zM372.3 299l2.5-4.2-2.5-4.2-2.5 4.2zM372.4 298l2.5-4.2-2.5-4.2-2.5 4.2zM372.6 299.3l2.5-4.2-2.5-4.2-2.5 4.2zM372.7 298.6l2.5-4.2-2.5-4.2-2.5 4.2zM372.8 298.6l2.5-4.2-2.5-4.2-2.5 4.2zM372.9 296.6l2.5-4.2-2.5-4.2-2.5 4.2zM373 298l2.5-4.2-2.5-4.2-2.5 4.2zM373.1 299.5l2.5-4.2-2.5-4.2-2.5 4.2zM373.2 298.2l2.5-4.2-2.5-4.2-2.5 4.2zM373.3 296.8l2.5-4.2-2.5-4.2-2.5 4.2zM373.5 299.4l2.5-4.2-2.5-4.2-2.5 4.2zM373.6 298.9l2.5-4.2-2.5-4.2-2.5 4.2zM373.7 299.4l2.5-4.2-2.5-4.2-2.5 4.2zM373.8 299.8l2.5-4.2-2.5-4.2-2.5 4.2zM373.9 298.5l2.5-4.2-2.5-4.2-2.5 4.2zM374 296.6l2.5-4.2-2.5-4.2-2.5 4.2zM374.1 298.9l2.5-4.2-2.5-4.2-2.5 4.2zM374.3 299.9l2.5-4.2-2.5-4.2-2.5 4.2zM374.4 299.9l2.5-4.2-2.5-4.2-2.5 4.2zM374.5 299.8l2.5-4.2-2.5-4.2-2.5 4.2zM374.6 299.5l2.5-4.2-2.5-4.2-2.5 4.2zM374.7 299.6l2.5-4.2-2.5-4.2-2.5 4.2zM374.8 299.5l2.5-4.2-2.5-4.2-2.5 4.2zM374.9 297.7l2.5-4.2-2.5-4.2-2.5 4.2zM375 299.7l2.5-4.2-2.5-4.2-2.5 4.2zM375.2 297.5l2.5-4.2-2.5-4.2-2.5 4.2zM375.3 299.2l2.5-4.2-2.5-4.2-2.5 4.2zM375.4 299.7l2.5-4.2-2.5-4.2-2.5 4.2zM375.5 298.8l2.5-4.2-2.5-4.2-2.5 4.2zM375.6 299.2l2.5-4.2-2.5-4.2-2.5 4.2zM375.7 298.6l2.5-4.2-2.5-4.2-2.5 4.2zM375.8 296.8l2.5-4.2-2.5-4.2-2.5 4.2zM375.9 297.8l2.5-4.2-2.5-4.2-2.5 4.2zM376.1 299.5l2.5-4.2-2.5-4.2-2.5 4.2zM376.2 298.6l2.5-4.2-2.5-4.2-2.5 4.2zM376.3 299.5l2.5-4.2-2.5-4.2-2.5 4.2zM376.4 298.3l2.5-4.2-2.5-4.2-2.5 4.2zM376.5 297.1l2.5-4.2-2.5-4.2-2.5 4.2zM376.6 298.8l2.5-4.2-2.5-4.2-2.5 4.2zM376.7 298.8l2.5-4.2-2.5-4.2-2.5 4.2zM376.8 298.1l2.5-4.2-2.5-4.2-2.5 4.2zM377 299.1l2.5-4.2-2.5-4.2-2.5 4.2zM377.1 298.1l2.5-4.2-2.5-4.2-2.5 4.2zM377.2 299.6l2.5-4.2-2.5-4.2-2.5 4.2zM377.3 297.3l2.5-4.2-2.5-4.2-2.5 4.2zM377.4 297.5l2.5-4.2-2.5-4.2-2.5 4.2zM377.5 296.6l2.5-4.2-2.5-4.2-2.5 4.2zM377.6 298l2.5-4.2-2.5-4.2-2.5 4.2zM377.7 299l2.5-4.2-2.5-4.2-2.5 4.2zM377.9 297.4l2.5-4.2-2.5-4.2-2.5 4.2zM378 299.5l2.5-4.2-2.5-4.2-2.5 4.2zM378.1 297.2l2.5-4.2-2.5-4.2-2.5 4.2zM378.2 299.2l2.5-4.2-2.5-4.2-2.5 4.2zM378.3 299.1l2.5-4.2-2.5-4.2-2.5 4.2zM378.4 299.6l2.5-4.2-2.5-4.2-2.5 4.2zM378.5 299l2.5-4.2-2.5-4.2-2.5 4.2zM378.6 299.9l2.5-4.2-2.5-4.2-2.5 4.2zM378.8 297.4l2.5-4.2-2.5-4.2-2.5 4.2zM378.9 299.4l2.5-4.2-2.5-4.2-2.5 4.2zM379 299.9l2.5-4.2-2.5-4.2-2.5 4.2zM379.1 298.3l2.5-4.2-2.5-4.2-2.5 4.2zM379.2 298l2.5-4.2-2.5-4.2-2.5 4.2zM379.3 299l2.5-4.2-2.5-4.2-2.5 4.2zM379.4 299.8l2.5-4.2-2.5-4.2-2.5 4.2zM379.5 299.4l2.5-4.2-2.5-4.2-2.5 4.2zM379.7 299.8l2.5-4.2-2.5-4.2-2.5 4.2zM379.8 298.4l2.5-4.2-2.5-4.2-2.5 4.2zM379.9 297.5l2.5-4.2-2.5-4.2-2.5 4.2zM380 298.9l2.5-4.2-2.5-4.2-2.5 4.2zM380.1 299.4l2.5-4.2-2.5-4.2-2.5 4.2zM380.2 299.1l2.5-4.2-2.5-4.2-2.5 4.2zM380.3 299.4l2.5-4.2-2.5-4.2-2.5 4.2zM380.5 296.7l2.5-4.2-2.5-4.2-2.5 4.2zM380.6 298.2l2.5-4.2-2.5-4.2-2.5 4.2zM380.7 297.5l2.5-4.2-2.5-4.2-2.5 4.2zM380.8 297.2l2.5-4.2-2.5-4.2-2.5 4.2zM380.9 298.5l2.5-4.2-2.5-4.2-2.5 4.2zM381 299l2.5-4.2-2.5-4.2-2.5 4.2zM381.1 296.9l2.5-4.2-2.5-4.2-2.5 4.2zM381.2 297.1l2.5-4.2-2.5-4.2-2.5 4.2zM381.4 298.9l2.5-4.2-2.5-4.2-2.5 4.2zM381.5 299.3l2.5-4.2-2.5-4.2-2.5 4.2zM381.6 297.4l2.5-4.2-2.5-4.2-2.5 4.2zM381.7 299.6l2.5-4.2-2.5-4.2-2.5 4.2zM381.8 299.4l2.5-4.2-2.5-4.2-2.5 4.2zM381.9 299.5l2.5-4.2-2.5-4.2-2.5 4.2zM382 299.1l2.5-4.2-2.5-4.2-2.5 4.2zM382.1 299.2l2.5-4.2-2.5-4.2-2.5 4.2zM382.3 299.2l2.5-4.2-2.5-4.2-2.5 4.2zM382.4 299.4l2.5-4.2-2.5-4.2-2.5 4.2zM382.5 296.8l2.5-4.2-2.5-4.2-2.5 4.2zM382.6 297.8l2.5-4.2-2.5-4.2-2.5 4.2zM382.7 297.4l2.5-4.2-2.5-4.2-2.5 4.2zM382.8 296.7l2.5-4.2-2.5-4.2-2.5 4.2zM382.9 298.8l2.5-4.2-2.5-4.2-2.5 4.2zM383 299.3l2.5-4.2-2.5-4.2-2.5 4.2zM383.2 296.7l2.5-4.2-2.5-4.2-2.5 4.2zM383.3 299.9l2.5-4.2-2.5-4.2-2.5 4.2zM383.4 297.8l2.5-4.2-2.5-4.2-2.5 4.2zM383.5 298.1l2.5-4.2-2.5-4.2-2.5 4.2zM383.6 299.8l2.5-4.2-2.5-4.2-2.5 4.2zM383.7 299.6l2.5-4.2-2.5-4.2-2.5 4.2zM383.8 298.1l2.5-4.2-2.5-4.2-2.5 4.2zM383.9 298.8l2.5-4.2-2.5-4.2-2.5 4.2zM384.1 298.5l2.5-4.2-2.5-4.2-2.5 4.2zM384.2 299.4l2.5-4.2-2.5-4.2-2.5 4.2zM384.3 298.3l2.5-4.2-2.5-4.2-2.5 4.2zM384.4 299.3l2.5-4.2-2.5-4.2-2.5 4.2zM384.5 299.1l2.5-4.2-2.5-4.2-2.5 4.2zM384.6 299.8l2.5-4.2-2.5-4.2-2.5 4.2zM384.7 299.7l2.5-4.2-2.5-4.2-2.5 4.2zM384.8 297.8l2.5-4.2-2.5-4.2-2.5 4.2zM385 299l2.5-4.2-2.5-4.2-2.5 4.2zM385.1 297l2.5-4.2-2.5-4.2-2.5 4.2zM385.2 299.2l2.5-4.2-2.5-4.2-2.5 4.2zM385.3 299.3l2.5-4.2-2.5-4.2-2.5 4.2zM385.4 299l2.5-4.2-2.5-4.2-2.5 4.2zM385.5 298.9l2.5-4.2-2.5-4.2-2.5 4.2zM385.6 298l2.5-4.2-2.5-4.2-2.5 4.2zM385.7 298.1l2.5-4.2-2.5-4.2-2.5 4.2zM385.9 297.8l2.5-4.2-2.5-4.2-2.5 4.2zM386 296.6l2.5-4.2-2.5-4.2-2.5 4.2zM386.1 298.5l2.5-4.2-2.5-4.2-2.5 4.2zM386.2 299.5l2.5-4.2-2.5-4.2-2.5 4.2zM386.3 299.1l2.5-4.2-2.5-4.2-2.5 4.2zM386.4 299.1l2.5-4.2-2.5-4.2-2.5 4.2zM386.5 297.4l2.5-4.2-2.5-4.2-2.5 4.2zM386.7 298l2.5-4.2-2.5-4.2-2.5 4.2zM386.8 299.2l2.5-4.2-2.5-4.2-2.5 4.2zM386.9 299.2l2.5-4.2-2.5-4.2-2.5 4.2zM387 297.3l2.5-4.2-2.5-4.2-2.5 4.2zM387.1 298.7l2.5-4.2-2.5-4.2-2.5 4.2zM387.2 298.4l2.5-4.2-2.5-4.2-2.5 4.2zM387.3 296.5l2.5-4.2-2.5-4.2-2.5 4.2zM387.4 299.1l2.5-4.2-2.5-4.2-2.5 4.2zM387.6 299.6l2.5-4.2-2.5-4.2-2.5 4.2zM387.7 297.8l2.5-4.2-2.5-4.2-2.5 4.2zM387.8 299.5l2.5-4.2-2.5-4.2-2.5 4.2zM387.9 297.6l2.5-4.2-2.5-4.2-2.5 4.2zM388 299.5l2.5-4.2-2.5-4.2-2.5 4.2zM388.1 297.8l2.5-4.2-2.5-4.2-2.5 4.2zM388.2 297.4l2.5-4.2-2.5-4.2-2.5 4.2zM388.3 299l2.5-4.2-2.5-4.2-2.5 4.2zM388.5 298.2l2.5-4.2-2.5-4.2-2.5 4.2zM388.6 297.9l2.5-4.2-2.5-4.2-2.5 4.2zM388.7 299.4l2.5-4.2-2.5-4.2-2.5 4.2zM388.8 298.4l2.5-4.2-2.5-4.2-2.5 4.2zM388.9 296.5l2.5-4.2-2.5-4.2-2.5 4.2zM389 299.1l2.5-4.2-2.5-4.2-2.5 4.2zM389.1 299.5l2.5-4.2-2.5-4.2-2.5 4.2zM389.2 298.8l2.5-4.2-2.5-4.2-2.5 4.2zM389.4 299.6l2.5-4.2-2.5-4.2-2.5 4.2zM389.5 296.9l2.5-4.2-2.5-4.2-2.5 4.2zM389.6 296.8l2.5-4.2-2.5-4.2-2.5 4.2zM389.7 299.8l2.5-4.2-2.5-4.2-2.5 4.2zM389.8 299l2.5-4.2-2.5-4.2-2.5 4.2zM389.9 298.3l2.5-4.2-2.5-4.2-2.5 4.2zM390 299.8l2.5-4.2-2.5-4.2-2.5 4.2zM390.1 298.8l2.5-4.2-2.5-4.2-2.5 4.2zM390.3 297.5l2.5-4.2-2.5-4.2-2.5 4.2zM390.4 298.3l2.5-4.2-2.5-4.2-2.5 4.2zM390.5 296.5l2.5-4.2-2.5-4.2-2.5 4.2zM390.6 299.1l2.5-4.2-2.5-4.2-2.5 4.2zM390.7 299.2l2.5-4.2-2.5-4.2-2.5 4.2zM390.8 297.9l2.5-4.2-2.5-4.2-2.5 4.2zM390.9 298.4l2.5-4.2-2.5-4.2-2.5 4.2zM391 299.5l2.5-4.2-2.5-4.2-2.5 4.2zM391.2 297.9l2.5-4.2-2.5-4.2-2.5 4.2zM391.3 298.5l2.5-4.2-2.5-4.2-2.5 4.2zM391.4 299.1l2.5-4.2-2.5-4.2-2.5 4.2zM391.5 298.6l2.5-4.2-2.5-4.2-2.5 4.2zM391.6 297.7l2.5-4.2-2.5-4.2-2.5 4.2zM391.7 298.3l2.5-4.2-2.5-4.2-2.5 4.2zM391.8 299.6l2.5-4.2-2.5-4.2-2.5 4.2zM391.9 297.2l2.5-4.2-2.5-4.2-2.5 4.2zM392.1 299.8l2.5-4.2-2.5-4.2-2.5 4.2zM392.2 297.6l2.5-4.2-2.5-4.2-2.5 4.2zM392.3 298.1l2.5-4.2-2.5-4.2-2.5 4.2zM392.4 297.8l2.5-4.2-2.5-4.2-2.5 4.2zM392.5 298.9l2.5-4.2-2.5-4.2-2.5 4.2zM392.6 298.5l2.5-4.2-2.5-4.2-2.5 4.2zM392.7 298.2l2.5-4.2-2.5-4.2-2.5 4.2zM392.9 299.8l2.5-4.2-2.5-4.2-2.5 4.2zM393 299.9l2.5-4.2-2.5-4.2-2.5 4.2zM393.1 297.9l2.5-4.2-2.5-4.2-2.5 4.2zM393.2 299.6l2.5-4.2-2.5-4.2-2.5 4.2zM393.3 298.9l2.5-4.2-2.5-4.2-2.5 4.2zM393.4 299.5l2.5-4.2-2.5-4.2-2.5 4.2zM393.5 299.5l2.5-4.2-2.5-4.2-2.5 4.2zM393.6 298.6l2.5-4.2-2.5-4.2-2.5 4.2zM393.8 299.6l2.5-4.2-2.5-4.2-2.5 4.2zM393.9 298.2l2.5-4.2-2.5-4.2-2.5 4.2zM394 299.1l2.5-4.2-2.5-4.2-2.5 4.2zM394.1 297.3l2.5-4.2-2.5-4.2-2.5 4.2zM394.2 298.2l2.5-4.2-2.5-4.2-2.5 4.2zM394.3 298l2.5-4.2-2.5-4.2-2.5 4.2zM394.4 297.6l2.5-4.2-2.5-4.2-2.5 4.2zM394.5 297.5l2.5-4.2-2.5-4.2-2.5 4.2zM394.7 298.8l2.5-4.2-2.5-4.2-2.5 4.2zM394.8 298.9l2.5-4.2-2.5-4.2-2.5 4.2zM394.9 299.8l2.5-4.2-2.5-4.2-2.5 4.2zM395 296.9l2.5-4.2-2.5-4.2-2.5 4.2zM395.1 299.3l2.5-4.2-2.5-4.2-2.5 4.2zM395.2 299.3l2.5-4.2-2.5-4.2-2.5 4.2zM395.3 298.2l2.5-4.2-2.5-4.2-2.5 4.2zM395.4 298.3l2.5-4.2-2.5-4.2-2.5 4.2zM395.6 299.9l2.5-4.2-2.5-4.2-2.5 4.2zM395.7 297.8l2.5-4.2-2.5-4.2-2.5 4.2zM395.8 298.2l2.5-4.2-2.5-4.2-2.5 4.2zM395.9 298.9l2.5-4.2-2.5-4.2-2.5 4.2zM396 299.3l2.5-4.2-2.5-4.2-2.5 4.2zM396.1 298.8l2.5-4.2-2.5-4.2-2.5 4.2zM396.2 296.9l2.5-4.2-2.5-4.2-2.5 4.2zM396.3 298.4l2.5-4.2-2.5-4.2-2.5 4.2zM396.5 298.3l2.5-4.2-2.5-4.2-2.5 4.2zM396.6 299l2.5-4.2-2.5-4.2-2.5 4.2zM396.7 299l2.5-4.2-2.5-4.2-2.5 4.2zM396.8 297.7l2.5-4.2-2.5-4.2-2.5 4.2zM396.9 299.6l2.5-4.2-2.5-4.2-2.5 4.2zM397 297.9l2.5-4.2-2.5-4.2-2.5 4.2zM397.1 298.5l2.5-4.2-2.5-4.2-2.5 4.2zM397.2 296.5l2.5-4.2-2.5-4.2-2.5 4.2zM397.4 298.9l2.5-4.2-2.5-4.2-2.5 4.2zM397.5 299.9l2.5-4.2-2.5-4.2-2.5 4.2zM397.6 298.5l2.5-4.2-2.5-4.2-2.5 4.2zM397.7 299.1l2.5-4.2-2.5-4.2-2.5 4.2zM397.8 299.7l2.5-4.2-2.5-4.2-2.5 4.2zM397.9 298.1l2.5-4.2-2.5-4.2-2.5 4.2zM398 299.1l2.5-4.2-2.5-4.2-2.5 4.2zM398.1 297.5l2.5-4.2-2.5-4.2-2.5 4.2zM398.3 298.4l2.5-4.2-2.5-4.2-2.5 4.2zM398.4 299.6l2.5-4.2-2.5-4.2-2.5 4.2zM398.5 297.9l2.5-4.2-2.5-4.2-2.5 4.2zM398.6 298l2.5-4.2-2.5-4.2-2.5 4.2zM398.7 297.2l2.5-4.2-2.5-4.2-2.5 4.2zM398.8 298.9l2.5-4.2-2.5-4.2-2.5 4.2zM398.9 298.8l2.5-4.2-2.5-4.2-2.5 4.2zM399.1 299.6l2.5-4.2-2.5-4.2-2.5 4.2z" style="fill: #008000; stroke: #008000; stroke-linejoin: miter" /></g></g><g id="line2d_23"><g clip-path="url(#p02d3b5d28dr)"><path d="M73.8 293.4h0M74 294.2h0M74.1 294.2h0M74.3 294.8h0M74.4 294.6h0M74.6 294.9h0M74.7 295.1h0M74.9 294.5h0M75 293.6h0M75.2 293.9h0M75.3 293.5h0M75.5 293.6h0M75.6 294.5h0M75.8 293.5h0M75.9 295.2h0M76.1 294.7h0M76.2 294.5h0M76.4 295.2h0M76.5 293.7h0M76.7 293.3h0M76.8 295h0M77 293.5h0M77.1 294.2h0M77.3 294.2h0M77.4 293.9h0M77.6 294.5h0M77.7 295.3h0M77.9 295.2h0M78 293.6h0M78.2 292.3h0M78.3 293.5h0M78.5 294.1h0M78.6 289.6h0M78.8 294h0M78.9 294.4h0M79.1 294.6h0M79.2 294.4h0M79.4 293.7h0M79.5 293.6h0M79.7 294.5h0M79.8 294.8h0M80 294.2h0M80.1 295h0M80.3 294.4h0M80.4 293.8h0M80.6 294.1h0M80.7 294.9h0M80.9 293.8h0M81 293.6h0M81.2 293.8h0M81.3 294.4h0M81.5 294.1h0M81.6 295h0M81.8 293.3h0M81.9 294.2h0M82.1 294.1h0M82.2 295h0M82.4 294.6h0M82.6 294.2h0M82.7 293.7h0M82.9 294h0M83 294.2h0M83.2 293.4h0M83.3 295.1h0M83.5 293.4h0M83.6 294.1h0M83.8 294.5h0M83.9 293.8h0M84.1 294.3h0M84.2 294.7h0M84.4 293.5h0M84.5 295.2h0M84.7 294.5h0M84.8 294.1h0M85 294.1h0M85.1 293.5h0M85.3 293.7h0M85.4 294.8h0M85.6 293.4h0M85.7 293.6h0M85.9 293.4h0M86 293.6h0M86.2 295h0M86.3 295.1h0M86.5 294.6h0M86.6 293.7h0M86.8 295.2h0M86.9 294h0M87.1 294.7h0M87.2 293.6h0M87.4 295.3h0M87.5 294.7h0M87.7 293.4h0M87.8 293.8h0M88 294.6h0M88.1 294h0M88.3 294.8h0M88.4 293.4h0M88.6 294.6h0M88.7 294.5h0M88.9 294.9h0M89 293.8h0M89.2 294.3h0M89.3 294.1h0M89.5 294.6h0M89.6 294.1h0M89.8 294.4h0M89.9 293.3h0M90.1 294.5h0M90.2 294.8h0M90.4 293.8h0M90.5 294.8h0M90.7 294.6h0M90.8 293.8h0M91 294.5h0M91.1 294.4h0M91.3 293.7h0M91.4 293.6h0M91.6 293.5h0M91.7 295.1h0M91.9 293.9h0M92 293.6h0M92.2 294.1h0M92.3 294.5h0M92.5 295.2h0M92.6 294.4h0M92.8 293.8h0M92.9 293.1h0M93.1 294.3h0M93.2 294.1h0M93.4 293.8h0M93.5 294.1h0M93.7 295.3h0M93.8 293.9h0M94 294.5h0M94.1 294.8h0M94.3 294h0M94.4 294.9h0M94.6 294h0M94.7 293.4h0M94.9 293.6h0M95 294.1h0M95.2 294.2h0M95.3 293.6h0M95.5 294.4h0M95.6 295.3h0M95.8 294.8h0M95.9 294.8h0M96.1 294h0M96.2 294.9h0M96.4 295.3h0M96.5 294.3h0M96.7 294.9h0M96.8 294.1h0M97 295.2h0M97.1 294.7h0M97.3 294.8h0M97.4 294.9h0M97.6 294.9h0M97.7 295.2h0M97.9 293.9h0M98 293.5h0M98.2 293.7h0M98.3 293.9h0M98.5 295h0M98.6 293.8h0M98.8 294.2h0M98.9 295.3h0M99.1 293.6h0M99.2 293.9h0M99.4 295.2h0M99.5 294h0M99.7 294.9h0M99.8 294.2h0M100 294.7h0M100.1 293.9h0M100.3 294.3h0M100.4 294.9h0M100.6 294.2h0M100.7 295.3h0M100.9 294.9h0M101 293.9h0M101.2 295.3h0M101.3 291.1h0M101.5 293.7h0M101.6 294.8h0M101.8 294.4h0M101.9 294.3h0M102.1 293.9h0M102.2 294.7h0M102.4 294h0M102.5 293.7h0M102.7 294.1h0M102.8 294.7h0M103 294.3h0M103.1 294.2h0M103.3 295.1h0M103.4 294.1h0M103.6 293.8h0M103.7 295.1h0M103.9 294.2h0M104 290.3h0M104.2 294.2h0M104.3 294h0M104.5 294.5h0M104.6 294.7h0M104.8 293.5h0M104.9 293.7h0M105.1 295h0M105.2 294.7h0M105.4 294.7h0M105.5 293.6h0M105.7 295.3h0M105.8 294.7h0M106 293.6h0M106.1 295h0M106.3 295.2h0M106.4 294.3h0M106.6 293.6h0M106.7 293.3h0M106.9 293.3h0M107 294.4h0M107.2 293.4h0M107.4 293.7h0M107.5 295.1h0M107.7 293.5h0M107.8 293.4h0M108 293.4h0M108.1 294.8h0M108.3 295.1h0M108.4 293.4h0M108.6 294.6h0M108.7 293.9h0M108.9 293.4h0M109 294.7h0M109.2 293.5h0M109.3 294.7h0M109.5 294.3h0M109.6 295h0M109.8 294.4h0M109.9 293.6h0M110.1 294.5h0M110.2 294.6h0M110.4 293.6h0M110.5 293.8h0M110.7 294.2h0M110.8 294.7h0M111 294.7h0M111.1 293.5h0M111.3 294.3h0M111.4 293.4h0M111.6 294.1h0M111.7 294.6h0M111.9 294h0M112 293.4h0M112.2 294h0M112.3 294.9h0M112.5 293.8h0M112.6 295h0M112.8 294h0M112.9 294.3h0M113.1 294.8h0M113.2 293.4h0M113.4 293.3h0M113.5 294.4h0M113.7 293.9h0M113.8 295.1h0M114 293.9h0M114.1 293.9h0M114.3 294h0M114.4 293.9h0M114.6 294.6h0M114.7 294.1h0M114.9 293.7h0M115 295.2h0M115.2 294.3h0M115.3 295h0M115.5 294.6h0M115.6 293.7h0M115.8 294.8h0M115.9 293.9h0M116.1 294.3h0M116.2 293.6h0M116.4 294h0M116.5 294.5h0M116.7 295.2h0M116.8 294.5h0M117 293.8h0M117.1 295.3h0M117.3 294.4h0M117.4 294.2h0M117.6 295h0M117.7 293.7h0M117.9 293.8h0M118 295.3h0M118.2 295.2h0M118.3 294.3h0M118.5 293.9h0M118.6 294h0M118.8 294.1h0M118.9 293.7h0M119.1 294.8h0M119.2 294.5h0M119.4 294.1h0M119.5 294.2h0M119.7 293.5h0M119.8 293.7h0M120 293.8h0M120.1 293.6h0M120.3 294.3h0M120.4 294.7h0M120.6 294.6h0M120.7 294.7h0M120.9 293.9h0M121 293.4h0M121.2 295.2h0M121.3 294.9h0M121.5 294.1h0M121.6 294.1h0M121.8 294.2h0M121.9 293.9h0M122.1 289.9h0M122.2 295h0M122.4 294.8h0M122.5 295.3h0M122.7 294.9h0M122.8 294.9h0M123 294.1h0M123.1 292.1h0M123.3 293.4h0M123.4 293.4h0M123.6 293.8h0M123.7 294.8h0M123.9 294.3h0M124 293.7h0M124.2 294.2h0M124.3 294.2h0M124.5 294.7h0M124.6 294.9h0M124.8 293.7h0M124.9 295.3h0M125.1 295h0M125.2 294.3h0M125.4 295.3h0M125.5 293.4h0M125.7 295.1h0M125.8 294.4h0M126 295h0M126.1 294.9h0M126.3 295.3h0M126.4 293.5h0M126.6 295h0M126.7 294.1h0M126.9 293.9h0M127 295.3h0M127.2 294.2h0M127.3 294.6h0M127.5 294.8h0M127.6 295.1h0M127.8 295.2h0M127.9 294.5h0M128.1 293.4h0M128.2 293.9h0M128.4 293.6h0M128.5 293.4h0M128.7 294.8h0M128.8 294.4h0M129 293.4h0M129.1 293.6h0M129.3 294.8h0M129.4 293.4h0M129.6 293.4h0M129.7 293.5h0M129.9 294h0M130 294.7h0M130.2 293.8h0M130.3 294h0M130.5 293.9h0M130.6 295.3h0M130.8 294.4h0M130.9 294.8h0M131.1 293.5h0M131.2 295.2h0M131.4 294.5h0M131.5 294h0M131.7 293.9h0M131.8 294.8h0M132 295.1h0M132.2 293.7h0M132.3 294.6h0M132.5 294.7h0M132.6 293.7h0M132.8 294.9h0M132.9 295.3h0M133.1 293.4h0M133.2 294.1h0M133.4 294.3h0M133.5 295h0M133.7 295.2h0M133.8 293.6h0M134 294h0M134.1 294.5h0M134.3 295.2h0M134.4 294.5h0M134.6 295.3h0M134.7 293.4h0M134.9 294.3h0M135 293.7h0M135.2 294.3h0M135.3 293.6h0M135.5 294.2h0M135.6 295.2h0M135.8 295.2h0M135.9 294.5h0M136.1 294.2h0M136.2 293.8h0M136.4 293.6h0M136.5 294h0M136.7 294.5h0M136.8 295.3h0M137 294h0M137.1 295.3h0M137.3 294.7h0M137.4 294.1h0M137.6 293.6h0M137.7 293.7h0M137.9 295h0M138 294.1h0M138.2 293.4h0M138.3 293.7h0M138.5 294.8h0M138.6 294.5h0M138.8 295.1h0M138.9 294.5h0M139.1 292.3h0M139.2 294.1h0M139.4 295.1h0M139.5 294.2h0M139.7 293.8h0M139.8 293.4h0M140 295.1h0M140.1 293.5h0M140.3 293.4h0M140.4 294.2h0M140.6 294.6h0M140.7 293.7h0M140.9 293.5h0M141 295.2h0M141.2 294.4h0M141.3 294.6h0M141.5 294.9h0M141.6 295.2h0M141.8 294.1h0M141.9 295.1h0M142.1 293.4h0M142.2 295h0M142.4 294.5h0M142.5 294.1h0M142.7 293.5h0M142.8 294h0M143 295.2h0M143.1 295.1h0M143.3 293.5h0M143.4 293.7h0M143.6 294.1h0M143.7 294.1h0M143.9 294.8h0M144 294.1h0M144.2 294.2h0M144.3 293.5h0M144.5 294.5h0M144.6 295.1h0M144.8 294.2h0M144.9 291.1h0M145.1 294.3h0M145.2 294.7h0M145.4 295.2h0M145.5 293.8h0M145.7 294.4h0M145.8 294.2h0M146 293.7h0M146.1 293.8h0M146.3 294.1h0M146.4 294.8h0M146.6 293.6h0M146.7 295.1h0M146.9 294.2h0M147 294.1h0M147.2 293.5h0M147.3 293.5h0M147.5 293.5h0M147.6 293.5h0M147.8 294.1h0M147.9 293.6h0M148.1 294.4h0M148.2 294h0M148.4 295h0M148.5 294.6h0M148.7 293.6h0M148.8 293.7h0M149 294.9h0M149.1 294.3h0M149.3 294.5h0M149.4 293.8h0M149.6 294.3h0M149.7 293.6h0M149.9 295h0M150 293.7h0M150.2 293.9h0M150.3 294.5h0M150.5 294.6h0M150.6 294.2h0M150.8 293.6h0M150.9 294.1h0M151.1 294.6h0M151.2 293.7h0M151.4 293.6h0M151.5 293.5h0M151.7 294.6h0M151.8 295.2h0M152 293.7h0M152.1 293.7h0M152.3 293.9h0M152.4 293.5h0M152.6 294.3h0M152.7 293.4h0M152.9 294.9h0M153 294.2h0M153.2 294.5h0M153.3 294.6h0M153.5 294h0M153.6 294.8h0M153.8 294.1h0M153.9 294.9h0M154.1 294.6h0M154.2 295.2h0M154.4 294.9h0M154.5 293.4h0M154.7 295h0M154.8 294.8h0M155 295.2h0M155.1 294.1h0M155.3 294h0M155.4 294.7h0M155.6 293.7h0M155.7 295.2h0M155.9 294.3h0M156 293.9h0M156.2 294.3h0M156.3 294h0M156.5 295.2h0M156.6 295.1h0M156.8 294.1h0M157 295.2h0M157.1 293.8h0M157.3 294.9h0M157.4 295.2h0M157.6 293.6h0M157.7 293.4h0M157.9 293.9h0M158 294h0M158.2 294.1h0M158.3 294h0M158.5 294.6h0M158.6 289.7h0M158.8 293.7h0M158.9 294.5h0M159.1 295.2h0M159.2 293.5h0M159.4 294.3h0M159.5 294.8h0M159.7 295h0M159.8 295.1h0M160 293.5h0M160.1 294.5h0M160.3 295h0M160.4 295.2h0M160.6 295.2h0M160.7 294.4h0M160.9 291.8h0M161 293.6h0M161.2 294h0M161.3 293.5h0M161.5 295.1h0M161.6 294.3h0M161.8 294.3h0M161.9 293.9h0M162.1 294.1h0M162.2 293.9h0M162.4 293.8h0M162.5 294h0M162.7 293.7h0M162.8 293.9h0M163 295.2h0M163.1 293.8h0M163.3 294.7h0M163.4 295.3h0M163.6 293.4h0M163.7 294.5h0M163.9 293.5h0M164 295h0M164.2 294.8h0M164.3 295.2h0M164.5 295.1h0M164.6 294.2h0M164.8 294.7h0M164.9 294.7h0M165.1 294h0M165.2 294.1h0M165.4 294.5h0M165.5 293.6h0M165.7 294.3h0M165.8 294h0M166 295.2h0M166.1 294.2h0M166.3 293.8h0M166.4 294.1h0M166.6 294.6h0M166.7 294.3h0M166.9 293.4h0M167 294.8h0M167.2 293.4h0M167.3 294.2h0M167.5 294.7h0M167.6 295.3h0M167.8 295.3h0M167.9 294.5h0M168.1 294h0M168.2 294h0M168.4 293.5h0M168.5 293.6h0M168.7 293.6h0M168.8 294.3h0M169 295.2h0M169.1 294.4h0M169.3 295.2h0M169.4 294.2h0M169.6 295.1h0M169.7 294.1h0M169.9 293.4h0M170 293.7h0M170.2 292.3h0M170.3 294h0M170.5 294.3h0M170.6 293.7h0M170.8 294.7h0M170.9 294h0M171.1 294.8h0M171.2 295h0M171.4 293.9h0M171.5 295.3h0M171.7 294h0M171.8 294.9h0M172 293.3h0M172.1 295.2h0M172.3 294.3h0M172.4 293.5h0M172.6 294.1h0M172.7 293.5h0M172.9 293.8h0M173 293.6h0M173.2 294.2h0M173.3 293.4h0M173.5 294h0M173.6 294.3h0M173.8 294.1h0M173.9 290h0M174.1 294.9h0M174.2 293.6h0M174.4 293.5h0M174.5 294.9h0M174.7 294.4h0M174.8 294.2h0M175 294.9h0M175.1 294.3h0M175.3 294.4h0M175.4 295.3h0M175.6 294.3h0M175.7 294.3h0M175.9 295.2h0M176 293.8h0M176.2 294.3h0M176.3 294.9h0M176.5 293.4h0M176.6 293.4h0M176.8 294.6h0M176.9 289.5h0M177.1 294.1h0M177.2 294.1h0M177.4 293.4h0M177.5 293.4h0M177.7 294.4h0M177.8 293.5h0M178 290.6h0M178.1 295h0M178.3 294.9h0M178.4 294.6h0M178.6 295.3h0M178.7 295.2h0M178.9 294.6h0M179 294.3h0M179.2 294h0M179.3 294.4h0M179.5 295h0M179.6 294.7h0M179.8 293.7h0M179.9 294.5h0M180.1 295.3h0M180.2 295h0M180.4 293.6h0M180.5 294.9h0M180.7 294.4h0M180.8 295h0M181 294.6h0M181.1 294h0M181.3 295.1h0M181.4 294.5h0M181.6 293.5h0M181.8 294.4h0M181.9 294h0M182.1 293.6h0M182.2 293.4h0M182.4 293.9h0M182.5 293.4h0M182.7 294.9h0M182.8 293.9h0M183 293.5h0M183.1 294.1h0M183.3 293.9h0M183.4 294.1h0M183.6 293.4h0M183.7 294.2h0M183.9 294.5h0M184 294.1h0M184.2 295.1h0M184.3 294.3h0M184.5 294.6h0M184.6 295.1h0M184.8 290.8h0M184.9 294.6h0M185.1 294.8h0M185.2 294h0M185.4 293.4h0M185.5 295h0M185.7 295h0M185.8 294.7h0M186 294h0M186.1 295.3h0M186.3 294.4h0M186.4 294.7h0M186.6 295.2h0M186.7 295.1h0M186.9 294.3h0M187 294.4h0M187.2 294.1h0M187.3 293.6h0M187.5 294.6h0M187.6 294.6h0M187.8 294.9h0M187.9 294.4h0M188.1 293.6h0M188.2 294.6h0M188.4 294.9h0M188.5 293.9h0M188.7 293.3h0M188.8 294h0M189 293.8h0M189.1 293.4h0M189.3 294.9h0M189.4 294.2h0M189.6 293.7h0M189.7 293.7h0M189.9 294.7h0M190 294.5h0M190.2 295.2h0M190.3 293.8h0M190.5 294.2h0M190.6 294.9h0M190.8 294.6h0M190.9 295.1h0M191.1 293.5h0M191.2 293.8h0M191.4 294.3h0M191.5 294.9h0M191.7 293.9h0M191.8 294.5h0M192 294.5h0M192.1 294.9h0M192.3 294.1h0M192.4 294.4h0M192.6 293.7h0M192.7 293.9h0M192.9 294h0M193 295.1h0M193.2 294.2h0M193.3 293.4h0M193.5 294.5h0M193.6 291.4h0M193.8 293.8h0M193.9 295.1h0M194.1 293.8h0M194.2 293.4h0M194.4 293.6h0M194.5 294.2h0M194.7 294.8h0M194.8 293.6h0M195 294.9h0M195.1 293.5h0M195.3 293.6h0M195.4 294.9h0M195.6 294.3h0M195.7 293.7h0M195.9 293.4h0M196 293.8h0M196.2 294h0M196.3 295h0M196.5 294.9h0M196.6 295.2h0M196.8 293.5h0M196.9 294.8h0M197.1 294.6h0M197.2 293.7h0M197.4 289.6h0M197.5 293.9h0M197.7 294.1h0M197.8 294.7h0M198 294.9h0M198.1 294.5h0M198.3 295.3h0M198.4 295.1h0M198.6 294.3h0M198.7 294.4h0M198.9 294.1h0M199 294.7h0M199.2 294.4h0M199.3 294h0M199.5 293.5h0M199.6 294.7h0M199.8 293.6h0M199.9 295.1h0M200.1 294.7h0M200.2 295.1h0M200.4 294.6h0M200.5 294.7h0M200.7 294.5h0M200.8 294.3h0M201 295.1h0M201.1 293.3h0M201.3 294.4h0M201.4 295.2h0M201.6 294.4h0M201.7 294.9h0M201.9 294.4h0M202 294.8h0M202.2 294.6h0M202.3 294.2h0M202.5 293.4h0M202.6 295.1h0M202.8 294.2h0M202.9 293.5h0M203.1 294.4h0M203.2 293.8h0M203.4 294.8h0M203.5 294h0M203.7 293.6h0M203.8 293.8h0M204 294.6h0M204.1 293.6h0M204.3 293.5h0M204.4 294h0M204.6 295.3h0M204.7 294.1h0M204.9 294.6h0M205 295.3h0M205.2 294.8h0M205.3 294.3h0M205.5 293.4h0M205.6 294.7h0M205.8 293.8h0M205.9 294.3h0M206.1 294.7h0M206.2 293.8h0M206.4 295.2h0M206.6 293.9h0M206.7 294.3h0M206.9 295h0M207 293.8h0M207.2 295.2h0M207.3 294.2h0M207.5 295.1h0M207.6 295.3h0M207.8 294.2h0M207.9 293.5h0M208.1 294h0M208.2 295h0M208.4 293.4h0M208.5 293.9h0M208.7 293.4h0M208.8 293.9h0M209 293.4h0M209.1 293.9h0M209.3 294.9h0M209.4 293.9h0M209.6 295.2h0M209.7 294h0M209.9 294.9h0M210 293.7h0M210.2 293.4h0M210.3 295.3h0M210.5 295.1h0M210.6 294.3h0M210.8 294.9h0M210.9 294.5h0M211.1 295.1h0M211.2 294.5h0M211.4 295h0M211.5 294h0M211.7 293.7h0M211.8 295h0M212 294.8h0M212.1 294.7h0M212.3 294.5h0M212.4 294.3h0M212.6 290.1h0M212.7 293.8h0M212.9 294h0M213 293.6h0M213.2 295.2h0M213.3 294.7h0M213.5 293.6h0M213.6 295h0M213.8 293.5h0M213.9 293.7h0M214.1 293.5h0M214.2 294.2h0M214.4 295.2h0M214.5 295.1h0M214.7 295.2h0M214.8 294.9h0M215 295.1h0M215.1 293.7h0M215.3 294h0M215.4 294.4h0M215.6 294.7h0M215.7 293.5h0M215.9 295.3h0M216 294.9h0M216.2 293.8h0M216.3 294.3h0M216.5 295.2h0M216.6 293.8h0M216.8 295.1h0M216.9 294.4h0M217.1 293.5h0M217.2 293.3h0M217.4 293.5h0M217.5 294.2h0M217.7 294.6h0M217.8 294.2h0M218 294.8h0M218.1 294.6h0M218.3 293.9h0M218.4 293.4h0M218.6 293.5h0M218.7 293.4h0M218.9 295.3h0M219 294.8h0M219.2 293.7h0M219.3 293.4h0M219.5 293.7h0M219.6 293.3h0M219.8 294.3h0M219.9 293.5h0M220.1 295.1h0M220.2 293.8h0M220.4 295.2h0M220.5 295h0M220.7 294.5h0M220.8 294.2h0M221 294h0M221.1 294.3h0M221.3 293.8h0M221.4 294.2h0M221.6 293.5h0M221.7 293.9h0M221.9 293.7h0M222 293.9h0M222.2 295h0M222.3 294.4h0M222.5 293.6h0M222.6 294.5h0M222.8 295.3h0M222.9 294.9h0M223.1 294.5h0M223.2 294h0M223.4 294.1h0M223.5 294.5h0M223.7 294.1h0M223.8 294.7h0M224 294.2h0M224.1 295h0M224.3 294.7h0M224.4 295.3h0M224.6 295.3h0M224.7 295.3h0M224.9 293.6h0M225 293.6h0M225.2 295.3h0M225.3 294.6h0M225.5 294.2h0M225.6 294.2h0M225.8 294.7h0M225.9 294.1h0M226.1 294.8h0M226.2 294.9h0M226.4 295h0M226.5 293.7h0M226.7 293.5h0M226.8 295.2h0M227 294.4h0M227.1 293.9h0M227.3 295.2h0M227.4 293.7h0M227.6 295.1h0M227.7 293.9h0M227.9 293.7h0M228 291.8h0M228.2 293.4h0M228.3 293.5h0M228.5 293.8h0M228.6 293.7h0M228.8 294h0M228.9 294.8h0M229.1 295.3h0M229.2 293.9h0M229.4 294.4h0M229.5 294.2h0M229.7 295.2h0M229.8 293.9h0M230 294.6h0M230.1 293.5h0M230.3 293.4h0M230.4 295h0M230.6 294.5h0M230.7 294.8h0M230.9 294.5h0M231 293.9h0M231.2 295.3h0M231.4 294.8h0M231.5 295h0M231.7 294.5h0M231.8 293.4h0M232 294.8h0M232.1 293.8h0M232.3 294.3h0M232.4 294.5h0M232.6 294.9h0M232.7 294.4h0M232.9 294.9h0M233 295.2h0M233.2 294.3h0M233.3 293.5h0M233.5 295.2h0M233.6 293.9h0M233.8 294.3h0M233.9 295.3h0M234.1 294.7h0M234.2 294.1h0M234.4 294.5h0M234.5 294.1h0M234.7 293.4h0M234.8 294h0M235 294h0M235.1 293.8h0M235.3 295.3h0M235.4 293.4h0M235.6 293.9h0M235.7 294.1h0M235.9 294.9h0M236 293.8h0M236.2 294.2h0M236.3 295.2h0M236.5 294.2h0M236.6 294h0M236.8 293.5h0M236.9 294.5h0M237.1 294.5h0M237.2 294.2h0M237.4 293.4h0M237.5 294.2h0M237.7 294.3h0M237.8 294.4h0M238 294.9h0M238.1 294.2h0M238.3 294.3h0M238.4 293.4h0M238.6 294.1h0M238.7 293.4h0M238.9 290.3h0M239 293.4h0M239.2 294.8h0M239.3 294.5h0M239.5 293.8h0M239.6 293.4h0M239.8 294.9h0M239.9 293.6h0M240.1 293.5h0M240.2 294.7h0M240.4 293.4h0M240.5 294.8h0M240.7 293.9h0M240.8 294.2h0M241 294.6h0M241.1 294.4h0M241.3 294.3h0M241.4 295.3h0M241.6 294.6h0M241.7 294.8h0M241.9 293.8h0M242 295.2h0M242.2 293.9h0M242.3 293.9h0M242.5 293.5h0M242.6 294.5h0M242.8 294.2h0M242.9 293.9h0M243.1 294.1h0M243.2 294.7h0M243.4 293.8h0M243.5 293.8h0M243.7 294.1h0M243.8 293.5h0M244 294.3h0M244.1 294.3h0M244.3 295h0M244.4 294.1h0M244.6 295.3h0M244.7 294.1h0M244.9 293.8h0M245 294h0M245.2 293.5h0M245.3 294.9h0M245.5 293.6h0M245.6 293.7h0M245.8 294h0M245.9 293.3h0M246.1 293.9h0M246.2 294.8h0M246.4 293.8h0M246.5 295.1h0M246.7 295.3h0M246.8 295.1h0M247 294.1h0M247.1 294.9h0M247.3 295.1h0M247.4 294h0M247.6 294.1h0M247.7 294.2h0M247.9 294h0M248 294.7h0M248.2 293.4h0M248.3 294.3h0M248.5 295.2h0M248.6 294.7h0M248.8 295.3h0M248.9 293.7h0M249.1 295.3h0M249.2 295.1h0M249.4 294.3h0M249.5 294.7h0M249.7 293.6h0M249.8 293.9h0M250 293.9h0M250.1 293.5h0M250.3 294.1h0M250.4 293.5h0M250.6 293.9h0M250.7 294.7h0M250.9 293.5h0M251 295h0M251.2 293.8h0M251.3 294.4h0M251.5 294.2h0M251.6 295.2h0M251.8 293.7h0M251.9 294.9h0M252.1 295.2h0M252.2 294h0M252.4 293.7h0M252.5 293.7h0M252.7 293.8h0M252.8 293.8h0M253 293.8h0M253.1 295h0M253.3 294.4h0M253.4 293.6h0M253.6 295.3h0M253.7 294.3h0M253.9 294.9h0M254 294.1h0M254.2 294.7h0M254.3 293.4h0M254.5 295h0M254.6 294.6h0M254.8 295.1h0M254.9 293.9h0M255.1 293.6h0M255.2 294.3h0M255.4 294.3h0M255.5 295.1h0M255.7 294.3h0M255.8 294.6h0M256 293.9h0M256.2 294.3h0M256.3 294.3h0M256.5 293.6h0M256.6 293.5h0M256.8 294.7h0M256.9 293.6h0M257.1 294.2h0M257.2 293.6h0M257.4 294.5h0M257.5 294.5h0M257.7 294.3h0M257.8 295.3h0M258 293.5h0M258.1 293.3h0M258.3 295.1h0M258.4 294h0M258.6 294.1h0M258.7 294.8h0M258.9 295.3h0M259 295h0M259.2 294.7h0M259.3 294h0M259.5 295h0M259.6 295.3h0M259.8 295.1h0M259.9 294h0M260.1 294.3h0M260.2 294.4h0M260.4 293.4h0M260.5 295h0M260.7 293.9h0M260.8 294.6h0M261 293.6h0M261.1 293.6h0M261.3 294.4h0M261.4 295.2h0M261.6 294h0M261.7 293.8h0M261.9 294.4h0M262 293.5h0M262.2 293.9h0M262.3 294.2h0M262.5 294.3h0M262.6 294.9h0M262.8 293.8h0M262.9 295.1h0M263.1 294.9h0M263.2 293.7h0M263.4 293.4h0M263.5 294h0M263.7 294.2h0M263.8 294.5h0M264 293.8h0M264.1 294.2h0M264.3 294.9h0M264.4 294.7h0M264.6 293.6h0M264.7 293.8h0M264.9 295h0M265 294.5h0M265.2 294h0M265.3 294.6h0M265.5 294.2h0M265.6 295.2h0M265.8 293.8h0M265.9 294h0M266.1 294.8h0M266.2 293.3h0M266.4 295.2h0M266.5 294.6h0M266.7 294h0M266.8 294.1h0M267 294.9h0M267.1 293.6h0M267.3 294.5h0M267.4 294.2h0M267.6 293.9h0M267.7 294.7h0M267.9 294.4h0M268 295h0M268.2 294.3h0M268.3 294.1h0M268.5 293.8h0M268.6 295h0M268.8 293.4h0M268.9 294.6h0M269.1 294.9h0M269.2 294.1h0M269.4 295.1h0M269.5 294.6h0M269.7 295.2h0M269.8 294.4h0M270 295h0M270.1 293.5h0M270.3 294.5h0M270.4 295.2h0M270.6 294.2h0M270.7 293.3h0M270.9 295.3h0M271 295h0M271.2 293.7h0M271.3 294.2h0M271.5 293.9h0M271.6 290.7h0M271.8 293.9h0M271.9 294.2h0M272.1 294.1h0M272.2 293.5h0M272.4 294.6h0M272.5 294.9h0M272.7 294.9h0M272.8 293.8h0M273 293.9h0M273.1 293.4h0M273.3 293.4h0M273.4 293.7h0M273.6 293.7h0M273.7 293.6h0M273.9 294.9h0M274 295.3h0M274.2 293.4h0M274.3 293.6h0M274.5 295.2h0M274.6 295h0M274.8 294.2h0M274.9 295.1h0M275.1 294.2h0M275.2 293.6h0M275.4 293.5h0M275.5 295h0M275.7 293.5h0M275.8 293.8h0M276 294.7h0M276.1 295.1h0M276.3 294h0M276.4 293.3h0M276.6 295h0M276.7 293.7h0M276.9 294.3h0M277 294.8h0M277.2 294.6h0M277.3 295.1h0M277.5 294.3h0M277.6 293.9h0M277.8 294.9h0M277.9 295.1h0M278.1 294.1h0M278.2 295h0M278.4 294.4h0M278.5 294.8h0M278.7 293.4h0M278.8 294.6h0M279 294h0M279.1 294h0M279.3 293.4h0M279.4 294.4h0M279.6 293.4h0M279.7 294h0M279.9 295.2h0M280 294.6h0M280.2 293.5h0M280.3 294.8h0M280.5 295h0M280.6 294.6h0M280.8 294.7h0M281 294h0M281.1 293.6h0M281.3 294.6h0M281.4 295.2h0M281.6 294.9h0M281.7 293.4h0M281.9 295h0M282 294.6h0M282.2 295.1h0M282.3 294.6h0M282.5 294.3h0M282.6 293.4h0M282.8 294.5h0M282.9 294.2h0M283.1 293.6h0M283.2 293.6h0M283.4 295.3h0M283.5 293.6h0M283.7 293.6h0M283.8 293.5h0M284 293.8h0M284.1 294.7h0M284.3 291h0M284.4 294.2h0M284.6 294.9h0M284.7 293.7h0M284.9 295.2h0M285 293.9h0M285.2 295.1h0M285.3 294.6h0M285.5 293.3h0M285.6 295.1h0M285.8 295.1h0M285.9 295.1h0M286.1 294.8h0M286.2 294.3h0M286.4 294.6h0M286.5 293.9h0M286.7 293.7h0M286.8 295h0M287 294.8h0M287.1 295.3h0M287.3 294.6h0M287.4 295.3h0M287.6 294.8h0M287.7 294.1h0M287.9 293.8h0M288 294.9h0M288.2 295.2h0M288.3 294.3h0M288.5 294.9h0M288.6 294.9h0M288.8 294.9h0M288.9 293.4h0M289.1 293.4h0M289.2 294.7h0M289.4 295.1h0M289.5 294.9h0M289.7 294.3h0M289.8 295h0M290 293.8h0M290.1 294.1h0M290.3 293.8h0M290.4 294.7h0M290.6 294.1h0M290.7 294.6h0M290.9 293.5h0M291 293.6h0M291.2 294.6h0M291.3 294.4h0M291.5 294h0M291.6 294.2h0M291.8 294.1h0M291.9 294.7h0M292.1 294.7h0M292.2 293.4h0M292.4 294.4h0M292.5 295.2h0M292.7 295.2h0M292.8 295h0M293 295.1h0M293.1 294.1h0M293.3 293.4h0M293.4 294.1h0M293.6 293.3h0M293.7 294.7h0M293.9 293.5h0M294 294.6h0M294.2 293.9h0M294.3 294.8h0M294.5 294.8h0M294.6 294.7h0M294.8 295.1h0M294.9 293.8h0M295.1 295.3h0M295.2 293.6h0M295.4 295.2h0M295.5 294.7h0M295.7 293.7h0M295.8 294.1h0M296 294.2h0M296.1 294.5h0M296.3 294.3h0M296.4 294.4h0M296.6 294.2h0M296.7 294.6h0M296.9 294.2h0M297 294.5h0M297.2 293.8h0M297.3 293.6h0M297.5 293.6h0M297.6 294.2h0M297.8 295.1h0M297.9 294.6h0M298.1 294.2h0M298.2 294.6h0M298.4 295.1h0M298.5 293.6h0M298.7 293.7h0M298.8 293.8h0M299 294.3h0M299.1 294h0M299.3 294.4h0M299.4 295.3h0M299.6 293.6h0M299.7 294.3h0M299.9 295.3h0M300 294.3h0M300.2 294.1h0M300.3 294.6h0M300.5 294.8h0M300.6 294.7h0M300.8 293.7h0M300.9 295h0M301.1 293.9h0M301.2 295.1h0M301.4 294.5h0M301.5 294.6h0M301.7 294.9h0M301.8 294.8h0M302 294.5h0M302.1 294.8h0M302.3 293.9h0M302.4 294.8h0M302.6 290.6h0M302.7 294h0M302.9 293.6h0M303 294.9h0M303.2 294h0M303.3 294.5h0M303.5 295.3h0M303.6 293.5h0M303.8 293.8h0M303.9 294.9h0M304.1 294.5h0M304.2 294.8h0M304.4 294h0M304.5 294.9h0M304.7 295.3h0M304.8 295.2h0M305 291.8h0M305.1 293.6h0M305.3 294.8h0M305.4 293.7h0M305.6 294h0M305.8 294.9h0M305.9 294h0M306.1 294.5h0M306.2 295.3h0M306.4 294.2h0M306.5 293.4h0M306.7 294.1h0M306.8 294.3h0M307 293.5h0M307.1 294.7h0M307.3 294.9h0M307.4 294.6h0M307.6 295h0M307.7 294.1h0M307.9 294.1h0M308 293.5h0M308.2 295h0M308.3 295.2h0M308.5 293.9h0M308.6 294.8h0M308.8 294h0M308.9 294.1h0M309.1 293.5h0M309.2 294.7h0M309.4 294.3h0M309.5 292.2h0M309.7 293.9h0M309.8 294.1h0M310 294.5h0M310.1 294.8h0M310.3 295.1h0M310.4 293.9h0M310.6 294.1h0M310.7 295.2h0M310.9 294.3h0M311 295h0M311.2 293.7h0M311.3 294.4h0M311.5 293.4h0M311.6 293.9h0M311.8 295.2h0M311.9 295h0M312.1 293.5h0M312.2 294.6h0M312.4 294.6h0M312.5 293.5h0M312.7 295.2h0M312.8 295.3h0M313 293.6h0M313.1 293.5h0M313.3 294.4h0M313.4 293.8h0M313.6 294.7h0M313.7 295h0M313.9 294.6h0M314 293.4h0M314.2 295.3h0M314.3 293.8h0M314.5 294.5h0M314.6 295h0M314.8 293.7h0M314.9 294.2h0M315.1 294.1h0M315.2 294.9h0M315.4 295.3h0M315.5 295.1h0M315.7 294.8h0M315.8 293.6h0M316 295.2h0M316.1 294.4h0M316.3 294.7h0M316.4 290.8h0M316.6 293.6h0M316.7 293.8h0M316.9 293.8h0M317 293.9h0M317.2 294.5h0M317.3 294.7h0M317.5 293.5h0M317.6 293.6h0M317.8 294.3h0M317.9 294.2h0M318.1 294.1h0M318.2 294.2h0M318.4 294.2h0M318.5 294.3h0M318.7 293.9h0M318.8 293.5h0M319 294.4h0M319.1 293.6h0M319.3 295h0M319.4 294.1h0M319.6 295.1h0M319.7 294.9h0M319.9 295.3h0M320 293.5h0M320.2 295.1h0M320.3 294.8h0M320.5 294h0M320.6 294.8h0M320.8 294.8h0M320.9 294.5h0M321.1 294.2h0M321.2 294.9h0M321.4 294.9h0M321.5 293.9h0M321.7 292.1h0M321.8 294.3h0M322 294.9h0M322.1 293.4h0M322.3 294.2h0M322.4 293.7h0M322.6 295.1h0M322.7 294.1h0M322.9 295.3h0M323 294.1h0M323.2 294.7h0M323.3 293.6h0M323.5 293.8h0M323.6 294.2h0M323.8 293.5h0M323.9 294.3h0M324.1 295h0M324.2 294.9h0M324.4 294h0M324.5 293.8h0M324.7 294.3h0M324.8 294.1h0M325 294.1h0M325.1 294.6h0M325.3 294.6h0M325.4 294.8h0M325.6 294.6h0M325.7 293.5h0M325.9 295.1h0M326 293.6h0M326.2 294.4h0M326.3 295h0M326.5 295h0M326.6 293.9h0M326.8 294.1h0M326.9 294.7h0M327.1 293.8h0M327.2 294.4h0M327.4 293.4h0M327.5 295h0M327.7 293.6h0M327.8 294.3h0M328 293.4h0M328.1 295h0M328.3 293.6h0M328.4 293.6h0M328.6 295h0M328.7 293.9h0M328.9 293.8h0M329 295.1h0M329.2 293.3h0M329.3 293.7h0M329.5 293.9h0M329.6 293.5h0M329.8 294.9h0M329.9 294.9h0M330.1 294.6h0M330.2 293.8h0M330.4 294.8h0M330.6 294.7h0M330.7 295h0M330.9 295h0M331 293.8h0M331.2 295h0M331.3 294.3h0M331.5 295.1h0M331.6 294.7h0M331.8 293.5h0M331.9 295.2h0M332.1 294.3h0M332.2 294.9h0M332.4 295.2h0M332.5 294.4h0M332.7 295.1h0M332.8 293.5h0M333 294.7h0M333.1 293.4h0M333.3 295.2h0M333.4 294.4h0M333.6 294.8h0M333.7 294.1h0M333.9 294.4h0M334 294.1h0M334.2 293.8h0M334.3 293.6h0M334.5 294h0M334.6 294.2h0M334.8 295.3h0M334.9 293.8h0M335.1 294h0M335.2 293.9h0M335.4 294.3h0M335.5 294.1h0M335.7 294.1h0M335.8 293.7h0M336 294.6h0M336.1 294.8h0M336.3 292.3h0M336.4 295.3h0M336.6 295.1h0M336.7 295.2h0M336.9 294.9h0M337 294.8h0M337.2 294.1h0M337.3 293.9h0M337.5 295.1h0M337.6 293.7h0M337.8 293.9h0M337.9 294.2h0M338.1 295.2h0M338.2 293.7h0M338.4 294.8h0M338.5 293.7h0M338.7 293.7h0M338.8 294.7h0M339 293.5h0M339.1 295.1h0M339.3 294.8h0M339.4 294.8h0M339.6 295.1h0M339.7 294.9h0M339.9 294.2h0M340 294.6h0M340.2 293.5h0M340.3 294.3h0M340.5 293.6h0M340.6 294.6h0M340.8 292.9h0M340.9 293.7h0M341.1 295.3h0M341.2 293.7h0M341.4 294.5h0M341.5 293.6h0M341.7 294h0M341.8 294.3h0M342 295.3h0M342.1 292.3h0M342.3 293.8h0M342.4 293.7h0M342.6 294.8h0M342.7 295.2h0M342.9 295.3h0M343 294.8h0M343.2 293.7h0M343.3 293.5h0M343.5 294.5h0M343.6 295.1h0M343.8 293.6h0M343.9 293.6h0M344.1 295.2h0M344.2 294.9h0M344.4 295.2h0M344.5 293.5h0M344.7 295.2h0M344.8 293.5h0M345 294.3h0M345.1 294.5h0M345.3 293.7h0M345.4 295.3h0M345.6 294.4h0M345.7 294.2h0M345.9 294.9h0M346 294.5h0M346.2 295.3h0M346.3 295.2h0M346.5 294.1h0M346.6 294.1h0M346.8 294.5h0M346.9 294.4h0M347.1 293.8h0M347.2 294.2h0M347.4 294.6h0M347.5 293.9h0M347.7 293.6h0M347.8 293.6h0M348 294.8h0M348.1 295.3h0M348.3 294.1h0M348.4 294.6h0M348.6 293.6h0M348.7 293.9h0M348.9 294.5h0M349 294.5h0M349.2 295.3h0M349.3 295.2h0M349.5 293.4h0M349.6 294.2h0M349.8 293.4h0M349.9 294h0M350.1 294.5h0M350.2 293.4h0M350.4 293.7h0M350.5 293.4h0M350.7 294h0M350.8 294.7h0M351 294.4h0M351.1 294.7h0M351.3 294h0M351.4 294.5h0M351.6 294.3h0M351.7 295.1h0M351.9 294.7h0M352 294.4h0M352.2 293.7h0M352.3 294.7h0M352.5 295.2h0M352.6 293.9h0M352.8 294.9h0M352.9 294.3h0M353.1 295.3h0M353.2 295.3h0M353.4 294.3h0M353.5 293.5h0M353.7 293.9h0M353.8 293.4h0M354 293.7h0M354.1 295.3h0M354.3 294.6h0M354.4 294.4h0M354.6 294.6h0M354.7 295.2h0M354.9 294h0M355 293.6h0M355.2 294.6h0M355.4 294.7h0M355.5 294.7h0M355.7 294.8h0M355.8 293.5h0M356 294.3h0M356.1 295h0M356.3 293.8h0M356.4 294.4h0M356.6 295.1h0M356.7 294.8h0M356.9 294.9h0M357 293.9h0M357.2 294.9h0M357.3 295.1h0M357.5 293.4h0M357.6 295.3h0M357.8 294h0M357.9 293.8h0M358.1 295.2h0M358.2 293.7h0M358.4 294.1h0M358.5 294.4h0M358.7 293.5h0M358.8 294.5h0M359 293.8h0M359.1 293.4h0M359.3 295.3h0M359.4 292.1h0M359.6 293.5h0M359.7 293.7h0M359.9 294.5h0M360 293.6h0M360.2 293.8h0M360.3 294.8h0M360.5 293.5h0M360.6 294h0M360.8 294.2h0M360.9 295.3h0M361.1 294h0M361.2 294.6h0M361.4 295.3h0M361.5 293.3h0M361.7 295h0M361.8 293.8h0M362 294.4h0M362.1 294.4h0M362.3 295h0M362.4 294.2h0M362.6 295.2h0M362.7 294.6h0M362.9 294.9h0M363 294h0M363.2 294.8h0M363.3 295h0M363.5 295.2h0M363.6 293.4h0M363.8 294.5h0M363.9 295h0M364.1 293.7h0M364.2 293.4h0M364.4 294.1h0M364.5 295.3h0M364.7 293.4h0M364.8 294.2h0M365 295.1h0M365.1 295.2h0M365.3 295.3h0M365.4 295.2h0M365.6 293.7h0M365.7 293.7h0M365.9 294.3h0M366 294.4h0M366.2 294.4h0M366.3 294.7h0M366.5 294h0M366.6 294.4h0M366.8 294.3h0M366.9 294.5h0M367.1 294.9h0M367.2 293.4h0M367.4 294.7h0M367.5 290.6h0M367.7 294.1h0M367.8 294.1h0M368 294.4h0M368.1 293.5h0M368.3 295.3h0M368.4 293.9h0M368.6 293.4h0M368.7 294.1h0M368.9 293.6h0M369 293.5h0M369.2 294.1h0M369.3 295.3h0M369.5 294.7h0M369.6 294.5h0M369.8 294.1h0M369.9 293.7h0M370.1 294.2h0M370.2 293.8h0M370.4 295.3h0M370.5 295.2h0M370.7 294.9h0M370.8 295.1h0M371 294.8h0M371.1 294.7h0M371.3 294.8h0M371.4 295.1h0M371.6 295.2h0M371.7 295h0M371.9 294.8h0M372 293.5h0M372.2 295.2h0M372.3 293.5h0M372.5 293.6h0M372.6 294.7h0M372.8 295.3h0M372.9 293.4h0M373.1 293.9h0M373.2 294h0M373.4 295.3h0M373.5 293.4h0M373.7 294.5h0M373.8 293.3h0M374 294.9h0M374.1 294.3h0M374.3 294.3h0M374.4 295.3h0M374.6 290.9h0M374.7 293.7h0M374.9 294.5h0M375 293.6h0M375.2 295.1h0M375.3 293.8h0M375.5 294.8h0M375.6 294.9h0M375.8 295h0M375.9 293.4h0M376.1 294.1h0M376.2 294.5h0M376.4 294.4h0M376.5 293.7h0M376.7 294.6h0M376.8 295.2h0M377 293.5h0M377.1 294.4h0M377.3 294.5h0M377.4 294.7h0M377.6 293.4h0M377.7 293.9h0M377.9 293.5h0M378 294.3h0M378.2 293.7h0M378.3 293.4h0M378.5 295.2h0M378.6 293.5h0M378.8 293.4h0M378.9 294.8h0M379.1 294.4h0M379.2 294.5h0M379.4 293.3h0M379.5 293.8h0M379.7 295.1h0M379.8 295h0M380 295.3h0M380.2 294.2h0M380.3 294.3h0M380.5 293.4h0M380.6 295.3h0M380.8 294.9h0M380.9 294.1h0M381.1 293.4h0M381.2 294.2h0M381.4 294.9h0M381.5 295h0M381.7 295.2h0M381.8 293.4h0M382 294h0M382.1 294.8h0M382.3 294.1h0M382.4 294.5h0M382.6 295.1h0M382.7 293.9h0M382.9 294h0M383 291.1h0M383.2 293.7h0M383.3 293.7h0M383.5 294h0M383.6 295.1h0M383.8 295.2h0M383.9 294.5h0M384.1 294.7h0M384.2 293.9h0M384.4 294.4h0M384.5 295.3h0M384.7 293.3h0M384.8 294.6h0M385 294h0M385.1 294.6h0M385.3 293.9h0M385.4 294.5h0M385.6 294.4h0M385.7 294.8h0M385.9 295.2h0M386 293.7h0M386.2 294.2h0M386.3 294.1h0M386.5 293.3h0M386.6 295h0M386.8 293.3h0M386.9 293.7h0M387.1 290.1h0M387.2 293.9h0M387.4 294.5h0M387.5 294.2h0M387.7 294.5h0M387.8 294.6h0M388 293.3h0M388.1 295.3h0M388.3 294.7h0M388.4 294.6h0M388.6 293.4h0M388.7 294.8h0M388.9 294.7h0M389 295.3h0M389.2 294.9h0M389.3 294.9h0M389.5 294.5h0M389.6 293.8h0M389.8 293.7h0M389.9 294.4h0M390.1 293.6h0M390.2 294h0M390.4 294.5h0M390.5 294.3h0M390.7 293.8h0M390.8 295.2h0M391 295.3h0M391.1 293.6h0M391.3 293.8h0M391.4 294.2h0M391.6 295.1h0M391.7 294.5h0M391.9 293.5h0M392 293.7h0M392.2 293.9h0M392.3 294.4h0M392.5 295.1h0M392.6 293.7h0M392.8 294.6h0M392.9 294.4h0M393.1 293.5h0M393.2 293.8h0M393.4 294.3h0M393.5 293.8h0M393.7 295h0M393.8 294.3h0M394 290.9h0M394.1 295.2h0M394.3 295.2h0M394.4 293.9h0M394.6 293.6h0M394.7 293.8h0M394.9 294.1h0M395 294.8h0M395.2 293.6h0M395.3 293.8h0M395.5 293.6h0M395.6 295.3h0M395.8 294.4h0M395.9 295h0M396.1 293.5h0M396.2 293.5h0M396.4 292.9h0M396.5 295h0M396.7 293.8h0M396.8 293.9h0M397 294.8h0M397.1 294.3h0M397.3 293.4h0M397.4 294.9h0M397.6 294.7h0M397.7 293.8h0M397.9 293.5h0M398 294.5h0M398.2 295.1h0M398.3 294h0M398.5 294.3h0M398.6 294.5h0M398.8 294.2h0M398.9 294.4h0M399.1 294.8h0M399.2 295.1h0M399.4 293.5h0M399.5 293.8h0M399.7 294.4h0M75.3 290.9h0M73.9 286.8h0M78.9 294.8h0M80.1 286.8h0M79.5 292.9h0M79.6 291.9h0M78.2 288h0M76.7 284.3h0M78.8 292.8h0M76.4 293.7h0M77.1 286.3h0M76.9 289h0M79.9 285.8h0M79.9 294.3h0M76.2 293.8h0M77.9 288.4h0M79.6 287.6h0M77.9 290.5h0M76.3 289.6h0M78.7 289.4h0M79.8 295.5h0M78.9 292.2h0M76.9 285.5h0M80.4 284.9h0M78.4 292.3h0M75.1 284.4h0M79.5 291.2h0M77.4 294.7h0M80 286h0M78.3 289.2h0M359.3 284.5h0M359.3 279.8h0M359.4 278h0M359.5 285.7h0M359.6 293.8h0M359.6 289.6h0M359.7 291.3h0M359.8 286.9h0M359.9 289h0M359.9 283.7h0M360 289.2h0M360.1 284.2h0M360.2 292h0M360.2 288h0M360.3 279.5h0M360.4 280.6h0M360.5 290.5h0M360.5 289.8h0M360.6 284.1h0M360.7 282.8h0M360.8 282.4h0M360.8 279.7h0M360.9 287.2h0M361 281.7h0M361.1 291.7h0M361.1 286.1h0M361.2 288.5h0M361.3 285.6h0M361.4 275.7h0M361.4 280.9h0M361.5 294.2h0M361.6 281.3h0M361.7 289.8h0M361.7 283.8h0M361.8 289.7h0M361.9 283.1h0M362 291.1h0M362 282.8h0M362.1 286.2h0M362.2 285.1h0M362.3 288.7h0M362.3 282.2h0M362.4 289.2h0M362.5 287.3h0M362.6 294.3h0M362.6 291.9h0M362.7 286.4h0M362.8 284.5h0M362.9 286.6h0M362.9 286.3h0M363 287h0M363.1 294.2h0M363.2 284.3h0M363.2 282.9h0M363.3 286.5h0M363.4 284.3h0M363.5 289.9h0M363.5 283.5h0M363.6 294.1h0M363.7 287.7h0M363.8 282.9h0M363.8 287.2h0M363.9 276.8h0M364 293.8h0M364.1 286.5h0M364.1 282.5h0M364.2 282.1h0M364.3 292.6h0M364.4 285h0M364.4 288.7h0M364.5 283.3h0M364.6 284.2h0M364.7 288.9h0M364.7 290.7h0M364.8 285.5h0M364.9 291.2h0M365 283.1h0M365 287.9h0M365.1 292.4h0M365.2 289.9h0M365.3 283.9h0M365.3 286.6h0M365.4 286.5h0M365.5 291.5h0M365.6 285.3h0M365.6 291.5h0M365.7 289.1h0M365.8 288.1h0M365.9 293.8h0M365.9 284.2h0M366 282.4h0M366.1 284.5h0M366.2 291.1h0M366.2 292.5h0M366.3 287.1h0M366.4 290.5h0M366.5 284.4h0M366.5 291h0M366.6 284.3h0M366.7 293.9h0M366.8 287.9h0M366.8 290.4h0M366.9 287.3h0M367 288.4h0M367.1 285.3h0M367.1 291.9h0M367.2 285.5h0M367.3 286.4h0M367.4 284.5h0M367.4 287.5h0M367.5 293.8h0M367.6 291.3h0M367.7 291.1h0M367.8 284.8h0M367.8 293.5h0M367.9 285.8h0M368 290.8h0M368.1 290.8h0M368.1 286.9h0M368.2 287.5h0M368.3 287.9h0M368.4 288.9h0M368.4 287.1h0M368.5 284.5h0M368.6 288h0M368.7 284.7h0M368.7 292.7h0M368.8 292h0M368.9 288.9h0M369 286.7h0M369 291h0M369.1 285.3h0M369.2 287.8h0M369.3 289h0M369.3 286.7h0M369.4 287.9h0M369.5 289.2h0M369.6 286.3h0M369.6 285h0M369.7 288.8h0M369.8 287.9h0M369.9 284.7h0M369.9 291.3h0M370 291.4h0M370.1 287.2h0M370.2 286.5h0M370.2 286.2h0M370.3 284.5h0M370.4 290.8h0M370.5 293h0M370.5 290.4h0M370.6 281.7h0M370.7 292h0M370.8 290.7h0M370.8 289.5h0M370.9 281.4h0M371 286.7h0M371.1 287h0M371.1 287.4h0M371.2 287.8h0M371.3 287h0M371.4 294.5h0M371.4 292.3h0M371.5 290.8h0M371.6 288.1h0M371.7 287.2h0M371.7 288.2h0M371.8 288.2h0M371.9 284.8h0M372 291.1h0M372 289h0M372.1 292.3h0M372.2 290.9h0M372.3 280.9h0M372.3 284.9h0M372.4 285.3h0M372.5 285.5h0M372.6 292.7h0M372.6 287.9h0M372.7 284.4h0M372.8 282h0M372.9 289.8h0M372.9 292.6h0M373 289.9h0M373.1 289.4h0M373.2 289.8h0M373.2 287.6h0M373.3 288.1h0M373.4 292.3h0M373.5 289h0M373.5 287.3h0M373.6 290.6h0M373.7 286.1h0M373.8 281.9h0M373.8 291.3h0M373.9 285.6h0M374 287.6h0M374.1 294.6h0M374.1 283.9h0M374.2 289h0M374.3 286.8h0M374.4 286.9h0M374.4 287.7h0M374.5 291.6h0M374.6 285.5h0M374.7 292.2h0M374.7 285.4h0M374.8 282.7h0M374.9 291h0M375 288.9h0M375 291.6h0M375.1 287.9h0M375.2 285.7h0M375.3 282.4h0M375.3 285.6h0M375.4 287.2h0M375.5 286.1h0M375.6 286h0M375.6 289h0M375.7 291.2h0M375.8 288h0M375.9 282h0M375.9 293.2h0M376 288.1h0M376.1 284.2h0M376.2 287.4h0M376.2 287.8h0M376.3 292.2h0M376.4 291.5h0M376.5 288.1h0M376.5 287.7h0M376.6 285.8h0M376.7 290.5h0M376.8 288.7h0M376.8 287h0M376.9 288.6h0M377 293.9h0M377.1 286.3h0M377.1 285.9h0M377.2 293.7h0M377.3 288.4h0M377.4 292.4h0M377.4 288h0M377.5 293.4h0M377.6 289.5h0M377.7 286.2h0M377.7 288.3h0M377.8 290.1h0M377.9 287.6h0M378 282.5h0M378 289.3h0M378.1 286.5h0M378.2 286.2h0M378.3 286.5h0M378.3 290.7h0M378.4 285.3h0M378.5 285.2h0M378.6 285.1h0M378.6 285.5h0M378.7 287.7h0M378.8 284.5h0M378.9 287.4h0M378.9 286h0M379 285.7h0M379.1 288.3h0M379.2 284.5h0M379.2 293h0M379.3 286h0M379.4 291.5h0M379.5 290.7h0M379.5 289.8h0M379.6 288.2h0M379.7 286.6h0M379.8 284h0M379.8 285.2h0M379.9 290.8h0M380 279.7h0M380.1 285.9h0M380.2 284.3h0M380.2 287.5h0M380.3 290h0M380.4 290.7h0M380.5 286.3h0M380.5 286.8h0M380.6 289.1h0M380.7 288.1h0M380.8 287.6h0M380.8 289.7h0M380.9 288.5h0M381 290.8h0M381.1 286.3h0M381.1 292.3h0M381.2 287.7h0M381.3 288h0M381.4 286.4h0M381.4 284.9h0M381.5 284.6h0M381.6 291.2h0M381.7 283.9h0M381.7 290.2h0M381.8 291.5h0M381.9 291.6h0M382 286.9h0M382 293.1h0M382.1 289.2h0M382.2 291h0M382.3 293h0M382.3 284.6h0M382.4 292.2h0M382.5 286.6h0M382.6 294.3h0M382.6 287.1h0M382.7 286.5h0M382.8 290.8h0M382.9 288.8h0M382.9 285.9h0M383 286.9h0M383.1 293.6h0M383.2 287.7h0M383.2 284.2h0M383.3 281.5h0M383.4 285.3h0M383.5 289.4h0M383.5 290.9h0M383.6 285.4h0M383.7 288.3h0M383.8 287.6h0M383.8 285.6h0M383.9 286.3h0M384 284.6h0M384.1 283.9h0M384.1 292.1h0M384.2 281.7h0M384.3 284.7h0M384.4 286.8h0M384.4 286.9h0M384.5 285.3h0M384.6 290.8h0M384.7 286.7h0M384.7 288.9h0M384.8 288.3h0M384.9 294h0M385 288.6h0M385 293.6h0M385.1 284.8h0M385.2 287.2h0M385.3 284.1h0M385.3 286.4h0M385.4 284h0M385.5 284h0M385.6 284.3h0M385.6 291.1h0M385.7 284.4h0M385.8 285.8h0M385.9 286.8h0M385.9 283h0M386 289.6h0M386.1 284h0M386.2 284.1h0M386.2 285.3h0M386.3 288.8h0M386.4 284.7h0M386.5 281.2h0M386.5 285.7h0M386.6 286.5h0M386.7 292.3h0M386.8 294.6h0M386.8 286h0M386.9 289.6h0M387 287.9h0M387.1 287.9h0M387.1 285.7h0M387.2 286.1h0M387.3 292.8h0M387.4 293.5h0M387.4 286.3h0M387.5 288.1h0M387.6 285.5h0M387.7 279.8h0M387.7 289.8h0M387.8 286.7h0M387.9 288.5h0M388 285.5h0M388 286.6h0M388.1 286.2h0M388.2 284.8h0M388.3 293.1h0M388.3 289.3h0M388.4 293.1h0M388.5 286.7h0M388.6 284.6h0M388.6 288.5h0M388.7 286h0M388.8 291.8h0M388.9 288.9h0M388.9 287.5h0M389 291h0M389.1 287.5h0M389.2 286.5h0M389.2 283.9h0M389.3 284.2h0M389.4 290.9h0M389.5 289.4h0M389.5 291.8h0M389.6 286.6h0M389.7 279.7h0M389.8 284.7h0M389.8 293.7h0M389.9 287.1h0M390 289.4h0M390.1 284h0M390.1 287.3h0M390.2 284.6h0M390.3 286.2h0M390.4 287.4h0M390.4 284.2h0M390.5 294.7h0M390.6 285.5h0M390.7 288.5h0M390.7 285.8h0M390.8 289.1h0M390.9 291.2h0M391 292.2h0M391 291.6h0M391.1 289.4h0M391.2 285.2h0M391.3 284h0M391.3 286.4h0M391.4 292.1h0M391.5 285.7h0M391.6 291.9h0M391.6 284.9h0M391.7 284.5h0M391.8 286.1h0M391.9 284.5h0M391.9 291.9h0M392 285.4h0M392.1 285.3h0M392.2 283.8h0M392.2 290.1h0M392.3 284.9h0M392.4 286.9h0M392.5 289.3h0M392.6 290.1h0M392.6 289.6h0M392.7 289h0M392.8 286.8h0M392.9 283.8h0M392.9 288.7h0M393 291.2h0M393.1 286h0M393.2 292.5h0M393.2 291.7h0M393.3 287.8h0M393.4 290.1h0M393.5 285.3h0M393.5 280.2h0M393.6 286.9h0M393.7 284.8h0M393.8 291.3h0M393.8 293h0M393.9 293.6h0M394 284.7h0M394.1 284.8h0M394.1 291.3h0M394.2 287.4h0M394.3 290.6h0M394.4 290.4h0M394.4 279.9h0M394.5 290.4h0M394.6 284.1h0M394.7 288.7h0M394.7 285.8h0M394.8 289.3h0M394.9 286.6h0M395 287.1h0M395 291.1h0M395.1 289h0M395.2 292.4h0M395.3 289h0M395.3 283.8h0M395.4 288.9h0M395.5 282.9h0M395.6 280.5h0M395.6 287.2h0M395.7 284.6h0M395.8 284h0M395.9 286.1h0M395.9 287.6h0M396 286.8h0M396.1 287.1h0M396.2 287.4h0M396.2 285.1h0M396.3 286.7h0M396.4 290.6h0M396.5 289.5h0M396.5 284.9h0M396.6 285.7h0M396.7 284.8h0M396.8 281.5h0M396.8 292h0M396.9 294.6h0M397 286.7h0M397.1 286.5h0M397.1 281.9h0M397.2 287.2h0M397.3 288.3h0M397.4 291.5h0M397.4 291.6h0M397.5 285.4h0M397.6 290.3h0M397.7 287h0M397.7 284.1h0M397.8 293.2h0M397.9 285.2h0M398 286.1h0M398 288.1h0M398.1 284.6h0M398.2 289.8h0M398.3 288.7h0M398.3 288.9h0M398.4 287.9h0M398.5 284.3h0M398.6 287.3h0M398.6 284.4h0M398.7 285.9h0M398.8 289.2h0M398.9 290.7h0M398.9 288.9h0M399 286h0M399.1 285.2h0M399.2 285.7h0M399.2 283h0M399.3 287.6h0M399.4 292.7h0M399.5 281.1h0M399.5 284.5h0M399.6 293.3h0M399.7 284.6h0M399.8 293.5h0M87.6 280.1h0M123.5 286.9h0M230.7 284.2h0M358.6 259.6h0M383.2 268.4h0M391.2 276.3h0M330.2 290.2h0" style="fill:none;stroke:#000000;stroke-width:4.00;stroke-linecap:round" /></g></g><g id="patch_3"><path d="M 57.6 307.584  L 57.6 41.472  " style="fill: none; stroke: #000000; stroke-width: 0.8; stroke-linejoin: miter; stroke-linecap: square" /></g><g id="patch_4"><path d="M 414.72 307.584  L 414.72 41.472  " style="fill: none; stroke: #000000; stroke-width: 0.8; stroke-linejoin: miter; stroke-linecap: square" /></g><g id="patch_5"><path d="M 57.6 307.584  L 414.72 307.584  " style="fill: none; stroke: #000000; stroke-width: 0.8; stroke-linejoin: miter; stroke-linecap: square" /></g><g id="patch_6"><path d="M 57.6 41.472  L 414.72 41.472  " style="fill: none; stroke: #000000; stroke-width: 0.8; stroke-linejoin: miter; stroke-linecap: square" /></g><g id="text_24"><text style="font-size: 12px; font-family: 'DejaVu Sans', sans-serif; text-anchor: middle" x="236.16" y="35.472" transform="rotate(-0 236.16 35.472)">number of rt messages</text></g><g id="legend_1"><g id="patch_7"><path d="M 301.584063 93.7845  L 407.72 93.7845  Q 409.72 93.7845 409.72 91.7845  L 409.72 48.472  Q 409.72 46.472 407.72 46.472  L 301.584063 46.472  Q 299.584063 46.472 299.584063 48.472  L 299.584063 91.7845  Q 299.584063 93.7845 301.584063 93.7845  z " style="fill: #ffffff; opacity: 0.8; stroke: #cccccc; stroke-linejoin: miter" /></g><g id="line2d_24"><g><path d="M313.6 51.6l-3 6h6z" style="fill: #ff0000; stroke: #ff0000; stroke-linejoin: miter" /></g></g><g id="text_25"><text style="font-size: 10px; font-family: 'DejaVu Sans', sans-serif; text-anchor: start" x="331.584063" y="58.070438" transform="rotate(-0 331.584063 58.070438)">track msgs</text></g><g id="line2d_25"><g><path d="M313.6 73.5l2.5-4.2-2.5-4.2-2.5 4.2z" style="fill: #008000; stroke: #008000; stroke-linejoin: miter" /></g></g><g id="text_26"><text style="font-size: 10px; font-family: 'DejaVu Sans', sans-serif; text-anchor: start" x="331.584063" y="72.748563" transform="rotate(-0 331.584063 72.748563)">free_text msgs</text></g><g id="line2d_26"><g><path d="M313.6 84.2h0" style="fill:none;stroke:#000000;stroke-width:4.00;stroke-linecap:round" /></g></g><g id="text_27"><text style="font-size: 10px; font-family: 'DejaVu Sans', sans-serif; text-anchor: start" x="331.584063" y="87.704813" transform="rotate(-0 331.584063 87.704813)">reroute msgs</text></g></g></g></g><defs><clipPath id="p02d3b5d28dr"><rect x="57.6" y="41.472" width="357.12" height="266.112" /></clipPath></defs></svg>
</svg>
</body></html>
